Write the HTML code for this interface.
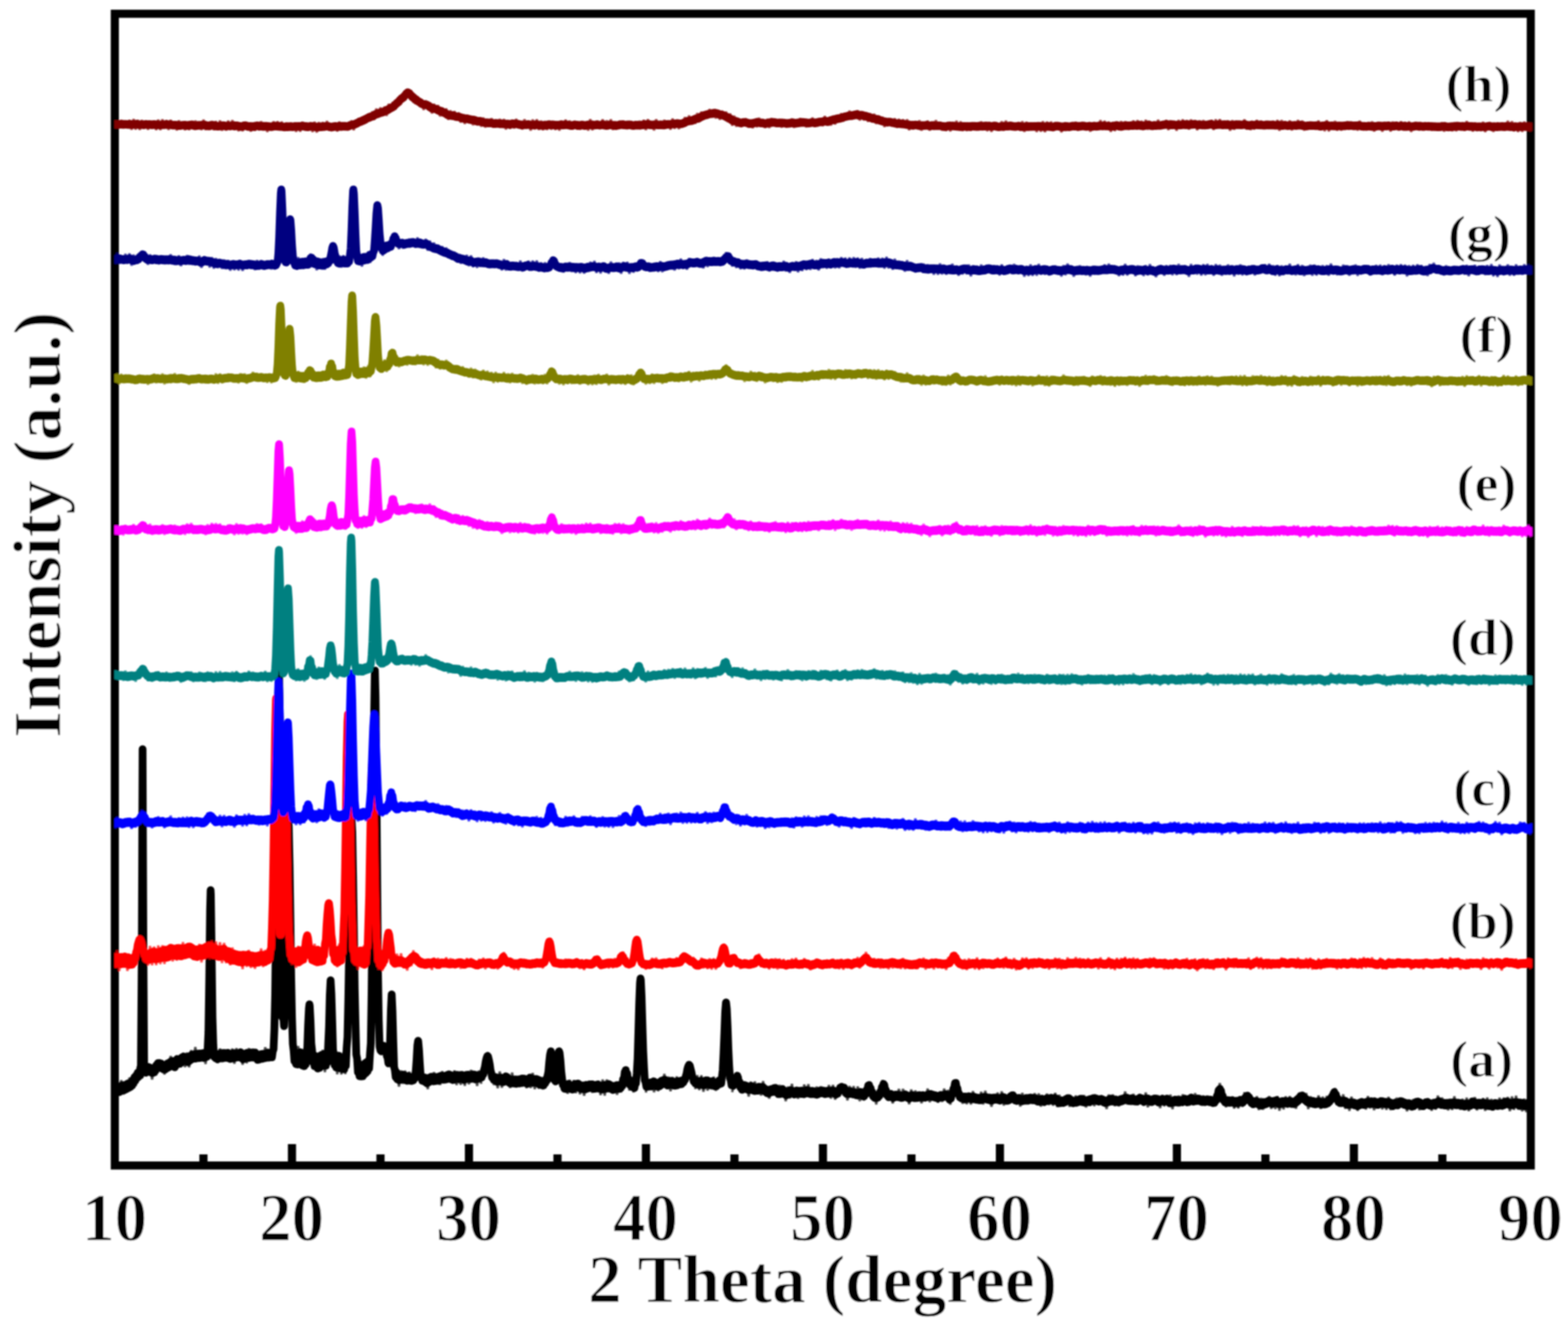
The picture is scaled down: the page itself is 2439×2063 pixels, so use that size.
<!DOCTYPE html>
<html lang="en"><head><meta charset="utf-8"><title>XRD patterns</title>
<style>html,body{margin:0;padding:0;background:#fff}svg{display:block}.fz{stroke-width:3.8;stroke-opacity:.7;stroke-linejoin:bevel}text{font-family:"Liberation Serif",serif;font-weight:bold;fill:#000;stroke:#fff;stroke-width:1.3px;paint-order:fill stroke}</style></head><body>
<svg width="2439" height="2063" viewBox="0 0 2439 2063">
<rect x="0" y="0" width="2439" height="2063" fill="#fff"/>
<filter id="soft" x="0" y="0" width="2439" height="2063" filterUnits="userSpaceOnUse"><feGaussianBlur stdDeviation="0.85"/></filter>
<g filter="url(#soft)">
<rect x="178.6" y="21.4" width="2202.5" height="1791.9" fill="none" stroke="#000" stroke-width="12.6"/>
<g fill="#000"><rect x="310.1" y="1796" width="12.7" height="14"/><rect x="447.8" y="1780" width="12.7" height="30"/><rect x="585.5" y="1796" width="12.7" height="14"/><rect x="723.1" y="1780" width="12.7" height="30"/><rect x="860.8" y="1796" width="12.7" height="14"/><rect x="998.4" y="1780" width="12.7" height="30"/><rect x="1136.1" y="1796" width="12.7" height="14"/><rect x="1273.7" y="1780" width="12.7" height="30"/><rect x="1411.4" y="1796" width="12.7" height="14"/><rect x="1549.0" y="1780" width="12.7" height="30"/><rect x="1686.7" y="1796" width="12.7" height="14"/><rect x="1824.3" y="1780" width="12.7" height="30"/><rect x="1962.0" y="1796" width="12.7" height="14"/><rect x="2099.6" y="1780" width="12.7" height="30"/><rect x="2237.2" y="1796" width="12.7" height="14"/></g>
<clipPath id="plot"><rect x="178.0" y="0" width="2205.5" height="2063"/></clipPath>
<g clip-path="url(#plot)" fill="none" stroke-width="12.0" stroke-linejoin="round" stroke-linecap="butt">
<path d="M179.0,1701.2 182.2,1686.9 185.4,1702.6 188.6,1680.5 191.8,1703.0 195.0,1684.0 198.2,1699.3 201.4,1676.6 204.6,1692.9 207.8,1671.8 211.0,1689.8 214.2,1659.3 217.4,1680.5M227.0,1659.5 230.2,1672.4 233.4,1658.0 236.6,1679.5 239.8,1659.0 243.0,1673.1 246.2,1648.4 249.4,1667.2 252.6,1652.2 255.8,1671.6 259.0,1652.1 262.2,1666.1 265.4,1642.9 268.6,1660.9 271.8,1647.1 275.0,1657.9 278.2,1643.3 281.4,1660.5 284.6,1641.2 287.8,1660.3 291.0,1637.6 294.2,1660.4 297.4,1633.8 300.6,1652.0 303.8,1629.0 307.0,1650.5 310.2,1635.5 313.4,1650.1 316.6,1633.7 319.8,1655.4 323.0,1622.2M332.6,1646.4 335.8,1632.5 339.0,1654.1 342.2,1631.3 345.4,1652.8 348.6,1634.0 351.8,1651.2 355.0,1634.2 358.2,1652.7 361.4,1631.4 364.6,1655.0 367.8,1630.8 371.0,1649.6 374.2,1634.5 377.4,1656.6 380.6,1633.6 383.8,1654.2 387.0,1630.7 390.2,1649.5 393.4,1631.3 396.6,1647.7 399.8,1638.1 403.0,1651.6 406.2,1634.4 409.4,1650.6 412.6,1629.3 415.8,1648.6 419.0,1634.7 422.2,1648.8 425.4,1620.2M457.4,1634.7 460.6,1659.1 463.8,1627.4 467.0,1661.6 470.2,1635.3 473.4,1661.0M489.4,1638.4 492.6,1664.0 495.8,1638.0 499.0,1666.0 502.2,1633.3 505.4,1668.2 508.6,1632.2M521.4,1637.2 524.6,1671.2 527.8,1637.7 531.0,1671.5 534.2,1637.0 537.4,1671.2M556.6,1675.6 559.8,1649.7 563.0,1679.9 566.2,1651.0 569.4,1672.7 572.6,1643.3 575.8,1654.3M614.2,1682.3 617.4,1663.9 620.6,1690.5 623.8,1665.4 627.0,1686.3 630.2,1665.7 633.4,1686.1 636.6,1667.2 639.8,1686.9 643.0,1665.4M655.8,1665.8 659.0,1686.7 662.2,1675.6 665.4,1694.5 668.6,1674.0 671.8,1686.3 675.0,1668.0 678.2,1684.8 681.4,1672.7 684.6,1687.9 687.8,1666.5 691.0,1682.8 694.2,1670.5 697.4,1682.3 700.6,1669.8 703.8,1685.4 707.0,1665.4 710.2,1688.1 713.4,1667.7 716.6,1687.6 719.8,1670.1 723.0,1689.1 726.2,1669.9 729.4,1686.9 732.6,1664.5 735.8,1681.7 739.0,1668.8 742.2,1689.5 745.4,1665.4 748.6,1686.2M767.8,1688.4 771.0,1670.8 774.2,1693.0 777.4,1667.0 780.6,1692.3 783.8,1673.3 787.0,1688.2 790.2,1670.4 793.4,1692.8 796.6,1668.7 799.8,1691.0 803.0,1675.2 806.2,1690.3 809.4,1677.2 812.6,1690.7 815.8,1675.9 819.0,1692.9 822.2,1674.0 825.4,1692.8 828.6,1669.3 831.8,1694.4 835.0,1676.4 838.2,1693.9 841.4,1675.2 844.6,1695.0 847.8,1671.7M876.6,1699.4 879.8,1681.6 883.0,1701.6 886.2,1680.0 889.4,1698.2 892.6,1680.3 895.8,1700.6 899.0,1682.5 902.2,1702.4 905.4,1684.3 908.6,1704.7 911.8,1684.9 915.0,1695.8 918.2,1682.8 921.4,1700.1 924.6,1684.9 927.8,1698.1 931.0,1681.3 934.2,1703.8 937.4,1679.6 940.6,1704.6 943.8,1679.6 947.0,1699.2 950.2,1682.9 953.4,1700.8 956.6,1685.9 959.8,1703.2 963.0,1684.0 966.2,1699.6 969.4,1673.5 972.6,1680.4 975.8,1664.8 979.0,1696.6 982.2,1675.3 985.4,1699.6 988.6,1675.1M1004.6,1699.9 1007.8,1679.4 1011.0,1692.8 1014.2,1678.6 1017.4,1699.3 1020.6,1678.5 1023.8,1697.6 1027.0,1679.2 1030.2,1690.7 1033.4,1670.8 1036.6,1690.1 1039.8,1675.1 1043.0,1697.8 1046.2,1675.7 1049.4,1693.2 1052.6,1674.9 1055.8,1689.8 1059.0,1678.7 1062.2,1692.2M1081.4,1694.5 1084.6,1672.7 1087.8,1695.9 1091.0,1672.9 1094.2,1698.5 1097.4,1678.7 1100.6,1696.7 1103.8,1679.9 1107.0,1694.9 1110.2,1675.1 1113.4,1697.1 1116.6,1675.8 1119.8,1689.8M1139.0,1699.2 1142.2,1677.2 1145.4,1683.0 1148.6,1672.9 1151.8,1698.9 1155.0,1685.4 1158.2,1697.8 1161.4,1684.1 1164.6,1706.1 1167.8,1682.8 1171.0,1700.4 1174.2,1682.5 1177.4,1701.9 1180.6,1685.0 1183.8,1704.4 1187.0,1682.1 1190.2,1702.8 1193.4,1692.5 1196.6,1709.2 1199.8,1691.3 1203.0,1704.3 1206.2,1686.9 1209.4,1707.2 1212.6,1687.9 1215.8,1707.3 1219.0,1692.5 1222.2,1713.3 1225.4,1690.5 1228.6,1708.9 1231.8,1686.2 1235.0,1708.3 1238.2,1692.9 1241.4,1709.4 1244.6,1692.8 1247.8,1707.4 1251.0,1687.3 1254.2,1704.2 1257.4,1686.8 1260.6,1706.4 1263.8,1691.6 1267.0,1705.5 1270.2,1690.6 1273.4,1707.8 1276.6,1690.1 1279.8,1706.5 1283.0,1693.7 1286.2,1707.3 1289.4,1688.0 1292.6,1709.1 1295.8,1687.9 1299.0,1710.8 1302.2,1694.9 1305.4,1705.2 1308.6,1688.5 1311.8,1704.3 1315.0,1690.9 1318.2,1712.0 1321.4,1689.5 1324.6,1705.6 1327.8,1689.8 1331.0,1709.7 1334.2,1690.2 1337.4,1713.2 1340.6,1693.5 1343.8,1712.1 1347.0,1690.4 1350.2,1700.3 1353.4,1683.6 1356.6,1711.1 1359.8,1696.0 1363.0,1718.2 1366.2,1695.6 1369.4,1704.9 1372.6,1680.3 1375.8,1698.2 1379.0,1689.8 1382.2,1712.8 1385.4,1696.5 1388.6,1716.7 1391.8,1698.0 1395.0,1710.6 1398.2,1694.2 1401.4,1712.6 1404.6,1694.0 1407.8,1710.0 1411.0,1701.3 1414.2,1717.9 1417.4,1695.0 1420.6,1712.5 1423.8,1696.6 1427.0,1711.3 1430.2,1698.2 1433.4,1716.5 1436.6,1700.1 1439.8,1711.2 1443.0,1693.7 1446.2,1714.8 1449.4,1697.8 1452.6,1710.6 1455.8,1699.6 1459.0,1715.7 1462.2,1699.0 1465.4,1714.3 1468.6,1693.7 1471.8,1711.5 1475.0,1695.7 1478.2,1718.6 1481.4,1692.9 1484.6,1696.1 1487.8,1679.6 1491.0,1711.9 1494.2,1700.9 1497.4,1717.2 1500.6,1700.7 1503.8,1717.9 1507.0,1702.3 1510.2,1718.1 1513.4,1697.6 1516.6,1714.7 1519.8,1704.4 1523.0,1716.9 1526.2,1698.5 1529.4,1718.2 1532.6,1697.1 1535.8,1714.9 1539.0,1702.4 1542.2,1721.8 1545.4,1704.1 1548.6,1716.1 1551.8,1699.8 1555.0,1716.7 1558.2,1697.9 1561.4,1719.9 1564.6,1705.7 1567.8,1716.7 1571.0,1700.5 1574.2,1715.6 1577.4,1701.3 1580.6,1717.8 1583.8,1704.4 1587.0,1721.4 1590.2,1700.4 1593.4,1716.3 1596.6,1702.7 1599.8,1716.0 1603.0,1702.8 1606.2,1717.1 1609.4,1700.8 1612.6,1716.2 1615.8,1701.2 1619.0,1721.5 1622.2,1707.3 1625.4,1716.7 1628.6,1701.5 1631.8,1719.1 1635.0,1702.2 1638.2,1720.2 1641.4,1700.3 1644.6,1722.3 1647.8,1703.3 1651.0,1721.3 1654.2,1706.5 1657.4,1718.2 1660.6,1706.0 1663.8,1721.8 1667.0,1707.1 1670.2,1721.4 1673.4,1704.3 1676.6,1719.4 1679.8,1705.1 1683.0,1720.3 1686.2,1703.8 1689.4,1722.9 1692.6,1705.5 1695.8,1720.7 1699.0,1706.4 1702.2,1720.8 1705.4,1704.3 1708.6,1716.6 1711.8,1704.6 1715.0,1717.7 1718.2,1708.1 1721.4,1725.3 1724.6,1702.9 1727.8,1719.1 1731.0,1702.8 1734.2,1720.9 1737.4,1706.5 1740.6,1721.1 1743.8,1705.2 1747.0,1715.5 1750.2,1698.2 1753.4,1718.3 1756.6,1705.2 1759.8,1719.0 1763.0,1701.9 1766.2,1718.1 1769.4,1704.4 1772.6,1714.9 1775.8,1704.0 1779.0,1720.1 1782.2,1699.7 1785.4,1722.7 1788.6,1705.6 1791.8,1719.2 1795.0,1706.4 1798.2,1715.1 1801.4,1704.0 1804.6,1723.9 1807.8,1703.6 1811.0,1721.2 1814.2,1703.8 1817.4,1718.2 1820.6,1703.1 1823.8,1725.6 1827.0,1705.9 1830.2,1719.3 1833.4,1704.6 1836.6,1719.3 1839.8,1702.6 1843.0,1717.2 1846.2,1706.3 1849.4,1718.2 1852.6,1704.2 1855.8,1719.7 1859.0,1700.8 1862.2,1717.9 1865.4,1706.4 1868.6,1717.4 1871.8,1704.3 1875.0,1718.9 1878.2,1706.5 1881.4,1718.0 1884.6,1707.2 1887.8,1719.6 1891.0,1700.2 1894.2,1707.2 1897.4,1685.0 1900.6,1712.7 1903.8,1705.6 1907.0,1722.6 1910.2,1706.8 1913.4,1720.9 1916.6,1706.3 1919.8,1724.6 1923.0,1708.9 1926.2,1724.3 1929.4,1707.4 1932.6,1722.0 1935.8,1699.3 1939.0,1715.3 1942.2,1703.2 1945.4,1719.3 1948.6,1707.2 1951.8,1720.6 1955.0,1705.6 1958.2,1726.9 1961.4,1708.0 1964.6,1726.4 1967.8,1711.9 1971.0,1722.4 1974.2,1705.4 1977.4,1725.2 1980.6,1709.2 1983.8,1725.4 1987.0,1705.2 1990.2,1727.9 1993.4,1707.6 1996.6,1725.9 1999.8,1705.7 2003.0,1723.2 2006.2,1705.4 2009.4,1721.7 2012.6,1708.4 2015.8,1724.9 2019.0,1705.6 2022.2,1716.2 2025.4,1700.8 2028.6,1716.2 2031.8,1700.6 2035.0,1725.5 2038.2,1705.7 2041.4,1720.4 2044.6,1708.0 2047.8,1720.6 2051.0,1704.3 2054.2,1725.3 2057.4,1706.2 2060.6,1723.1 2063.8,1705.2 2067.0,1718.3 2070.2,1705.4 2073.4,1713.6 2076.6,1692.8 2079.8,1719.4 2083.0,1704.5 2086.2,1720.7 2089.4,1702.7 2092.6,1725.1 2095.8,1709.6 2099.0,1728.1 2102.2,1706.4 2105.4,1721.9 2108.6,1712.3 2111.8,1728.1 2115.0,1710.6 2118.2,1724.4 2121.4,1709.9 2124.6,1726.2 2127.8,1705.3 2131.0,1724.5 2134.2,1708.2 2137.4,1727.1 2140.6,1710.7 2143.8,1722.7 2147.0,1710.3 2150.2,1725.9 2153.4,1710.7 2156.6,1726.7 2159.8,1706.6 2163.0,1727.0 2166.2,1711.8 2169.4,1724.4 2172.6,1707.8 2175.8,1723.0 2179.0,1707.6 2182.2,1722.5 2185.4,1710.5 2188.6,1728.9 2191.8,1710.6 2195.0,1727.4 2198.2,1710.1 2201.4,1722.1 2204.6,1709.2 2207.8,1727.2 2211.0,1711.0 2214.2,1725.0 2217.4,1712.3 2220.6,1724.1 2223.8,1712.9 2227.0,1728.0 2230.2,1709.9 2233.4,1726.3 2236.6,1704.5 2239.8,1721.9 2243.0,1707.6 2246.2,1725.3 2249.4,1713.4 2252.6,1727.3 2255.8,1710.5 2259.0,1726.8 2262.2,1705.7 2265.4,1722.1 2268.6,1712.8 2271.8,1726.6 2275.0,1709.7 2278.2,1727.3 2281.4,1707.8 2284.6,1728.7 2287.8,1708.7 2291.0,1722.8 2294.2,1707.0 2297.4,1727.4 2300.6,1712.1 2303.8,1723.4 2307.0,1708.3 2310.2,1728.1 2313.4,1707.6 2316.6,1725.0 2319.8,1709.9 2323.0,1727.1 2326.2,1711.1 2329.4,1726.0 2332.6,1707.8 2335.8,1726.0 2339.0,1707.8 2342.2,1720.1 2345.4,1706.8 2348.6,1728.8 2351.8,1705.9 2355.0,1726.7 2358.2,1704.8 2361.4,1726.1 2364.6,1709.4 2367.8,1728.9 2371.0,1709.3 2374.2,1730.3 2377.4,1708.2 2380.6,1728.0" stroke="#000000" class="fz"/>
<polyline points="178.0,1695.0 179.2,1691.1 180.5,1698.7 181.8,1691.3 183.0,1698.9 184.2,1692.3 185.5,1699.2 186.8,1691.5 188.0,1697.5 189.2,1688.8 190.5,1695.8 191.8,1688.3 193.0,1696.2 194.2,1689.1 195.5,1695.2 196.8,1686.8 198.0,1693.6 199.2,1685.6 200.5,1692.4 201.8,1685.1 203.0,1691.1 204.2,1684.0 205.5,1688.9 206.8,1679.9 208.0,1684.8 209.2,1675.7 210.5,1681.2 211.8,1672.9 213.0,1677.3 214.2,1668.8 215.5,1675.3 216.8,1666.6 218.0,1673.2 219.2,1656.4 220.5,1492.6 221.8,1166.4 221.8,1165.6 223.0,1459.6 224.2,1656.9 225.5,1662.6 226.8,1669.0 228.0,1661.3 229.2,1667.9 230.5,1660.0 231.8,1667.2 233.0,1660.9 234.2,1668.4 235.5,1662.6 236.8,1669.5 238.0,1662.7 239.2,1668.9 240.5,1661.0 241.8,1666.0 243.0,1657.2 244.2,1662.1 245.5,1654.1 246.8,1660.3 248.0,1653.8 249.2,1661.0 250.5,1654.6 251.8,1662.3 253.0,1656.5 254.2,1663.8 255.5,1657.5 256.8,1664.1 258.0,1656.5 259.2,1662.3 260.5,1654.4 261.8,1661.0 263.0,1653.3 264.2,1659.8 265.5,1651.6 266.8,1658.1 268.0,1650.6 269.2,1658.6 270.5,1652.9 271.8,1660.5 273.0,1652.9 274.2,1657.2 275.5,1647.6 276.8,1654.1 278.0,1647.8 279.2,1655.1 280.5,1648.0 281.8,1653.7 283.0,1645.0 284.2,1651.3 285.5,1643.6 286.8,1650.8 288.0,1644.5 289.2,1651.2 290.5,1645.3 291.8,1652.6 293.0,1644.0 294.2,1650.9 295.5,1643.2 296.8,1649.2 298.0,1641.1 299.2,1647.6 300.5,1640.4 301.8,1646.7 303.0,1640.0 304.2,1647.0 305.5,1639.6 306.8,1646.3 308.0,1639.2 309.2,1646.2 310.5,1639.1 311.8,1645.9 313.0,1639.1 314.2,1645.4 315.5,1638.5 316.8,1646.0 318.0,1638.0 319.2,1645.3 320.5,1638.4 321.8,1644.1 323.0,1631.7 324.2,1606.1 325.5,1520.5 326.8,1415.0 327.6,1384.8 328.0,1391.8 329.2,1480.2 330.5,1582.4 331.8,1626.2 333.0,1644.3 334.2,1639.8 335.5,1646.6 336.8,1639.9 338.0,1647.9 339.2,1640.0 340.5,1647.2 341.8,1639.0 343.0,1645.6 344.2,1638.4 345.5,1645.7 346.8,1638.2 348.0,1646.2 349.2,1638.3 350.5,1645.6 351.8,1639.1 353.0,1645.9 354.2,1637.9 355.5,1645.5 356.8,1640.0 358.0,1647.6 359.2,1640.8 360.5,1646.5 361.8,1638.8 363.0,1646.7 364.2,1638.5 365.5,1645.7 366.8,1638.6 368.0,1645.4 369.2,1638.4 370.5,1645.1 371.8,1638.3 373.0,1644.3 374.2,1637.1 375.5,1646.2 376.8,1639.5 378.0,1648.1 379.2,1640.6 380.5,1647.3 381.8,1639.5 383.0,1646.2 384.2,1638.1 385.5,1646.1 386.8,1638.2 388.0,1645.9 389.2,1637.5 390.5,1645.1 391.8,1638.2 393.0,1645.5 394.2,1638.8 395.5,1644.7 396.8,1637.5 398.0,1645.5 399.2,1640.7 400.5,1649.1 401.8,1643.0 403.0,1648.6 404.2,1640.4 405.5,1647.2 406.8,1639.9 408.0,1647.4 409.2,1639.6 410.5,1646.5 411.8,1639.5 413.0,1646.2 414.2,1638.7 415.5,1645.4 416.8,1637.6 418.0,1645.6 419.2,1638.7 420.5,1645.1 421.8,1638.6 423.0,1645.1 424.2,1636.0 425.5,1632.2 426.8,1601.1 428.0,1548.0 429.2,1446.7 430.5,1312.1 431.8,1166.7 433.0,1066.2 433.8,1046.0 434.2,1052.6 435.5,1132.3 436.8,1270.8 438.0,1411.6 439.2,1522.2 440.5,1578.6 441.8,1596.6 443.0,1565.7 444.2,1505.4 445.5,1416.9 446.8,1332.3 448.0,1280.9 448.5,1276.0 449.2,1287.1 450.5,1348.4 451.8,1436.4 453.0,1523.9 454.2,1582.8 455.5,1624.1 456.8,1634.7 458.0,1651.0 459.2,1642.7 460.5,1655.7 461.8,1639.5 463.0,1656.2 464.2,1638.7 465.5,1655.3 466.8,1637.0 468.0,1655.0 469.2,1639.8 470.5,1657.9 471.8,1640.0 473.0,1658.8 474.2,1640.9 475.5,1655.8 476.8,1636.5 478.0,1630.5 479.2,1596.2 480.5,1569.3 481.3,1562.5 481.8,1564.8 483.0,1588.0 484.2,1623.3 485.5,1634.7 486.8,1652.7 488.0,1641.4 489.2,1658.9 490.5,1644.0 491.8,1659.8 493.0,1643.8 494.2,1662.5 495.5,1644.7 496.8,1661.5 498.0,1642.6 499.2,1658.3 500.5,1641.1 501.8,1658.2 503.0,1640.3 504.2,1658.5 505.5,1641.6 506.8,1658.1 508.0,1642.6 509.2,1652.8 510.5,1626.0 511.8,1597.1 513.0,1548.2 514.2,1525.0 514.3,1525.0 515.5,1546.3 516.8,1589.6 518.0,1633.0 519.2,1640.2 520.5,1657.3 521.8,1643.7 523.0,1661.0 524.2,1642.3 525.5,1661.1 526.8,1642.5 528.0,1662.1 529.2,1644.7 530.5,1660.2 531.8,1645.9 533.0,1663.5 534.2,1648.0 535.5,1663.4 536.8,1647.2 538.0,1658.0 539.2,1630.6 540.5,1613.2 541.8,1554.6 543.0,1484.5 544.2,1392.0 545.5,1315.5 546.8,1277.0 547.0,1276.0 548.0,1294.7 549.2,1362.2 550.5,1449.3 551.8,1538.2 553.0,1592.3 554.2,1640.6 555.5,1647.2 556.8,1668.6 558.0,1656.5 559.2,1674.4 560.5,1656.6 561.8,1674.7 563.0,1656.8 564.2,1674.5 565.5,1656.0 566.8,1671.4 568.0,1653.9 569.2,1669.2 570.5,1652.3 571.8,1666.6 573.0,1650.2 574.2,1662.1 575.5,1639.8 576.8,1623.0 578.0,1546.2 579.2,1435.0 580.5,1271.0 581.8,1121.1 583.0,1044.8 583.2,1043.2 584.2,1084.4 585.5,1219.2 586.8,1378.3 588.0,1515.6 589.2,1587.7 590.5,1628.4 591.8,1634.1 593.0,1635.7 594.2,1630.6 595.5,1628.3 596.8,1627.0 597.0,1627.0 598.0,1628.0 599.2,1631.5 600.5,1635.1 601.8,1643.2 603.0,1646.0 604.2,1654.5 605.5,1643.4 606.8,1620.9 608.0,1572.1 609.2,1547.0 609.3,1547.0 610.5,1573.3 611.8,1621.1 613.0,1659.9 614.2,1664.6 615.5,1676.0 616.8,1668.5 618.0,1679.2 619.2,1672.7 620.5,1680.7 621.8,1674.3 623.0,1680.2 624.2,1672.9 625.5,1679.4 626.8,1672.0 628.0,1679.0 629.2,1672.9 630.5,1680.4 631.8,1674.7 633.0,1681.6 634.2,1674.2 635.5,1681.3 636.8,1675.0 638.0,1681.4 639.2,1676.0 640.5,1681.7 641.8,1675.6 643.0,1680.9 644.2,1675.1 645.5,1677.8 646.8,1665.4 648.0,1649.0 649.2,1626.7 650.3,1619.3 650.5,1619.6 651.8,1633.6 653.0,1654.1 654.2,1671.9 655.5,1673.9 656.8,1681.5 658.0,1676.0 659.2,1682.4 660.5,1676.3 661.8,1683.8 663.0,1678.5 664.2,1685.5 665.5,1678.6 666.8,1684.0 668.0,1676.4 669.2,1681.8 670.5,1675.2 671.8,1681.6 673.0,1675.4 674.2,1682.4 675.5,1675.5 676.8,1682.1 678.0,1675.6 679.2,1681.6 680.5,1675.8 681.8,1681.4 683.0,1674.8 684.2,1680.3 685.5,1673.7 686.8,1679.3 688.0,1673.4 689.2,1679.9 690.5,1673.9 691.8,1679.8 693.0,1674.0 694.2,1679.3 695.5,1672.4 696.8,1678.3 698.0,1671.4 699.2,1678.6 700.5,1672.4 701.8,1679.4 703.0,1673.8 704.2,1680.4 705.5,1674.0 706.8,1679.8 708.0,1672.3 709.2,1678.1 710.5,1672.2 711.8,1678.6 713.0,1673.3 714.2,1679.2 715.5,1672.6 716.8,1678.5 718.0,1672.2 719.2,1678.5 720.5,1673.2 721.8,1680.2 723.0,1673.5 724.2,1679.2 725.5,1672.3 726.8,1678.4 728.0,1671.9 729.2,1678.1 730.5,1672.4 731.8,1678.7 733.0,1672.6 734.2,1678.4 735.5,1671.6 736.8,1677.8 738.0,1671.8 739.2,1679.4 740.5,1672.6 741.8,1678.8 743.0,1672.6 744.2,1678.4 745.5,1672.5 746.8,1677.5 748.0,1672.4 749.2,1676.4 750.5,1670.7 751.8,1671.5 753.0,1664.3 754.2,1660.1 755.5,1651.9 756.8,1646.3 758.0,1643.0 758.4,1642.8 759.2,1643.9 760.5,1649.1 761.8,1655.9 763.0,1665.1 764.2,1669.3 765.5,1676.7 766.8,1675.2 768.0,1680.2 769.2,1675.4 770.5,1681.0 771.8,1676.1 773.0,1683.2 774.2,1677.1 775.5,1682.7 776.8,1676.4 778.0,1681.5 779.2,1676.4 780.5,1683.4 781.8,1677.8 783.0,1683.6 784.2,1676.4 785.5,1681.1 786.8,1674.6 788.0,1681.7 789.2,1676.0 790.5,1683.4 791.8,1678.9 793.0,1685.3 794.2,1679.3 795.5,1685.7 796.8,1679.2 798.0,1685.6 799.2,1679.9 800.5,1685.7 801.8,1679.3 803.0,1686.3 804.2,1679.7 805.5,1685.3 806.8,1679.2 808.0,1685.7 809.2,1679.4 810.5,1684.8 811.8,1677.9 813.0,1683.2 814.2,1678.0 815.5,1684.3 816.8,1678.5 818.0,1685.4 819.2,1680.0 820.5,1686.2 821.8,1678.8 823.0,1682.9 824.2,1676.4 825.5,1682.3 826.8,1677.5 828.0,1684.8 829.2,1678.7 830.5,1684.6 831.8,1678.7 833.0,1684.8 834.2,1678.7 835.5,1684.5 836.8,1679.5 838.0,1687.0 839.2,1681.4 840.5,1687.6 841.8,1682.1 843.0,1688.5 844.2,1682.9 845.5,1688.6 846.8,1681.3 848.0,1685.5 849.2,1678.9 850.5,1681.7 851.8,1673.8 853.0,1667.8 854.2,1653.4 855.5,1641.3 856.8,1635.6 856.8,1635.6 858.0,1640.9 859.2,1654.7 860.5,1667.3 861.8,1679.9 863.0,1680.5 864.2,1682.6 865.5,1672.2 866.8,1661.0 868.0,1645.3 869.2,1636.3 869.7,1635.6 870.5,1638.3 871.8,1650.1 873.0,1666.9 874.2,1677.3 875.5,1688.0 876.8,1687.8 878.0,1693.7 879.2,1689.0 880.5,1694.3 881.8,1688.2 883.0,1693.3 884.2,1686.2 885.5,1692.8 886.8,1688.2 888.0,1694.6 889.2,1689.3 890.5,1695.2 891.8,1688.0 893.0,1692.7 894.2,1686.8 895.5,1692.5 896.8,1686.3 898.0,1691.4 899.2,1685.8 900.5,1692.2 901.8,1687.5 903.0,1694.1 904.2,1688.6 905.5,1694.4 906.8,1688.8 908.0,1694.7 909.2,1688.4 910.5,1694.8 911.8,1687.8 913.0,1693.9 914.2,1687.8 915.5,1693.1 916.8,1687.0 918.0,1692.8 919.2,1687.0 920.5,1692.6 921.8,1687.0 923.0,1693.9 924.2,1688.0 925.5,1693.9 926.8,1688.2 928.0,1693.6 929.2,1687.2 930.5,1693.5 931.8,1688.3 933.0,1694.0 934.2,1688.7 935.5,1695.0 936.8,1688.7 938.0,1694.9 939.2,1688.0 940.5,1694.4 941.8,1687.8 943.0,1693.8 944.2,1687.7 945.5,1692.6 946.8,1686.5 948.0,1692.5 949.2,1687.7 950.5,1694.3 951.8,1689.6 953.0,1695.8 954.2,1689.4 955.5,1695.2 956.8,1689.2 958.0,1694.2 959.2,1688.2 960.5,1694.0 961.8,1688.2 963.0,1694.2 964.2,1687.7 965.5,1692.9 966.8,1686.4 968.0,1689.5 969.2,1678.9 970.5,1679.0 971.8,1667.7 973.0,1670.8 973.3,1664.8 974.2,1672.4 975.5,1669.6 976.8,1680.7 978.0,1678.6 979.2,1687.4 980.5,1683.4 981.8,1689.8 983.0,1684.5 984.2,1691.5 985.5,1687.2 986.8,1692.8 988.0,1686.5 989.2,1685.7 990.5,1669.7 991.8,1646.8 993.0,1605.7 994.2,1562.1 995.5,1529.0 996.3,1522.3 996.8,1524.4 998.0,1550.2 999.2,1592.0 1000.5,1634.8 1001.8,1661.5 1003.0,1681.0 1004.2,1683.5 1005.5,1691.1 1006.8,1686.3 1008.0,1690.8 1009.2,1684.7 1010.5,1690.5 1011.8,1684.1 1013.0,1690.4 1014.2,1683.8 1015.5,1689.0 1016.8,1682.3 1018.0,1688.9 1019.2,1684.2 1020.5,1690.2 1021.8,1684.9 1023.0,1690.3 1024.2,1684.4 1025.5,1690.1 1026.8,1683.0 1028.0,1688.6 1029.2,1681.2 1030.5,1686.5 1031.8,1680.2 1033.0,1685.6 1034.2,1679.8 1035.5,1686.9 1036.8,1682.3 1038.0,1688.9 1039.2,1682.9 1040.5,1688.6 1041.8,1682.1 1043.0,1687.5 1044.2,1681.6 1045.5,1687.8 1046.8,1682.3 1048.0,1689.1 1049.2,1682.9 1050.5,1689.2 1051.8,1683.4 1053.0,1688.7 1054.2,1682.0 1055.5,1687.0 1056.8,1681.9 1058.0,1687.1 1059.2,1681.3 1060.5,1686.4 1061.8,1681.0 1063.0,1684.3 1064.2,1679.0 1065.5,1680.1 1066.8,1674.2 1068.0,1670.3 1069.2,1663.4 1070.5,1658.9 1071.8,1656.6 1071.9,1656.6 1073.0,1657.9 1074.2,1662.7 1075.5,1667.9 1076.8,1674.9 1078.0,1677.2 1079.2,1683.0 1080.5,1680.8 1081.8,1685.9 1083.0,1681.1 1084.2,1687.3 1085.5,1681.9 1086.8,1688.0 1088.0,1682.5 1089.2,1687.7 1090.5,1681.3 1091.8,1687.1 1093.0,1682.1 1094.2,1688.8 1095.5,1683.4 1096.8,1688.0 1098.0,1680.7 1099.2,1685.7 1100.5,1680.7 1101.8,1687.5 1103.0,1682.6 1104.2,1688.4 1105.5,1682.4 1106.8,1687.5 1108.0,1681.9 1109.2,1688.7 1110.5,1683.3 1111.8,1690.1 1113.0,1684.1 1114.2,1690.0 1115.5,1683.4 1116.8,1688.0 1118.0,1681.5 1119.2,1686.8 1120.5,1681.9 1121.8,1685.7 1123.0,1675.6 1124.2,1664.9 1125.5,1637.7 1126.8,1606.1 1128.0,1574.3 1129.2,1559.8 1129.4,1559.6 1130.5,1569.4 1131.8,1597.6 1133.0,1632.7 1134.2,1657.9 1135.5,1677.3 1136.8,1681.2 1138.0,1688.7 1139.2,1684.1 1140.5,1689.4 1141.8,1683.0 1143.0,1686.0 1144.2,1676.9 1145.5,1679.8 1146.8,1673.6 1147.0,1680.1 1148.0,1676.3 1149.2,1685.5 1150.5,1683.4 1151.8,1692.4 1153.0,1689.0 1154.2,1695.6 1155.5,1688.9 1156.8,1694.3 1158.0,1688.1 1159.2,1693.4 1160.5,1689.1 1161.8,1694.9 1163.0,1690.1 1164.2,1696.1 1165.5,1690.8 1166.8,1695.7 1168.0,1689.5 1169.2,1695.8 1170.5,1690.0 1171.8,1696.9 1173.0,1691.9 1174.2,1697.5 1175.5,1692.1 1176.8,1697.1 1178.0,1691.7 1179.0,1697.0 1179.2,1691.1 1180.5,1696.3 1181.8,1691.1 1183.0,1696.3 1184.2,1690.9 1185.5,1696.3 1186.8,1691.0 1188.0,1697.2 1189.2,1693.3 1190.5,1698.9 1191.8,1694.8 1193.0,1700.7 1194.2,1695.8 1195.5,1701.4 1196.8,1695.4 1198.0,1699.7 1199.2,1694.4 1200.5,1699.2 1201.8,1693.8 1203.0,1698.6 1204.2,1692.8 1205.5,1697.4 1206.8,1692.7 1208.0,1699.5 1209.2,1695.6 1210.5,1702.2 1211.8,1697.6 1213.0,1702.3 1214.2,1695.4 1215.5,1700.0 1216.8,1694.2 1218.0,1699.8 1219.2,1696.1 1220.5,1702.4 1221.8,1698.5 1223.0,1704.2 1224.2,1698.7 1225.5,1702.9 1226.8,1697.3 1228.0,1702.3 1229.2,1696.1 1230.5,1701.1 1231.8,1696.5 1233.0,1701.5 1234.2,1697.8 1235.5,1702.7 1236.8,1697.6 1238.0,1702.3 1239.2,1696.6 1240.5,1701.3 1241.8,1697.1 1243.0,1701.7 1244.2,1697.2 1245.5,1701.9 1246.8,1696.8 1248.0,1701.9 1249.2,1697.3 1250.5,1702.4 1251.8,1697.1 1253.0,1701.4 1254.2,1695.9 1255.5,1700.6 1256.8,1696.2 1258.0,1701.4 1259.2,1697.0 1260.5,1702.2 1261.8,1697.3 1263.0,1702.3 1264.2,1697.6 1265.5,1702.1 1266.8,1697.7 1268.0,1702.6 1269.2,1698.5 1270.5,1703.3 1271.8,1698.4 1273.0,1702.2 1274.2,1696.9 1275.5,1700.9 1276.8,1696.7 1278.0,1701.1 1279.2,1696.6 1280.5,1701.1 1281.8,1697.0 1283.0,1702.3 1284.2,1697.8 1285.5,1701.5 1286.8,1696.9 1288.0,1701.0 1289.2,1696.7 1290.5,1701.7 1291.8,1697.1 1293.0,1700.5 1294.2,1696.2 1295.5,1700.6 1296.8,1696.8 1298.0,1701.9 1299.2,1698.7 1300.5,1703.0 1301.8,1698.5 1303.0,1701.7 1304.2,1695.9 1305.5,1698.0 1306.8,1692.1 1308.0,1695.2 1309.2,1690.7 1310.0,1695.8 1310.5,1691.8 1311.8,1696.1 1313.0,1692.1 1314.2,1697.7 1315.5,1696.0 1316.8,1701.9 1318.0,1698.6 1319.2,1702.5 1320.5,1697.8 1321.8,1702.0 1323.0,1697.5 1324.2,1701.8 1325.5,1698.5 1326.8,1702.7 1328.0,1698.7 1329.2,1703.1 1330.5,1699.4 1331.8,1703.5 1333.0,1700.2 1334.2,1704.4 1335.5,1700.0 1336.8,1703.4 1338.0,1698.8 1339.2,1703.4 1340.5,1700.0 1341.8,1705.5 1343.0,1701.8 1344.2,1705.7 1345.5,1700.5 1346.8,1702.4 1348.0,1695.3 1349.2,1696.2 1350.5,1688.7 1351.8,1691.8 1351.8,1687.9 1353.0,1693.3 1354.2,1692.8 1355.5,1700.2 1356.8,1698.8 1358.0,1705.7 1359.2,1702.8 1360.5,1708.2 1361.8,1704.2 1363.0,1708.5 1364.2,1703.8 1365.5,1707.8 1366.8,1702.3 1368.0,1705.0 1369.2,1698.4 1370.5,1699.5 1371.8,1691.1 1373.0,1691.7 1374.2,1686.3 1374.2,1690.1 1375.5,1687.8 1376.8,1695.5 1378.0,1695.9 1379.2,1703.6 1380.5,1701.8 1381.8,1706.8 1383.0,1701.8 1384.2,1705.4 1385.5,1701.7 1386.8,1707.2 1388.0,1704.2 1389.2,1708.5 1390.5,1703.7 1391.8,1707.3 1393.0,1703.1 1394.2,1706.8 1395.5,1703.0 1396.8,1706.9 1398.0,1703.3 1399.2,1707.5 1400.5,1703.8 1401.8,1708.2 1403.0,1704.8 1404.2,1707.9 1405.5,1703.7 1406.8,1706.6 1408.0,1702.5 1409.2,1706.6 1410.5,1703.7 1411.8,1708.2 1413.0,1704.8 1414.2,1709.4 1415.5,1705.1 1416.8,1707.7 1418.0,1703.4 1419.2,1707.3 1420.5,1704.1 1421.8,1708.4 1423.0,1704.5 1424.2,1708.6 1425.5,1704.8 1426.8,1708.3 1428.0,1703.9 1429.2,1707.7 1430.5,1703.9 1431.8,1707.8 1433.0,1704.3 1434.2,1707.8 1435.5,1703.8 1436.8,1707.7 1438.0,1704.4 1439.2,1707.9 1440.5,1704.0 1441.8,1706.9 1443.0,1702.9 1444.2,1706.1 1445.5,1702.0 1446.8,1706.0 1448.0,1702.1 1449.2,1706.7 1450.5,1703.0 1451.8,1707.0 1453.0,1703.6 1454.2,1707.6 1455.5,1704.1 1456.8,1708.4 1458.0,1704.7 1459.2,1708.9 1460.5,1704.7 1461.8,1707.7 1463.0,1703.6 1464.2,1707.4 1465.5,1703.5 1466.8,1707.4 1468.0,1703.4 1469.2,1706.5 1470.5,1702.3 1471.8,1706.2 1473.0,1702.8 1474.2,1707.7 1475.5,1705.6 1476.8,1710.8 1478.0,1706.8 1479.2,1709.1 1480.5,1702.3 1481.8,1702.3 1483.0,1693.8 1484.2,1692.5 1485.5,1685.0 1486.4,1688.1 1486.8,1684.7 1488.0,1691.7 1489.2,1693.0 1490.5,1701.7 1491.8,1701.6 1493.0,1707.3 1494.2,1704.7 1495.5,1709.0 1496.8,1705.9 1498.0,1709.8 1499.2,1706.1 1500.5,1710.5 1501.8,1706.1 1503.0,1709.9 1504.2,1705.9 1505.5,1709.5 1506.8,1705.4 1508.0,1709.3 1509.2,1705.9 1510.5,1710.2 1511.8,1706.6 1513.0,1710.2 1514.2,1705.8 1515.5,1709.7 1516.8,1706.7 1518.0,1710.9 1519.2,1707.6 1520.5,1711.3 1521.8,1707.8 1523.0,1711.7 1524.2,1708.3 1525.5,1711.8 1526.8,1707.1 1528.0,1710.9 1529.2,1706.8 1530.5,1710.2 1531.8,1706.3 1533.0,1710.0 1534.2,1706.8 1535.5,1711.0 1536.8,1707.6 1538.0,1711.5 1539.2,1707.6 1540.5,1712.3 1541.8,1708.3 1543.0,1712.4 1544.2,1707.7 1545.5,1711.2 1546.8,1707.5 1548.0,1710.9 1549.2,1707.5 1550.5,1711.0 1551.8,1707.9 1553.0,1711.6 1554.2,1708.4 1555.5,1712.4 1556.8,1707.9 1558.0,1710.7 1559.2,1706.4 1560.5,1710.1 1561.8,1707.1 1563.0,1711.7 1564.2,1708.6 1565.5,1712.8 1566.8,1708.8 1568.0,1712.5 1569.2,1708.4 1570.5,1711.2 1571.8,1705.6 1573.0,1708.4 1574.2,1704.1 1574.7,1708.0 1575.5,1704.0 1576.8,1708.9 1578.0,1706.6 1579.2,1712.1 1580.5,1708.8 1581.8,1712.9 1583.0,1708.5 1584.2,1711.9 1585.5,1708.1 1586.8,1712.7 1588.0,1709.0 1589.2,1713.6 1590.5,1709.8 1591.8,1712.9 1593.0,1709.2 1594.2,1712.5 1595.5,1708.6 1596.8,1712.4 1598.0,1708.7 1599.2,1712.6 1600.5,1708.1 1601.8,1711.3 1603.0,1707.5 1604.2,1711.4 1605.5,1707.9 1606.8,1711.8 1608.0,1708.1 1609.2,1712.0 1610.5,1708.4 1611.8,1712.7 1613.0,1709.6 1614.2,1713.9 1615.5,1710.3 1616.8,1714.2 1618.0,1709.7 1619.2,1712.9 1620.5,1709.2 1621.8,1713.4 1623.0,1710.6 1624.2,1714.8 1625.5,1710.5 1626.8,1713.0 1628.0,1708.7 1629.2,1712.9 1630.5,1708.8 1631.8,1712.4 1633.0,1708.4 1634.2,1712.0 1635.5,1708.2 1636.8,1712.8 1638.0,1709.4 1639.2,1712.8 1640.5,1708.1 1641.8,1711.8 1643.0,1708.9 1644.2,1713.8 1645.5,1711.5 1646.8,1716.5 1648.0,1712.5 1649.2,1716.2 1650.5,1711.7 1651.8,1715.4 1653.0,1712.2 1654.2,1716.1 1655.5,1711.6 1656.8,1714.9 1658.0,1709.9 1659.2,1712.6 1660.5,1708.6 1661.8,1711.9 1663.0,1708.6 1664.2,1712.8 1665.5,1710.7 1666.8,1715.6 1668.0,1712.3 1669.2,1716.4 1670.5,1712.4 1671.8,1715.5 1673.0,1712.1 1674.2,1715.8 1675.5,1711.9 1676.8,1715.0 1678.0,1710.7 1679.2,1714.1 1680.5,1709.4 1681.8,1712.9 1683.0,1709.5 1684.2,1714.3 1685.5,1711.1 1686.8,1715.6 1688.0,1711.6 1689.2,1715.1 1690.5,1711.6 1691.8,1714.7 1693.0,1711.1 1694.2,1714.7 1695.5,1710.1 1696.8,1713.9 1698.0,1709.6 1699.2,1713.1 1700.5,1708.5 1701.8,1712.4 1703.0,1708.3 1704.2,1712.3 1705.5,1709.1 1706.8,1713.3 1708.0,1709.9 1709.2,1714.1 1710.5,1710.2 1711.8,1713.2 1713.0,1709.5 1714.2,1713.6 1715.5,1710.5 1716.8,1715.2 1718.0,1711.9 1719.2,1716.2 1720.5,1712.3 1721.8,1715.7 1723.0,1711.4 1724.2,1714.8 1725.5,1709.9 1726.8,1713.3 1728.0,1709.3 1729.2,1713.7 1730.5,1709.8 1731.8,1713.7 1733.0,1710.5 1734.2,1714.4 1735.5,1710.4 1736.8,1714.4 1738.0,1711.2 1739.2,1715.0 1740.5,1711.3 1741.8,1714.3 1743.0,1710.0 1744.2,1713.8 1745.5,1709.3 1746.8,1712.9 1748.0,1708.9 1749.2,1711.6 1750.5,1707.4 1751.8,1711.6 1753.0,1707.7 1754.2,1712.2 1755.5,1709.3 1756.8,1713.0 1758.0,1709.0 1759.2,1712.5 1760.5,1708.6 1761.8,1713.0 1763.0,1709.3 1764.2,1713.6 1765.5,1710.2 1766.8,1713.8 1768.0,1710.5 1769.2,1713.9 1770.5,1709.3 1771.8,1712.1 1773.0,1707.6 1774.2,1711.4 1775.5,1708.5 1776.8,1712.9 1778.0,1710.1 1779.2,1714.4 1780.5,1709.8 1781.8,1712.8 1783.0,1708.7 1784.2,1712.4 1785.5,1708.9 1786.8,1713.6 1788.0,1710.5 1789.2,1714.4 1790.5,1711.0 1791.8,1714.7 1793.0,1709.9 1794.2,1713.0 1795.5,1709.1 1796.8,1712.3 1798.0,1709.1 1799.2,1713.2 1800.5,1710.0 1801.8,1715.2 1803.0,1711.7 1804.2,1714.9 1805.5,1710.4 1806.8,1713.8 1808.0,1709.4 1809.2,1713.9 1810.5,1710.0 1811.8,1714.1 1813.0,1710.1 1814.2,1713.3 1815.5,1709.3 1816.8,1713.9 1818.0,1711.0 1819.2,1716.4 1820.5,1713.1 1821.8,1716.4 1823.0,1712.7 1824.2,1715.5 1825.5,1711.7 1826.8,1715.3 1828.0,1710.8 1829.2,1714.2 1830.5,1711.0 1831.8,1715.6 1833.0,1712.0 1834.2,1715.6 1835.5,1711.2 1836.8,1714.6 1838.0,1711.2 1839.2,1715.0 1840.5,1711.2 1841.8,1713.7 1843.0,1709.3 1844.2,1712.6 1845.5,1710.0 1846.8,1715.0 1848.0,1711.0 1849.2,1714.5 1850.5,1709.0 1851.8,1711.8 1853.0,1707.6 1854.2,1712.0 1855.5,1709.1 1856.8,1713.7 1858.0,1709.9 1859.2,1713.3 1860.5,1709.6 1861.8,1713.0 1863.0,1708.9 1864.2,1712.8 1865.5,1709.3 1866.8,1713.3 1868.0,1710.4 1869.2,1714.5 1870.5,1711.0 1871.8,1714.5 1873.0,1710.9 1874.2,1714.7 1875.5,1710.7 1876.8,1714.1 1878.0,1710.3 1879.2,1713.9 1880.5,1710.8 1881.8,1714.8 1883.0,1710.7 1884.2,1715.2 1885.5,1711.6 1886.8,1716.3 1888.0,1712.7 1889.2,1715.8 1890.5,1711.0 1891.8,1712.1 1893.0,1704.6 1894.2,1703.9 1895.5,1696.2 1896.8,1698.1 1897.4,1694.0 1898.0,1698.2 1899.2,1696.8 1900.5,1704.5 1901.8,1704.8 1903.0,1711.9 1904.2,1710.1 1905.5,1715.1 1906.8,1712.0 1908.0,1715.5 1909.2,1711.6 1910.5,1715.7 1911.8,1711.8 1913.0,1715.8 1914.2,1711.9 1915.5,1715.5 1916.8,1711.5 1918.0,1715.5 1919.2,1712.6 1920.5,1716.7 1921.8,1712.8 1923.0,1716.4 1924.2,1712.6 1925.5,1716.8 1926.8,1712.7 1928.0,1715.6 1929.2,1711.0 1930.5,1715.2 1931.8,1711.7 1933.0,1715.7 1934.2,1710.9 1935.5,1713.2 1936.8,1707.5 1938.0,1710.0 1939.2,1705.2 1939.7,1708.1 1940.5,1704.5 1941.8,1709.0 1943.0,1706.9 1944.2,1712.9 1945.5,1711.1 1946.8,1716.5 1948.0,1713.5 1949.2,1718.1 1950.5,1714.1 1951.8,1716.7 1953.0,1712.9 1954.2,1716.3 1955.5,1713.2 1956.8,1718.2 1958.0,1714.9 1959.2,1719.5 1960.5,1716.3 1961.8,1720.2 1963.0,1715.7 1964.2,1718.7 1965.5,1714.4 1966.8,1718.8 1968.0,1714.9 1969.2,1717.9 1970.5,1713.8 1971.8,1716.5 1973.0,1712.5 1974.2,1716.1 1975.5,1712.4 1976.8,1716.6 1978.0,1712.9 1979.2,1717.6 1980.5,1713.3 1981.8,1716.7 1983.0,1712.2 1984.2,1715.7 1985.5,1711.5 1986.8,1716.3 1988.0,1713.5 1989.2,1718.0 1990.5,1714.5 1991.8,1717.9 1993.0,1713.9 1994.2,1717.5 1995.5,1713.0 1996.8,1716.8 1998.0,1713.1 1999.2,1716.6 2000.5,1713.1 2001.8,1717.2 2003.0,1713.2 2004.2,1716.9 2005.5,1712.8 2006.8,1716.7 2008.0,1712.9 2009.2,1717.5 2010.5,1713.9 2011.8,1717.7 2013.0,1714.0 2014.2,1717.1 2015.5,1712.3 2016.8,1715.3 2018.0,1710.2 2019.2,1713.3 2020.5,1707.9 2021.8,1709.9 2023.0,1705.0 2024.2,1708.1 2025.5,1704.2 2026.0,1708.7 2026.8,1705.6 2028.0,1710.6 2029.2,1707.6 2030.5,1712.5 2031.8,1709.7 2033.0,1714.7 2034.2,1711.7 2035.5,1716.1 2036.8,1713.0 2038.0,1716.8 2039.2,1712.6 2040.5,1716.4 2041.8,1712.7 2043.0,1717.6 2044.2,1714.1 2045.5,1718.3 2046.8,1714.1 2048.0,1717.7 2049.2,1713.6 2050.5,1716.9 2051.8,1713.0 2053.0,1717.7 2054.2,1714.8 2055.5,1718.7 2056.8,1714.7 2058.0,1718.1 2059.2,1714.3 2060.5,1718.4 2061.8,1714.2 2063.0,1717.9 2064.2,1713.2 2065.5,1716.7 2066.8,1711.9 2068.0,1714.5 2069.2,1709.2 2070.5,1711.4 2071.8,1705.8 2073.0,1706.8 2074.2,1701.3 2074.9,1703.6 2075.5,1699.0 2076.8,1703.9 2078.0,1702.6 2079.2,1709.3 2080.5,1708.3 2081.8,1714.6 2083.0,1712.1 2084.2,1716.3 2085.5,1712.3 2086.8,1716.3 2088.0,1712.2 2089.2,1715.8 2090.5,1712.0 2091.8,1716.3 2093.0,1712.8 2094.2,1718.2 2095.5,1715.2 2096.8,1719.1 2098.0,1715.3 2099.2,1719.0 2100.5,1715.0 2101.8,1718.6 2103.0,1715.1 2104.2,1718.7 2105.5,1715.2 2106.8,1719.7 2108.0,1716.1 2109.2,1720.3 2110.5,1716.7 2111.8,1721.3 2113.0,1716.8 2114.2,1720.2 2115.5,1715.3 2116.8,1718.2 2118.0,1714.3 2119.2,1718.2 2120.5,1715.1 2121.8,1719.1 2123.0,1715.1 2124.2,1718.5 2125.5,1714.2 2126.8,1717.7 2128.0,1713.6 2129.2,1717.6 2130.5,1713.7 2131.8,1717.3 2133.0,1713.3 2134.2,1717.7 2135.5,1714.0 2136.8,1717.7 2138.0,1713.3 2139.2,1717.4 2140.5,1714.3 2141.8,1718.9 2143.0,1715.5 2144.2,1718.9 2145.5,1714.3 2146.8,1717.1 2148.0,1712.9 2149.2,1717.2 2150.5,1713.2 2151.8,1717.4 2153.0,1714.0 2154.2,1718.1 2155.5,1714.3 2156.8,1718.1 2158.0,1714.5 2159.2,1718.1 2160.5,1714.2 2161.8,1718.3 2163.0,1715.4 2164.2,1720.1 2165.5,1717.1 2166.8,1721.1 2168.0,1716.3 2169.2,1719.6 2170.5,1715.3 2171.8,1719.4 2173.0,1716.1 2174.2,1719.8 2175.5,1715.3 2176.8,1717.9 2178.0,1713.2 2179.2,1716.7 2180.5,1713.4 2181.8,1717.4 2183.0,1714.6 2184.2,1719.1 2185.5,1715.4 2186.8,1719.8 2188.0,1716.3 2189.2,1720.5 2190.5,1716.4 2191.8,1720.6 2193.0,1716.7 2194.2,1720.6 2195.5,1717.4 2196.8,1721.7 2198.0,1717.8 2199.2,1721.1 2200.5,1716.4 2201.8,1718.9 2203.0,1714.3 2204.2,1717.2 2205.5,1713.7 2206.8,1717.9 2208.0,1714.7 2209.2,1719.3 2210.5,1716.2 2211.8,1721.0 2213.0,1717.5 2214.2,1721.1 2215.5,1716.4 2216.8,1719.3 2218.0,1714.7 2219.2,1718.2 2220.5,1714.2 2221.8,1718.6 2223.0,1715.9 2224.2,1720.3 2225.5,1717.0 2226.8,1720.4 2228.0,1716.3 2229.2,1719.4 2230.5,1715.7 2231.8,1720.0 2233.0,1715.6 2234.2,1718.8 2235.5,1714.2 2236.8,1717.1 2238.0,1713.1 2239.2,1718.1 2240.5,1715.0 2241.8,1719.2 2243.0,1715.5 2244.2,1719.0 2245.5,1715.5 2246.8,1719.6 2248.0,1716.1 2249.2,1720.1 2250.5,1715.8 2251.8,1719.4 2253.0,1715.8 2254.2,1719.4 2255.5,1715.3 2256.8,1719.5 2258.0,1715.2 2259.2,1718.2 2260.5,1715.0 2261.8,1718.7 2263.0,1715.1 2264.2,1719.5 2265.5,1715.5 2266.8,1719.6 2268.0,1715.6 2269.2,1719.4 2270.5,1715.9 2271.8,1719.8 2273.0,1716.4 2274.2,1720.3 2275.5,1717.0 2276.8,1721.3 2278.0,1717.2 2279.2,1721.2 2280.5,1716.7 2281.8,1720.0 2283.0,1716.4 2284.2,1720.8 2285.5,1717.2 2286.8,1720.6 2288.0,1715.8 2289.2,1718.0 2290.5,1713.5 2291.8,1717.2 2293.0,1714.2 2294.2,1719.1 2295.5,1715.6 2296.8,1719.9 2298.0,1715.7 2299.2,1719.6 2300.5,1715.4 2301.8,1719.7 2303.0,1715.8 2304.2,1719.8 2305.5,1715.4 2306.8,1719.3 2308.0,1715.4 2309.2,1719.6 2310.5,1716.1 2311.8,1720.4 2313.0,1716.6 2314.2,1720.7 2315.5,1716.5 2316.8,1721.0 2318.0,1717.1 2319.2,1721.3 2320.5,1718.0 2321.8,1722.1 2323.0,1717.6 2324.2,1720.5 2325.5,1715.9 2326.8,1719.6 2328.0,1716.3 2329.2,1720.8 2330.5,1717.1 2331.8,1720.5 2333.0,1716.2 2334.2,1719.9 2335.5,1716.0 2336.8,1720.5 2338.0,1716.5 2339.2,1719.6 2340.5,1714.5 2341.8,1717.8 2343.0,1713.8 2344.2,1717.5 2345.5,1714.2 2346.8,1718.9 2348.0,1715.4 2349.2,1719.7 2350.5,1716.3 2351.8,1719.7 2353.0,1715.2 2354.2,1719.0 2355.5,1714.8 2356.8,1718.1 2358.0,1714.6 2359.2,1718.1 2360.5,1714.8 2361.8,1719.5 2363.0,1716.7 2364.2,1720.8 2365.5,1716.1 2366.8,1719.9 2368.0,1715.8 2369.2,1720.4 2370.5,1717.2 2371.8,1721.4 2373.0,1717.4 2374.2,1720.8 2375.5,1716.2 2376.8,1719.3 2378.0,1714.6 2379.2,1718.2 2380.5,1714.5 2381.8,1718.3 2383.0,1714.5 2383.5,1717.6" stroke="#000000"/><path d="M440.8,1300V1581" stroke="#000000" stroke-width="17" stroke-linecap="round"/><path d="M863.3,1643V1669" stroke="#000000" stroke-width="11" stroke-linecap="round"/>
<path d="M179.0,1505.0 182.2,1478.5 185.4,1510.9 188.6,1483.4 191.8,1503.8 195.0,1483.0 198.2,1510.6 201.4,1486.0 204.6,1506.3M230.2,1502.2 233.4,1471.6 236.6,1501.7 239.8,1472.6 243.0,1501.5 246.2,1471.0 249.4,1500.1 252.6,1470.6 255.8,1499.7 259.0,1473.1 262.2,1492.9 265.4,1472.5 268.6,1495.8 271.8,1471.2 275.0,1494.4 278.2,1468.9 281.4,1491.1 284.6,1465.7 287.8,1490.0 291.0,1470.5 294.2,1490.5 297.4,1468.3 300.6,1489.8 303.8,1475.1 307.0,1492.6 310.2,1468.6 313.4,1497.2 316.6,1471.3 319.8,1492.1 323.0,1465.4 326.2,1492.6 329.4,1462.9 332.6,1488.8 335.8,1464.8 339.0,1490.9 342.2,1466.0 345.4,1498.2 348.6,1466.9 351.8,1498.5 355.0,1474.4 358.2,1501.7 361.4,1474.1 364.6,1497.3 367.8,1480.3 371.0,1501.5 374.2,1482.9 377.4,1507.8 380.6,1480.4 383.8,1504.2 387.0,1478.0 390.2,1505.9 393.4,1483.7 396.6,1507.2 399.8,1483.0 403.0,1503.2 406.2,1475.8 409.4,1504.6 412.6,1478.0 415.8,1499.9 419.0,1478.1M451.0,1464.1 454.2,1501.3 457.4,1475.6 460.6,1505.5 463.8,1471.6 467.0,1501.5 470.2,1471.5M486.2,1499.8 489.4,1468.3 492.6,1503.1 495.8,1475.3 499.0,1500.1 502.2,1468.4M521.4,1475.4 524.6,1504.9 527.8,1468.0 531.0,1499.9M550.2,1498.0 553.4,1472.8 556.6,1508.7 559.8,1476.7 563.0,1505.4 566.2,1470.7 569.4,1501.7M588.6,1508.9 591.8,1480.4 595.0,1510.7M614.2,1504.1 617.4,1483.9 620.6,1504.3 623.8,1483.3 627.0,1503.5 630.2,1491.9 633.4,1510.0 636.6,1489.6 639.8,1503.1 643.0,1478.5 646.2,1500.0 649.4,1488.2 652.6,1502.0 655.8,1490.9 659.0,1504.9 662.2,1493.7 665.4,1504.4 668.6,1493.7 671.8,1508.9 675.0,1490.0 678.2,1505.3 681.4,1490.5 684.6,1504.2 687.8,1493.0 691.0,1503.0 694.2,1489.5 697.4,1505.6 700.6,1490.8 703.8,1505.8 707.0,1493.5 710.2,1504.4 713.4,1493.6 716.6,1507.0 719.8,1492.9 723.0,1505.5 726.2,1490.7 729.4,1502.8 732.6,1490.7 735.8,1503.3 739.0,1495.9 742.2,1506.9 745.4,1492.0 748.6,1506.2 751.8,1490.1 755.0,1508.0 758.2,1491.4 761.4,1504.9 764.6,1492.2 767.8,1504.9 771.0,1494.2 774.2,1508.2 777.4,1492.1 780.6,1499.4 783.8,1481.4 787.0,1500.4 790.2,1491.6 793.4,1502.8 796.6,1491.3 799.8,1508.5 803.0,1494.5 806.2,1509.1 809.4,1491.4 812.6,1503.1 815.8,1492.6 819.0,1504.7 822.2,1493.2 825.4,1505.0 828.6,1493.1 831.8,1505.4 835.0,1493.1 838.2,1503.9 841.4,1491.5 844.6,1506.8M863.8,1503.6 867.0,1491.7 870.2,1505.1 873.4,1495.2 876.6,1504.7 879.8,1491.8 883.0,1504.7 886.2,1492.7 889.4,1503.8 892.6,1493.4 895.8,1501.9 899.0,1492.8 902.2,1507.3 905.4,1492.4 908.6,1509.1 911.8,1492.7 915.0,1505.8 918.2,1493.2 921.4,1504.1 924.6,1492.3 927.8,1499.3 931.0,1489.9 934.2,1507.7 937.4,1495.2 940.6,1506.1 943.8,1493.1 947.0,1506.6 950.2,1492.3 953.4,1506.2 956.6,1490.6 959.8,1503.9 963.0,1490.9 966.2,1493.6 969.4,1480.5 972.6,1500.6 975.8,1490.1 979.0,1506.2 982.2,1490.5M998.2,1505.9 1001.4,1494.7 1004.6,1508.3 1007.8,1495.6 1011.0,1505.1 1014.2,1490.3 1017.4,1502.3 1020.6,1489.9 1023.8,1505.1 1027.0,1494.3 1030.2,1507.5 1033.4,1493.0 1036.6,1505.0 1039.8,1491.2 1043.0,1502.9 1046.2,1491.8 1049.4,1503.7 1052.6,1489.4 1055.8,1503.0 1059.0,1487.4 1062.2,1497.6 1065.4,1484.2 1068.6,1495.7 1071.8,1487.5 1075.0,1500.9 1078.2,1488.9 1081.4,1507.2 1084.6,1495.1 1087.8,1507.7 1091.0,1490.0 1094.2,1506.6 1097.4,1492.9 1100.6,1507.7 1103.8,1491.2 1107.0,1508.3 1110.2,1491.2 1113.4,1508.5 1116.6,1489.5M1135.8,1489.0 1139.0,1497.0 1142.2,1488.2 1145.4,1501.1 1148.6,1493.8 1151.8,1507.2 1155.0,1494.4 1158.2,1505.8 1161.4,1493.9 1164.6,1504.9 1167.8,1492.7 1171.0,1504.1 1174.2,1494.2 1177.4,1500.1 1180.6,1483.8 1183.8,1504.6 1187.0,1493.3 1190.2,1506.0 1193.4,1494.2 1196.6,1508.2 1199.8,1491.6 1203.0,1506.6 1206.2,1490.9 1209.4,1508.2 1212.6,1491.4 1215.8,1505.3 1219.0,1492.2 1222.2,1507.9 1225.4,1493.4 1228.6,1506.0 1231.8,1491.3 1235.0,1504.0 1238.2,1490.3 1241.4,1505.2 1244.6,1496.1 1247.8,1506.8 1251.0,1490.9 1254.2,1505.7 1257.4,1494.7 1260.6,1509.4 1263.8,1494.2 1267.0,1506.9 1270.2,1491.4 1273.4,1504.2 1276.6,1495.6 1279.8,1507.8 1283.0,1493.4 1286.2,1506.5 1289.4,1493.6 1292.6,1504.9 1295.8,1491.7 1299.0,1506.8 1302.2,1492.7 1305.4,1507.8 1308.6,1491.8 1311.8,1508.5 1315.0,1492.7 1318.2,1506.5 1321.4,1492.9 1324.6,1507.9 1327.8,1492.2 1331.0,1502.0 1334.2,1489.0 1337.4,1506.7 1340.6,1491.7 1343.8,1497.5 1347.0,1481.0 1350.2,1500.3 1353.4,1489.6 1356.6,1503.5 1359.8,1490.8 1363.0,1504.1 1366.2,1491.5 1369.4,1506.9 1372.6,1495.0 1375.8,1504.5 1379.0,1492.8 1382.2,1507.9 1385.4,1493.5 1388.6,1506.6 1391.8,1493.1 1395.0,1504.6 1398.2,1495.3 1401.4,1507.4 1404.6,1490.7 1407.8,1507.7 1411.0,1494.8 1414.2,1507.2 1417.4,1496.7 1420.6,1505.2 1423.8,1493.8 1427.0,1507.7 1430.2,1492.3 1433.4,1502.9 1436.6,1490.2 1439.8,1508.4 1443.0,1495.6 1446.2,1505.6 1449.4,1491.7 1452.6,1508.2 1455.8,1491.5 1459.0,1506.3 1462.2,1494.4 1465.4,1506.8 1468.6,1495.1 1471.8,1509.0 1475.0,1489.3 1478.2,1501.6 1481.4,1485.8 1484.6,1497.2 1487.8,1487.6 1491.0,1502.8 1494.2,1492.3 1497.4,1508.2 1500.6,1492.2 1503.8,1509.1 1507.0,1491.1 1510.2,1505.0 1513.4,1492.4 1516.6,1508.1 1519.8,1489.7 1523.0,1508.9 1526.2,1494.2 1529.4,1507.4 1532.6,1494.9 1535.8,1503.6 1539.0,1494.9 1542.2,1505.9 1545.4,1496.0 1548.6,1503.9 1551.8,1490.1 1555.0,1505.5 1558.2,1493.5 1561.4,1506.8 1564.6,1488.7 1567.8,1503.9 1571.0,1492.2 1574.2,1507.5 1577.4,1490.6 1580.6,1509.5 1583.8,1495.6 1587.0,1507.7 1590.2,1490.0 1593.4,1504.1 1596.6,1489.7 1599.8,1508.2 1603.0,1492.1 1606.2,1507.1 1609.4,1491.1 1612.6,1505.1 1615.8,1490.3 1619.0,1502.7 1622.2,1492.3 1625.4,1504.8 1628.6,1493.5 1631.8,1508.3 1635.0,1493.9 1638.2,1504.9 1641.4,1490.1 1644.6,1507.6 1647.8,1490.7 1651.0,1508.4 1654.2,1494.9 1657.4,1506.8 1660.6,1489.7 1663.8,1505.9 1667.0,1492.2 1670.2,1505.4 1673.4,1489.2 1676.6,1505.3 1679.8,1490.4 1683.0,1504.1 1686.2,1492.1 1689.4,1503.8 1692.6,1490.6 1695.8,1505.7 1699.0,1493.0 1702.2,1503.8 1705.4,1493.4 1708.6,1507.8 1711.8,1489.7 1715.0,1504.2 1718.2,1495.9 1721.4,1506.1 1724.6,1489.3 1727.8,1507.6 1731.0,1492.2 1734.2,1509.1 1737.4,1490.3 1740.6,1506.9 1743.8,1490.7 1747.0,1503.3 1750.2,1488.9 1753.4,1505.9 1756.6,1490.8 1759.8,1507.7 1763.0,1489.9 1766.2,1507.6 1769.4,1490.8 1772.6,1505.1 1775.8,1493.2 1779.0,1504.8 1782.2,1492.0 1785.4,1504.1 1788.6,1490.3 1791.8,1502.1 1795.0,1489.8 1798.2,1506.1 1801.4,1494.0 1804.6,1503.0 1807.8,1494.2 1811.0,1508.1 1814.2,1493.4 1817.4,1507.9 1820.6,1493.0 1823.8,1507.8 1827.0,1492.7 1830.2,1502.9 1833.4,1494.4 1836.6,1504.8 1839.8,1493.4 1843.0,1506.8 1846.2,1490.7 1849.4,1506.7 1852.6,1493.5 1855.8,1505.2 1859.0,1491.4 1862.2,1510.8 1865.4,1492.8 1868.6,1506.7 1871.8,1491.1 1875.0,1507.7 1878.2,1491.5 1881.4,1506.2 1884.6,1493.4 1887.8,1508.9 1891.0,1491.7 1894.2,1506.1 1897.4,1494.0 1900.6,1502.9 1903.8,1491.2 1907.0,1509.4 1910.2,1490.0 1913.4,1504.3 1916.6,1492.1 1919.8,1506.1 1923.0,1490.6 1926.2,1504.5 1929.4,1493.9 1932.6,1503.5 1935.8,1494.2 1939.0,1506.4 1942.2,1489.9 1945.4,1508.7 1948.6,1494.2 1951.8,1501.8 1955.0,1488.9 1958.2,1507.1 1961.4,1489.7 1964.6,1508.1 1967.8,1493.8 1971.0,1507.5 1974.2,1492.0 1977.4,1507.3 1980.6,1493.0 1983.8,1506.1 1987.0,1493.0 1990.2,1506.6 1993.4,1489.9 1996.6,1504.5 1999.8,1492.1 2003.0,1505.2 2006.2,1493.5 2009.4,1503.0 2012.6,1491.7 2015.8,1506.7 2019.0,1489.8 2022.2,1507.2 2025.4,1493.1 2028.6,1506.0 2031.8,1490.7 2035.0,1507.1 2038.2,1490.0 2041.4,1508.4 2044.6,1494.7 2047.8,1507.2 2051.0,1491.1 2054.2,1508.2 2057.4,1493.1 2060.6,1506.2 2063.8,1490.9 2067.0,1504.5 2070.2,1494.2 2073.4,1505.2 2076.6,1492.6 2079.8,1508.0 2083.0,1494.6 2086.2,1506.7 2089.4,1492.9 2092.6,1504.6 2095.8,1494.2 2099.0,1503.9 2102.2,1490.2 2105.4,1506.0 2108.6,1494.2 2111.8,1506.1 2115.0,1491.0 2118.2,1507.4 2121.4,1489.2 2124.6,1506.0 2127.8,1490.7 2131.0,1503.2 2134.2,1489.5 2137.4,1505.7 2140.6,1493.9 2143.8,1506.7 2147.0,1490.1 2150.2,1507.6 2153.4,1496.8 2156.6,1508.0 2159.8,1491.0 2163.0,1505.1 2166.2,1492.2 2169.4,1505.1 2172.6,1492.7 2175.8,1502.5 2179.0,1494.4 2182.2,1504.2 2185.4,1492.3 2188.6,1504.3 2191.8,1492.7 2195.0,1508.5 2198.2,1495.7 2201.4,1503.5 2204.6,1493.9 2207.8,1506.4 2211.0,1493.8 2214.2,1507.7 2217.4,1494.1 2220.6,1504.5 2223.8,1493.8 2227.0,1506.2 2230.2,1493.4 2233.4,1505.5 2236.6,1493.0 2239.8,1504.1 2243.0,1490.4 2246.2,1504.6 2249.4,1492.9 2252.6,1507.2 2255.8,1489.4 2259.0,1507.2 2262.2,1491.9 2265.4,1504.5 2268.6,1490.4 2271.8,1508.7 2275.0,1493.8 2278.2,1505.5 2281.4,1491.9 2284.6,1507.4 2287.8,1493.2 2291.0,1505.4 2294.2,1492.6 2297.4,1505.4 2300.6,1493.8 2303.8,1508.8 2307.0,1489.7 2310.2,1503.8 2313.4,1494.1 2316.6,1508.1 2319.8,1491.2 2323.0,1505.9 2326.2,1492.8 2329.4,1506.2 2332.6,1493.8 2335.8,1509.8 2339.0,1493.8 2342.2,1503.9 2345.4,1492.0 2348.6,1502.7 2351.8,1493.0 2355.0,1504.4 2358.2,1491.5 2361.4,1507.1 2364.6,1493.2 2367.8,1504.0 2371.0,1492.6 2374.2,1503.1 2377.4,1490.6 2380.6,1507.6" stroke="#ff0000" class="fz"/>
<polyline points="178.0,1495.0 179.2,1488.5 180.5,1500.0 181.8,1489.7 183.0,1499.8 184.2,1488.8 185.5,1499.8 186.8,1489.4 188.0,1500.4 189.2,1488.8 190.5,1499.8 191.8,1489.3 193.0,1499.8 194.2,1488.1 195.5,1499.8 196.8,1489.2 198.0,1500.1 199.2,1489.2 200.5,1501.5 201.8,1490.4 203.0,1500.6 204.2,1491.4 205.5,1500.9 206.8,1491.7 208.0,1498.1 209.2,1487.9 210.5,1490.6 211.8,1481.2 213.0,1478.3 214.2,1470.2 215.5,1465.5 216.8,1461.7 217.5,1461.0 218.0,1461.1 219.2,1463.7 220.5,1467.6 221.8,1475.2 223.0,1477.6 224.2,1485.5 225.5,1483.4 226.8,1492.1 228.0,1484.1 229.2,1493.5 230.5,1484.2 231.8,1493.5 233.0,1482.6 234.2,1492.6 235.5,1481.7 236.8,1492.3 238.0,1480.4 239.2,1491.5 240.5,1480.7 241.8,1492.7 243.0,1481.2 244.2,1492.2 245.5,1481.8 246.8,1491.4 248.0,1481.0 249.2,1490.9 250.5,1479.4 251.8,1490.7 253.0,1478.9 254.2,1489.8 255.5,1477.4 256.8,1490.1 258.0,1477.8 259.2,1490.2 260.5,1478.5 261.8,1489.5 263.0,1476.2 264.2,1486.2 265.5,1474.4 266.8,1486.7 268.0,1475.4 269.2,1487.1 270.5,1475.8 271.8,1487.2 273.0,1476.1 274.2,1487.5 275.5,1474.9 276.8,1487.3 278.0,1476.0 279.2,1487.7 280.5,1475.3 281.8,1487.9 283.0,1474.9 284.2,1486.7 285.5,1475.4 286.8,1486.6 288.0,1476.3 289.2,1485.8 290.5,1473.9 291.8,1484.8 293.0,1472.8 294.2,1483.9 295.5,1472.6 296.8,1484.4 298.0,1474.1 299.2,1486.1 300.5,1476.0 301.8,1488.1 303.0,1477.7 304.2,1488.5 305.5,1477.0 306.8,1489.0 308.0,1476.8 309.2,1486.4 310.5,1476.0 311.8,1486.6 313.0,1475.2 314.2,1487.6 315.5,1476.7 316.8,1486.8 318.0,1474.3 319.2,1484.9 320.5,1472.8 321.8,1484.8 323.0,1473.0 324.2,1482.7 325.5,1471.1 326.8,1482.8 328.0,1471.1 329.2,1484.4 330.5,1472.6 331.8,1486.2 333.0,1474.0 334.2,1486.0 335.5,1475.6 336.8,1486.5 338.0,1477.0 339.2,1488.7 340.5,1477.6 341.8,1488.9 343.0,1476.9 344.2,1488.1 345.5,1477.6 346.8,1487.8 348.0,1475.8 349.2,1488.0 350.5,1478.8 351.8,1490.1 353.0,1479.1 354.2,1491.8 355.5,1479.8 356.8,1492.4 358.0,1481.7 359.2,1494.6 360.5,1482.6 361.8,1494.8 363.0,1483.1 364.2,1494.8 365.5,1484.5 366.8,1495.3 368.0,1484.6 369.2,1496.3 370.5,1485.7 371.8,1497.1 373.0,1485.4 374.2,1496.9 375.5,1486.0 376.8,1498.0 378.0,1485.3 379.2,1496.7 380.5,1485.4 381.8,1496.1 383.0,1485.8 384.2,1496.8 385.5,1485.1 386.8,1496.4 388.0,1485.8 389.2,1497.8 390.5,1486.6 391.8,1497.4 393.0,1486.6 394.2,1498.7 395.5,1487.4 396.8,1498.4 398.0,1487.3 399.2,1498.1 400.5,1487.1 401.8,1497.5 403.0,1486.2 404.2,1496.4 405.5,1485.4 406.8,1496.5 408.0,1485.5 409.2,1496.8 410.5,1485.4 411.8,1497.0 413.0,1485.9 414.2,1495.4 415.5,1484.5 416.8,1494.5 418.0,1482.3 419.2,1491.7 420.5,1478.0 421.8,1475.6 423.0,1443.2 424.2,1400.9 425.5,1320.0 426.8,1226.2 428.0,1136.2 429.2,1088.6 429.6,1086.0 430.5,1102.6 431.8,1171.2 433.0,1268.0 434.2,1351.2 435.5,1412.1 436.8,1422.5 438.0,1406.8 439.2,1349.5 440.5,1281.5 441.8,1217.0 443.0,1186.6 443.2,1186.0 444.2,1203.0 445.5,1258.3 446.8,1333.3 448.0,1395.8 449.2,1446.8 450.5,1465.5 451.8,1485.7 453.0,1480.0 454.2,1492.6 455.5,1482.0 456.8,1494.3 458.0,1479.9 459.2,1494.6 460.5,1479.7 461.8,1497.0 463.0,1479.5 464.2,1497.5 465.5,1478.3 466.8,1495.8 468.0,1479.3 469.2,1494.1 470.5,1479.8 471.8,1493.0 473.0,1477.3 474.2,1479.3 475.5,1464.9 476.8,1458.1 477.8,1455.0 478.0,1455.1 479.2,1459.6 480.5,1471.0 481.8,1475.1 483.0,1488.0 484.2,1479.3 485.5,1494.0 486.8,1477.1 488.0,1494.9 489.2,1478.4 490.5,1496.3 491.8,1478.5 493.0,1495.8 494.2,1477.4 495.0,1497.0 495.5,1479.5 496.8,1494.9 498.0,1480.1 499.2,1496.2 500.5,1479.4 501.8,1495.3 503.0,1478.1 504.2,1486.8 505.5,1468.5 506.8,1462.2 508.0,1439.2 509.2,1422.6 510.5,1408.1 511.4,1405.0 511.8,1405.5 513.0,1415.2 514.2,1431.0 515.5,1454.1 516.8,1463.5 518.0,1484.5 519.2,1478.5 520.5,1494.4 521.8,1480.5 523.0,1497.2 524.2,1478.9 525.5,1497.6 526.8,1477.3 528.0,1495.9 529.2,1479.4 530.5,1494.7 531.8,1474.0 533.0,1481.7 534.2,1449.1 535.5,1419.3 536.8,1347.8 538.0,1268.4 539.2,1180.3 540.5,1122.7 541.3,1111.0 541.8,1114.8 543.0,1160.2 544.2,1243.1 545.5,1326.2 546.8,1403.4 548.0,1440.3 549.2,1478.5 550.5,1475.4 551.8,1494.2 553.0,1479.9 554.2,1496.9 555.5,1480.3 556.8,1497.9 558.0,1482.1 559.2,1498.3 560.5,1478.7 561.8,1496.5 563.0,1478.7 564.2,1499.8 565.5,1480.5 566.8,1501.0 568.0,1483.8 569.2,1497.7 570.5,1475.5 571.8,1473.6 573.0,1434.2 574.2,1393.2 575.5,1321.6 576.8,1253.7 578.0,1200.3 579.0,1186.0 579.2,1186.9 580.5,1218.4 581.8,1279.5 583.0,1354.6 584.2,1409.2 585.5,1459.6 586.8,1471.0 588.0,1494.1 589.2,1484.8 590.5,1500.7 591.8,1485.8 593.0,1503.0 594.2,1484.5 595.5,1499.4 596.8,1485.0 598.0,1494.8 599.2,1481.1 600.5,1479.0 601.8,1464.1 603.0,1455.6 604.2,1451.0 604.3,1451.0 605.5,1454.7 606.8,1465.8 608.0,1474.9 609.2,1487.9 610.5,1487.7 611.8,1497.0 613.0,1491.4 614.2,1499.5 615.5,1493.0 616.8,1498.9 618.0,1493.0 619.2,1497.5 620.5,1493.4 621.8,1498.3 623.0,1493.4 624.2,1498.0 625.5,1494.4 626.8,1499.2 628.0,1495.6 629.2,1500.8 630.5,1497.3 631.8,1501.1 633.0,1496.0 634.2,1499.6 635.5,1494.0 636.8,1497.5 638.0,1491.9 639.2,1494.8 640.5,1489.0 641.8,1492.3 643.0,1487.0 644.2,1490.8 644.6,1487.1 645.5,1491.3 646.8,1488.6 648.0,1493.6 649.2,1491.9 650.5,1496.9 651.8,1494.3 653.0,1499.2 654.2,1496.0 655.5,1500.2 656.8,1496.8 658.0,1500.5 659.2,1497.4 660.5,1501.2 661.8,1498.2 663.0,1501.2 664.2,1497.3 665.5,1500.5 666.8,1497.0 668.0,1500.3 669.2,1497.8 670.5,1500.2 671.8,1497.0 673.0,1499.5 674.2,1496.2 675.5,1499.3 676.8,1496.9 678.0,1500.1 679.2,1498.4 680.5,1501.5 681.8,1499.0 683.0,1501.4 684.2,1497.9 685.5,1499.6 686.8,1497.3 688.0,1499.5 689.2,1497.4 690.5,1499.6 691.8,1497.4 693.0,1499.6 694.2,1497.3 695.5,1499.9 696.8,1498.1 698.0,1500.4 699.2,1498.8 700.5,1500.6 701.8,1498.2 703.0,1499.7 704.2,1497.6 705.5,1499.7 706.8,1498.4 708.0,1500.7 709.2,1498.8 710.5,1499.9 711.8,1497.5 713.0,1499.1 714.2,1497.1 715.5,1498.8 716.8,1497.0 718.0,1499.4 719.2,1498.0 720.5,1500.9 721.8,1499.2 723.0,1501.0 724.2,1498.4 725.5,1499.8 726.8,1497.6 728.0,1499.2 729.2,1497.7 730.5,1499.3 731.8,1497.3 733.0,1499.2 734.2,1497.5 735.5,1499.9 736.8,1498.8 738.0,1501.0 739.2,1499.7 740.5,1502.0 741.8,1500.4 743.0,1502.2 744.2,1499.9 745.5,1501.1 746.8,1498.5 748.0,1499.9 749.2,1497.8 750.5,1499.7 751.8,1497.8 753.0,1499.7 754.2,1497.7 755.5,1499.6 756.8,1497.9 758.0,1499.8 759.2,1497.9 760.5,1499.4 761.8,1497.1 763.0,1499.3 764.2,1498.5 765.5,1501.3 766.8,1500.0 768.0,1501.6 769.2,1498.8 770.5,1499.9 771.8,1498.1 773.0,1500.2 774.2,1498.7 775.5,1500.7 776.8,1498.2 778.0,1498.5 779.2,1494.5 780.5,1493.6 781.8,1489.3 782.5,1490.3 783.0,1488.0 784.2,1491.5 785.5,1492.0 786.8,1496.2 788.0,1495.9 789.2,1498.1 790.5,1496.0 791.8,1497.3 793.0,1495.6 794.2,1498.5 795.5,1497.8 796.8,1500.5 798.0,1499.1 799.2,1500.6 800.5,1498.4 801.8,1500.3 803.0,1498.6 804.2,1501.0 805.5,1499.1 806.8,1500.3 808.0,1497.7 809.2,1499.0 810.5,1497.0 811.8,1499.0 813.0,1497.6 814.2,1499.6 815.5,1497.4 816.8,1499.8 818.0,1498.1 819.2,1500.5 820.5,1498.8 821.8,1500.6 823.0,1498.9 824.2,1500.9 825.5,1499.1 826.8,1500.8 828.0,1498.5 829.2,1500.1 830.5,1498.3 831.8,1500.0 833.0,1497.6 834.2,1499.4 835.5,1497.1 836.8,1499.3 838.0,1497.6 839.2,1499.6 840.5,1497.9 841.8,1499.6 843.0,1497.7 844.2,1499.3 845.5,1497.0 846.8,1497.7 848.0,1494.6 849.2,1491.9 850.5,1484.6 851.8,1476.6 853.0,1468.7 854.2,1464.8 854.5,1464.7 855.5,1466.6 856.8,1473.0 858.0,1481.8 859.2,1488.6 860.5,1494.4 861.8,1496.1 863.0,1498.6 864.2,1497.3 865.5,1499.0 866.8,1497.5 868.0,1499.4 869.2,1497.9 870.5,1500.0 871.8,1498.1 873.0,1500.2 874.2,1498.4 875.5,1500.1 876.8,1498.4 878.0,1500.2 879.2,1498.5 880.5,1500.2 881.8,1498.0 883.0,1499.8 884.2,1497.6 885.5,1499.4 886.8,1497.8 888.0,1499.9 889.2,1498.3 890.5,1500.6 891.8,1498.6 893.0,1500.3 894.2,1497.7 895.5,1498.6 896.8,1496.6 898.0,1499.0 899.2,1497.8 900.5,1500.4 901.8,1498.6 903.0,1500.3 904.2,1498.7 905.5,1500.9 906.8,1499.5 908.0,1501.6 909.2,1499.2 910.5,1500.7 911.8,1498.2 913.0,1500.0 914.2,1498.4 915.5,1500.6 916.8,1499.1 918.0,1501.1 919.2,1499.4 920.5,1500.9 921.8,1498.3 923.0,1499.4 924.2,1496.1 925.5,1496.4 926.8,1492.7 928.0,1493.8 928.7,1492.3 929.2,1495.2 930.5,1494.8 931.8,1498.5 933.0,1498.3 934.2,1501.2 935.5,1499.7 936.8,1501.6 938.0,1499.1 939.2,1500.7 940.5,1498.7 941.8,1500.3 943.0,1497.8 944.2,1499.2 945.5,1497.3 946.8,1499.3 948.0,1497.3 949.2,1499.2 950.5,1497.2 951.8,1499.3 953.0,1497.5 954.2,1499.6 955.5,1497.9 956.8,1499.6 958.0,1497.5 959.2,1499.4 960.5,1497.1 961.8,1498.3 963.0,1494.8 964.2,1494.0 965.5,1488.9 966.8,1488.6 967.5,1486.5 968.0,1488.8 969.2,1488.4 970.5,1492.8 971.8,1493.4 973.0,1497.3 974.2,1496.8 975.5,1499.8 976.8,1498.7 978.0,1500.7 979.2,1498.7 980.5,1500.1 981.8,1498.1 983.0,1498.9 984.2,1495.4 985.5,1491.2 986.8,1482.4 988.0,1473.1 989.2,1464.9 990.5,1461.8 991.8,1464.9 993.0,1473.0 994.2,1482.0 995.5,1490.3 996.8,1494.5 998.0,1498.2 999.2,1497.9 1000.5,1500.3 1001.8,1499.0 1003.0,1501.1 1004.2,1499.6 1005.5,1501.7 1006.8,1499.8 1008.0,1501.5 1009.2,1499.8 1010.5,1501.8 1011.8,1499.6 1013.0,1500.9 1014.2,1497.9 1015.5,1499.4 1016.8,1497.2 1018.0,1499.3 1019.2,1497.7 1020.5,1500.0 1021.8,1498.3 1023.0,1500.5 1024.2,1498.8 1025.5,1500.7 1026.8,1498.8 1028.0,1500.5 1029.2,1498.1 1030.5,1499.6 1031.8,1497.5 1033.0,1499.3 1034.2,1497.5 1035.5,1499.7 1036.8,1497.8 1038.0,1499.3 1039.2,1497.0 1040.5,1498.2 1041.8,1496.3 1043.0,1498.4 1044.2,1496.9 1045.5,1499.0 1046.8,1497.2 1048.0,1499.0 1049.2,1497.0 1050.5,1498.8 1051.8,1496.7 1053.0,1498.3 1054.2,1496.2 1055.5,1498.1 1056.8,1496.1 1058.0,1497.5 1059.2,1494.4 1060.5,1494.4 1061.8,1489.9 1063.0,1489.9 1064.2,1487.4 1065.5,1489.6 1065.9,1488.5 1066.8,1490.9 1068.0,1489.6 1069.2,1492.3 1070.5,1491.2 1071.8,1494.4 1073.0,1493.7 1074.2,1496.4 1075.5,1495.2 1076.8,1497.1 1078.0,1495.5 1079.2,1498.4 1080.5,1498.0 1081.8,1501.3 1083.0,1500.6 1084.2,1502.6 1085.5,1500.7 1086.8,1502.6 1088.0,1500.3 1089.2,1501.3 1090.5,1498.6 1091.8,1499.5 1093.0,1497.1 1094.2,1499.0 1095.5,1497.6 1096.8,1499.8 1098.0,1498.3 1099.2,1500.3 1100.5,1498.6 1101.8,1500.4 1103.0,1498.5 1104.2,1500.5 1105.5,1498.5 1106.8,1500.3 1108.0,1498.1 1109.2,1499.7 1110.5,1498.0 1111.8,1500.0 1113.0,1498.3 1114.2,1500.3 1115.5,1498.4 1116.8,1499.3 1118.0,1496.7 1119.2,1496.1 1120.5,1492.3 1121.8,1488.3 1123.0,1482.1 1124.2,1476.8 1125.5,1474.1 1125.7,1474.0 1126.8,1475.5 1128.0,1480.6 1129.2,1486.7 1130.5,1492.9 1131.8,1495.9 1133.0,1499.1 1134.2,1498.5 1135.5,1499.3 1136.8,1495.6 1138.0,1494.7 1139.2,1490.5 1140.5,1491.4 1141.5,1490.1 1141.8,1493.0 1143.0,1492.6 1144.2,1496.2 1145.5,1495.6 1146.8,1498.6 1148.0,1496.8 1149.2,1499.0 1150.5,1497.6 1151.8,1500.2 1153.0,1499.0 1154.2,1501.1 1155.5,1499.1 1156.8,1500.6 1158.0,1498.1 1159.2,1499.9 1160.5,1498.4 1161.8,1500.8 1163.0,1499.2 1164.2,1501.3 1165.5,1499.4 1166.8,1501.3 1168.0,1499.2 1169.2,1500.6 1170.5,1498.3 1171.8,1500.0 1173.0,1498.1 1174.2,1499.3 1175.5,1495.8 1176.8,1495.4 1178.0,1491.1 1179.0,1492.2 1179.2,1490.7 1180.5,1494.0 1181.8,1493.9 1183.0,1497.1 1184.2,1496.2 1185.5,1498.8 1186.8,1497.8 1188.0,1500.0 1189.2,1498.0 1190.5,1499.3 1191.8,1497.5 1193.0,1499.6 1194.2,1498.3 1195.5,1500.7 1196.8,1498.9 1198.0,1500.2 1199.2,1497.7 1200.5,1499.3 1201.8,1497.4 1203.0,1500.1 1204.2,1498.6 1205.5,1500.6 1206.8,1498.5 1208.0,1500.0 1209.2,1497.8 1210.5,1499.9 1211.8,1498.4 1213.0,1500.9 1214.2,1499.2 1215.5,1500.9 1216.8,1499.1 1218.0,1500.9 1219.2,1499.4 1220.5,1501.6 1221.8,1500.4 1223.0,1502.4 1224.2,1500.2 1225.5,1501.7 1226.8,1499.3 1228.0,1500.9 1229.2,1499.2 1230.5,1501.2 1231.8,1499.2 1233.0,1501.1 1234.2,1498.7 1235.5,1500.0 1236.8,1498.0 1238.0,1500.2 1239.2,1498.8 1240.5,1501.1 1241.8,1499.5 1243.0,1501.4 1244.2,1499.4 1245.5,1500.9 1246.8,1498.9 1248.0,1500.7 1249.2,1498.4 1250.5,1499.8 1251.8,1497.9 1253.0,1499.9 1254.2,1498.4 1255.5,1500.6 1256.8,1498.9 1258.0,1501.3 1259.2,1500.2 1260.5,1502.5 1261.8,1500.6 1263.0,1502.4 1264.2,1500.0 1265.5,1501.6 1266.8,1499.3 1268.0,1500.8 1269.2,1498.1 1270.5,1499.5 1271.8,1497.5 1273.0,1499.5 1274.2,1498.2 1275.5,1501.1 1276.8,1499.7 1278.0,1501.8 1279.2,1499.6 1280.5,1501.0 1281.8,1499.1 1283.0,1501.0 1284.2,1499.0 1285.5,1500.7 1286.8,1498.4 1288.0,1500.6 1289.2,1499.0 1290.5,1500.8 1291.8,1498.8 1293.0,1500.0 1294.2,1497.7 1295.5,1499.6 1296.8,1498.3 1298.0,1500.9 1299.2,1499.2 1300.5,1501.3 1301.8,1499.3 1303.0,1500.9 1304.2,1498.7 1305.5,1500.4 1306.8,1498.3 1308.0,1500.1 1309.2,1498.3 1310.5,1500.6 1311.8,1499.0 1313.0,1500.7 1314.2,1498.8 1315.5,1500.3 1316.8,1498.0 1318.0,1499.5 1319.2,1497.4 1320.5,1500.0 1321.8,1498.6 1323.0,1501.2 1324.2,1499.1 1325.5,1501.1 1326.8,1498.7 1328.0,1500.0 1329.2,1497.3 1330.5,1498.8 1331.8,1497.0 1333.0,1498.9 1334.2,1497.3 1335.5,1499.5 1336.8,1497.8 1338.0,1499.1 1339.2,1496.6 1340.5,1497.0 1341.8,1493.9 1343.0,1494.5 1344.2,1491.4 1345.5,1492.4 1346.0,1489.7 1346.8,1491.0 1348.0,1489.8 1349.2,1493.5 1350.5,1493.6 1351.8,1497.2 1353.0,1496.3 1354.2,1498.5 1355.5,1496.6 1356.8,1498.4 1358.0,1497.1 1359.2,1499.8 1360.5,1498.2 1361.8,1500.1 1363.0,1497.8 1364.2,1499.6 1365.5,1497.7 1366.8,1499.6 1368.0,1497.5 1369.2,1499.3 1370.5,1497.3 1371.8,1499.8 1373.0,1498.5 1374.2,1500.7 1375.5,1498.5 1376.8,1500.3 1378.0,1498.5 1379.2,1500.4 1380.5,1498.5 1381.8,1500.1 1383.0,1497.9 1384.2,1499.5 1385.5,1497.0 1386.8,1498.4 1388.0,1496.4 1389.2,1498.6 1390.5,1497.1 1391.8,1499.4 1393.0,1498.0 1394.2,1500.3 1395.5,1498.6 1396.8,1500.7 1398.0,1498.5 1399.2,1500.3 1400.5,1498.1 1401.8,1499.5 1403.0,1497.3 1404.2,1499.6 1405.5,1497.8 1406.8,1499.9 1408.0,1498.2 1409.2,1500.4 1410.5,1498.7 1411.8,1501.0 1413.0,1499.2 1414.2,1501.3 1415.5,1499.6 1416.8,1501.9 1418.0,1500.4 1419.2,1502.0 1420.5,1499.6 1421.8,1501.2 1423.0,1499.5 1424.2,1501.9 1425.5,1499.8 1426.8,1500.9 1428.0,1498.1 1429.2,1499.3 1430.5,1497.1 1431.8,1499.1 1433.0,1497.4 1434.2,1499.6 1435.5,1497.8 1436.8,1499.8 1438.0,1497.9 1439.2,1499.8 1440.5,1498.1 1441.8,1500.5 1443.0,1498.8 1444.2,1500.8 1445.5,1498.8 1446.8,1500.4 1448.0,1498.3 1449.2,1500.1 1450.5,1498.0 1451.8,1499.9 1453.0,1497.6 1454.2,1499.3 1455.5,1497.4 1456.8,1499.5 1458.0,1497.8 1459.2,1500.0 1460.5,1498.1 1461.8,1500.2 1463.0,1498.3 1464.2,1500.5 1465.5,1498.8 1466.8,1500.7 1468.0,1498.8 1469.2,1500.8 1470.5,1498.8 1471.8,1500.6 1473.0,1498.2 1474.2,1499.6 1475.5,1497.5 1476.8,1499.0 1478.0,1496.3 1479.2,1496.0 1480.5,1491.6 1481.8,1490.6 1483.0,1486.9 1484.0,1488.4 1484.2,1486.6 1485.5,1489.7 1486.8,1489.8 1488.0,1494.2 1489.2,1494.4 1490.5,1498.1 1491.8,1497.5 1493.0,1500.3 1494.2,1499.0 1495.5,1501.1 1496.8,1499.0 1498.0,1500.9 1499.2,1499.4 1500.5,1501.9 1501.8,1500.4 1503.0,1502.1 1504.2,1499.6 1505.5,1501.5 1506.8,1499.4 1508.0,1501.0 1509.2,1498.8 1510.5,1500.5 1511.8,1498.3 1513.0,1500.1 1514.2,1498.3 1515.5,1500.3 1516.8,1498.2 1518.0,1499.8 1519.2,1497.8 1520.5,1500.0 1521.8,1498.8 1523.0,1501.2 1524.2,1499.3 1525.5,1500.9 1526.8,1498.5 1528.0,1499.5 1529.2,1497.4 1530.5,1499.3 1531.8,1497.7 1533.0,1500.1 1534.2,1498.6 1535.5,1500.4 1536.8,1498.3 1538.0,1500.0 1539.2,1498.2 1540.5,1500.3 1541.8,1498.8 1543.0,1501.2 1544.2,1499.5 1545.5,1501.4 1546.8,1499.2 1548.0,1500.4 1549.2,1497.7 1550.5,1499.2 1551.8,1497.5 1553.0,1499.9 1554.2,1498.0 1555.5,1500.2 1556.8,1498.3 1558.0,1499.7 1559.2,1497.7 1560.5,1499.2 1561.8,1496.5 1563.0,1498.1 1564.2,1496.2 1565.5,1498.8 1566.8,1497.9 1568.0,1500.6 1569.2,1498.7 1570.5,1500.7 1571.8,1498.7 1573.0,1500.7 1574.2,1498.8 1575.5,1500.4 1576.8,1498.4 1578.0,1500.2 1579.2,1498.8 1580.5,1501.1 1581.8,1499.5 1583.0,1501.8 1584.2,1500.7 1585.5,1503.0 1586.8,1501.0 1588.0,1502.0 1589.2,1499.1 1590.5,1500.2 1591.8,1497.7 1593.0,1499.4 1594.2,1497.4 1595.5,1499.1 1596.8,1497.5 1598.0,1500.0 1599.2,1498.7 1600.5,1500.9 1601.8,1498.8 1603.0,1499.8 1604.2,1497.4 1605.5,1498.9 1606.8,1497.3 1608.0,1499.5 1609.2,1497.5 1610.5,1499.6 1611.8,1497.6 1613.0,1499.7 1614.2,1497.5 1615.5,1499.3 1616.8,1497.3 1618.0,1499.0 1619.2,1497.0 1620.5,1499.5 1621.8,1498.2 1623.0,1500.7 1624.2,1499.1 1625.5,1501.0 1626.8,1498.5 1628.0,1499.7 1629.2,1497.4 1630.5,1499.6 1631.8,1498.3 1633.0,1500.4 1634.2,1498.4 1635.5,1500.3 1636.8,1498.3 1638.0,1500.2 1639.2,1498.2 1640.5,1500.0 1641.8,1497.4 1643.0,1499.0 1644.2,1497.3 1645.5,1499.6 1646.8,1498.5 1648.0,1500.7 1649.2,1499.2 1650.5,1500.5 1651.8,1498.3 1653.0,1500.1 1654.2,1498.8 1655.5,1501.2 1656.8,1499.5 1658.0,1501.1 1659.2,1498.9 1660.5,1500.0 1661.8,1497.7 1663.0,1499.4 1664.2,1497.5 1665.5,1499.6 1666.8,1497.9 1668.0,1499.9 1669.2,1497.6 1670.5,1499.4 1671.8,1497.5 1673.0,1499.5 1674.2,1497.5 1675.5,1499.3 1676.8,1497.4 1678.0,1499.9 1679.2,1498.7 1680.5,1500.7 1681.8,1498.7 1683.0,1499.9 1684.2,1497.3 1685.5,1499.5 1686.8,1498.2 1688.0,1500.7 1689.2,1498.6 1690.5,1500.1 1691.8,1497.9 1693.0,1499.5 1694.2,1498.1 1695.5,1500.4 1696.8,1498.8 1698.0,1500.9 1699.2,1498.9 1700.5,1500.4 1701.8,1497.7 1703.0,1499.1 1704.2,1497.1 1705.5,1499.2 1706.8,1497.5 1708.0,1499.5 1709.2,1497.5 1710.5,1499.6 1711.8,1497.9 1713.0,1500.1 1714.2,1498.5 1715.5,1500.7 1716.8,1499.0 1718.0,1501.1 1719.2,1499.5 1720.5,1500.9 1721.8,1498.5 1723.0,1499.8 1724.2,1497.0 1725.5,1498.7 1726.8,1496.9 1728.0,1499.6 1729.2,1498.4 1730.5,1501.0 1731.8,1499.5 1733.0,1501.2 1734.2,1498.9 1735.5,1500.3 1736.8,1498.1 1738.0,1499.9 1739.2,1498.4 1740.5,1500.9 1741.8,1499.4 1743.0,1501.3 1744.2,1499.2 1745.5,1500.0 1746.8,1497.2 1748.0,1498.3 1749.2,1496.3 1750.5,1499.0 1751.8,1498.2 1753.0,1500.4 1754.2,1498.4 1755.5,1500.0 1756.8,1497.6 1758.0,1499.2 1759.2,1497.3 1760.5,1499.7 1761.8,1498.0 1763.0,1500.3 1764.2,1498.6 1765.5,1500.1 1766.8,1497.8 1768.0,1499.8 1769.2,1498.1 1770.5,1500.2 1771.8,1498.7 1773.0,1500.7 1774.2,1498.9 1775.5,1500.8 1776.8,1498.5 1778.0,1500.2 1779.2,1497.8 1780.5,1499.4 1781.8,1497.1 1783.0,1499.1 1784.2,1497.3 1785.5,1499.7 1786.8,1498.7 1788.0,1500.7 1789.2,1498.2 1790.5,1499.4 1791.8,1496.8 1793.0,1498.5 1794.2,1496.8 1795.5,1498.7 1796.8,1497.2 1798.0,1499.8 1799.2,1498.5 1800.5,1500.4 1801.8,1498.3 1803.0,1499.9 1804.2,1497.7 1805.5,1499.5 1806.8,1498.1 1808.0,1500.3 1809.2,1498.1 1810.5,1499.7 1811.8,1497.6 1813.0,1499.8 1814.2,1498.6 1815.5,1501.5 1816.8,1500.0 1818.0,1501.5 1819.2,1499.2 1820.5,1500.8 1821.8,1498.7 1823.0,1500.8 1824.2,1499.2 1825.5,1500.9 1826.8,1498.3 1828.0,1499.4 1829.2,1497.0 1830.5,1499.2 1831.8,1498.4 1833.0,1501.1 1834.2,1499.9 1835.5,1501.6 1836.8,1499.2 1838.0,1500.6 1839.2,1498.2 1840.5,1499.9 1841.8,1497.8 1843.0,1499.9 1844.2,1498.1 1845.5,1500.2 1846.8,1498.7 1848.0,1501.3 1849.2,1500.3 1850.5,1502.3 1851.8,1500.1 1853.0,1500.9 1854.2,1498.2 1855.5,1500.0 1856.8,1498.3 1858.0,1500.8 1859.2,1499.7 1860.5,1502.5 1861.8,1501.0 1863.0,1502.6 1864.2,1500.1 1865.5,1500.7 1866.8,1497.9 1868.0,1499.5 1869.2,1497.6 1870.5,1499.7 1871.8,1498.2 1873.0,1500.1 1874.2,1498.3 1875.5,1500.1 1876.8,1498.5 1878.0,1500.7 1879.2,1499.1 1880.5,1501.4 1881.8,1499.6 1883.0,1501.7 1884.2,1499.6 1885.5,1501.5 1886.8,1499.2 1888.0,1501.1 1889.2,1498.8 1890.5,1500.3 1891.8,1497.9 1893.0,1499.1 1894.2,1496.9 1895.5,1499.2 1896.8,1497.9 1898.0,1500.1 1899.2,1497.7 1900.5,1499.4 1901.8,1497.0 1903.0,1499.3 1904.2,1498.1 1905.5,1500.5 1906.8,1499.1 1908.0,1501.0 1909.2,1498.5 1910.5,1499.7 1911.8,1497.1 1913.0,1499.1 1914.2,1497.3 1915.5,1499.5 1916.8,1497.8 1918.0,1499.2 1919.2,1496.5 1920.5,1498.2 1921.8,1496.7 1923.0,1499.1 1924.2,1498.0 1925.5,1500.3 1926.8,1498.3 1928.0,1500.1 1929.2,1498.0 1930.5,1499.9 1931.8,1498.0 1933.0,1500.2 1934.2,1498.3 1935.5,1500.0 1936.8,1497.9 1938.0,1499.8 1939.2,1497.8 1940.5,1500.1 1941.8,1498.2 1943.0,1500.5 1944.2,1499.3 1945.5,1501.7 1946.8,1499.7 1948.0,1501.1 1949.2,1498.2 1950.5,1499.0 1951.8,1496.7 1953.0,1498.5 1954.2,1496.4 1955.5,1498.5 1956.8,1496.8 1958.0,1498.8 1959.2,1496.9 1960.5,1499.1 1961.8,1497.3 1963.0,1499.8 1964.2,1498.1 1965.5,1500.3 1966.8,1498.4 1968.0,1500.1 1969.2,1497.6 1970.5,1499.4 1971.8,1497.7 1973.0,1500.0 1974.2,1498.6 1975.5,1500.9 1976.8,1498.9 1978.0,1500.6 1979.2,1498.3 1980.5,1500.5 1981.8,1498.4 1983.0,1500.3 1984.2,1498.4 1985.5,1500.3 1986.8,1498.4 1988.0,1500.5 1989.2,1498.2 1990.5,1499.8 1991.8,1497.8 1993.0,1499.2 1994.2,1496.8 1995.5,1498.4 1996.8,1496.4 1998.0,1498.7 1999.2,1497.6 2000.5,1499.9 2001.8,1498.2 2003.0,1500.1 2004.2,1498.3 2005.5,1499.9 2006.8,1497.1 2008.0,1498.7 2009.2,1496.7 2010.5,1498.9 2011.8,1497.3 2013.0,1499.5 2014.2,1497.6 2015.5,1499.6 2016.8,1498.1 2018.0,1500.2 2019.2,1498.3 2020.5,1499.7 2021.8,1497.9 2023.0,1500.0 2024.2,1498.4 2025.5,1500.7 2026.8,1498.6 2028.0,1500.6 2029.2,1498.6 2030.5,1500.3 2031.8,1498.5 2033.0,1500.3 2034.2,1498.2 2035.5,1500.0 2036.8,1497.6 2038.0,1499.6 2039.2,1497.7 2040.5,1499.7 2041.8,1498.2 2043.0,1500.6 2044.2,1499.5 2045.5,1502.2 2046.8,1500.5 2048.0,1502.3 2049.2,1499.6 2050.5,1500.5 2051.8,1498.5 2053.0,1500.6 2054.2,1499.0 2055.5,1501.3 2056.8,1499.1 2058.0,1500.5 2059.2,1498.0 2060.5,1499.7 2061.8,1497.5 2063.0,1499.7 2064.2,1497.8 2065.5,1499.8 2066.8,1497.9 2068.0,1499.6 2069.2,1497.7 2070.5,1499.6 2071.8,1497.7 2073.0,1499.7 2074.2,1497.8 2075.5,1499.9 2076.8,1498.3 2078.0,1500.4 2079.2,1498.4 2080.5,1500.1 2081.8,1498.1 2083.0,1500.1 2084.2,1498.5 2085.5,1500.7 2086.8,1498.8 2088.0,1500.1 2089.2,1497.5 2090.5,1499.0 2091.8,1497.4 2093.0,1500.3 2094.2,1499.1 2095.5,1501.1 2096.8,1499.0 2098.0,1500.4 2099.2,1498.0 2100.5,1499.8 2101.8,1497.8 2103.0,1499.4 2104.2,1497.3 2105.5,1498.9 2106.8,1496.8 2108.0,1499.2 2109.2,1498.2 2110.5,1500.5 2111.8,1498.9 2113.0,1500.8 2114.2,1498.5 2115.5,1500.1 2116.8,1497.7 2118.0,1499.3 2119.2,1497.1 2120.5,1498.9 2121.8,1497.0 2123.0,1498.9 2124.2,1497.0 2125.5,1498.7 2126.8,1496.5 2128.0,1498.5 2129.2,1496.9 2130.5,1499.5 2131.8,1497.8 2133.0,1499.5 2134.2,1497.8 2135.5,1499.9 2136.8,1498.3 2138.0,1500.7 2139.2,1499.1 2140.5,1501.5 2141.8,1499.9 2143.0,1501.6 2144.2,1499.2 2145.5,1500.3 2146.8,1497.7 2148.0,1499.2 2149.2,1497.6 2150.5,1500.4 2151.8,1499.3 2153.0,1501.8 2154.2,1500.1 2155.5,1502.0 2156.8,1499.6 2158.0,1500.6 2159.2,1498.0 2160.5,1499.2 2161.8,1497.6 2163.0,1500.1 2164.2,1498.5 2165.5,1500.6 2166.8,1498.3 2168.0,1500.4 2169.2,1498.6 2170.5,1500.2 2171.8,1498.1 2173.0,1499.4 2174.2,1496.8 2175.5,1498.6 2176.8,1497.1 2178.0,1499.5 2179.2,1497.7 2180.5,1499.8 2181.8,1497.8 2183.0,1500.0 2184.2,1498.0 2185.5,1499.9 2186.8,1497.7 2188.0,1499.3 2189.2,1497.3 2190.5,1499.1 2191.8,1497.5 2193.0,1500.0 2194.2,1498.3 2195.5,1500.6 2196.8,1499.1 2198.0,1501.1 2199.2,1498.8 2200.5,1500.2 2201.8,1498.1 2203.0,1499.8 2204.2,1498.2 2205.5,1500.4 2206.8,1498.6 2208.0,1500.5 2209.2,1498.2 2210.5,1499.8 2211.8,1498.1 2213.0,1500.4 2214.2,1498.5 2215.5,1500.0 2216.8,1497.5 2218.0,1499.0 2219.2,1497.2 2220.5,1499.3 2221.8,1497.9 2223.0,1500.0 2224.2,1498.3 2225.5,1500.5 2226.8,1498.7 2228.0,1501.0 2229.2,1498.8 2230.5,1500.4 2231.8,1497.9 2233.0,1499.6 2234.2,1497.9 2235.5,1499.9 2236.8,1498.2 2238.0,1500.1 2239.2,1497.6 2240.5,1498.8 2241.8,1496.8 2243.0,1498.9 2244.2,1497.4 2245.5,1500.0 2246.8,1498.5 2248.0,1500.1 2249.2,1497.8 2250.5,1500.2 2251.8,1498.7 2253.0,1501.2 2254.2,1499.1 2255.5,1500.1 2256.8,1497.0 2258.0,1498.4 2259.2,1496.9 2260.5,1499.1 2261.8,1497.6 2263.0,1499.0 2264.2,1496.5 2265.5,1498.1 2266.8,1496.3 2268.0,1498.6 2269.2,1497.2 2270.5,1500.0 2271.8,1498.2 2273.0,1500.1 2274.2,1498.2 2275.5,1500.0 2276.8,1498.9 2278.0,1501.4 2279.2,1500.3 2280.5,1502.1 2281.8,1499.7 2283.0,1501.2 2284.2,1498.6 2285.5,1499.8 2286.8,1497.5 2288.0,1499.3 2289.2,1497.7 2290.5,1499.9 2291.8,1497.9 2293.0,1499.8 2294.2,1497.9 2295.5,1499.6 2296.8,1497.6 2298.0,1499.5 2299.2,1497.8 2300.5,1500.0 2301.8,1498.4 2303.0,1500.5 2304.2,1498.8 2305.5,1500.2 2306.8,1498.2 2308.0,1499.6 2309.2,1497.4 2310.5,1499.0 2311.8,1497.2 2313.0,1499.4 2314.2,1497.9 2315.5,1500.3 2316.8,1498.0 2318.0,1499.3 2319.2,1497.4 2320.5,1499.4 2321.8,1498.1 2323.0,1500.2 2324.2,1497.9 2325.5,1499.1 2326.8,1497.1 2328.0,1498.6 2329.2,1496.4 2330.5,1498.5 2331.8,1496.9 2333.0,1499.9 2334.2,1499.1 2335.5,1501.6 2336.8,1499.4 2338.0,1500.6 2339.2,1497.7 2340.5,1498.6 2341.8,1496.1 2343.0,1497.7 2344.2,1495.9 2345.5,1498.4 2346.8,1496.8 2348.0,1498.9 2349.2,1496.8 2350.5,1498.7 2351.8,1497.0 2353.0,1499.2 2354.2,1497.4 2355.5,1499.9 2356.8,1498.0 2358.0,1500.4 2359.2,1498.8 2360.5,1501.1 2361.8,1498.8 2363.0,1500.7 2364.2,1498.6 2365.5,1500.3 2366.8,1498.2 2368.0,1500.0 2369.2,1498.0 2370.5,1500.0 2371.8,1498.3 2373.0,1500.0 2374.2,1497.6 2375.5,1499.1 2376.8,1497.1 2378.0,1499.3 2379.2,1497.0 2380.5,1499.2 2381.8,1497.6 2383.0,1499.8 2383.5,1499.0" stroke="#ff0000"/><path d="M436.4,1200V1453" stroke="#ff0000" stroke-width="15" stroke-linecap="round"/>
<path d="M179.0,1288.8 182.2,1271.0 185.4,1285.0 188.6,1274.9 191.8,1287.1 195.0,1273.3 198.2,1286.0 201.4,1273.2 204.6,1289.7 207.8,1275.0 211.0,1287.3 214.2,1270.4 217.4,1282.7 220.6,1260.0 223.8,1275.4 227.0,1266.6 230.2,1286.5 233.4,1274.5 236.6,1288.6 239.8,1272.7 243.0,1285.7 246.2,1270.1 249.4,1284.1 252.6,1272.2 255.8,1288.4 259.0,1274.2 262.2,1285.6 265.4,1269.0 268.6,1284.5 271.8,1273.3 275.0,1286.5 278.2,1272.0 281.4,1286.1 284.6,1270.9 287.8,1286.3 291.0,1270.5 294.2,1287.9 297.4,1270.9 300.6,1288.1 303.8,1272.6 307.0,1284.9 310.2,1272.6 313.4,1286.9 316.6,1273.3 319.8,1284.9 323.0,1264.2 326.2,1275.3 329.4,1264.9 332.6,1280.0 335.8,1270.8 339.0,1282.4 342.2,1267.9 345.4,1287.0 348.6,1268.1 351.8,1284.9 355.0,1270.9 358.2,1284.4 361.4,1273.2 364.6,1287.4 367.8,1267.3 371.0,1281.8 374.2,1270.5 377.4,1285.8 380.6,1266.6 383.8,1285.3 387.0,1265.6 390.2,1281.2 393.4,1267.9 396.6,1281.5 399.8,1271.7 403.0,1284.0 406.2,1269.1 409.4,1282.1 412.6,1269.2 415.8,1285.3 419.0,1270.1 422.2,1281.7 425.4,1264.5M454.2,1271.6 457.4,1267.9 460.6,1283.7 463.8,1265.3 467.0,1283.5 470.2,1262.5 473.4,1280.6 476.6,1252.9 479.8,1264.2 483.0,1257.4 486.2,1278.3 489.4,1262.2 492.6,1280.5 495.8,1257.9 499.0,1276.0 502.2,1261.7 505.4,1276.5M521.4,1263.0 524.6,1276.6 527.8,1262.5 531.0,1276.6 534.2,1259.0 537.4,1278.2M553.4,1253.2 556.6,1278.1 559.8,1260.1 563.0,1275.3 566.2,1258.1 569.4,1277.5 572.6,1253.2M591.8,1250.2 595.0,1270.2 598.2,1251.5 601.4,1267.3 604.6,1240.3 607.8,1247.5 611.0,1234.7 614.2,1262.5 617.4,1249.5 620.6,1261.9 623.8,1247.5 627.0,1261.9 630.2,1247.8 633.4,1261.9 636.6,1248.0 639.8,1261.6 643.0,1251.1 646.2,1263.0 649.4,1247.1 652.6,1259.0 655.8,1248.2 659.0,1260.0 662.2,1245.1 665.4,1261.9 668.6,1251.8 671.8,1262.1 675.0,1251.9 678.2,1262.4 681.4,1250.0 684.6,1266.6 687.8,1254.4 691.0,1266.0 694.2,1253.0 697.4,1267.3 700.6,1256.2 703.8,1271.4 707.0,1258.4 710.2,1272.2 713.4,1257.9 716.6,1271.7 719.8,1259.9 723.0,1274.7 726.2,1259.7 729.4,1277.8 732.6,1259.3 735.8,1275.0 739.0,1261.3 742.2,1278.9 745.4,1263.2 748.6,1277.8 751.8,1263.7 755.0,1278.4 758.2,1264.9 761.4,1277.9 764.6,1262.6 767.8,1280.9 771.0,1267.5 774.2,1279.7 777.4,1263.8 780.6,1277.5 783.8,1269.1 787.0,1282.6 790.2,1265.3 793.4,1281.5 796.6,1270.6 799.8,1284.9 803.0,1271.3 806.2,1285.1 809.4,1272.0 812.6,1287.0 815.8,1271.7 819.0,1283.2 822.2,1273.4 825.4,1285.7 828.6,1272.4 831.8,1283.1 835.0,1269.8 838.2,1284.5 841.4,1271.5 844.6,1285.4 847.8,1273.7 851.0,1282.8 854.2,1255.7 857.4,1262.3 860.6,1261.6 863.8,1284.9 867.0,1271.0 870.2,1286.6 873.4,1274.2 876.6,1286.2 879.8,1269.6 883.0,1285.8 886.2,1270.6 889.4,1282.6 892.6,1269.0 895.8,1284.7 899.0,1273.3 902.2,1285.1 905.4,1269.8 908.6,1282.4 911.8,1271.3 915.0,1284.6 918.2,1269.0 921.4,1282.8 924.6,1273.0 927.8,1287.6 931.0,1273.9 934.2,1286.1 937.4,1270.1 940.6,1287.1 943.8,1272.5 947.0,1287.3 950.2,1271.6 953.4,1287.9 956.6,1273.9 959.8,1285.5 963.0,1268.4 966.2,1282.9 969.4,1265.2 972.6,1279.9 975.8,1265.6 979.0,1283.6 982.2,1271.5 985.4,1281.9 988.6,1260.2 991.8,1268.9 995.0,1261.2 998.2,1281.4 1001.4,1269.6 1004.6,1286.1 1007.8,1271.6 1011.0,1284.4 1014.2,1270.7 1017.4,1283.9 1020.6,1269.5 1023.8,1281.7 1027.0,1264.9 1030.2,1281.4 1033.4,1266.1 1036.6,1281.6 1039.8,1264.6 1043.0,1283.5 1046.2,1267.1 1049.4,1278.7 1052.6,1264.7 1055.8,1277.2 1059.0,1263.0 1062.2,1281.3 1065.4,1265.8 1068.6,1281.2 1071.8,1264.3 1075.0,1280.8 1078.2,1265.8 1081.4,1280.6 1084.6,1263.5 1087.8,1279.3 1091.0,1266.3 1094.2,1278.6 1097.4,1262.3 1100.6,1281.6 1103.8,1264.2 1107.0,1280.4 1110.2,1263.1 1113.4,1276.7 1116.6,1263.8 1119.8,1277.6 1123.0,1259.9 1126.2,1267.0 1129.4,1253.3 1132.6,1273.8 1135.8,1263.9 1139.0,1277.3 1142.2,1267.9 1145.4,1283.3 1148.6,1267.1 1151.8,1285.6 1155.0,1269.0 1158.2,1283.9 1161.4,1266.6 1164.6,1283.6 1167.8,1273.4 1171.0,1285.4 1174.2,1271.5 1177.4,1287.0 1180.6,1271.9 1183.8,1286.3 1187.0,1272.2 1190.2,1289.6 1193.4,1272.4 1196.6,1288.0 1199.8,1272.3 1203.0,1285.4 1206.2,1274.6 1209.4,1286.1 1212.6,1274.0 1215.8,1284.5 1219.0,1273.6 1222.2,1283.9 1225.4,1272.8 1228.6,1287.5 1231.8,1272.0 1235.0,1288.7 1238.2,1270.5 1241.4,1285.2 1244.6,1273.7 1247.8,1287.2 1251.0,1269.1 1254.2,1282.7 1257.4,1268.9 1260.6,1284.1 1263.8,1271.9 1267.0,1284.0 1270.2,1270.0 1273.4,1283.1 1276.6,1268.8 1279.8,1283.9 1283.0,1270.3 1286.2,1284.6 1289.4,1270.8 1292.6,1278.8 1295.8,1268.9 1299.0,1284.3 1302.2,1271.9 1305.4,1287.2 1308.6,1272.0 1311.8,1285.2 1315.0,1271.1 1318.2,1285.1 1321.4,1272.5 1324.6,1289.3 1327.8,1271.5 1331.0,1284.3 1334.2,1275.6 1337.4,1288.4 1340.6,1274.4 1343.8,1286.0 1347.0,1272.7 1350.2,1283.5 1353.4,1274.0 1356.6,1286.8 1359.8,1271.3 1363.0,1286.3 1366.2,1274.6 1369.4,1285.3 1372.6,1275.2 1375.8,1287.7 1379.0,1273.2 1382.2,1289.1 1385.4,1276.1 1388.6,1288.4 1391.8,1274.9 1395.0,1290.3 1398.2,1276.1 1401.4,1286.8 1404.6,1273.0 1407.8,1292.4 1411.0,1277.0 1414.2,1291.6 1417.4,1276.3 1420.6,1292.2 1423.8,1273.3 1427.0,1288.2 1430.2,1278.2 1433.4,1290.4 1436.6,1278.9 1439.8,1291.9 1443.0,1280.8 1446.2,1291.7 1449.4,1279.5 1452.6,1289.2 1455.8,1275.7 1459.0,1290.7 1462.2,1279.3 1465.4,1291.8 1468.6,1280.4 1471.8,1290.8 1475.0,1278.6 1478.2,1292.1 1481.4,1272.5 1484.6,1286.9 1487.8,1277.1 1491.0,1291.4 1494.2,1276.9 1497.4,1294.5 1500.6,1276.7 1503.8,1293.1 1507.0,1281.3 1510.2,1292.3 1513.4,1276.4 1516.6,1290.0 1519.8,1280.1 1523.0,1294.5 1526.2,1281.2 1529.4,1296.2 1532.6,1279.9 1535.8,1295.6 1539.0,1278.9 1542.2,1294.3 1545.4,1279.7 1548.6,1294.8 1551.8,1281.5 1555.0,1296.2 1558.2,1280.8 1561.4,1296.6 1564.6,1279.5 1567.8,1291.0 1571.0,1277.3 1574.2,1294.7 1577.4,1278.6 1580.6,1296.2 1583.8,1280.1 1587.0,1293.4 1590.2,1281.4 1593.4,1293.0 1596.6,1280.8 1599.8,1295.1 1603.0,1277.6 1606.2,1294.5 1609.4,1278.6 1612.6,1294.6 1615.8,1280.3 1619.0,1292.6 1622.2,1282.0 1625.4,1293.0 1628.6,1280.4 1631.8,1295.7 1635.0,1280.3 1638.2,1290.5 1641.4,1280.1 1644.6,1294.9 1647.8,1278.5 1651.0,1296.3 1654.2,1281.2 1657.4,1297.1 1660.6,1278.2 1663.8,1295.7 1667.0,1281.2 1670.2,1294.0 1673.4,1281.3 1676.6,1294.4 1679.8,1278.8 1683.0,1295.7 1686.2,1282.1 1689.4,1296.2 1692.6,1278.6 1695.8,1292.7 1699.0,1277.4 1702.2,1292.9 1705.4,1279.3 1708.6,1295.7 1711.8,1278.5 1715.0,1294.5 1718.2,1278.0 1721.4,1293.1 1724.6,1280.0 1727.8,1291.9 1731.0,1281.3 1734.2,1294.2 1737.4,1278.7 1740.6,1296.5 1743.8,1280.7 1747.0,1292.2 1750.2,1278.9 1753.4,1294.0 1756.6,1280.1 1759.8,1293.6 1763.0,1278.9 1766.2,1296.3 1769.4,1282.4 1772.6,1294.8 1775.8,1279.4 1779.0,1297.7 1782.2,1281.7 1785.4,1298.0 1788.6,1284.1 1791.8,1298.0 1795.0,1281.4 1798.2,1292.6 1801.4,1278.3 1804.6,1293.9 1807.8,1282.7 1811.0,1296.6 1814.2,1283.1 1817.4,1293.2 1820.6,1279.1 1823.8,1294.7 1827.0,1278.5 1830.2,1296.6 1833.4,1279.2 1836.6,1296.9 1839.8,1283.3 1843.0,1293.9 1846.2,1279.8 1849.4,1296.6 1852.6,1284.4 1855.8,1298.8 1859.0,1279.9 1862.2,1295.4 1865.4,1279.2 1868.6,1295.4 1871.8,1280.5 1875.0,1295.0 1878.2,1279.7 1881.4,1294.9 1884.6,1282.6 1887.8,1295.6 1891.0,1279.8 1894.2,1296.4 1897.4,1282.5 1900.6,1298.9 1903.8,1282.9 1907.0,1295.4 1910.2,1279.9 1913.4,1296.8 1916.6,1278.9 1919.8,1292.5 1923.0,1281.9 1926.2,1297.4 1929.4,1281.2 1932.6,1293.5 1935.8,1281.1 1939.0,1292.7 1942.2,1279.0 1945.4,1293.4 1948.6,1280.4 1951.8,1292.9 1955.0,1282.7 1958.2,1295.9 1961.4,1283.7 1964.6,1294.3 1967.8,1278.5 1971.0,1293.8 1974.2,1279.4 1977.4,1292.8 1980.6,1279.0 1983.8,1296.9 1987.0,1282.3 1990.2,1292.3 1993.4,1279.7 1996.6,1293.7 1999.8,1278.2 2003.0,1295.1 2006.2,1281.2 2009.4,1297.1 2012.6,1280.8 2015.8,1294.8 2019.0,1278.7 2022.2,1296.8 2025.4,1284.6 2028.6,1296.2 2031.8,1281.2 2035.0,1294.8 2038.2,1281.6 2041.4,1294.4 2044.6,1278.9 2047.8,1292.0 2051.0,1279.6 2054.2,1296.8 2057.4,1280.6 2060.6,1295.5 2063.8,1279.5 2067.0,1296.8 2070.2,1283.5 2073.4,1291.8 2076.6,1280.2 2079.8,1292.9 2083.0,1279.8 2086.2,1295.0 2089.4,1280.4 2092.6,1295.1 2095.8,1279.9 2099.0,1293.7 2102.2,1280.9 2105.4,1294.4 2108.6,1281.2 2111.8,1296.4 2115.0,1279.8 2118.2,1294.7 2121.4,1279.8 2124.6,1294.1 2127.8,1281.9 2131.0,1292.8 2134.2,1279.8 2137.4,1295.0 2140.6,1280.6 2143.8,1296.2 2147.0,1278.1 2150.2,1296.2 2153.4,1280.3 2156.6,1293.9 2159.8,1279.6 2163.0,1296.3 2166.2,1279.7 2169.4,1296.2 2172.6,1277.8 2175.8,1292.6 2179.0,1278.0 2182.2,1296.9 2185.4,1283.0 2188.6,1292.9 2191.8,1282.1 2195.0,1292.5 2198.2,1283.6 2201.4,1297.4 2204.6,1283.7 2207.8,1297.4 2211.0,1282.3 2214.2,1295.5 2217.4,1279.0 2220.6,1293.7 2223.8,1279.8 2227.0,1295.4 2230.2,1278.8 2233.4,1294.5 2236.6,1282.4 2239.8,1294.1 2243.0,1276.8 2246.2,1291.8 2249.4,1279.0 2252.6,1296.6 2255.8,1280.3 2259.0,1295.1 2262.2,1283.4 2265.4,1293.9 2268.6,1279.0 2271.8,1297.3 2275.0,1281.4 2278.2,1297.5 2281.4,1278.9 2284.6,1297.0 2287.8,1283.0 2291.0,1292.5 2294.2,1280.8 2297.4,1292.7 2300.6,1277.6 2303.8,1293.5 2307.0,1278.5 2310.2,1295.6 2313.4,1282.4 2316.6,1298.7 2319.8,1282.6 2323.0,1295.7 2326.2,1277.7 2329.4,1295.2 2332.6,1278.7 2335.8,1299.2 2339.0,1282.3 2342.2,1293.3 2345.4,1282.6 2348.6,1297.7 2351.8,1282.9 2355.0,1296.7 2358.2,1285.2 2361.4,1294.9 2364.6,1278.3 2367.8,1292.4 2371.0,1279.1 2374.2,1294.7 2377.4,1285.3 2380.6,1298.6" stroke="#0000ff" class="fz"/>
<polyline points="178.0,1280.0 179.2,1279.5 180.5,1281.2 181.8,1278.4 183.0,1280.6 184.2,1278.5 185.5,1281.4 186.8,1278.9 188.0,1281.6 189.2,1279.6 190.5,1282.7 191.8,1280.0 193.0,1282.1 194.2,1279.0 195.5,1280.8 196.8,1278.4 198.0,1280.4 199.2,1278.1 200.5,1280.3 201.8,1278.1 203.0,1280.9 204.2,1279.2 205.5,1282.0 206.8,1279.6 208.0,1281.5 209.2,1278.5 210.5,1280.7 211.8,1277.7 213.0,1279.9 214.2,1276.8 215.5,1278.1 216.8,1274.0 218.0,1274.8 219.2,1270.3 220.5,1270.9 221.8,1267.6 222.0,1269.9 223.0,1268.0 224.2,1272.0 225.5,1272.1 226.8,1276.9 228.0,1276.4 229.2,1279.7 230.5,1277.9 231.8,1280.4 233.0,1278.4 234.2,1280.9 235.5,1278.5 236.8,1281.1 238.0,1278.9 239.2,1281.0 240.5,1278.3 241.8,1280.0 243.0,1277.0 244.2,1279.3 245.5,1277.1 246.8,1280.1 248.0,1277.9 249.2,1280.1 250.5,1277.3 251.8,1279.5 253.0,1277.1 254.2,1280.2 255.5,1278.2 256.8,1281.0 258.0,1278.6 259.2,1280.8 260.5,1277.9 261.8,1279.9 263.0,1277.3 264.2,1279.6 265.5,1277.7 266.8,1280.1 268.0,1278.2 269.2,1280.7 270.5,1278.4 271.8,1280.8 273.0,1278.5 274.2,1281.0 275.5,1278.9 276.8,1281.2 278.0,1278.3 279.2,1280.3 280.5,1278.2 281.8,1280.8 283.0,1278.6 284.2,1280.9 285.5,1278.3 286.8,1280.7 288.0,1278.2 289.2,1281.0 290.5,1278.7 291.8,1280.8 293.0,1278.2 294.2,1280.2 295.5,1277.3 296.8,1279.3 298.0,1276.9 299.2,1279.9 300.5,1278.1 301.8,1280.3 303.0,1277.6 304.2,1279.6 305.5,1277.1 306.8,1279.9 308.0,1277.6 309.2,1280.3 310.5,1277.7 311.8,1280.2 313.0,1278.3 314.2,1280.9 315.5,1278.5 316.8,1280.9 318.0,1277.7 319.2,1279.2 320.5,1275.9 321.8,1276.4 323.0,1272.5 324.2,1273.0 325.5,1269.4 326.8,1271.1 327.0,1268.7 328.0,1271.5 329.2,1269.8 330.5,1273.7 331.8,1272.7 333.0,1277.0 334.2,1276.2 335.5,1279.4 336.8,1277.1 338.0,1278.9 339.2,1276.2 340.5,1278.2 341.8,1276.0 343.0,1278.7 344.2,1276.2 345.5,1278.4 346.8,1276.1 348.0,1278.7 349.2,1276.3 350.5,1278.9 351.8,1276.5 353.0,1278.6 354.2,1275.7 355.5,1277.3 356.8,1275.1 358.0,1277.7 359.2,1275.6 360.5,1278.6 361.8,1276.5 363.0,1279.3 364.2,1276.9 365.5,1279.1 366.8,1276.0 368.0,1277.6 369.2,1274.7 370.5,1277.2 371.8,1275.0 373.0,1277.4 374.2,1275.0 375.5,1277.3 376.8,1275.0 378.0,1277.2 379.2,1274.9 380.5,1277.1 381.8,1274.6 383.0,1277.4 384.2,1274.8 385.5,1276.7 386.8,1273.9 388.0,1275.9 389.2,1273.7 390.5,1276.5 391.8,1274.2 393.0,1276.2 394.2,1273.9 395.5,1276.4 396.8,1274.7 398.0,1277.2 399.2,1275.0 400.5,1277.3 401.8,1274.7 403.0,1276.9 404.2,1274.9 405.5,1277.4 406.8,1275.6 408.0,1277.9 409.2,1275.2 410.5,1277.6 411.8,1274.8 413.0,1276.9 414.2,1274.6 415.5,1276.7 416.8,1274.1 418.0,1276.3 419.2,1273.8 420.5,1276.0 421.8,1273.5 423.0,1275.2 424.2,1272.4 425.5,1272.6 426.8,1264.5 428.0,1249.6 429.2,1213.4 430.5,1159.3 431.8,1098.9 433.0,1062.5 433.4,1060.0 434.2,1071.1 435.5,1119.2 436.8,1180.6 438.0,1228.0 439.2,1256.5 440.5,1264.3 441.8,1262.0 443.0,1243.4 444.2,1211.7 445.5,1168.7 446.8,1133.5 447.7,1123.8 448.0,1124.8 449.2,1148.0 450.5,1189.6 451.8,1228.2 453.0,1255.1 454.2,1266.4 455.5,1273.3 456.8,1271.8 458.0,1275.3 459.2,1270.7 460.5,1275.2 461.8,1269.3 463.0,1275.0 464.2,1269.3 465.5,1275.4 466.8,1269.6 468.0,1275.5 469.2,1269.8 470.5,1275.0 471.8,1268.3 473.0,1272.7 474.2,1264.6 475.5,1266.4 476.8,1256.1 478.0,1257.9 479.0,1251.3 479.2,1258.1 480.5,1254.3 481.8,1264.7 483.0,1262.8 484.2,1271.1 485.5,1267.5 486.8,1273.7 488.0,1267.1 489.2,1272.9 490.5,1266.4 491.8,1272.5 493.0,1266.6 494.2,1272.8 495.5,1266.4 496.8,1271.8 498.0,1264.9 499.2,1270.9 500.5,1265.4 501.8,1271.3 503.0,1266.6 504.2,1272.6 505.5,1267.6 506.8,1270.7 508.0,1263.4 509.2,1259.7 510.5,1245.9 511.8,1232.7 513.0,1221.9 513.7,1220.2 514.2,1221.3 515.5,1231.1 516.8,1244.4 518.0,1258.8 519.2,1263.8 520.5,1271.1 521.8,1267.5 523.0,1272.0 524.2,1266.5 525.5,1272.7 526.8,1267.6 528.0,1272.9 529.2,1267.6 530.5,1272.6 531.8,1266.7 533.0,1271.8 534.2,1266.2 535.5,1272.1 536.8,1267.0 538.0,1271.1 539.2,1262.3 540.5,1253.9 541.8,1220.8 543.0,1171.4 544.2,1106.8 545.5,1058.1 546.3,1047.7 546.8,1050.9 548.0,1089.8 549.2,1152.9 550.5,1207.5 551.8,1245.9 553.0,1258.3 554.2,1268.7 555.5,1265.0 556.8,1270.1 558.0,1264.7 559.2,1270.9 560.5,1265.2 561.8,1270.4 563.0,1263.6 564.2,1268.6 565.5,1262.8 566.8,1269.2 568.0,1264.1 569.2,1269.6 570.5,1264.2 571.8,1267.9 573.0,1260.7 574.2,1259.9 575.5,1245.8 576.8,1229.8 578.0,1198.7 579.2,1164.4 580.5,1131.1 581.8,1112.6 582.2,1111.0 583.0,1115.5 584.2,1138.5 585.5,1173.3 586.8,1205.4 588.0,1233.2 589.2,1245.5 590.5,1257.9 591.8,1257.2 593.0,1263.0 594.2,1258.0 595.5,1262.9 596.8,1256.4 598.0,1261.2 599.2,1255.4 600.5,1260.5 601.8,1254.2 603.0,1258.3 604.2,1249.8 605.5,1249.5 606.8,1237.8 608.0,1238.4 608.6,1232.6 609.2,1237.7 610.5,1238.1 611.8,1247.9 613.0,1249.6 614.2,1257.2 615.5,1255.2 616.8,1259.6 618.0,1256.8 619.2,1259.3 620.5,1255.3 621.8,1257.0 623.0,1253.6 624.2,1255.6 625.5,1253.4 626.8,1256.0 628.0,1254.2 629.2,1257.0 630.5,1255.3 631.8,1257.6 633.0,1254.7 634.2,1256.6 635.5,1253.8 636.8,1255.7 638.0,1253.4 639.2,1255.9 640.5,1254.0 641.8,1256.8 643.0,1254.5 644.2,1256.6 645.5,1253.6 646.8,1255.2 648.0,1252.6 649.2,1254.8 650.5,1253.0 651.8,1255.3 653.0,1252.8 654.2,1255.1 655.5,1253.0 656.8,1255.3 658.0,1252.8 659.2,1255.4 660.5,1252.5 661.8,1255.2 663.0,1253.3 664.2,1256.5 665.5,1254.9 666.8,1258.4 668.0,1256.2 669.2,1258.1 670.5,1255.1 671.8,1256.9 673.0,1254.6 674.2,1257.3 675.5,1255.6 676.8,1258.4 678.0,1256.5 679.2,1259.6 680.5,1257.3 681.8,1259.9 683.0,1257.8 684.2,1260.4 685.5,1258.5 686.8,1260.8 688.0,1258.5 689.2,1261.0 690.5,1259.3 691.8,1262.4 693.0,1260.3 694.2,1262.6 695.5,1259.3 696.8,1261.3 698.0,1259.0 699.2,1261.9 700.5,1260.4 701.8,1264.0 703.0,1262.4 704.2,1265.4 705.5,1263.1 706.8,1265.7 708.0,1263.2 709.2,1265.4 710.5,1263.5 711.8,1266.1 713.0,1263.9 714.2,1266.8 715.5,1265.0 716.8,1268.2 718.0,1266.7 719.2,1269.9 720.5,1267.7 721.8,1269.5 723.0,1266.7 724.2,1268.3 725.5,1265.5 726.8,1268.1 728.0,1266.6 729.2,1269.5 730.5,1267.1 731.8,1269.2 733.0,1266.4 734.2,1268.7 735.5,1267.0 736.8,1269.6 738.0,1267.9 739.2,1270.7 740.5,1268.6 741.8,1270.5 743.0,1267.8 744.2,1269.6 745.5,1266.9 746.8,1269.5 748.0,1267.3 749.2,1270.4 750.5,1268.7 751.8,1271.1 753.0,1268.7 754.2,1270.7 755.5,1268.3 756.8,1270.6 758.0,1268.7 759.2,1271.5 760.5,1269.5 761.8,1271.8 763.0,1269.6 764.2,1271.9 765.5,1270.1 766.8,1272.9 768.0,1270.6 769.2,1273.2 770.5,1270.9 771.8,1273.5 773.0,1271.5 774.2,1273.8 775.5,1271.1 776.8,1273.6 778.0,1271.2 779.2,1273.6 780.5,1271.7 781.8,1274.8 783.0,1272.9 784.2,1275.5 785.5,1272.4 786.8,1274.6 788.0,1272.1 789.2,1274.3 790.5,1271.9 791.8,1274.8 793.0,1273.0 794.2,1276.1 795.5,1274.5 796.8,1277.5 798.0,1275.3 799.2,1278.1 800.5,1275.7 801.8,1277.6 803.0,1275.0 804.2,1276.8 805.5,1274.7 806.8,1277.5 808.0,1275.9 809.2,1279.0 810.5,1276.9 811.8,1279.3 813.0,1276.4 814.2,1278.5 815.5,1276.2 816.8,1278.4 818.0,1276.2 819.2,1278.8 820.5,1276.6 821.8,1279.4 823.0,1277.2 824.2,1279.6 825.5,1277.3 826.8,1279.2 828.0,1276.6 829.2,1278.8 830.5,1276.5 831.8,1279.4 833.0,1277.7 834.2,1280.2 835.5,1278.1 836.8,1280.5 838.0,1277.9 839.2,1280.5 840.5,1278.5 841.8,1281.7 843.0,1279.7 844.2,1281.8 845.5,1279.0 846.8,1280.6 848.0,1277.8 849.2,1279.3 850.5,1275.7 851.8,1275.8 853.0,1269.0 854.2,1265.8 855.5,1258.0 856.8,1257.6 857.0,1254.8 858.0,1259.0 859.2,1260.8 860.5,1268.1 861.8,1270.2 863.0,1276.0 864.2,1275.5 865.5,1278.7 866.8,1276.7 868.0,1279.5 869.2,1277.4 870.5,1280.1 871.8,1278.2 873.0,1281.1 874.2,1279.0 875.5,1281.3 876.8,1279.0 878.0,1280.8 879.2,1278.1 880.5,1279.8 881.8,1277.0 883.0,1279.1 884.2,1276.6 885.5,1279.2 886.8,1277.0 888.0,1279.1 889.2,1276.4 890.5,1278.6 891.8,1276.3 893.0,1279.0 894.2,1277.1 895.5,1280.3 896.8,1278.2 898.0,1280.7 899.2,1278.1 900.5,1280.6 901.8,1278.5 903.0,1280.8 904.2,1278.1 905.5,1279.6 906.8,1276.4 908.0,1278.3 909.2,1275.5 910.5,1277.8 911.8,1275.4 913.0,1278.5 914.2,1276.2 915.5,1278.7 916.8,1276.1 918.0,1279.0 919.2,1276.7 920.5,1278.9 921.8,1276.5 923.0,1278.6 924.2,1276.4 925.5,1279.5 926.8,1277.8 928.0,1280.6 929.2,1278.1 930.5,1280.0 931.8,1277.3 933.0,1279.5 934.2,1277.4 935.5,1279.9 936.8,1277.5 938.0,1279.8 939.2,1277.3 940.5,1279.4 941.8,1277.3 943.0,1280.0 944.2,1278.0 945.5,1280.2 946.8,1277.2 948.0,1279.6 949.2,1277.1 950.5,1279.2 951.8,1276.9 953.0,1279.2 954.2,1277.3 955.5,1279.8 956.8,1277.5 958.0,1279.6 959.2,1277.0 960.5,1279.2 961.8,1276.8 963.0,1279.2 964.2,1277.1 965.5,1279.6 966.8,1276.7 968.0,1278.0 969.2,1273.5 970.5,1273.6 971.8,1269.7 972.0,1271.4 973.0,1269.0 974.2,1272.7 975.5,1272.3 976.8,1276.5 978.0,1275.8 979.2,1278.7 980.5,1276.7 981.8,1279.6 983.0,1277.5 984.2,1279.1 985.5,1274.8 986.8,1274.4 988.0,1268.5 989.2,1266.4 990.5,1260.3 991.8,1260.7 992.0,1258.5 993.0,1262.2 994.2,1263.6 995.5,1270.3 996.8,1271.9 998.0,1276.6 999.2,1276.1 1000.5,1279.1 1001.8,1277.3 1003.0,1279.5 1004.2,1276.7 1005.5,1278.6 1006.8,1276.3 1008.0,1278.5 1009.2,1275.6 1010.5,1277.9 1011.8,1275.3 1013.0,1278.0 1014.2,1275.5 1015.5,1278.2 1016.8,1275.7 1018.0,1277.2 1019.2,1274.4 1020.5,1275.9 1021.8,1273.3 1023.0,1275.9 1024.2,1273.5 1025.5,1275.6 1026.8,1272.6 1028.0,1274.7 1029.2,1272.8 1030.5,1275.5 1031.8,1273.7 1033.0,1275.9 1034.2,1272.8 1035.5,1274.4 1036.8,1271.5 1038.0,1274.0 1039.2,1272.0 1040.5,1275.0 1041.8,1272.7 1043.0,1275.0 1044.2,1272.0 1045.5,1273.8 1046.8,1271.2 1048.0,1273.3 1049.2,1270.7 1050.5,1273.7 1051.8,1271.6 1053.0,1273.9 1054.2,1271.7 1055.5,1274.0 1056.8,1271.7 1058.0,1273.7 1059.2,1271.3 1060.5,1273.5 1061.8,1270.8 1063.0,1272.8 1064.2,1270.9 1065.5,1273.6 1066.8,1271.5 1068.0,1273.5 1069.2,1270.9 1070.5,1272.8 1071.8,1270.5 1073.0,1273.0 1074.2,1271.1 1075.5,1273.5 1076.8,1271.3 1078.0,1273.8 1079.2,1271.5 1080.5,1273.9 1081.8,1271.6 1083.0,1273.5 1084.2,1271.2 1085.5,1273.5 1086.8,1271.9 1088.0,1274.9 1089.2,1272.8 1090.5,1275.0 1091.8,1271.8 1093.0,1273.6 1094.2,1270.7 1095.5,1272.9 1096.8,1270.1 1098.0,1272.6 1099.2,1270.1 1100.5,1272.8 1101.8,1271.0 1103.0,1273.5 1104.2,1270.5 1105.5,1272.9 1106.8,1270.5 1108.0,1272.9 1109.2,1270.9 1110.5,1273.3 1111.8,1270.5 1113.0,1272.7 1114.2,1269.6 1115.5,1271.6 1116.8,1269.1 1118.0,1272.0 1119.2,1270.3 1120.5,1273.0 1121.8,1269.3 1123.0,1268.4 1124.2,1262.1 1125.5,1260.5 1126.8,1255.7 1127.5,1258.1 1128.0,1255.9 1129.2,1260.6 1130.5,1261.8 1131.8,1267.6 1133.0,1267.5 1134.2,1270.7 1135.5,1268.6 1136.8,1271.7 1138.0,1269.9 1139.2,1273.6 1140.5,1272.4 1141.8,1275.7 1143.0,1273.3 1144.2,1275.1 1145.5,1272.3 1146.8,1274.8 1148.0,1273.0 1149.2,1276.2 1150.5,1274.7 1151.8,1277.5 1153.0,1274.8 1154.2,1277.3 1155.5,1274.4 1156.8,1276.9 1158.0,1274.8 1159.2,1277.3 1160.5,1275.1 1161.8,1277.2 1163.0,1275.0 1164.2,1277.9 1165.5,1275.8 1166.8,1278.9 1168.0,1277.4 1169.2,1280.3 1170.5,1278.3 1171.8,1280.6 1173.0,1277.4 1174.2,1278.8 1175.5,1275.8 1176.8,1278.8 1178.0,1277.3 1179.2,1280.5 1180.5,1278.6 1181.8,1280.4 1183.0,1277.3 1184.2,1279.2 1185.5,1276.9 1186.8,1279.7 1188.0,1277.8 1189.2,1281.1 1190.5,1279.1 1191.8,1281.8 1193.0,1279.2 1194.2,1281.0 1195.5,1278.2 1196.8,1279.7 1198.0,1277.2 1199.2,1279.8 1200.5,1278.0 1201.8,1281.1 1203.0,1279.2 1204.2,1281.9 1205.5,1279.2 1206.8,1281.1 1208.0,1278.7 1209.2,1280.8 1210.5,1278.4 1211.8,1280.6 1213.0,1278.5 1214.2,1280.5 1215.5,1278.1 1216.8,1280.3 1218.0,1277.9 1219.2,1280.3 1220.5,1277.8 1221.8,1280.2 1223.0,1277.8 1224.2,1280.3 1225.5,1277.9 1226.8,1280.8 1228.0,1278.7 1229.2,1281.3 1230.5,1279.5 1231.8,1281.9 1233.0,1278.8 1234.2,1280.8 1235.5,1277.9 1236.8,1280.0 1238.0,1277.3 1239.2,1279.9 1240.5,1277.4 1241.8,1279.8 1243.0,1277.0 1244.2,1279.6 1245.5,1277.3 1246.8,1279.5 1248.0,1277.5 1249.2,1279.7 1250.5,1277.6 1251.8,1279.7 1253.0,1277.2 1254.2,1279.4 1255.5,1277.0 1256.8,1279.8 1258.0,1277.4 1259.2,1279.6 1260.5,1277.1 1261.8,1279.7 1263.0,1277.4 1264.2,1280.0 1265.5,1277.7 1266.8,1280.4 1268.0,1278.2 1269.2,1280.8 1270.5,1278.0 1271.8,1279.5 1273.0,1276.9 1274.2,1279.5 1275.5,1277.0 1276.8,1279.0 1278.0,1275.9 1279.2,1277.7 1280.5,1274.6 1281.8,1277.0 1283.0,1274.4 1284.2,1276.9 1285.5,1274.9 1286.8,1277.5 1288.0,1275.4 1289.2,1277.8 1290.5,1274.9 1291.8,1276.3 1293.0,1272.7 1293.5,1274.1 1294.2,1271.5 1295.5,1274.5 1296.8,1273.0 1298.0,1276.8 1299.2,1275.3 1300.5,1278.4 1301.8,1276.8 1303.0,1279.6 1304.2,1277.1 1305.5,1279.2 1306.8,1276.1 1308.0,1278.5 1309.2,1276.0 1310.5,1278.8 1311.8,1276.9 1313.0,1279.4 1314.2,1277.3 1315.5,1279.7 1316.8,1277.5 1318.0,1280.2 1319.2,1278.2 1320.5,1280.5 1321.8,1278.4 1323.0,1281.2 1324.2,1278.9 1325.5,1281.0 1326.8,1278.6 1328.0,1280.4 1329.2,1277.8 1330.5,1280.7 1331.8,1278.9 1333.0,1281.8 1334.2,1279.6 1335.5,1282.1 1336.8,1280.0 1338.0,1282.2 1339.2,1279.6 1340.5,1281.2 1341.8,1278.5 1343.0,1280.3 1344.2,1278.2 1345.5,1281.2 1346.8,1279.0 1348.0,1281.2 1349.2,1278.2 1350.5,1280.2 1351.8,1277.9 1353.0,1281.0 1354.2,1279.4 1355.5,1281.9 1356.8,1279.4 1358.0,1281.2 1359.2,1278.5 1360.5,1280.6 1361.8,1278.4 1363.0,1281.1 1364.2,1278.8 1365.5,1281.1 1366.8,1278.3 1368.0,1280.8 1369.2,1278.8 1370.5,1281.5 1371.8,1279.2 1373.0,1281.5 1374.2,1279.1 1375.5,1281.7 1376.8,1279.8 1378.0,1282.0 1379.2,1279.3 1380.5,1281.3 1381.8,1278.9 1383.0,1281.4 1384.2,1279.9 1385.5,1283.3 1386.8,1281.6 1388.0,1284.0 1389.2,1281.3 1390.5,1283.2 1391.8,1279.9 1393.0,1282.0 1394.2,1280.0 1395.5,1282.3 1396.8,1280.3 1398.0,1283.1 1399.2,1281.0 1400.5,1283.1 1401.8,1280.1 1403.0,1282.2 1404.2,1279.9 1405.5,1282.8 1406.8,1281.5 1408.0,1284.8 1409.2,1282.5 1410.5,1284.8 1411.8,1281.8 1413.0,1283.7 1414.2,1281.2 1415.5,1284.1 1416.8,1282.1 1418.0,1285.0 1419.2,1283.0 1420.5,1285.3 1421.8,1282.4 1423.0,1284.5 1424.2,1281.6 1425.5,1284.0 1426.8,1281.9 1428.0,1284.3 1429.2,1281.9 1430.5,1284.1 1431.8,1281.4 1433.0,1283.9 1434.2,1281.8 1435.5,1284.7 1436.8,1282.8 1438.0,1285.3 1439.2,1282.7 1440.5,1285.1 1441.8,1283.3 1443.0,1286.2 1444.2,1284.2 1445.5,1286.7 1446.8,1283.8 1448.0,1285.8 1449.2,1282.7 1450.5,1285.1 1451.8,1282.5 1453.0,1284.6 1454.2,1282.7 1455.5,1285.2 1456.8,1283.5 1458.0,1286.1 1459.2,1283.7 1460.5,1286.1 1461.8,1284.1 1463.0,1286.4 1464.2,1283.6 1465.5,1286.0 1466.8,1283.7 1468.0,1286.0 1469.2,1284.0 1470.5,1286.5 1471.8,1284.0 1473.0,1286.4 1474.2,1284.1 1475.5,1286.3 1476.8,1284.0 1478.0,1285.3 1479.2,1281.8 1480.5,1282.3 1481.8,1278.6 1483.0,1280.2 1484.0,1277.7 1484.2,1280.3 1485.5,1278.6 1486.8,1282.9 1488.0,1282.0 1489.2,1285.7 1490.5,1284.1 1491.8,1287.0 1493.0,1285.1 1494.2,1287.2 1495.5,1285.0 1496.8,1287.1 1498.0,1284.9 1499.2,1287.3 1500.5,1285.2 1501.8,1287.5 1503.0,1285.2 1504.2,1287.4 1505.5,1285.1 1506.8,1287.1 1508.0,1284.6 1509.2,1286.9 1510.5,1284.6 1511.8,1287.2 1513.0,1284.4 1514.2,1286.9 1515.5,1284.1 1516.8,1286.5 1518.0,1284.3 1519.2,1286.6 1520.5,1284.4 1521.8,1287.0 1523.0,1284.8 1524.2,1287.1 1525.5,1285.1 1526.8,1287.8 1528.0,1285.9 1529.2,1287.9 1530.5,1285.1 1531.8,1287.0 1533.0,1284.3 1534.2,1286.9 1535.5,1285.1 1536.8,1287.5 1538.0,1284.9 1539.2,1287.5 1540.5,1285.1 1541.8,1287.6 1543.0,1285.1 1544.2,1287.4 1545.5,1284.9 1546.8,1287.7 1548.0,1285.7 1549.2,1288.8 1550.5,1287.1 1551.8,1290.0 1553.0,1287.2 1554.2,1289.3 1555.5,1286.1 1556.8,1287.4 1558.0,1284.7 1559.2,1287.3 1560.5,1285.3 1561.8,1288.0 1563.0,1285.6 1564.2,1287.4 1565.5,1284.1 1566.8,1286.0 1568.0,1283.7 1569.2,1286.3 1570.5,1283.8 1571.8,1286.4 1573.0,1284.5 1574.2,1287.6 1575.5,1285.3 1576.8,1288.2 1578.0,1286.0 1579.2,1288.4 1580.5,1285.6 1581.8,1287.8 1583.0,1285.1 1584.2,1287.2 1585.5,1285.0 1586.8,1287.8 1588.0,1285.5 1589.2,1287.8 1590.5,1285.0 1591.8,1287.5 1593.0,1285.7 1594.2,1288.6 1595.5,1286.1 1596.8,1288.3 1598.0,1285.6 1599.2,1287.9 1600.5,1285.1 1601.8,1287.3 1603.0,1284.9 1604.2,1287.5 1605.5,1285.1 1606.8,1287.7 1608.0,1285.1 1609.2,1287.3 1610.5,1285.2 1611.8,1288.0 1613.0,1286.1 1614.2,1289.1 1615.5,1286.9 1616.8,1289.3 1618.0,1286.5 1619.2,1288.9 1620.5,1286.4 1621.8,1288.8 1623.0,1286.3 1624.2,1288.4 1625.5,1286.2 1626.8,1288.4 1628.0,1285.8 1629.2,1288.5 1630.5,1286.3 1631.8,1288.4 1633.0,1286.0 1634.2,1288.2 1635.5,1285.5 1636.8,1287.3 1638.0,1284.9 1639.2,1287.0 1640.5,1284.1 1641.8,1286.9 1643.0,1285.2 1644.2,1288.4 1645.5,1286.2 1646.8,1288.6 1648.0,1286.2 1649.2,1288.9 1650.5,1287.1 1651.8,1290.0 1653.0,1287.3 1654.2,1289.6 1655.5,1286.8 1656.8,1288.8 1658.0,1286.4 1659.2,1288.6 1660.5,1285.8 1661.8,1288.1 1663.0,1285.4 1664.2,1287.8 1665.5,1285.6 1666.8,1288.3 1668.0,1285.9 1669.2,1288.8 1670.5,1286.4 1671.8,1289.1 1673.0,1286.8 1674.2,1289.4 1675.5,1286.6 1676.8,1289.2 1678.0,1286.3 1679.2,1288.2 1680.5,1285.6 1681.8,1287.7 1683.0,1285.6 1684.2,1288.9 1685.5,1287.5 1686.8,1290.5 1688.0,1288.3 1689.2,1289.9 1690.5,1286.6 1691.8,1288.6 1693.0,1286.0 1694.2,1288.3 1695.5,1286.2 1696.8,1288.8 1698.0,1286.3 1699.2,1288.3 1700.5,1285.6 1701.8,1288.1 1703.0,1286.8 1704.2,1289.6 1705.5,1287.4 1706.8,1289.0 1708.0,1286.5 1709.2,1288.6 1710.5,1286.4 1711.8,1288.9 1713.0,1286.7 1714.2,1288.8 1715.5,1286.4 1716.8,1288.5 1718.0,1286.2 1719.2,1288.3 1720.5,1286.2 1721.8,1288.9 1723.0,1286.7 1724.2,1288.3 1725.5,1285.5 1726.8,1288.2 1728.0,1286.2 1729.2,1289.0 1730.5,1286.6 1731.8,1288.8 1733.0,1286.0 1734.2,1288.0 1735.5,1285.0 1736.8,1287.0 1738.0,1284.7 1739.2,1287.8 1740.5,1285.9 1741.8,1288.8 1743.0,1286.0 1744.2,1288.0 1745.5,1285.1 1746.8,1287.4 1748.0,1284.8 1749.2,1287.6 1750.5,1285.8 1751.8,1288.3 1753.0,1286.4 1754.2,1289.2 1755.5,1287.2 1756.8,1289.6 1758.0,1287.2 1759.2,1289.6 1760.5,1286.9 1761.8,1289.1 1763.0,1286.3 1764.2,1288.7 1765.5,1286.8 1766.8,1289.3 1768.0,1286.4 1769.2,1288.2 1770.5,1285.0 1771.8,1287.0 1773.0,1284.8 1774.2,1287.5 1775.5,1285.9 1776.8,1289.1 1778.0,1287.7 1779.2,1290.5 1780.5,1288.5 1781.8,1290.6 1783.0,1287.5 1784.2,1289.8 1785.5,1287.3 1786.8,1289.5 1788.0,1287.4 1789.2,1290.1 1790.5,1287.8 1791.8,1289.5 1793.0,1286.0 1794.2,1287.1 1795.5,1284.5 1796.8,1287.3 1798.0,1285.7 1799.2,1288.6 1800.5,1286.4 1801.8,1288.8 1803.0,1286.7 1804.2,1289.5 1805.5,1287.5 1806.8,1290.2 1808.0,1288.1 1809.2,1289.8 1810.5,1287.2 1811.8,1289.4 1813.0,1287.0 1814.2,1289.7 1815.5,1286.9 1816.8,1289.1 1818.0,1286.5 1819.2,1288.7 1820.5,1286.4 1821.8,1289.1 1823.0,1286.4 1824.2,1288.1 1825.5,1285.4 1826.8,1288.0 1828.0,1285.5 1829.2,1288.4 1830.5,1286.2 1831.8,1289.1 1833.0,1286.9 1834.2,1290.1 1835.5,1288.1 1836.8,1290.5 1838.0,1287.4 1839.2,1289.5 1840.5,1286.8 1841.8,1289.0 1843.0,1286.5 1844.2,1289.1 1845.5,1286.6 1846.8,1289.2 1848.0,1286.7 1849.2,1289.1 1850.5,1286.8 1851.8,1289.7 1853.0,1287.9 1854.2,1290.7 1855.5,1288.4 1856.8,1290.8 1858.0,1288.4 1859.2,1290.6 1860.5,1287.7 1861.8,1289.6 1863.0,1286.5 1864.2,1289.0 1865.5,1286.5 1866.8,1289.4 1868.0,1287.0 1869.2,1289.4 1870.5,1287.3 1871.8,1290.2 1873.0,1287.6 1874.2,1290.3 1875.5,1287.6 1876.8,1289.9 1878.0,1287.1 1879.2,1288.9 1880.5,1286.5 1881.8,1288.9 1883.0,1286.6 1884.2,1289.7 1885.5,1287.3 1886.8,1289.6 1888.0,1287.1 1889.2,1289.4 1890.5,1286.9 1891.8,1289.3 1893.0,1286.4 1894.2,1288.4 1895.5,1285.9 1896.8,1288.6 1898.0,1286.8 1899.2,1290.0 1900.5,1288.2 1901.8,1290.6 1903.0,1288.3 1904.2,1290.3 1905.5,1287.6 1906.8,1289.5 1908.0,1286.7 1909.2,1288.6 1910.5,1286.1 1911.8,1288.4 1913.0,1285.8 1914.2,1288.6 1915.5,1286.4 1916.8,1288.9 1918.0,1286.1 1919.2,1288.0 1920.5,1285.3 1921.8,1288.1 1923.0,1285.8 1924.2,1288.9 1925.5,1287.1 1926.8,1290.4 1928.0,1288.3 1929.2,1290.5 1930.5,1287.9 1931.8,1290.2 1933.0,1287.7 1934.2,1289.8 1935.5,1287.1 1936.8,1289.4 1938.0,1286.9 1939.2,1289.4 1940.5,1287.4 1941.8,1289.7 1943.0,1287.6 1944.2,1289.7 1945.5,1287.5 1946.8,1290.0 1948.0,1287.4 1949.2,1289.7 1950.5,1287.3 1951.8,1289.6 1953.0,1286.9 1954.2,1289.1 1955.5,1287.0 1956.8,1289.6 1958.0,1287.6 1959.2,1290.2 1960.5,1287.4 1961.8,1289.5 1963.0,1286.8 1964.2,1289.0 1965.5,1286.4 1966.8,1288.8 1968.0,1286.8 1969.2,1289.7 1970.5,1287.9 1971.8,1289.9 1973.0,1286.8 1974.2,1288.9 1975.5,1286.3 1976.8,1288.7 1978.0,1286.4 1979.2,1289.0 1980.5,1286.7 1981.8,1289.6 1983.0,1287.4 1984.2,1290.3 1985.5,1287.7 1986.8,1289.9 1988.0,1287.4 1989.2,1289.1 1990.5,1286.4 1991.8,1288.5 1993.0,1286.1 1994.2,1288.7 1995.5,1286.9 1996.8,1289.6 1998.0,1286.9 1999.2,1288.6 2000.5,1286.2 2001.8,1288.8 2003.0,1286.9 2004.2,1289.5 2005.5,1287.5 2006.8,1290.1 2008.0,1287.8 2009.2,1290.0 2010.5,1287.3 2011.8,1289.7 2013.0,1287.3 2014.2,1289.7 2015.5,1287.2 2016.8,1289.2 2018.0,1286.9 2019.2,1289.7 2020.5,1287.8 2021.8,1291.3 2023.0,1289.1 2024.2,1291.1 2025.5,1287.7 2026.8,1289.5 2028.0,1287.2 2029.2,1289.5 2030.5,1287.6 2031.8,1290.2 2033.0,1287.6 2034.2,1289.4 2035.5,1286.8 2036.8,1289.7 2038.0,1287.7 2039.2,1290.4 2040.5,1287.9 2041.8,1289.9 2043.0,1287.2 2044.2,1289.4 2045.5,1286.6 2046.8,1288.8 2048.0,1285.7 2049.2,1288.1 2050.5,1286.0 2051.8,1288.9 2053.0,1286.9 2054.2,1289.7 2055.5,1287.4 2056.8,1289.6 2058.0,1287.4 2059.2,1289.2 2060.5,1286.1 2061.8,1288.1 2063.0,1285.3 2064.2,1287.4 2065.5,1285.5 2066.8,1288.7 2068.0,1286.7 2069.2,1289.8 2070.5,1286.9 2071.8,1288.6 2073.0,1285.9 2074.2,1288.2 2075.5,1286.1 2076.8,1289.1 2078.0,1287.0 2079.2,1289.7 2080.5,1286.9 2081.8,1289.4 2083.0,1286.8 2084.2,1289.2 2085.5,1286.5 2086.8,1288.5 2088.0,1286.4 2089.2,1289.8 2090.5,1288.5 2091.8,1290.9 2093.0,1288.2 2094.2,1289.7 2095.5,1287.3 2096.8,1289.4 2098.0,1286.8 2099.2,1289.0 2100.5,1286.5 2101.8,1289.4 2103.0,1286.9 2104.2,1289.1 2105.5,1286.4 2106.8,1288.8 2108.0,1286.9 2109.2,1289.8 2110.5,1287.3 2111.8,1289.8 2113.0,1287.2 2114.2,1289.4 2115.5,1286.9 2116.8,1289.4 2118.0,1287.1 2119.2,1289.4 2120.5,1287.3 2121.8,1290.3 2123.0,1287.8 2124.2,1290.0 2125.5,1287.1 2126.8,1288.7 2128.0,1286.2 2129.2,1288.6 2130.5,1286.6 2131.8,1289.1 2133.0,1286.8 2134.2,1289.2 2135.5,1286.6 2136.8,1288.8 2138.0,1286.3 2139.2,1288.2 2140.5,1285.9 2141.8,1288.5 2143.0,1286.4 2144.2,1288.5 2145.5,1286.3 2146.8,1288.4 2148.0,1286.5 2149.2,1289.4 2150.5,1287.7 2151.8,1290.7 2153.0,1288.1 2154.2,1290.4 2155.5,1287.9 2156.8,1289.5 2158.0,1286.5 2159.2,1288.2 2160.5,1285.2 2161.8,1287.7 2163.0,1285.5 2164.2,1288.9 2165.5,1287.1 2166.8,1290.2 2168.0,1287.9 2169.2,1289.4 2170.5,1286.3 2171.8,1288.3 2173.0,1285.6 2174.2,1287.8 2175.5,1285.2 2176.8,1287.6 2178.0,1285.2 2179.2,1287.5 2180.5,1285.5 2181.8,1288.3 2183.0,1286.5 2184.2,1289.0 2185.5,1287.0 2186.8,1289.6 2188.0,1286.9 2189.2,1288.7 2190.5,1286.0 2191.8,1288.5 2193.0,1286.4 2194.2,1289.1 2195.5,1286.6 2196.8,1289.0 2198.0,1287.0 2199.2,1289.8 2200.5,1287.5 2201.8,1290.2 2203.0,1288.1 2204.2,1290.3 2205.5,1287.6 2206.8,1289.6 2208.0,1286.8 2209.2,1288.9 2210.5,1286.7 2211.8,1288.7 2213.0,1286.4 2214.2,1289.1 2215.5,1287.0 2216.8,1289.6 2218.0,1287.5 2219.2,1289.6 2220.5,1287.0 2221.8,1289.2 2223.0,1286.8 2224.2,1289.1 2225.5,1286.8 2226.8,1288.8 2228.0,1286.5 2229.2,1288.9 2230.5,1286.6 2231.8,1288.7 2233.0,1286.0 2234.2,1288.0 2235.5,1285.5 2236.8,1288.4 2238.0,1286.1 2239.2,1288.8 2240.5,1285.9 2241.8,1287.9 2243.0,1285.1 2244.2,1287.5 2245.5,1285.8 2246.8,1288.9 2248.0,1287.0 2249.2,1289.8 2250.5,1287.3 2251.8,1289.7 2253.0,1287.1 2254.2,1289.1 2255.5,1286.4 2256.8,1288.3 2258.0,1285.9 2259.2,1288.5 2260.5,1286.4 2261.8,1289.0 2263.0,1286.9 2264.2,1289.5 2265.5,1287.3 2266.8,1289.8 2268.0,1287.5 2269.2,1289.8 2270.5,1287.4 2271.8,1289.6 2273.0,1287.5 2274.2,1290.1 2275.5,1287.8 2276.8,1290.0 2278.0,1287.5 2279.2,1289.6 2280.5,1287.2 2281.8,1289.4 2283.0,1286.6 2284.2,1288.9 2285.5,1286.4 2286.8,1288.7 2288.0,1286.2 2289.2,1288.4 2290.5,1286.4 2291.8,1289.1 2293.0,1287.4 2294.2,1289.9 2295.5,1287.3 2296.8,1288.5 2298.0,1285.0 2299.2,1287.2 2300.5,1285.1 2301.8,1288.2 2303.0,1286.3 2304.2,1288.6 2305.5,1286.2 2306.8,1288.6 2308.0,1286.3 2309.2,1288.6 2310.5,1286.3 2311.8,1289.0 2313.0,1287.4 2314.2,1290.6 2315.5,1288.8 2316.8,1290.8 2318.0,1288.3 2319.2,1290.5 2320.5,1287.9 2321.8,1290.4 2323.0,1287.1 2324.2,1288.7 2325.5,1285.6 2326.8,1288.0 2328.0,1286.2 2329.2,1289.0 2330.5,1286.8 2331.8,1289.3 2333.0,1287.4 2334.2,1290.2 2335.5,1288.3 2336.8,1291.4 2338.0,1288.7 2339.2,1290.5 2340.5,1287.4 2341.8,1289.5 2343.0,1287.2 2344.2,1290.3 2345.5,1288.1 2346.8,1291.1 2348.0,1288.9 2349.2,1291.2 2350.5,1288.3 2351.8,1290.3 2353.0,1287.6 2354.2,1290.1 2355.5,1288.3 2356.8,1291.0 2358.0,1289.2 2359.2,1291.5 2360.5,1289.0 2361.8,1290.5 2363.0,1287.5 2364.2,1289.0 2365.5,1286.2 2366.8,1288.3 2368.0,1285.6 2369.2,1288.2 2370.5,1285.9 2371.8,1288.9 2373.0,1287.3 2374.2,1290.5 2375.5,1288.3 2376.8,1290.9 2378.0,1288.5 2379.2,1290.7 2380.5,1287.8 2381.8,1289.8 2383.0,1286.7 2383.5,1288.0" stroke="#0000ff"/>
<path d="M179.0,1056.8 182.2,1045.3 185.4,1057.2 188.6,1045.3 191.8,1059.0 195.0,1043.4 198.2,1059.4 201.4,1045.7 204.6,1056.3 207.8,1047.6 211.0,1060.6 214.2,1041.7 217.4,1054.4 220.6,1036.8 223.8,1051.6 227.0,1042.0 230.2,1059.6 233.4,1048.8 236.6,1060.4 239.8,1047.5 243.0,1056.6 246.2,1044.5 249.4,1059.7 252.6,1047.6 255.8,1059.5 259.0,1045.2 262.2,1059.7 265.4,1048.3 268.6,1059.0 271.8,1048.4 275.0,1058.2 278.2,1047.0 281.4,1061.9 284.6,1046.7 287.8,1057.7 291.0,1045.9 294.2,1056.8 297.4,1044.9 300.6,1061.0 303.8,1048.4 307.0,1058.4 310.2,1045.1 313.4,1059.5 316.6,1047.2 319.8,1060.9 323.0,1044.8 326.2,1059.4 329.4,1046.9 332.6,1061.1 335.8,1044.6 339.0,1059.1 342.2,1044.3 345.4,1057.9 348.6,1047.8 351.8,1059.0 355.0,1046.5 358.2,1059.4 361.4,1044.8 364.6,1060.9 367.8,1044.1 371.0,1058.5 374.2,1048.3 377.4,1060.3 380.6,1046.2 383.8,1058.6 387.0,1043.6 390.2,1058.7 393.4,1045.2 396.6,1059.2 399.8,1048.9 403.0,1059.8 406.2,1045.5 409.4,1059.4 412.6,1043.9 415.8,1061.0 419.0,1047.2 422.2,1060.3 425.4,1046.3M454.2,1052.3 457.4,1045.6 460.6,1059.7 463.8,1040.0 467.0,1059.3 470.2,1042.5 473.4,1060.5 476.6,1038.1 479.8,1046.7 483.0,1019.8 486.2,1054.2 489.4,1042.2 492.6,1057.5 495.8,1037.3 499.0,1054.5 502.2,1040.0 505.4,1057.7M521.4,1037.8 524.6,1056.3 527.8,1033.4 531.0,1051.3 534.2,1039.1 537.4,1050.8M553.4,1030.5 556.6,1050.7 559.8,1033.1 563.0,1050.5 566.2,1035.2 569.4,1046.5 572.6,1028.9 575.8,1046.0M591.8,1020.0 595.0,1037.6 598.2,1021.1 601.4,1034.2M617.4,1023.2 620.6,1032.0 623.8,1020.2 627.0,1033.2 630.2,1022.8 633.4,1031.8 636.6,1020.6 639.8,1035.3 643.0,1019.3 646.2,1035.2 649.4,1022.3 652.6,1036.9 655.8,1020.9 659.0,1033.6 662.2,1018.2 665.4,1032.5 668.6,1024.5 671.8,1036.4 675.0,1026.1 678.2,1038.4 681.4,1028.6 684.6,1040.9 687.8,1030.0 691.0,1044.6 694.2,1032.8 697.4,1047.4 700.6,1033.6 703.8,1045.8 707.0,1034.9 710.2,1045.5 713.4,1036.6 716.6,1052.6 719.8,1036.1 723.0,1051.3 726.2,1039.8 729.4,1052.1 732.6,1037.1 735.8,1051.2 739.0,1039.2 742.2,1051.3 745.4,1041.7 748.6,1055.6 751.8,1043.0 755.0,1054.1 758.2,1042.5 761.4,1055.0 764.6,1044.7 767.8,1054.9 771.0,1043.8 774.2,1058.5 777.4,1045.2 780.6,1057.6 783.8,1046.3 787.0,1059.9 790.2,1043.6 793.4,1058.2 796.6,1043.5 799.8,1060.5 803.0,1047.9 806.2,1057.9 809.4,1045.7 812.6,1059.5 815.8,1043.0 819.0,1059.3 822.2,1045.3 825.4,1059.3 828.6,1048.3 831.8,1061.5 835.0,1045.7 838.2,1059.2 841.4,1047.1 844.6,1060.9 847.8,1047.4 851.0,1055.7 854.2,1034.6 857.4,1039.5 860.6,1032.7 863.8,1058.4 867.0,1048.1 870.2,1059.1 873.4,1049.6 876.6,1059.9 879.8,1049.3 883.0,1057.0 886.2,1043.9 889.4,1057.9 892.6,1046.5 895.8,1060.5 899.0,1046.5 902.2,1058.1 905.4,1044.8 908.6,1059.3 911.8,1045.5 915.0,1061.4 918.2,1048.0 921.4,1061.9 924.6,1047.3 927.8,1061.5 931.0,1048.6 934.2,1059.5 937.4,1048.6 940.6,1059.1 943.8,1046.5 947.0,1059.0 950.2,1047.9 953.4,1059.1 956.6,1046.2 959.8,1058.7 963.0,1043.7 966.2,1058.5 969.4,1041.1 972.6,1053.8 975.8,1042.2 979.0,1061.1 982.2,1048.4 985.4,1059.6 988.6,1039.8 991.8,1045.6 995.0,1033.7 998.2,1055.5 1001.4,1045.7 1004.6,1061.5 1007.8,1043.5 1011.0,1057.1 1014.2,1046.9 1017.4,1057.5 1020.6,1045.4 1023.8,1056.1 1027.0,1045.1 1030.2,1055.2 1033.4,1041.5 1036.6,1054.3 1039.8,1040.9 1043.0,1053.8 1046.2,1039.6 1049.4,1055.9 1052.6,1041.0 1055.8,1054.3 1059.0,1039.4 1062.2,1055.5 1065.4,1038.8 1068.6,1054.4 1071.8,1041.9 1075.0,1055.4 1078.2,1038.5 1081.4,1056.4 1084.6,1039.8 1087.8,1052.7 1091.0,1042.7 1094.2,1052.2 1097.4,1038.1 1100.6,1055.7 1103.8,1041.8 1107.0,1052.4 1110.2,1038.8 1113.4,1053.5 1116.6,1036.8 1119.8,1051.2 1123.0,1034.4 1126.2,1040.8 1129.4,1023.9 1132.6,1046.7 1135.8,1035.9 1139.0,1054.7 1142.2,1038.7 1145.4,1052.6 1148.6,1038.8 1151.8,1051.9 1155.0,1038.6 1158.2,1052.4 1161.4,1044.6 1164.6,1057.4 1167.8,1044.7 1171.0,1054.5 1174.2,1040.4 1177.4,1055.9 1180.6,1046.0 1183.8,1059.4 1187.0,1042.8 1190.2,1057.3 1193.4,1042.5 1196.6,1055.1 1199.8,1045.9 1203.0,1058.4 1206.2,1044.9 1209.4,1056.2 1212.6,1046.3 1215.8,1059.5 1219.0,1044.3 1222.2,1055.5 1225.4,1041.4 1228.6,1056.5 1231.8,1046.4 1235.0,1057.2 1238.2,1043.2 1241.4,1056.4 1244.6,1043.4 1247.8,1059.5 1251.0,1045.1 1254.2,1058.7 1257.4,1043.1 1260.6,1055.2 1263.8,1042.6 1267.0,1057.6 1270.2,1045.2 1273.4,1058.7 1276.6,1042.5 1279.8,1056.2 1283.0,1044.2 1286.2,1057.9 1289.4,1044.2 1292.6,1059.9 1295.8,1044.0 1299.0,1056.7 1302.2,1042.2 1305.4,1056.8 1308.6,1045.3 1311.8,1054.4 1315.0,1041.5 1318.2,1059.4 1321.4,1044.2 1324.6,1058.3 1327.8,1043.0 1331.0,1056.3 1334.2,1042.0 1337.4,1054.2 1340.6,1041.1 1343.8,1056.0 1347.0,1044.1 1350.2,1056.4 1353.4,1042.5 1356.6,1055.2 1359.8,1040.1 1363.0,1057.0 1366.2,1044.7 1369.4,1057.0 1372.6,1042.6 1375.8,1057.3 1379.0,1043.4 1382.2,1054.6 1385.4,1043.3 1388.6,1057.7 1391.8,1043.3 1395.0,1056.3 1398.2,1046.6 1401.4,1058.6 1404.6,1045.2 1407.8,1062.5 1411.0,1049.7 1414.2,1062.5 1417.4,1046.0 1420.6,1063.4 1423.8,1048.8 1427.0,1065.7 1430.2,1047.2 1433.4,1064.8 1436.6,1050.1 1439.8,1061.2 1443.0,1050.8 1446.2,1062.7 1449.4,1050.4 1452.6,1059.4 1455.8,1047.1 1459.0,1061.5 1462.2,1051.6 1465.4,1060.7 1468.6,1048.7 1471.8,1061.7 1475.0,1049.3 1478.2,1066.2 1481.4,1045.2 1484.6,1057.3 1487.8,1043.4 1491.0,1061.9 1494.2,1047.8 1497.4,1064.6 1500.6,1049.8 1503.8,1063.8 1507.0,1048.6 1510.2,1059.3 1513.4,1048.1 1516.6,1060.9 1519.8,1047.1 1523.0,1065.7 1526.2,1050.3 1529.4,1064.5 1532.6,1048.9 1535.8,1062.0 1539.0,1049.8 1542.2,1065.0 1545.4,1049.4 1548.6,1064.5 1551.8,1052.0 1555.0,1062.3 1558.2,1048.6 1561.4,1061.4 1564.6,1051.3 1567.8,1061.1 1571.0,1051.4 1574.2,1063.5 1577.4,1049.8 1580.6,1061.0 1583.8,1047.0 1587.0,1061.8 1590.2,1049.0 1593.4,1063.8 1596.6,1050.7 1599.8,1064.0 1603.0,1049.5 1606.2,1063.2 1609.4,1048.6 1612.6,1061.2 1615.8,1049.5 1619.0,1063.3 1622.2,1050.3 1625.4,1064.3 1628.6,1048.6 1631.8,1064.3 1635.0,1050.3 1638.2,1061.7 1641.4,1050.0 1644.6,1064.0 1647.8,1048.7 1651.0,1065.5 1654.2,1048.8 1657.4,1065.4 1660.6,1048.7 1663.8,1064.4 1667.0,1047.8 1670.2,1062.5 1673.4,1051.8 1676.6,1063.0 1679.8,1052.0 1683.0,1066.0 1686.2,1051.3 1689.4,1062.9 1692.6,1049.3 1695.8,1064.1 1699.0,1052.2 1702.2,1063.2 1705.4,1050.1 1708.6,1063.2 1711.8,1052.0 1715.0,1062.8 1718.2,1050.0 1721.4,1064.9 1724.6,1049.5 1727.8,1060.9 1731.0,1050.1 1734.2,1065.8 1737.4,1051.5 1740.6,1066.0 1743.8,1050.7 1747.0,1065.9 1750.2,1049.8 1753.4,1063.9 1756.6,1049.6 1759.8,1063.8 1763.0,1047.6 1766.2,1063.3 1769.4,1051.3 1772.6,1065.6 1775.8,1051.2 1779.0,1062.3 1782.2,1049.6 1785.4,1063.0 1788.6,1048.8 1791.8,1065.3 1795.0,1049.2 1798.2,1063.8 1801.4,1051.6 1804.6,1066.5 1807.8,1051.3 1811.0,1061.1 1814.2,1052.6 1817.4,1065.5 1820.6,1050.2 1823.8,1063.0 1827.0,1052.5 1830.2,1063.6 1833.4,1050.4 1836.6,1065.2 1839.8,1050.0 1843.0,1064.3 1846.2,1048.8 1849.4,1063.5 1852.6,1047.6 1855.8,1064.3 1859.0,1049.3 1862.2,1061.7 1865.4,1051.4 1868.6,1065.9 1871.8,1051.9 1875.0,1062.2 1878.2,1046.9 1881.4,1061.1 1884.6,1049.3 1887.8,1066.3 1891.0,1051.6 1894.2,1066.0 1897.4,1051.7 1900.6,1062.9 1903.8,1049.3 1907.0,1061.8 1910.2,1048.7 1913.4,1063.5 1916.6,1051.4 1919.8,1065.2 1923.0,1049.5 1926.2,1064.5 1929.4,1048.0 1932.6,1063.0 1935.8,1048.9 1939.0,1064.9 1942.2,1048.7 1945.4,1062.2 1948.6,1048.1 1951.8,1066.0 1955.0,1053.0 1958.2,1064.1 1961.4,1048.4 1964.6,1062.9 1967.8,1052.3 1971.0,1066.3 1974.2,1048.8 1977.4,1064.0 1980.6,1051.3 1983.8,1065.4 1987.0,1051.2 1990.2,1064.1 1993.4,1047.8 1996.6,1063.7 1999.8,1050.6 2003.0,1062.7 2006.2,1052.9 2009.4,1065.3 2012.6,1048.9 2015.8,1066.0 2019.0,1050.9 2022.2,1062.6 2025.4,1050.9 2028.6,1065.8 2031.8,1052.4 2035.0,1062.9 2038.2,1052.6 2041.4,1065.9 2044.6,1050.1 2047.8,1063.8 2051.0,1050.8 2054.2,1063.8 2057.4,1051.3 2060.6,1066.9 2063.8,1053.3 2067.0,1065.7 2070.2,1046.8 2073.4,1062.7 2076.6,1051.0 2079.8,1065.0 2083.0,1047.8 2086.2,1061.1 2089.4,1049.6 2092.6,1062.1 2095.8,1051.5 2099.0,1061.8 2102.2,1051.4 2105.4,1062.8 2108.6,1051.2 2111.8,1062.4 2115.0,1053.1 2118.2,1066.3 2121.4,1050.5 2124.6,1065.4 2127.8,1052.0 2131.0,1062.4 2134.2,1052.9 2137.4,1062.1 2140.6,1051.5 2143.8,1063.0 2147.0,1051.0 2150.2,1063.0 2153.4,1049.3 2156.6,1067.3 2159.8,1052.1 2163.0,1066.3 2166.2,1052.0 2169.4,1065.4 2172.6,1051.4 2175.8,1064.3 2179.0,1049.8 2182.2,1065.2 2185.4,1048.1 2188.6,1065.7 2191.8,1051.2 2195.0,1062.4 2198.2,1050.4 2201.4,1064.9 2204.6,1049.2 2207.8,1065.8 2211.0,1049.3 2214.2,1063.1 2217.4,1050.2 2220.6,1068.0 2223.8,1054.0 2227.0,1063.8 2230.2,1051.2 2233.4,1065.9 2236.6,1049.2 2239.8,1064.3 2243.0,1051.0 2246.2,1063.5 2249.4,1049.2 2252.6,1063.1 2255.8,1053.4 2259.0,1066.2 2262.2,1050.0 2265.4,1062.4 2268.6,1053.1 2271.8,1064.0 2275.0,1050.8 2278.2,1062.3 2281.4,1051.4 2284.6,1066.6 2287.8,1053.4 2291.0,1062.6 2294.2,1051.8 2297.4,1065.5 2300.6,1050.3 2303.8,1063.1 2307.0,1050.5 2310.2,1064.6 2313.4,1050.8 2316.6,1066.5 2319.8,1051.3 2323.0,1064.0 2326.2,1049.6 2329.4,1065.4 2332.6,1050.1 2335.8,1063.9 2339.0,1052.4 2342.2,1064.3 2345.4,1051.9 2348.6,1063.6 2351.8,1049.7 2355.0,1065.5 2358.2,1049.9 2361.4,1064.0 2364.6,1051.0 2367.8,1066.6 2371.0,1052.6 2374.2,1066.1 2377.4,1052.4 2380.6,1065.2" stroke="#008080" class="fz"/>
<polyline points="178.0,1051.0 179.2,1048.4 180.5,1050.7 181.8,1049.5 183.0,1051.9 184.2,1049.9 185.5,1052.1 186.8,1050.2 188.0,1052.2 189.2,1050.3 190.5,1052.0 191.8,1050.4 193.0,1052.7 194.2,1051.2 195.5,1053.1 196.8,1051.4 198.0,1053.1 199.2,1051.2 200.5,1053.3 201.8,1050.9 203.0,1052.6 204.2,1050.4 205.5,1052.5 206.8,1050.8 208.0,1053.0 209.2,1050.9 210.5,1052.5 211.8,1050.3 213.0,1051.8 214.2,1049.6 215.5,1051.0 216.8,1047.9 218.0,1047.9 219.2,1043.6 220.5,1043.3 221.8,1040.3 222.0,1042.2 223.0,1040.8 224.2,1044.9 225.5,1045.4 226.8,1049.2 228.0,1049.0 229.2,1052.1 230.5,1051.3 231.8,1054.0 233.0,1052.4 234.2,1054.2 235.5,1052.2 236.8,1054.3 238.0,1052.0 239.2,1053.8 240.5,1051.4 241.8,1052.7 243.0,1050.6 244.2,1052.7 245.5,1050.8 246.8,1053.4 248.0,1051.8 249.2,1054.2 250.5,1052.4 251.8,1054.1 253.0,1051.9 254.2,1054.0 255.5,1052.2 256.8,1054.3 258.0,1052.2 259.2,1054.3 260.5,1052.4 261.8,1054.1 263.0,1052.5 264.2,1054.7 265.5,1052.8 266.8,1054.4 268.0,1052.7 269.2,1054.3 270.5,1052.0 271.8,1053.9 273.0,1051.7 274.2,1053.3 275.5,1050.9 276.8,1052.7 278.0,1051.2 279.2,1053.7 280.5,1052.5 281.8,1054.9 283.0,1053.5 284.2,1055.0 285.5,1052.7 286.8,1054.0 288.0,1051.6 289.2,1052.6 290.5,1050.4 291.8,1052.3 293.0,1050.5 294.2,1052.5 295.5,1051.1 296.8,1053.5 298.0,1051.9 299.2,1054.1 300.5,1052.5 301.8,1054.4 303.0,1052.5 304.2,1054.4 305.5,1052.5 306.8,1054.6 308.0,1052.7 309.2,1054.6 310.5,1052.2 311.8,1053.5 313.0,1051.8 314.2,1054.3 315.5,1052.9 316.8,1055.0 318.0,1052.5 319.2,1053.9 320.5,1051.9 321.8,1053.7 323.0,1051.8 324.2,1054.0 325.5,1051.7 326.8,1053.4 328.0,1051.4 329.2,1054.2 330.5,1053.2 331.8,1055.4 333.0,1053.5 334.2,1054.8 335.5,1052.4 336.8,1054.0 338.0,1052.4 339.2,1054.4 340.5,1052.6 341.8,1054.3 343.0,1052.3 344.2,1054.3 345.5,1052.2 346.8,1054.2 348.0,1051.9 349.2,1053.4 350.5,1051.3 351.8,1053.2 353.0,1051.6 354.2,1053.8 355.5,1052.0 356.8,1054.1 358.0,1052.2 359.2,1054.2 360.5,1052.8 361.8,1054.6 363.0,1052.8 364.2,1054.4 365.5,1051.8 366.8,1053.2 368.0,1051.0 369.2,1053.3 370.5,1052.2 371.8,1055.0 373.0,1053.7 374.2,1055.6 375.5,1053.5 376.8,1054.9 378.0,1052.4 379.2,1054.1 380.5,1051.9 381.8,1053.9 383.0,1052.1 384.2,1054.1 385.5,1051.6 386.8,1053.0 388.0,1051.1 389.2,1053.1 390.5,1051.6 391.8,1053.7 393.0,1051.9 394.2,1053.6 395.5,1051.8 396.8,1053.8 398.0,1052.1 399.2,1054.3 400.5,1052.6 401.8,1054.2 403.0,1052.1 404.2,1053.5 405.5,1051.7 406.8,1053.4 408.0,1051.7 409.2,1053.6 410.5,1051.6 411.8,1053.1 413.0,1051.2 414.2,1053.4 415.5,1051.9 416.8,1053.6 418.0,1051.7 419.2,1053.7 420.5,1051.8 421.8,1053.5 423.0,1051.4 424.2,1052.8 425.5,1050.1 426.8,1049.7 428.0,1040.4 429.2,1019.9 430.5,975.5 431.8,915.8 433.0,866.1 433.8,855.5 434.2,858.9 435.5,899.1 436.8,959.4 438.0,1009.8 439.2,1036.3 440.5,1047.9 441.8,1046.1 443.0,1037.0 444.2,1011.4 445.5,972.7 446.8,932.6 448.0,915.3 449.2,932.4 450.5,972.4 451.8,1010.8 453.0,1036.3 454.2,1045.8 455.5,1050.5 456.8,1049.4 458.0,1052.1 459.2,1048.5 460.5,1052.5 461.8,1047.2 463.0,1052.9 464.2,1047.7 465.5,1053.5 466.8,1048.2 468.0,1053.0 469.2,1048.0 470.5,1052.7 471.8,1047.7 473.0,1052.4 474.2,1047.5 475.5,1052.4 476.8,1045.5 478.0,1047.2 479.2,1036.9 480.5,1035.4 481.8,1026.9 482.0,1031.7 483.0,1027.8 484.2,1037.8 485.5,1038.3 486.8,1048.0 488.0,1045.1 489.2,1050.8 490.5,1045.9 491.8,1050.1 493.0,1045.4 494.2,1050.6 495.5,1045.3 496.8,1050.1 498.0,1044.4 499.2,1049.9 500.5,1044.0 501.8,1049.4 503.0,1044.6 504.2,1050.2 505.5,1044.8 506.8,1048.9 508.0,1042.8 509.2,1042.1 510.5,1031.8 511.8,1021.6 513.0,1009.2 514.2,1004.0 514.3,1004.0 515.5,1008.6 516.8,1019.2 518.0,1032.1 519.2,1037.9 520.5,1045.3 521.8,1042.7 523.0,1048.2 524.2,1042.8 525.5,1047.3 526.8,1041.6 528.0,1046.2 529.2,1041.4 530.5,1046.1 531.8,1041.9 533.0,1047.5 534.2,1042.6 535.5,1048.0 536.8,1042.0 538.0,1046.0 539.2,1038.8 540.5,1032.7 541.8,1005.0 543.0,959.1 544.2,894.3 545.5,844.9 546.2,836.2 546.8,841.6 548.0,886.6 549.2,951.5 550.5,1000.1 551.8,1030.4 553.0,1037.1 554.2,1044.5 555.5,1039.9 556.8,1044.7 558.0,1039.5 559.2,1044.8 560.5,1039.0 561.8,1045.0 563.0,1039.3 564.2,1045.1 565.5,1039.1 566.8,1043.8 568.0,1038.1 569.2,1042.9 570.5,1037.6 571.8,1042.1 573.0,1036.3 574.2,1041.1 575.5,1034.4 576.8,1033.7 578.0,1019.2 579.2,998.8 580.5,962.9 581.8,927.2 583.0,906.2 583.3,905.2 584.2,913.0 585.5,943.4 586.8,978.4 588.0,1007.9 589.2,1020.1 590.5,1029.9 591.8,1027.7 593.0,1032.5 594.2,1027.5 595.5,1032.5 596.8,1026.2 598.0,1030.8 599.2,1025.2 600.5,1030.0 601.8,1025.6 603.0,1027.7 604.2,1021.4 605.5,1016.6 606.8,1007.5 608.0,1001.9 608.6,1001.0 609.2,1001.8 610.5,1007.4 611.8,1016.1 613.0,1021.3 614.2,1026.9 615.5,1026.4 616.8,1029.2 618.0,1026.8 619.2,1029.1 620.5,1026.1 621.8,1027.8 623.0,1025.1 624.2,1026.7 625.5,1024.6 626.8,1026.9 628.0,1025.7 629.2,1028.4 630.5,1026.7 631.8,1028.3 633.0,1026.1 634.2,1028.1 635.5,1026.0 636.8,1028.0 638.0,1026.4 639.2,1028.1 640.5,1026.1 641.8,1027.5 643.0,1025.2 644.2,1026.8 645.5,1025.3 646.8,1027.8 648.0,1026.4 649.2,1028.7 650.5,1027.2 651.8,1028.9 653.0,1027.0 654.2,1029.0 655.5,1027.0 656.8,1028.9 658.0,1026.9 659.2,1028.5 660.5,1026.2 661.8,1027.9 663.0,1025.7 664.2,1027.7 665.5,1026.4 666.8,1029.0 668.0,1028.0 669.2,1030.6 670.5,1029.3 671.8,1031.7 673.0,1030.4 674.2,1032.7 675.5,1031.1 676.8,1033.3 678.0,1031.6 679.2,1034.0 680.5,1032.5 681.8,1035.3 683.0,1034.2 684.2,1036.5 685.5,1034.8 686.8,1037.2 688.0,1035.8 689.2,1038.2 690.5,1036.8 691.8,1038.9 693.0,1037.2 694.2,1039.1 695.5,1037.0 696.8,1039.1 698.0,1037.5 699.2,1039.7 700.5,1038.5 701.8,1041.2 703.0,1039.8 704.2,1041.7 705.5,1040.0 706.8,1041.9 708.0,1040.3 709.2,1042.0 710.5,1040.2 711.8,1042.0 713.0,1040.4 714.2,1042.8 715.5,1042.0 716.8,1044.6 718.0,1043.2 719.2,1045.2 720.5,1043.7 721.8,1045.7 723.0,1044.2 724.2,1046.1 725.5,1044.2 726.8,1046.1 728.0,1044.5 729.2,1046.7 730.5,1045.0 731.8,1047.2 733.0,1045.2 734.2,1047.2 735.5,1045.7 736.8,1047.7 738.0,1045.3 739.2,1047.0 740.5,1045.3 741.8,1047.6 743.0,1046.4 744.2,1049.0 745.5,1047.4 746.8,1049.6 748.0,1048.3 749.2,1050.3 750.5,1048.1 751.8,1049.6 753.0,1046.9 754.2,1048.5 755.5,1046.3 756.8,1048.4 758.0,1047.0 759.2,1049.7 760.5,1048.5 761.8,1050.6 763.0,1049.0 764.2,1050.8 765.5,1048.9 766.8,1050.8 768.0,1049.1 769.2,1050.7 770.5,1048.6 771.8,1050.1 773.0,1048.1 774.2,1050.2 775.5,1048.8 776.8,1051.1 778.0,1049.8 779.2,1052.0 780.5,1050.8 781.8,1052.7 783.0,1050.4 784.2,1051.9 785.5,1049.9 786.8,1051.8 788.0,1050.4 789.2,1052.9 790.5,1050.7 791.8,1052.1 793.0,1050.0 794.2,1052.1 795.5,1050.7 796.8,1053.6 798.0,1052.4 799.2,1054.8 800.5,1052.7 801.8,1054.3 803.0,1051.9 804.2,1053.4 805.5,1051.5 806.8,1053.7 808.0,1051.8 809.2,1053.9 810.5,1052.2 811.8,1053.6 813.0,1051.2 814.2,1052.8 815.5,1051.1 816.8,1053.4 818.0,1052.2 819.2,1054.7 820.5,1053.1 821.8,1054.7 823.0,1052.4 824.2,1053.8 825.5,1051.9 826.8,1054.1 828.0,1052.2 829.2,1053.9 830.5,1051.6 831.8,1053.6 833.0,1052.0 834.2,1054.0 835.5,1052.0 836.8,1054.0 838.0,1052.2 839.2,1054.5 840.5,1052.7 841.8,1054.8 843.0,1052.7 844.2,1054.4 845.5,1052.3 846.8,1053.7 848.0,1051.2 849.2,1052.5 850.5,1049.9 851.8,1050.5 853.0,1046.0 854.2,1043.3 855.5,1035.6 856.8,1032.3 857.7,1029.0 858.0,1030.9 859.2,1032.9 860.5,1041.8 861.8,1046.2 863.0,1052.7 864.2,1052.9 865.5,1055.5 866.8,1053.6 868.0,1055.5 869.2,1053.2 870.5,1055.1 871.8,1052.9 873.0,1054.9 874.2,1053.1 875.5,1055.1 876.8,1053.5 878.0,1055.1 879.2,1052.8 880.5,1054.1 881.8,1051.8 883.0,1053.3 884.2,1051.4 885.5,1053.4 886.8,1051.7 888.0,1053.6 889.2,1051.7 890.5,1053.6 891.8,1051.5 893.0,1053.3 894.2,1051.1 895.5,1052.7 896.8,1050.7 898.0,1052.4 899.2,1050.7 900.5,1052.7 901.8,1051.4 903.0,1053.7 904.2,1052.3 905.5,1054.8 906.8,1052.8 908.0,1054.6 909.2,1052.2 910.5,1053.7 911.8,1051.8 913.0,1053.7 914.2,1051.6 915.5,1053.4 916.8,1051.6 918.0,1053.6 919.2,1052.0 920.5,1054.2 921.8,1052.7 923.0,1054.9 924.2,1052.9 925.5,1054.9 926.8,1053.0 928.0,1054.9 929.2,1052.9 930.5,1054.9 931.8,1052.6 933.0,1054.3 934.2,1052.1 935.5,1054.0 936.8,1052.2 938.0,1054.3 939.2,1052.4 940.5,1053.8 941.8,1051.5 943.0,1052.7 944.2,1050.5 945.5,1052.8 946.8,1051.5 948.0,1053.8 949.2,1052.0 950.5,1054.1 951.8,1052.4 953.0,1054.3 954.2,1052.4 955.5,1054.0 956.8,1052.1 958.0,1053.9 959.2,1052.0 960.5,1053.8 961.8,1051.7 963.0,1053.5 964.2,1051.0 965.5,1052.2 966.8,1049.0 968.0,1049.5 969.2,1046.5 970.5,1047.8 971.0,1045.5 971.8,1047.2 973.0,1046.2 974.2,1049.6 975.5,1049.6 976.8,1052.7 978.0,1051.8 979.2,1054.3 980.5,1052.3 981.8,1054.4 983.0,1052.2 984.2,1053.4 985.5,1050.7 986.8,1051.4 988.0,1047.9 989.2,1047.2 990.5,1041.8 991.8,1040.3 993.0,1036.2 993.5,1037.6 994.2,1036.0 995.5,1040.4 996.8,1042.6 998.0,1048.7 999.2,1049.7 1000.5,1053.1 1001.8,1052.1 1003.0,1053.9 1004.2,1051.9 1005.5,1053.5 1006.8,1051.6 1008.0,1053.4 1009.2,1051.5 1010.5,1053.5 1011.8,1051.5 1013.0,1053.0 1014.2,1050.3 1015.5,1051.7 1016.8,1049.3 1018.0,1051.6 1019.2,1049.8 1020.5,1052.2 1021.8,1050.2 1023.0,1051.5 1024.2,1049.1 1025.5,1051.0 1026.8,1049.1 1028.0,1051.2 1029.2,1049.4 1030.5,1051.1 1031.8,1048.6 1033.0,1050.2 1034.2,1048.5 1035.5,1050.3 1036.8,1048.5 1038.0,1050.4 1039.2,1048.3 1040.5,1049.8 1041.8,1047.8 1043.0,1049.4 1044.2,1047.3 1045.5,1048.9 1046.8,1046.8 1048.0,1048.3 1049.2,1046.5 1050.5,1048.7 1051.8,1046.7 1053.0,1048.3 1054.2,1045.9 1055.5,1047.5 1056.8,1045.6 1058.0,1048.2 1059.2,1046.8 1060.5,1049.2 1061.8,1047.3 1063.0,1048.9 1064.2,1046.9 1065.5,1048.6 1066.8,1047.0 1068.0,1049.4 1069.2,1047.7 1070.5,1049.3 1071.8,1047.3 1073.0,1049.2 1074.2,1047.3 1075.5,1048.9 1076.8,1046.8 1078.0,1048.6 1079.2,1046.5 1080.5,1048.7 1081.8,1047.1 1083.0,1049.4 1084.2,1047.1 1085.5,1048.6 1086.8,1046.0 1088.0,1047.7 1089.2,1046.0 1090.5,1048.4 1091.8,1046.3 1093.0,1047.9 1094.2,1045.6 1095.5,1047.3 1096.8,1045.5 1098.0,1047.5 1099.2,1046.2 1100.5,1048.1 1101.8,1046.1 1103.0,1048.1 1104.2,1046.2 1105.5,1048.1 1106.8,1046.0 1108.0,1048.1 1109.2,1046.0 1110.5,1047.3 1111.8,1044.4 1113.0,1045.8 1114.2,1043.2 1115.5,1044.9 1116.8,1043.1 1118.0,1045.2 1119.2,1043.4 1120.5,1044.9 1121.8,1042.0 1123.0,1042.6 1124.2,1038.0 1125.5,1036.2 1126.8,1030.9 1128.0,1030.8 1129.2,1029.9 1130.5,1035.0 1131.8,1037.4 1133.0,1042.5 1134.2,1042.8 1135.5,1045.7 1136.8,1044.5 1138.0,1046.8 1139.2,1044.4 1140.5,1046.0 1141.8,1043.7 1143.0,1045.9 1144.2,1044.1 1145.5,1045.9 1146.8,1044.0 1148.0,1046.1 1149.2,1044.9 1150.5,1047.6 1151.8,1046.2 1153.0,1048.4 1154.2,1046.4 1155.5,1048.5 1156.8,1046.7 1158.0,1048.9 1159.2,1047.0 1160.5,1049.4 1161.8,1048.7 1163.0,1051.4 1164.2,1050.0 1165.5,1051.7 1166.8,1049.4 1168.0,1051.0 1169.2,1048.9 1170.5,1050.9 1171.8,1048.8 1173.0,1050.4 1174.2,1048.4 1175.5,1050.5 1176.8,1048.9 1178.0,1051.3 1179.2,1049.4 1180.5,1051.1 1181.8,1049.3 1183.0,1051.6 1184.2,1049.7 1185.5,1051.2 1186.8,1049.3 1188.0,1050.9 1189.2,1048.7 1190.5,1050.5 1191.8,1048.4 1193.0,1050.6 1194.2,1048.9 1195.5,1051.4 1196.8,1049.9 1198.0,1051.6 1199.2,1049.8 1200.5,1051.5 1201.8,1049.7 1203.0,1051.6 1204.2,1049.8 1205.5,1051.6 1206.8,1049.5 1208.0,1051.4 1209.2,1049.9 1210.5,1052.3 1211.8,1050.9 1213.0,1053.1 1214.2,1050.8 1215.5,1051.6 1216.8,1049.3 1218.0,1050.8 1219.2,1049.1 1220.5,1051.0 1221.8,1049.2 1223.0,1051.3 1224.2,1049.2 1225.5,1051.3 1226.8,1049.3 1228.0,1051.3 1229.2,1049.8 1230.5,1052.4 1231.8,1050.7 1233.0,1052.2 1234.2,1050.0 1235.5,1051.6 1236.8,1049.5 1238.0,1051.2 1239.2,1049.1 1240.5,1051.0 1241.8,1049.1 1243.0,1051.4 1244.2,1049.6 1245.5,1051.9 1246.8,1049.8 1248.0,1051.4 1249.2,1049.2 1250.5,1050.9 1251.8,1049.4 1253.0,1052.1 1254.2,1050.6 1255.5,1052.3 1256.8,1050.0 1258.0,1051.4 1259.2,1049.3 1260.5,1051.3 1261.8,1049.9 1263.0,1051.7 1264.2,1049.5 1265.5,1050.8 1266.8,1048.5 1268.0,1050.9 1269.2,1049.8 1270.5,1052.4 1271.8,1050.7 1273.0,1052.9 1274.2,1050.8 1275.5,1052.8 1276.8,1050.7 1278.0,1051.6 1279.2,1048.9 1280.5,1050.3 1281.8,1048.5 1283.0,1050.4 1284.2,1048.3 1285.5,1050.4 1286.8,1048.8 1288.0,1051.6 1289.2,1050.6 1290.5,1053.0 1291.8,1050.9 1293.0,1052.3 1294.2,1049.7 1295.5,1051.2 1296.8,1049.2 1298.0,1051.1 1299.2,1049.0 1300.5,1050.9 1301.8,1049.3 1303.0,1051.9 1304.2,1050.7 1305.5,1053.1 1306.8,1051.3 1308.0,1052.7 1309.2,1050.0 1310.5,1051.0 1311.8,1048.4 1313.0,1050.2 1314.2,1048.3 1315.5,1050.3 1316.8,1048.9 1318.0,1051.4 1319.2,1050.0 1320.5,1052.1 1321.8,1050.2 1323.0,1052.0 1324.2,1049.7 1325.5,1051.5 1326.8,1049.0 1328.0,1050.5 1329.2,1048.5 1330.5,1050.1 1331.8,1048.6 1333.0,1050.5 1334.2,1048.3 1335.5,1050.2 1336.8,1048.7 1338.0,1050.8 1339.2,1048.8 1340.5,1050.4 1341.8,1048.3 1343.0,1050.1 1344.2,1048.3 1345.5,1050.6 1346.8,1048.9 1348.0,1050.9 1349.2,1048.9 1350.5,1050.9 1351.8,1049.0 1353.0,1050.6 1354.2,1048.2 1355.5,1049.8 1356.8,1047.5 1358.0,1048.9 1359.2,1047.1 1360.5,1049.2 1361.8,1047.4 1363.0,1049.5 1364.2,1047.9 1365.5,1050.0 1366.8,1048.7 1368.0,1051.1 1369.2,1049.3 1370.5,1051.2 1371.8,1049.5 1373.0,1051.7 1374.2,1050.2 1375.5,1051.9 1376.8,1049.9 1378.0,1051.2 1379.2,1049.2 1380.5,1051.2 1381.8,1049.0 1383.0,1050.6 1384.2,1048.6 1385.5,1050.4 1386.8,1048.8 1388.0,1051.4 1389.2,1050.3 1390.5,1052.7 1391.8,1050.8 1393.0,1052.7 1394.2,1050.7 1395.5,1052.6 1396.8,1051.0 1398.0,1053.3 1399.2,1051.5 1400.5,1053.4 1401.8,1051.4 1403.0,1053.9 1404.2,1052.8 1405.5,1055.2 1406.8,1053.8 1408.0,1055.6 1409.2,1053.3 1410.5,1055.1 1411.8,1053.4 1413.0,1055.1 1414.2,1053.4 1415.5,1055.4 1416.8,1054.0 1418.0,1056.2 1419.2,1054.6 1420.5,1056.4 1421.8,1054.2 1423.0,1056.2 1424.2,1055.0 1425.5,1057.7 1426.8,1056.2 1428.0,1057.9 1429.2,1055.7 1430.5,1057.3 1431.8,1055.2 1433.0,1057.2 1434.2,1055.4 1435.5,1057.4 1436.8,1055.5 1438.0,1057.0 1439.2,1055.0 1440.5,1056.5 1441.8,1054.5 1443.0,1056.3 1444.2,1054.4 1445.5,1056.7 1446.8,1054.9 1448.0,1056.9 1449.2,1054.5 1450.5,1055.8 1451.8,1053.5 1453.0,1055.5 1454.2,1054.0 1455.5,1056.4 1456.8,1054.5 1458.0,1056.3 1459.2,1054.5 1460.5,1056.8 1461.8,1055.0 1463.0,1057.1 1464.2,1055.3 1465.5,1056.8 1466.8,1054.7 1468.0,1056.6 1469.2,1054.8 1470.5,1056.9 1471.8,1055.5 1473.0,1057.6 1474.2,1056.0 1475.5,1058.2 1476.8,1056.4 1478.0,1058.4 1479.2,1055.7 1480.5,1056.1 1481.8,1051.9 1483.0,1051.7 1484.2,1048.2 1485.0,1050.1 1485.5,1048.4 1486.8,1051.3 1488.0,1050.8 1489.2,1054.3 1490.5,1053.3 1491.8,1055.4 1493.0,1053.8 1494.2,1055.7 1495.5,1054.6 1496.8,1056.9 1498.0,1055.4 1499.2,1057.4 1500.5,1055.4 1501.8,1057.3 1503.0,1055.4 1504.2,1057.7 1505.5,1055.2 1506.8,1056.7 1508.0,1053.9 1509.2,1055.1 1510.5,1053.2 1511.8,1055.9 1513.0,1054.8 1514.2,1057.3 1515.5,1055.4 1516.8,1057.1 1518.0,1054.9 1519.2,1057.0 1520.5,1055.5 1521.8,1058.0 1523.0,1056.2 1524.2,1058.1 1525.5,1055.7 1526.8,1057.4 1528.0,1055.0 1529.2,1056.7 1530.5,1054.6 1531.8,1056.6 1533.0,1054.8 1534.2,1056.8 1535.5,1054.9 1536.8,1057.3 1538.0,1055.8 1539.2,1058.2 1540.5,1056.0 1541.8,1057.4 1543.0,1054.8 1544.2,1056.7 1545.5,1055.2 1546.8,1057.5 1548.0,1056.1 1549.2,1058.0 1550.5,1056.0 1551.8,1057.2 1553.0,1054.8 1554.2,1056.6 1555.5,1055.1 1556.8,1057.6 1558.0,1055.8 1559.2,1057.5 1560.5,1055.5 1561.8,1057.9 1563.0,1056.6 1564.2,1058.6 1565.5,1056.2 1566.8,1057.8 1568.0,1055.8 1569.2,1057.9 1570.5,1056.0 1571.8,1057.8 1573.0,1055.4 1574.2,1056.4 1575.5,1054.0 1576.8,1055.8 1578.0,1053.9 1579.2,1056.5 1580.5,1055.1 1581.8,1057.1 1583.0,1055.0 1584.2,1056.8 1585.5,1054.9 1586.8,1056.7 1588.0,1054.9 1589.2,1057.2 1590.5,1055.3 1591.8,1057.8 1593.0,1056.2 1594.2,1058.1 1595.5,1055.7 1596.8,1057.1 1598.0,1055.1 1599.2,1057.3 1600.5,1055.4 1601.8,1057.0 1603.0,1055.0 1604.2,1056.9 1605.5,1055.2 1606.8,1057.7 1608.0,1056.1 1609.2,1058.0 1610.5,1056.0 1611.8,1057.4 1613.0,1055.3 1614.2,1057.1 1615.5,1055.0 1616.8,1056.8 1618.0,1055.3 1619.2,1057.3 1620.5,1055.8 1621.8,1058.0 1623.0,1056.7 1624.2,1058.6 1625.5,1056.7 1626.8,1058.0 1628.0,1055.6 1629.2,1057.1 1630.5,1055.4 1631.8,1057.4 1633.0,1055.7 1634.2,1058.1 1635.5,1055.9 1636.8,1057.6 1638.0,1055.4 1639.2,1056.9 1640.5,1055.2 1641.8,1057.8 1643.0,1056.4 1644.2,1058.8 1645.5,1056.9 1646.8,1058.7 1648.0,1056.0 1649.2,1057.2 1650.5,1055.2 1651.8,1057.5 1653.0,1056.2 1654.2,1058.7 1655.5,1056.7 1656.8,1058.4 1658.0,1056.2 1659.2,1058.3 1660.5,1056.6 1661.8,1058.6 1663.0,1056.9 1664.2,1058.2 1665.5,1055.8 1666.8,1057.5 1668.0,1055.5 1669.2,1057.3 1670.5,1055.2 1671.8,1057.0 1673.0,1055.0 1674.2,1057.5 1675.5,1055.9 1676.8,1058.5 1678.0,1056.7 1679.2,1058.7 1680.5,1056.6 1681.8,1058.7 1683.0,1056.7 1684.2,1058.4 1685.5,1056.6 1686.8,1058.3 1688.0,1056.3 1689.2,1058.3 1690.5,1055.9 1691.8,1057.4 1693.0,1055.3 1694.2,1057.4 1695.5,1055.8 1696.8,1058.0 1698.0,1056.1 1699.2,1058.2 1700.5,1056.3 1701.8,1058.3 1703.0,1056.3 1704.2,1058.3 1705.5,1056.3 1706.8,1058.0 1708.0,1056.1 1709.2,1057.9 1710.5,1055.9 1711.8,1057.6 1713.0,1055.5 1714.2,1057.7 1715.5,1056.4 1716.8,1058.5 1718.0,1056.8 1719.2,1058.9 1720.5,1056.9 1721.8,1058.5 1723.0,1056.7 1724.2,1058.7 1725.5,1056.5 1726.8,1058.0 1728.0,1055.5 1729.2,1056.8 1730.5,1055.2 1731.8,1058.1 1733.0,1057.0 1734.2,1059.2 1735.5,1057.2 1736.8,1058.8 1738.0,1056.7 1739.2,1058.2 1740.5,1056.1 1741.8,1058.0 1743.0,1056.2 1744.2,1058.0 1745.5,1056.0 1746.8,1057.7 1748.0,1055.6 1749.2,1057.6 1750.5,1056.0 1751.8,1058.0 1753.0,1056.1 1754.2,1057.9 1755.5,1055.9 1756.8,1057.5 1758.0,1055.5 1759.2,1057.8 1760.5,1056.2 1761.8,1058.0 1763.0,1055.9 1764.2,1057.3 1765.5,1055.5 1766.8,1057.5 1768.0,1056.2 1769.2,1058.5 1770.5,1056.5 1771.8,1058.8 1773.0,1057.3 1774.2,1059.4 1775.5,1057.4 1776.8,1058.8 1778.0,1056.2 1779.2,1057.6 1780.5,1055.8 1781.8,1058.2 1783.0,1056.3 1784.2,1057.8 1785.5,1055.3 1786.8,1057.1 1788.0,1055.3 1789.2,1058.1 1790.5,1056.7 1791.8,1058.8 1793.0,1056.5 1794.2,1058.1 1795.5,1056.0 1796.8,1057.6 1798.0,1055.8 1799.2,1058.0 1800.5,1056.4 1801.8,1058.7 1803.0,1056.9 1804.2,1059.0 1805.5,1057.0 1806.8,1059.0 1808.0,1056.5 1809.2,1058.0 1810.5,1055.6 1811.8,1057.4 1813.0,1055.7 1814.2,1057.9 1815.5,1056.4 1816.8,1058.7 1818.0,1056.8 1819.2,1058.2 1820.5,1055.9 1821.8,1057.6 1823.0,1055.2 1824.2,1057.5 1825.5,1055.8 1826.8,1058.1 1828.0,1057.0 1829.2,1059.3 1830.5,1057.6 1831.8,1059.0 1833.0,1056.5 1834.2,1058.1 1835.5,1055.9 1836.8,1057.9 1838.0,1055.8 1839.2,1057.6 1840.5,1055.9 1841.8,1058.1 1843.0,1056.5 1844.2,1058.3 1845.5,1056.1 1846.8,1057.7 1848.0,1055.4 1849.2,1056.9 1850.5,1055.2 1851.8,1057.4 1853.0,1055.6 1854.2,1058.0 1855.5,1056.0 1856.8,1058.0 1858.0,1055.8 1859.2,1057.9 1860.5,1056.0 1861.8,1057.9 1863.0,1055.8 1864.2,1057.3 1865.5,1055.5 1866.8,1057.7 1868.0,1056.3 1869.2,1058.6 1870.5,1057.1 1871.8,1058.7 1873.0,1056.2 1874.2,1057.6 1875.5,1054.9 1876.8,1056.4 1878.0,1054.1 1879.2,1056.2 1880.5,1054.5 1881.8,1057.1 1883.0,1055.3 1884.2,1057.7 1885.5,1056.2 1886.8,1058.0 1888.0,1056.2 1889.2,1057.8 1890.5,1055.8 1891.8,1058.0 1893.0,1056.2 1894.2,1058.2 1895.5,1056.0 1896.8,1057.6 1898.0,1055.6 1899.2,1057.4 1900.5,1055.6 1901.8,1057.8 1903.0,1055.9 1904.2,1058.1 1905.5,1056.2 1906.8,1058.4 1908.0,1056.2 1909.2,1058.1 1910.5,1056.3 1911.8,1058.2 1913.0,1056.0 1914.2,1057.3 1915.5,1055.1 1916.8,1057.1 1918.0,1055.4 1919.2,1058.2 1920.5,1056.7 1921.8,1058.8 1923.0,1056.8 1924.2,1058.6 1925.5,1056.5 1926.8,1058.3 1928.0,1056.3 1929.2,1057.8 1930.5,1055.7 1931.8,1058.0 1933.0,1056.0 1934.2,1058.4 1935.5,1056.6 1936.8,1058.8 1938.0,1056.7 1939.2,1058.6 1940.5,1056.5 1941.8,1058.2 1943.0,1056.3 1944.2,1057.9 1945.5,1055.7 1946.8,1057.6 1948.0,1056.0 1949.2,1058.3 1950.5,1056.8 1951.8,1058.8 1953.0,1057.1 1954.2,1058.8 1955.5,1057.1 1956.8,1058.6 1958.0,1056.1 1959.2,1058.0 1960.5,1056.4 1961.8,1058.3 1963.0,1056.4 1964.2,1058.6 1965.5,1056.6 1966.8,1058.9 1968.0,1057.1 1969.2,1058.9 1970.5,1056.8 1971.8,1058.2 1973.0,1055.8 1974.2,1057.5 1975.5,1055.4 1976.8,1057.4 1978.0,1055.7 1979.2,1057.3 1980.5,1055.3 1981.8,1057.3 1983.0,1055.2 1984.2,1057.4 1985.5,1055.8 1986.8,1058.0 1988.0,1056.5 1989.2,1058.8 1990.5,1056.7 1991.8,1058.2 1993.0,1055.5 1994.2,1057.0 1995.5,1054.9 1996.8,1057.5 1998.0,1056.1 1999.2,1058.4 2000.5,1056.5 2001.8,1058.7 2003.0,1057.1 2004.2,1059.4 2005.5,1057.7 2006.8,1059.2 2008.0,1056.6 2009.2,1057.9 2010.5,1056.2 2011.8,1058.4 2013.0,1057.1 2014.2,1059.1 2015.5,1056.9 2016.8,1058.3 2018.0,1056.4 2019.2,1058.0 2020.5,1056.1 2021.8,1058.0 2023.0,1056.3 2024.2,1058.1 2025.5,1056.4 2026.8,1058.4 2028.0,1056.6 2029.2,1058.8 2030.5,1057.1 2031.8,1058.9 2033.0,1057.1 2034.2,1058.7 2035.5,1056.6 2036.8,1058.1 2038.0,1056.1 2039.2,1057.6 2040.5,1055.7 2041.8,1057.9 2043.0,1056.3 2044.2,1058.7 2045.5,1057.2 2046.8,1058.9 2048.0,1056.7 2049.2,1057.9 2050.5,1055.6 2051.8,1057.4 2053.0,1055.6 2054.2,1057.7 2055.5,1056.5 2056.8,1059.2 2058.0,1057.8 2059.2,1060.0 2060.5,1058.1 2061.8,1059.8 2063.0,1057.5 2064.2,1059.3 2065.5,1057.1 2066.8,1058.7 2068.0,1056.1 2069.2,1057.4 2070.5,1054.8 2071.8,1056.9 2073.0,1055.1 2074.2,1057.3 2075.5,1055.9 2076.8,1058.0 2078.0,1056.3 2079.2,1057.6 2080.5,1055.2 2081.8,1056.8 2083.0,1055.2 2084.2,1057.4 2085.5,1055.4 2086.8,1057.6 2088.0,1055.8 2089.2,1058.5 2090.5,1057.0 2091.8,1059.0 2093.0,1056.5 2094.2,1057.5 2095.5,1055.3 2096.8,1057.3 2098.0,1055.6 2099.2,1057.7 2100.5,1055.7 2101.8,1057.7 2103.0,1055.8 2104.2,1057.8 2105.5,1055.8 2106.8,1057.4 2108.0,1055.5 2109.2,1057.5 2110.5,1055.9 2111.8,1058.0 2113.0,1056.8 2114.2,1059.4 2115.5,1058.7 2116.8,1060.8 2118.0,1058.5 2119.2,1059.5 2120.5,1056.6 2121.8,1058.1 2123.0,1055.9 2124.2,1058.2 2125.5,1056.7 2126.8,1058.9 2128.0,1057.4 2129.2,1059.2 2130.5,1057.3 2131.8,1058.8 2133.0,1057.0 2134.2,1058.7 2135.5,1056.3 2136.8,1057.8 2138.0,1055.6 2139.2,1057.3 2140.5,1055.3 2141.8,1057.0 2143.0,1054.8 2144.2,1056.9 2145.5,1055.2 2146.8,1057.6 2148.0,1056.2 2149.2,1058.5 2150.5,1057.2 2151.8,1059.5 2153.0,1057.3 2154.2,1059.5 2155.5,1057.5 2156.8,1059.8 2158.0,1057.9 2159.2,1059.9 2160.5,1057.8 2161.8,1059.2 2163.0,1057.2 2164.2,1058.9 2165.5,1057.0 2166.8,1058.6 2168.0,1056.6 2169.2,1058.7 2170.5,1056.7 2171.8,1058.1 2173.0,1055.8 2174.2,1057.6 2175.5,1055.6 2176.8,1058.0 2178.0,1056.5 2179.2,1058.6 2180.5,1056.9 2181.8,1058.7 2183.0,1056.5 2184.2,1058.4 2185.5,1056.3 2186.8,1058.0 2188.0,1056.1 2189.2,1057.8 2190.5,1055.6 2191.8,1057.7 2193.0,1055.9 2194.2,1057.8 2195.5,1055.9 2196.8,1057.6 2198.0,1055.9 2199.2,1057.9 2200.5,1055.8 2201.8,1057.9 2203.0,1056.4 2204.2,1058.6 2205.5,1057.0 2206.8,1058.5 2208.0,1056.5 2209.2,1058.0 2210.5,1055.6 2211.8,1057.4 2213.0,1055.5 2214.2,1057.7 2215.5,1056.1 2216.8,1058.8 2218.0,1057.5 2219.2,1059.9 2220.5,1058.3 2221.8,1059.8 2223.0,1057.6 2224.2,1059.0 2225.5,1056.8 2226.8,1058.5 2228.0,1056.6 2229.2,1059.0 2230.5,1057.4 2231.8,1059.7 2233.0,1057.6 2234.2,1059.0 2235.5,1056.6 2236.8,1058.3 2238.0,1056.5 2239.2,1058.2 2240.5,1055.7 2241.8,1057.2 2243.0,1055.0 2244.2,1057.0 2245.5,1055.5 2246.8,1058.2 2248.0,1056.7 2249.2,1058.8 2250.5,1056.7 2251.8,1058.4 2253.0,1056.6 2254.2,1059.0 2255.5,1057.6 2256.8,1059.4 2258.0,1057.2 2259.2,1058.6 2260.5,1056.2 2261.8,1057.3 2263.0,1055.3 2264.2,1057.2 2265.5,1055.8 2266.8,1058.3 2268.0,1056.8 2269.2,1058.8 2270.5,1057.0 2271.8,1058.4 2273.0,1056.3 2274.2,1058.2 2275.5,1055.8 2276.8,1057.8 2278.0,1056.0 2279.2,1058.3 2280.5,1056.8 2281.8,1059.3 2283.0,1057.6 2284.2,1059.3 2285.5,1057.3 2286.8,1059.1 2288.0,1056.8 2289.2,1058.5 2290.5,1056.8 2291.8,1059.3 2293.0,1057.6 2294.2,1059.5 2295.5,1057.4 2296.8,1058.6 2298.0,1056.2 2299.2,1057.7 2300.5,1056.1 2301.8,1058.4 2303.0,1056.9 2304.2,1059.2 2305.5,1056.7 2306.8,1058.0 2308.0,1055.4 2309.2,1057.2 2310.5,1056.0 2311.8,1058.3 2313.0,1056.9 2314.2,1058.6 2315.5,1056.6 2316.8,1058.5 2318.0,1056.7 2319.2,1059.0 2320.5,1057.3 2321.8,1059.3 2323.0,1057.2 2324.2,1059.2 2325.5,1057.4 2326.8,1059.3 2328.0,1057.4 2329.2,1058.8 2330.5,1056.4 2331.8,1058.1 2333.0,1056.2 2334.2,1058.0 2335.5,1056.2 2336.8,1058.0 2338.0,1056.3 2339.2,1058.3 2340.5,1056.3 2341.8,1058.2 2343.0,1056.2 2344.2,1057.9 2345.5,1056.3 2346.8,1058.2 2348.0,1056.7 2349.2,1058.6 2350.5,1057.1 2351.8,1058.8 2353.0,1056.7 2354.2,1058.4 2355.5,1055.9 2356.8,1057.9 2358.0,1056.1 2359.2,1058.5 2360.5,1056.8 2361.8,1058.9 2363.0,1056.9 2364.2,1058.9 2365.5,1057.0 2366.8,1059.0 2368.0,1056.9 2369.2,1058.3 2370.5,1056.3 2371.8,1058.1 2373.0,1056.4 2374.2,1058.7 2375.5,1057.1 2376.8,1058.9 2378.0,1057.0 2379.2,1058.8 2380.5,1057.2 2381.8,1059.2 2383.0,1057.5 2383.5,1057.4" stroke="#008080"/>
<path d="M179.0,832.0 182.2,817.1 185.4,829.9 188.6,818.0 191.8,833.0 195.0,816.6 198.2,830.7 201.4,819.5 204.6,829.9 207.8,815.3 211.0,831.3 214.2,819.1 217.4,828.9 220.6,811.9 223.8,824.4 227.0,817.2 230.2,830.9 233.4,814.8 236.6,831.9 239.8,819.9 243.0,830.7 246.2,818.7 249.4,830.0 252.6,815.8 255.8,832.1 259.0,818.6 262.2,829.6 265.4,817.3 268.6,828.5 271.8,816.5 275.0,829.6 278.2,820.8 281.4,831.8 284.6,817.0 287.8,832.2 291.0,814.5 294.2,830.2 297.4,813.7 300.6,830.6 303.8,819.5 307.0,829.7 310.2,818.5 313.4,827.7 316.6,818.5 319.8,832.3 323.0,815.6 326.2,829.6 329.4,813.6 332.6,827.2 335.8,813.9 339.0,827.4 342.2,814.8 345.4,828.7 348.6,818.1 351.8,829.4 355.0,816.2 358.2,827.5 361.4,818.9 364.6,832.6 367.8,814.2 371.0,831.7 374.2,815.3 377.4,831.3 380.6,818.1 383.8,832.2 387.0,818.8 390.2,828.8 393.4,816.5 396.6,827.0 399.8,814.3 403.0,828.5 406.2,814.7 409.4,830.0 412.6,817.6 415.8,828.0 419.0,817.2 422.2,828.9 425.4,815.8M457.4,813.3 460.6,830.2 463.8,813.2 467.0,827.3 470.2,809.9 473.4,826.8 476.6,811.0 479.8,822.9 483.0,803.7 486.2,821.9 489.4,807.6 492.6,825.8 495.8,809.9 499.0,826.4 502.2,810.2 505.4,823.0 508.6,808.9M524.6,824.5 527.8,808.5 531.0,821.3 534.2,806.8 537.4,823.9 540.6,798.3M553.4,800.7 556.6,822.5 559.8,806.8 563.0,822.4 566.2,801.9 569.4,821.1 572.6,803.7 575.8,817.8M591.8,798.8 595.0,811.2 598.2,794.3 601.4,807.1 604.6,792.4 607.8,798.0 611.0,771.8 614.2,792.2 617.4,786.0 620.6,798.8 623.8,787.3 627.0,798.6 630.2,787.7 633.4,797.5 636.6,785.5 639.8,796.3 643.0,785.8 646.2,799.3 649.4,787.8 652.6,798.5 655.8,783.8 659.0,796.8 662.2,785.3 665.4,796.8 668.6,783.4 671.8,800.8 675.0,786.5 678.2,805.5 681.4,793.5 684.6,807.6 687.8,793.6 691.0,807.1 694.2,797.1 697.4,811.3 700.6,799.8 703.8,814.3 707.0,799.8 710.2,815.0 713.4,800.6 716.6,815.3 719.8,801.6 723.0,815.1 726.2,802.9 729.4,819.3 732.6,806.8 735.8,822.4 739.0,808.1 742.2,823.8 745.4,807.9 748.6,821.8 751.8,812.3 755.0,823.2 758.2,811.2 761.4,825.0 764.6,812.8 767.8,824.7 771.0,812.1 774.2,824.4 777.4,815.2 780.6,830.5 783.8,817.1 787.0,826.1 790.2,814.3 793.4,829.3 796.6,815.3 799.8,828.6 803.0,816.2 806.2,829.6 809.4,812.6 812.6,828.1 815.8,813.8 819.0,826.3 822.2,816.4 825.4,828.9 828.6,818.9 831.8,831.4 835.0,816.1 838.2,830.0 841.4,815.5 844.6,830.2 847.8,816.3 851.0,831.3 854.2,813.3 857.4,814.0 860.6,804.0 863.8,828.7 867.0,818.9 870.2,829.1 873.4,814.4 876.6,829.6 879.8,818.6 883.0,827.9 886.2,817.9 889.4,830.2 892.6,817.2 895.8,831.8 899.0,815.4 902.2,828.7 905.4,815.0 908.6,828.6 911.8,813.5 915.0,826.4 918.2,813.5 921.4,828.7 924.6,818.2 927.8,828.5 931.0,816.6 934.2,830.6 937.4,816.2 940.6,829.1 943.8,815.6 947.0,828.5 950.2,818.3 953.4,831.5 956.6,813.9 959.8,827.9 963.0,813.8 966.2,831.0 969.4,814.3 972.6,827.7 975.8,818.7 979.0,830.9 982.2,818.9 985.4,827.0 988.6,812.8 991.8,824.2 995.0,806.1 998.2,820.8 1001.4,814.5 1004.6,827.1 1007.8,814.1 1011.0,828.2 1014.2,813.2 1017.4,829.7 1020.6,812.7 1023.8,830.1 1027.0,816.1 1030.2,828.3 1033.4,812.3 1036.6,824.8 1039.8,812.3 1043.0,828.4 1046.2,813.1 1049.4,825.7 1052.6,812.2 1055.8,823.7 1059.0,809.6 1062.2,824.8 1065.4,812.7 1068.6,823.4 1071.8,811.5 1075.0,822.3 1078.2,809.7 1081.4,824.9 1084.6,807.3 1087.8,821.2 1091.0,812.1 1094.2,820.2 1097.4,809.1 1100.6,820.9 1103.8,805.6 1107.0,822.2 1110.2,809.4 1113.4,821.4 1116.6,810.1 1119.8,821.6 1123.0,807.4 1126.2,821.8 1129.4,803.0 1132.6,811.9 1135.8,801.9 1139.0,821.6 1142.2,806.6 1145.4,824.6 1148.6,810.0 1151.8,821.3 1155.0,810.7 1158.2,823.7 1161.4,811.9 1164.6,826.2 1167.8,810.2 1171.0,825.6 1174.2,814.9 1177.4,825.9 1180.6,811.3 1183.8,823.9 1187.0,813.9 1190.2,826.8 1193.4,814.5 1196.6,828.3 1199.8,814.5 1203.0,826.0 1206.2,811.2 1209.4,826.2 1212.6,814.1 1215.8,827.2 1219.0,814.6 1222.2,829.1 1225.4,811.8 1228.6,827.7 1231.8,812.6 1235.0,824.3 1238.2,812.8 1241.4,825.0 1244.6,812.1 1247.8,827.6 1251.0,812.0 1254.2,827.0 1257.4,810.7 1260.6,826.0 1263.8,813.2 1267.0,824.2 1270.2,811.5 1273.4,826.1 1276.6,811.3 1279.8,822.5 1283.0,811.3 1286.2,822.2 1289.4,809.6 1292.6,823.8 1295.8,808.2 1299.0,825.8 1302.2,811.8 1305.4,821.2 1308.6,807.5 1311.8,821.0 1315.0,809.4 1318.2,822.4 1321.4,810.4 1324.6,825.7 1327.8,810.6 1331.0,822.1 1334.2,808.0 1337.4,822.7 1340.6,811.5 1343.8,822.2 1347.0,809.9 1350.2,821.6 1353.4,812.4 1356.6,822.2 1359.8,810.8 1363.0,824.3 1366.2,808.6 1369.4,826.1 1372.6,811.8 1375.8,826.8 1379.0,811.2 1382.2,826.0 1385.4,810.1 1388.6,824.7 1391.8,813.7 1395.0,826.0 1398.2,813.8 1401.4,829.7 1404.6,812.6 1407.8,829.2 1411.0,812.9 1414.2,829.9 1417.4,813.6 1420.6,828.1 1423.8,819.1 1427.0,828.5 1430.2,818.1 1433.4,833.5 1436.6,814.8 1439.8,829.4 1443.0,820.3 1446.2,835.4 1449.4,820.9 1452.6,831.4 1455.8,820.4 1459.0,830.0 1462.2,817.1 1465.4,834.2 1468.6,818.0 1471.8,829.0 1475.0,816.6 1478.2,832.3 1481.4,815.1 1484.6,828.5 1487.8,811.6 1491.0,830.6 1494.2,817.6 1497.4,831.7 1500.6,821.0 1503.8,832.6 1507.0,819.6 1510.2,831.8 1513.4,817.8 1516.6,833.4 1519.8,817.1 1523.0,831.4 1526.2,818.6 1529.4,833.5 1532.6,817.7 1535.8,831.4 1539.0,821.8 1542.2,834.7 1545.4,819.8 1548.6,830.7 1551.8,819.8 1555.0,834.2 1558.2,817.1 1561.4,832.0 1564.6,820.3 1567.8,829.5 1571.0,819.5 1574.2,832.6 1577.4,818.3 1580.6,831.5 1583.8,820.3 1587.0,833.5 1590.2,821.5 1593.4,830.4 1596.6,817.7 1599.8,833.2 1603.0,815.9 1606.2,831.2 1609.4,818.3 1612.6,834.7 1615.8,818.6 1619.0,832.2 1622.2,817.9 1625.4,833.4 1628.6,816.4 1631.8,830.9 1635.0,819.9 1638.2,834.5 1641.4,818.4 1644.6,834.5 1647.8,818.6 1651.0,833.4 1654.2,817.1 1657.4,831.4 1660.6,820.0 1663.8,830.4 1667.0,820.0 1670.2,833.8 1673.4,820.9 1676.6,834.6 1679.8,818.7 1683.0,833.5 1686.2,820.8 1689.4,835.1 1692.6,816.8 1695.8,833.7 1699.0,818.3 1702.2,833.4 1705.4,821.2 1708.6,831.4 1711.8,817.9 1715.0,831.6 1718.2,817.5 1721.4,834.5 1724.6,819.3 1727.8,831.2 1731.0,822.0 1734.2,830.4 1737.4,820.0 1740.6,833.1 1743.8,820.0 1747.0,833.0 1750.2,819.3 1753.4,834.4 1756.6,820.8 1759.8,833.3 1763.0,817.5 1766.2,831.0 1769.4,821.3 1772.6,834.3 1775.8,816.8 1779.0,831.7 1782.2,817.3 1785.4,831.4 1788.6,818.8 1791.8,831.6 1795.0,817.9 1798.2,834.5 1801.4,818.2 1804.6,830.8 1807.8,818.8 1811.0,832.3 1814.2,822.0 1817.4,831.3 1820.6,819.4 1823.8,833.0 1827.0,821.3 1830.2,831.2 1833.4,816.2 1836.6,834.0 1839.8,822.0 1843.0,833.6 1846.2,821.3 1849.4,831.0 1852.6,818.6 1855.8,835.1 1859.0,819.1 1862.2,833.9 1865.4,817.1 1868.6,830.9 1871.8,818.9 1875.0,836.1 1878.2,821.5 1881.4,831.1 1884.6,821.2 1887.8,834.4 1891.0,818.4 1894.2,833.6 1897.4,820.7 1900.6,834.5 1903.8,822.3 1907.0,835.7 1910.2,822.7 1913.4,833.1 1916.6,818.3 1919.8,834.6 1923.0,821.4 1926.2,832.7 1929.4,821.6 1932.6,835.1 1935.8,819.2 1939.0,831.4 1942.2,821.4 1945.4,832.1 1948.6,818.7 1951.8,833.6 1955.0,819.6 1958.2,831.5 1961.4,818.1 1964.6,831.7 1967.8,819.5 1971.0,833.8 1974.2,821.1 1977.4,833.5 1980.6,820.7 1983.8,834.1 1987.0,820.4 1990.2,833.5 1993.4,817.9 1996.6,833.2 1999.8,821.0 2003.0,833.1 2006.2,819.4 2009.4,832.4 2012.6,817.5 2015.8,832.9 2019.0,817.7 2022.2,835.5 2025.4,821.4 2028.6,831.5 2031.8,819.1 2035.0,836.3 2038.2,820.0 2041.4,829.5 2044.6,819.8 2047.8,835.3 2051.0,818.5 2054.2,831.7 2057.4,818.8 2060.6,832.5 2063.8,819.9 2067.0,833.6 2070.2,820.0 2073.4,832.2 2076.6,820.1 2079.8,834.2 2083.0,820.5 2086.2,831.8 2089.4,820.0 2092.6,830.8 2095.8,819.7 2099.0,834.6 2102.2,817.9 2105.4,831.5 2108.6,822.2 2111.8,834.1 2115.0,821.0 2118.2,833.0 2121.4,822.5 2124.6,834.3 2127.8,820.4 2131.0,832.8 2134.2,818.7 2137.4,831.8 2140.6,820.9 2143.8,832.7 2147.0,821.0 2150.2,830.9 2153.4,819.2 2156.6,832.2 2159.8,816.6 2163.0,829.2 2166.2,817.2 2169.4,834.3 2172.6,817.6 2175.8,832.3 2179.0,819.4 2182.2,832.1 2185.4,821.0 2188.6,831.6 2191.8,820.4 2195.0,833.5 2198.2,821.2 2201.4,832.1 2204.6,821.2 2207.8,834.5 2211.0,821.7 2214.2,834.4 2217.4,819.4 2220.6,836.4 2223.8,818.5 2227.0,833.5 2230.2,819.9 2233.4,833.8 2236.6,817.9 2239.8,833.6 2243.0,819.3 2246.2,831.3 2249.4,819.0 2252.6,831.6 2255.8,819.7 2259.0,832.5 2262.2,819.8 2265.4,834.0 2268.6,820.0 2271.8,834.0 2275.0,819.2 2278.2,834.8 2281.4,818.9 2284.6,831.2 2287.8,819.9 2291.0,833.5 2294.2,818.1 2297.4,833.2 2300.6,819.6 2303.8,831.9 2307.0,816.5 2310.2,831.5 2313.4,819.0 2316.6,834.6 2319.8,818.9 2323.0,833.0 2326.2,821.8 2329.4,831.6 2332.6,819.3 2335.8,833.3 2339.0,816.6 2342.2,830.2 2345.4,821.2 2348.6,834.4 2351.8,821.2 2355.0,831.4 2358.2,821.1 2361.4,833.3 2364.6,819.2 2367.8,835.7 2371.0,821.1 2374.2,834.8 2377.4,816.5 2380.6,835.5" stroke="#ff00ff" class="fz"/>
<polyline points="178.0,824.0 179.2,823.2 180.5,825.4 181.8,823.9 183.0,826.1 184.2,824.8 185.5,826.5 186.8,824.3 188.0,826.0 189.2,823.6 190.5,825.2 191.8,823.1 193.0,824.7 194.2,822.8 195.5,824.8 196.8,823.2 198.0,825.2 199.2,823.7 200.5,825.4 201.8,823.4 203.0,825.2 204.2,823.0 205.5,824.8 206.8,822.6 208.0,824.4 209.2,823.1 210.5,825.2 211.8,823.6 213.0,825.5 214.2,823.3 215.5,824.8 216.8,822.0 218.0,822.7 219.2,819.2 220.5,819.5 221.8,816.8 222.0,818.6 223.0,817.2 224.2,820.9 225.5,820.8 226.8,824.0 228.0,822.5 229.2,824.4 230.5,822.1 231.8,824.3 233.0,823.0 234.2,825.3 235.5,823.5 236.8,825.7 238.0,823.5 239.2,825.5 240.5,823.2 241.8,824.9 243.0,822.9 244.2,825.0 245.5,823.3 246.8,825.8 248.0,823.9 249.2,825.4 250.5,823.1 251.8,824.6 253.0,822.6 254.2,824.4 255.5,822.7 256.8,824.8 258.0,823.2 259.2,825.1 260.5,823.0 261.8,824.5 263.0,822.5 264.2,824.0 265.5,822.1 266.8,824.2 268.0,822.7 269.2,825.0 270.5,823.6 271.8,825.6 273.0,823.4 274.2,825.2 275.5,823.6 276.8,825.8 278.0,824.3 279.2,826.2 280.5,824.2 281.8,825.4 283.0,823.2 284.2,824.5 285.5,822.5 286.8,824.5 288.0,822.5 289.2,824.2 290.5,822.1 291.8,823.9 293.0,821.8 294.2,823.6 295.5,821.6 296.8,823.3 298.0,821.8 299.2,824.0 300.5,822.7 301.8,824.8 303.0,823.1 304.2,825.0 305.5,823.0 306.8,825.1 308.0,822.9 309.2,824.8 310.5,822.7 311.8,824.3 313.0,822.4 314.2,824.3 315.5,822.9 316.8,825.1 318.0,823.4 319.2,825.3 320.5,823.3 321.8,825.4 323.0,823.2 324.2,825.3 325.5,823.1 326.8,824.8 328.0,822.4 329.2,823.5 330.5,821.1 331.8,822.9 333.0,821.5 334.2,823.9 335.5,822.1 336.8,823.8 338.0,821.5 339.2,823.3 340.5,821.8 341.8,824.0 343.0,822.7 344.2,824.9 345.5,823.2 346.8,825.3 348.0,823.4 349.2,825.7 350.5,824.1 351.8,825.9 353.0,823.9 354.2,825.2 355.5,822.4 356.8,823.7 358.0,821.5 359.2,823.8 360.5,822.2 361.8,824.4 363.0,822.7 364.2,824.6 365.5,822.6 366.8,824.5 368.0,822.1 369.2,823.8 370.5,821.7 371.8,823.8 373.0,822.4 374.2,824.4 375.5,822.2 376.8,823.7 378.0,821.7 379.2,823.7 380.5,822.4 381.8,824.8 383.0,823.2 384.2,825.0 385.5,823.2 386.8,825.0 388.0,822.7 389.2,824.2 390.5,822.0 391.8,823.6 393.0,821.4 394.2,823.3 395.5,821.8 396.8,823.7 398.0,821.6 399.2,823.3 400.5,821.4 401.8,823.1 403.0,820.9 404.2,822.9 405.5,821.1 406.8,823.4 408.0,822.1 409.2,824.6 410.5,823.0 411.8,825.1 413.0,823.2 414.2,824.8 415.5,822.0 416.8,823.3 418.0,820.9 419.2,822.6 420.5,820.9 421.8,823.1 423.0,821.6 424.2,823.7 425.5,822.0 426.8,822.7 428.0,816.9 429.2,805.2 430.5,777.1 431.8,738.0 433.0,701.9 434.0,691.0 434.2,691.7 435.5,714.2 436.8,753.6 438.0,789.4 439.2,808.9 440.5,818.7 441.8,819.2 443.0,820.1 444.2,813.6 445.5,801.1 446.8,776.8 448.0,749.5 449.2,732.4 449.6,731.4 450.5,737.4 451.8,761.1 453.0,787.8 454.2,807.6 455.5,815.3 456.8,820.2 458.0,818.2 459.2,822.0 460.5,818.4 461.8,822.9 463.0,817.8 464.2,823.0 465.5,817.9 466.8,823.0 468.0,817.9 469.2,823.1 470.5,817.3 471.8,822.0 473.0,817.1 474.2,821.7 475.5,816.5 476.8,821.7 478.0,815.4 479.2,818.4 480.5,810.9 481.8,813.6 482.0,807.8 483.0,813.1 484.2,809.6 485.5,817.5 486.8,813.8 488.0,820.1 489.2,814.7 490.5,820.7 491.8,815.9 493.0,821.2 494.2,815.5 495.5,820.5 496.8,814.5 498.0,819.4 499.2,814.6 500.5,819.9 501.8,814.7 503.0,819.6 504.2,814.3 505.5,819.3 506.8,814.3 508.0,819.2 509.2,814.3 510.5,815.9 511.8,808.8 513.0,802.8 514.2,792.6 515.5,786.7 516.0,786.0 516.8,787.4 518.0,794.1 519.2,804.2 520.5,809.2 521.8,816.1 523.0,813.7 524.2,818.0 525.5,813.4 526.8,818.1 528.0,813.0 529.2,818.2 530.5,811.9 531.8,817.2 533.0,812.4 534.2,817.5 535.5,812.4 536.8,817.8 538.0,812.1 539.2,816.2 540.5,808.4 541.8,800.3 543.0,772.7 544.2,733.7 545.5,690.8 546.8,671.3 546.8,671.3 548.0,688.2 549.2,728.8 550.5,771.4 551.8,795.1 553.0,810.0 554.2,809.9 555.5,815.5 556.8,810.4 558.0,815.7 559.2,810.0 560.5,815.2 561.8,809.9 563.0,815.1 564.2,809.5 565.5,814.1 566.8,808.9 568.0,814.0 569.2,809.4 570.5,813.9 571.8,808.7 573.0,813.3 574.2,808.1 575.5,813.1 576.8,807.5 578.0,807.1 579.2,793.2 580.5,776.9 581.8,750.2 583.0,727.4 584.2,717.9 584.2,717.9 585.5,728.0 586.8,752.0 588.0,775.4 589.2,795.0 590.5,801.1 591.8,807.9 593.0,802.6 594.2,806.7 595.5,800.1 596.8,805.4 598.0,799.7 599.2,804.6 600.5,799.5 601.8,803.7 603.0,797.4 604.2,801.9 605.5,795.8 606.8,797.2 608.0,787.5 609.2,785.1 610.5,776.4 611.0,779.4 611.8,776.6 613.0,783.9 614.2,785.2 615.5,792.3 616.8,791.5 618.0,795.1 619.2,792.7 620.5,795.5 621.8,792.8 623.0,794.4 624.2,792.2 625.5,794.0 626.8,792.1 628.0,794.4 629.2,792.3 630.5,794.4 631.8,791.8 633.0,793.1 634.2,790.3 635.5,791.4 636.8,789.0 638.0,790.9 639.2,789.1 640.5,791.6 641.8,790.0 643.0,792.0 644.2,790.2 645.5,792.3 646.8,790.6 648.0,793.1 649.2,791.3 650.5,792.9 651.8,790.5 653.0,792.1 654.2,790.2 655.5,792.1 656.8,790.5 658.0,793.0 659.2,791.6 660.5,793.8 661.8,792.0 663.0,793.4 664.2,791.3 665.5,792.8 666.8,791.2 668.0,793.4 669.2,791.8 670.5,793.9 671.8,792.0 673.0,793.9 674.2,792.5 675.5,795.2 676.8,794.5 678.0,797.6 679.2,796.2 680.5,798.7 681.8,796.8 683.0,799.2 684.2,798.2 685.5,801.0 686.8,800.0 688.0,802.6 689.2,800.7 690.5,802.8 691.8,800.8 693.0,803.1 694.2,801.8 695.5,804.4 696.8,803.0 698.0,805.4 699.2,804.0 700.5,806.8 701.8,805.9 703.0,808.1 704.2,806.4 705.5,808.0 706.8,805.9 708.0,807.5 709.2,805.5 710.5,808.0 711.8,806.8 713.0,809.6 714.2,808.3 715.5,810.9 716.8,808.8 718.0,810.3 719.2,808.6 720.5,810.6 721.8,808.9 723.0,811.0 724.2,808.9 725.5,811.0 726.8,809.2 728.0,811.6 729.2,809.8 730.5,812.1 731.8,810.7 733.0,813.1 734.2,811.7 735.5,814.1 736.8,812.6 738.0,814.8 739.2,813.7 740.5,816.2 741.8,815.0 743.0,817.1 744.2,815.0 745.5,816.7 746.8,814.9 748.0,817.1 749.2,815.6 750.5,818.2 751.8,817.0 753.0,819.4 754.2,817.6 755.5,819.6 756.8,817.8 758.0,820.1 759.2,818.5 760.5,820.4 761.8,818.0 763.0,819.7 764.2,817.8 765.5,820.0 766.8,818.5 768.0,820.4 769.2,818.5 770.5,820.2 771.8,818.3 773.0,819.9 774.2,818.1 775.5,820.2 776.8,818.5 778.0,821.3 779.2,819.9 780.5,822.6 781.8,821.0 783.0,822.9 784.2,820.7 785.5,822.3 786.8,820.0 788.0,821.5 789.2,819.7 790.5,821.5 791.8,819.3 793.0,821.0 794.2,819.3 795.5,821.8 796.8,820.2 798.0,822.1 799.2,819.7 800.5,821.3 801.8,819.5 803.0,821.8 804.2,820.5 805.5,822.3 806.8,820.0 808.0,821.8 809.2,819.9 810.5,822.4 811.8,820.6 813.0,822.6 814.2,820.6 815.5,822.1 816.8,820.3 818.0,822.2 819.2,820.3 820.5,822.4 821.8,820.6 823.0,823.3 824.2,821.9 825.5,824.2 826.8,822.6 828.0,824.7 829.2,822.6 830.5,824.3 831.8,822.1 833.0,823.8 834.2,821.5 835.5,823.3 836.8,821.5 838.0,823.8 839.2,822.0 840.5,823.7 841.8,821.2 843.0,822.2 844.2,820.4 845.5,822.2 846.8,820.7 848.0,822.7 849.2,821.3 850.5,823.7 851.8,821.4 853.0,821.9 854.2,816.9 855.5,814.4 856.8,807.7 858.0,807.1 858.3,804.6 859.2,807.5 860.5,809.6 861.8,816.5 863.0,818.4 864.2,822.4 865.5,822.1 866.8,824.6 868.0,823.1 869.2,824.9 870.5,822.5 871.8,824.0 873.0,821.7 874.2,823.5 875.5,821.6 876.8,823.6 878.0,821.7 879.2,823.8 880.5,822.1 881.8,823.8 883.0,821.8 884.2,823.6 885.5,821.6 886.8,823.4 888.0,821.9 889.2,823.6 890.5,821.6 891.8,823.2 893.0,821.6 894.2,823.7 895.5,822.2 896.8,824.3 898.0,822.3 899.2,824.1 900.5,822.3 901.8,823.8 903.0,821.7 904.2,823.6 905.5,821.8 906.8,823.8 908.0,821.8 909.2,823.7 910.5,821.6 911.8,823.1 913.0,821.1 914.2,823.0 915.5,820.9 916.8,822.9 918.0,821.1 919.2,823.2 920.5,821.5 921.8,823.9 923.0,821.8 924.2,823.7 925.5,821.2 926.8,822.8 928.0,820.7 929.2,822.4 930.5,820.2 931.8,822.0 933.0,820.6 934.2,823.2 935.5,821.8 936.8,824.1 938.0,822.0 939.2,823.8 940.5,822.0 941.8,824.3 943.0,822.6 944.2,824.4 945.5,822.1 946.8,824.1 948.0,822.4 949.2,824.7 950.5,822.6 951.8,824.4 953.0,821.9 954.2,823.4 955.5,821.5 956.8,823.3 958.0,821.3 959.2,823.0 960.5,820.9 961.8,823.1 963.0,821.3 964.2,823.2 965.5,821.4 966.8,823.4 968.0,821.9 969.2,824.0 970.5,821.9 971.8,824.0 973.0,821.9 974.2,823.9 975.5,822.4 976.8,824.6 978.0,822.7 979.2,824.7 980.5,822.5 981.8,824.2 983.0,822.0 984.2,823.5 985.5,821.2 986.8,822.8 988.0,820.6 989.2,822.4 990.5,820.0 991.8,820.2 993.0,815.3 994.2,813.4 995.5,809.1 995.8,810.3 996.8,809.1 998.0,814.0 999.2,815.9 1000.5,820.8 1001.8,820.3 1003.0,822.9 1004.2,820.9 1005.5,823.1 1006.8,821.0 1008.0,822.7 1009.2,820.3 1010.5,822.0 1011.8,819.6 1013.0,821.8 1014.2,820.0 1015.5,822.1 1016.8,820.2 1018.0,822.3 1019.2,820.5 1020.5,822.5 1021.8,820.8 1023.0,822.5 1024.2,820.8 1025.5,822.8 1026.8,820.9 1028.0,822.1 1029.2,819.3 1030.5,820.8 1031.8,818.8 1033.0,820.5 1034.2,818.6 1035.5,820.1 1036.8,818.2 1038.0,820.1 1039.2,818.6 1040.5,820.8 1041.8,819.0 1043.0,820.5 1044.2,818.3 1045.5,819.8 1046.8,817.7 1048.0,819.4 1049.2,817.3 1050.5,818.8 1051.8,816.7 1053.0,818.8 1054.2,817.5 1055.5,819.6 1056.8,817.8 1058.0,819.1 1059.2,816.8 1060.5,818.6 1061.8,817.0 1063.0,819.2 1064.2,817.9 1065.5,819.9 1066.8,818.0 1068.0,819.6 1069.2,817.2 1070.5,818.4 1071.8,816.1 1073.0,818.2 1074.2,816.6 1075.5,818.6 1076.8,816.2 1078.0,817.5 1079.2,815.6 1080.5,817.8 1081.8,816.1 1083.0,817.8 1084.2,815.3 1085.5,816.7 1086.8,814.8 1088.0,817.7 1089.2,816.4 1090.5,818.7 1091.8,816.3 1093.0,817.2 1094.2,814.9 1095.5,817.0 1096.8,815.8 1098.0,818.1 1099.2,815.8 1100.5,817.0 1101.8,814.3 1103.0,815.5 1104.2,813.3 1105.5,815.2 1106.8,813.7 1108.0,815.9 1109.2,814.2 1110.5,816.1 1111.8,814.3 1113.0,816.5 1114.2,815.0 1115.5,817.0 1116.8,814.9 1118.0,816.8 1119.2,814.6 1120.5,816.4 1121.8,814.1 1123.0,815.7 1124.2,813.7 1125.5,814.8 1126.8,811.9 1128.0,812.2 1129.2,807.9 1130.5,807.5 1131.8,804.3 1132.4,806.5 1133.0,805.6 1134.2,809.2 1135.5,809.8 1136.8,813.6 1138.0,813.0 1139.2,815.6 1140.5,814.0 1141.8,816.5 1143.0,814.9 1144.2,817.2 1145.5,815.6 1146.8,817.4 1148.0,815.1 1149.2,816.7 1150.5,814.7 1151.8,816.9 1153.0,815.0 1154.2,816.8 1155.5,815.0 1156.8,817.0 1158.0,815.6 1159.2,818.2 1160.5,816.5 1161.8,818.8 1163.0,817.2 1164.2,819.2 1165.5,817.2 1166.8,819.1 1168.0,817.2 1169.2,819.2 1170.5,817.9 1171.8,820.2 1173.0,818.3 1174.2,820.0 1175.5,818.3 1176.8,819.9 1178.0,818.1 1179.2,820.3 1180.5,818.4 1181.8,820.2 1183.0,818.1 1184.2,819.9 1185.5,818.2 1186.8,820.1 1188.0,818.6 1189.2,820.8 1190.5,818.5 1191.8,820.5 1193.0,818.8 1194.2,820.9 1195.5,819.2 1196.8,821.4 1198.0,819.2 1199.2,820.7 1200.5,818.7 1201.8,820.2 1203.0,818.1 1204.2,820.2 1205.5,818.3 1206.8,820.4 1208.0,818.8 1209.2,820.8 1210.5,819.2 1211.8,821.2 1213.0,818.9 1214.2,820.5 1215.5,818.6 1216.8,820.4 1218.0,818.8 1219.2,820.9 1220.5,819.6 1221.8,821.7 1223.0,819.7 1224.2,821.3 1225.5,819.2 1226.8,821.6 1228.0,820.5 1229.2,822.6 1230.5,820.6 1231.8,822.2 1233.0,819.7 1234.2,820.8 1235.5,818.4 1236.8,820.0 1238.0,818.2 1239.2,820.6 1240.5,819.3 1241.8,821.4 1243.0,819.3 1244.2,820.7 1245.5,818.7 1246.8,820.6 1248.0,818.4 1249.2,820.1 1250.5,817.9 1251.8,819.8 1253.0,818.2 1254.2,820.4 1255.5,818.6 1256.8,820.5 1258.0,818.3 1259.2,820.1 1260.5,817.9 1261.8,819.6 1263.0,817.3 1264.2,819.1 1265.5,817.1 1266.8,818.9 1268.0,816.9 1269.2,818.8 1270.5,816.9 1271.8,818.9 1273.0,817.0 1274.2,818.8 1275.5,816.4 1276.8,818.0 1278.0,815.9 1279.2,817.7 1280.5,816.0 1281.8,818.1 1283.0,816.4 1284.2,818.4 1285.5,816.8 1286.8,818.6 1288.0,816.8 1289.2,818.7 1290.5,817.0 1291.8,818.5 1293.0,815.9 1294.2,817.1 1295.5,814.8 1296.8,816.9 1298.0,815.7 1299.2,817.7 1300.5,815.8 1301.8,817.5 1303.0,815.5 1304.2,817.4 1305.5,815.4 1306.8,816.9 1308.0,814.6 1309.2,816.5 1310.5,814.5 1311.8,816.6 1313.0,814.7 1314.2,817.0 1315.5,815.3 1316.8,817.7 1318.0,816.0 1319.2,817.7 1320.5,815.6 1321.8,817.5 1323.0,815.4 1324.2,817.3 1325.5,815.7 1326.8,817.8 1328.0,816.0 1329.2,817.7 1330.5,815.1 1331.8,816.9 1333.0,814.7 1334.2,816.9 1335.5,814.9 1336.8,817.0 1338.0,815.2 1339.2,817.0 1340.5,814.9 1341.8,816.8 1343.0,814.8 1344.2,816.5 1345.5,814.7 1346.8,816.4 1348.0,814.7 1349.2,817.3 1350.5,816.1 1351.8,818.5 1353.0,817.0 1354.2,818.7 1355.5,816.2 1356.8,818.0 1358.0,816.2 1359.2,818.6 1360.5,817.1 1361.8,818.8 1363.0,816.7 1364.2,818.1 1365.5,815.9 1366.8,818.2 1368.0,816.5 1369.2,818.4 1370.5,816.6 1371.8,818.4 1373.0,816.4 1374.2,818.3 1375.5,816.8 1376.8,818.7 1378.0,816.8 1379.2,818.8 1380.5,816.9 1381.8,819.1 1383.0,817.6 1384.2,819.7 1385.5,818.1 1386.8,820.0 1388.0,818.0 1389.2,820.2 1390.5,818.3 1391.8,820.3 1393.0,818.1 1394.2,819.6 1395.5,818.0 1396.8,820.5 1398.0,819.8 1399.2,822.8 1400.5,821.4 1401.8,822.9 1403.0,820.4 1404.2,821.9 1405.5,819.8 1406.8,822.0 1408.0,820.7 1409.2,823.0 1410.5,821.4 1411.8,822.9 1413.0,821.0 1414.2,822.9 1415.5,821.2 1416.8,823.4 1418.0,821.7 1419.2,823.6 1420.5,822.1 1421.8,824.1 1423.0,822.3 1424.2,824.2 1425.5,822.3 1426.8,825.0 1428.0,823.5 1429.2,825.8 1430.5,824.1 1431.8,825.8 1433.0,823.6 1434.2,825.2 1435.5,822.9 1436.8,824.8 1438.0,822.8 1439.2,824.9 1440.5,823.6 1441.8,826.3 1443.0,824.8 1444.2,827.0 1445.5,825.3 1446.8,827.2 1448.0,825.2 1449.2,826.8 1450.5,824.7 1451.8,826.2 1453.0,824.4 1454.2,826.3 1455.5,824.3 1456.8,826.3 1458.0,824.1 1459.2,825.6 1460.5,823.4 1461.8,825.5 1463.0,824.0 1464.2,826.4 1465.5,824.8 1466.8,826.6 1468.0,824.0 1469.2,825.5 1470.5,823.1 1471.8,825.0 1473.0,823.6 1474.2,825.8 1475.5,824.0 1476.8,825.9 1478.0,823.7 1479.2,825.3 1480.5,823.2 1481.8,824.6 1483.0,821.7 1484.2,822.3 1485.5,819.0 1486.5,820.7 1486.8,818.8 1488.0,821.6 1489.2,821.0 1490.5,823.9 1491.8,822.5 1493.0,824.4 1494.2,822.9 1495.5,825.6 1496.8,824.5 1498.0,827.1 1499.2,825.4 1500.5,826.9 1501.8,824.3 1503.0,825.5 1504.2,823.0 1505.5,824.9 1506.8,823.4 1508.0,825.7 1509.2,823.9 1510.5,826.0 1511.8,823.9 1513.0,825.6 1514.2,823.8 1515.5,825.9 1516.8,824.1 1518.0,826.5 1519.2,824.9 1520.5,827.4 1521.8,825.8 1523.0,828.1 1524.2,826.2 1525.5,828.1 1526.8,825.8 1528.0,827.4 1529.2,824.6 1530.5,826.1 1531.8,824.4 1533.0,826.4 1534.2,824.9 1535.5,827.3 1536.8,825.3 1538.0,827.3 1539.2,825.5 1540.5,827.3 1541.8,825.2 1543.0,826.5 1544.2,824.2 1545.5,825.8 1546.8,823.6 1548.0,825.7 1549.2,823.8 1550.5,826.0 1551.8,824.1 1553.0,826.0 1554.2,824.5 1555.5,826.8 1556.8,825.2 1558.0,827.1 1559.2,824.7 1560.5,826.3 1561.8,823.9 1563.0,825.4 1564.2,823.7 1565.5,825.6 1566.8,823.9 1568.0,826.0 1569.2,824.2 1570.5,825.9 1571.8,823.9 1573.0,825.6 1574.2,824.0 1575.5,826.2 1576.8,824.7 1578.0,826.7 1579.2,824.8 1580.5,826.4 1581.8,824.0 1583.0,826.0 1584.2,824.4 1585.5,826.6 1586.8,824.8 1588.0,826.8 1589.2,825.1 1590.5,826.9 1591.8,824.8 1593.0,826.4 1594.2,824.3 1595.5,825.8 1596.8,824.0 1598.0,826.1 1599.2,824.1 1600.5,825.9 1601.8,823.8 1603.0,825.8 1604.2,824.3 1605.5,826.7 1606.8,824.7 1608.0,826.5 1609.2,824.4 1610.5,826.4 1611.8,824.9 1613.0,827.2 1614.2,825.2 1615.5,827.0 1616.8,824.8 1618.0,827.0 1619.2,824.9 1620.5,826.6 1621.8,824.2 1623.0,825.8 1624.2,823.8 1625.5,825.4 1626.8,823.0 1628.0,824.8 1629.2,822.9 1630.5,825.0 1631.8,823.4 1633.0,825.4 1634.2,823.9 1635.5,826.1 1636.8,824.1 1638.0,826.3 1639.2,825.0 1640.5,827.0 1641.8,825.2 1643.0,827.0 1644.2,825.5 1645.5,827.4 1646.8,825.9 1648.0,827.5 1649.2,825.1 1650.5,826.5 1651.8,824.5 1653.0,826.7 1654.2,824.9 1655.5,826.6 1656.8,824.2 1658.0,825.9 1659.2,823.9 1660.5,825.7 1661.8,824.2 1663.0,826.2 1664.2,824.4 1665.5,826.1 1666.8,824.1 1668.0,825.7 1669.2,823.7 1670.5,826.0 1671.8,824.3 1673.0,826.2 1674.2,824.3 1675.5,826.3 1676.8,824.8 1678.0,827.2 1679.2,825.4 1680.5,827.1 1681.8,824.9 1683.0,826.6 1684.2,824.7 1685.5,827.2 1686.8,825.3 1688.0,827.5 1689.2,825.2 1690.5,826.6 1691.8,824.2 1693.0,826.0 1694.2,824.0 1695.5,826.2 1696.8,824.0 1698.0,826.0 1699.2,823.9 1700.5,826.1 1701.8,824.6 1703.0,827.1 1704.2,825.2 1705.5,826.6 1706.8,824.1 1708.0,825.7 1709.2,823.3 1710.5,824.9 1711.8,822.7 1713.0,824.7 1714.2,823.1 1715.5,825.4 1716.8,823.8 1718.0,825.7 1719.2,824.1 1720.5,826.5 1721.8,824.8 1723.0,826.9 1724.2,825.3 1725.5,827.4 1726.8,825.6 1728.0,827.7 1729.2,825.6 1730.5,827.4 1731.8,825.4 1733.0,827.2 1734.2,825.1 1735.5,827.1 1736.8,825.3 1738.0,827.2 1739.2,825.0 1740.5,826.6 1741.8,824.7 1743.0,826.5 1744.2,824.4 1745.5,826.4 1746.8,824.4 1748.0,826.4 1749.2,824.9 1750.5,827.0 1751.8,824.8 1753.0,826.5 1754.2,824.4 1755.5,826.4 1756.8,824.9 1758.0,826.4 1759.2,824.0 1760.5,825.6 1761.8,823.7 1763.0,826.5 1764.2,825.2 1765.5,827.3 1766.8,825.2 1768.0,827.3 1769.2,825.4 1770.5,827.6 1771.8,825.6 1773.0,827.3 1774.2,824.9 1775.5,826.4 1776.8,824.5 1778.0,826.4 1779.2,824.2 1780.5,826.0 1781.8,824.3 1783.0,826.3 1784.2,824.3 1785.5,826.4 1786.8,824.3 1788.0,825.9 1789.2,824.0 1790.5,825.6 1791.8,824.0 1793.0,826.3 1794.2,824.8 1795.5,826.7 1796.8,824.6 1798.0,826.4 1799.2,824.5 1800.5,827.0 1801.8,825.4 1803.0,827.4 1804.2,825.2 1805.5,826.8 1806.8,824.5 1808.0,826.2 1809.2,824.1 1810.5,826.0 1811.8,824.6 1813.0,826.9 1814.2,825.5 1815.5,827.3 1816.8,825.2 1818.0,827.3 1819.2,825.7 1820.5,828.0 1821.8,826.0 1823.0,828.0 1824.2,825.7 1825.5,827.6 1826.8,825.4 1828.0,827.1 1829.2,825.2 1830.5,826.6 1831.8,824.2 1833.0,825.5 1834.2,824.0 1835.5,826.2 1836.8,825.3 1838.0,827.8 1839.2,826.1 1840.5,828.0 1841.8,825.8 1843.0,827.2 1844.2,825.3 1845.5,827.1 1846.8,825.2 1848.0,827.1 1849.2,825.3 1850.5,827.4 1851.8,826.0 1853.0,828.1 1854.2,826.3 1855.5,828.0 1856.8,825.7 1858.0,827.4 1859.2,825.0 1860.5,826.8 1861.8,825.0 1863.0,827.1 1864.2,825.2 1865.5,826.9 1866.8,824.6 1868.0,826.2 1869.2,824.1 1870.5,825.8 1871.8,824.2 1873.0,826.6 1874.2,825.6 1875.5,828.3 1876.8,826.3 1878.0,828.0 1879.2,825.9 1880.5,827.5 1881.8,825.6 1883.0,827.3 1884.2,825.2 1885.5,826.8 1886.8,824.8 1888.0,826.9 1889.2,824.9 1890.5,827.1 1891.8,824.9 1893.0,826.7 1894.2,824.4 1895.5,826.3 1896.8,824.2 1898.0,826.1 1899.2,824.8 1900.5,827.0 1901.8,825.6 1903.0,827.9 1904.2,826.0 1905.5,827.7 1906.8,826.0 1908.0,828.0 1909.2,826.1 1910.5,828.0 1911.8,826.4 1913.0,828.6 1914.2,826.7 1915.5,828.5 1916.8,826.1 1918.0,827.7 1919.2,826.2 1920.5,828.3 1921.8,826.5 1923.0,827.8 1924.2,825.7 1925.5,827.3 1926.8,825.3 1928.0,827.7 1929.2,826.1 1930.5,828.1 1931.8,825.8 1933.0,827.4 1934.2,825.3 1935.5,827.1 1936.8,825.0 1938.0,827.2 1939.2,825.8 1940.5,828.0 1941.8,826.1 1943.0,828.0 1944.2,826.0 1945.5,828.0 1946.8,826.5 1948.0,827.9 1949.2,825.8 1950.5,827.1 1951.8,825.0 1953.0,826.8 1954.2,824.9 1955.5,827.0 1956.8,825.3 1958.0,827.4 1959.2,825.7 1960.5,827.4 1961.8,825.4 1963.0,827.3 1964.2,825.2 1965.5,827.1 1966.8,825.3 1968.0,827.4 1969.2,825.6 1970.5,827.6 1971.8,825.6 1973.0,827.3 1974.2,825.4 1975.5,827.8 1976.8,825.7 1978.0,827.4 1979.2,825.4 1980.5,826.9 1981.8,824.6 1983.0,826.2 1984.2,824.5 1985.5,826.5 1986.8,824.6 1988.0,826.8 1989.2,824.6 1990.5,826.5 1991.8,824.5 1993.0,826.1 1994.2,824.2 1995.5,825.9 1996.8,823.6 1998.0,825.9 1999.2,824.2 2000.5,826.7 2001.8,825.5 2003.0,827.8 2004.2,825.8 2005.5,827.3 2006.8,824.8 2008.0,826.7 2009.2,824.7 2010.5,826.9 2011.8,824.8 2013.0,826.5 2014.2,824.5 2015.5,826.2 2016.8,824.4 2018.0,826.8 2019.2,825.3 2020.5,827.7 2021.8,826.2 2023.0,828.1 2024.2,826.0 2025.5,827.4 2026.8,825.2 2028.0,827.4 2029.2,825.7 2030.5,827.8 2031.8,825.9 2033.0,827.8 2034.2,826.2 2035.5,828.3 2036.8,826.1 2038.0,827.7 2039.2,825.3 2040.5,826.5 2041.8,823.8 2043.0,825.7 2044.2,823.9 2045.5,826.3 2046.8,824.9 2048.0,827.2 2049.2,825.2 2050.5,826.8 2051.8,824.6 2053.0,826.9 2054.2,825.4 2055.5,827.9 2056.8,826.2 2058.0,828.2 2059.2,825.9 2060.5,827.9 2061.8,825.8 2063.0,827.6 2064.2,825.4 2065.5,826.9 2066.8,824.2 2068.0,825.6 2069.2,823.6 2070.5,825.9 2071.8,824.5 2073.0,827.0 2074.2,825.5 2075.5,827.6 2076.8,825.5 2078.0,827.2 2079.2,825.2 2080.5,827.2 2081.8,825.7 2083.0,827.7 2084.2,826.1 2085.5,828.3 2086.8,826.2 2088.0,828.0 2089.2,825.8 2090.5,827.4 2091.8,825.1 2093.0,827.0 2094.2,825.2 2095.5,827.4 2096.8,825.4 2098.0,827.3 2099.2,825.4 2100.5,827.2 2101.8,825.2 2103.0,826.9 2104.2,825.1 2105.5,827.3 2106.8,825.5 2108.0,827.6 2109.2,826.2 2110.5,828.0 2111.8,826.0 2113.0,827.3 2114.2,824.8 2115.5,826.5 2116.8,824.9 2118.0,827.5 2119.2,826.0 2120.5,828.5 2121.8,826.6 2123.0,828.6 2124.2,826.4 2125.5,828.2 2126.8,825.7 2128.0,827.3 2129.2,825.3 2130.5,827.0 2131.8,824.8 2133.0,826.7 2134.2,824.7 2135.5,826.7 2136.8,825.1 2138.0,827.4 2139.2,825.7 2140.5,827.6 2141.8,825.7 2143.0,827.4 2144.2,825.3 2145.5,827.3 2146.8,825.0 2148.0,827.0 2149.2,825.1 2150.5,827.0 2151.8,825.1 2153.0,827.0 2154.2,824.8 2155.5,826.8 2156.8,824.8 2158.0,826.5 2159.2,824.6 2160.5,826.2 2161.8,824.2 2163.0,825.9 2164.2,824.1 2165.5,826.8 2166.8,825.6 2168.0,827.8 2169.2,825.8 2170.5,826.9 2171.8,824.4 2173.0,826.4 2174.2,824.6 2175.5,827.0 2176.8,825.2 2178.0,827.2 2179.2,825.4 2180.5,827.3 2181.8,825.7 2183.0,827.4 2184.2,825.2 2185.5,826.7 2186.8,824.8 2188.0,827.2 2189.2,825.9 2190.5,827.9 2191.8,825.6 2193.0,827.6 2194.2,825.9 2195.5,828.2 2196.8,826.1 2198.0,827.6 2199.2,824.7 2200.5,826.3 2201.8,824.3 2203.0,826.5 2204.2,825.0 2205.5,827.4 2206.8,825.6 2208.0,827.7 2209.2,825.9 2210.5,827.9 2211.8,825.9 2213.0,827.9 2214.2,825.7 2215.5,827.3 2216.8,825.2 2218.0,827.5 2219.2,826.1 2220.5,828.5 2221.8,827.1 2223.0,828.4 2224.2,826.1 2225.5,827.3 2226.8,825.5 2228.0,827.3 2229.2,825.6 2230.5,827.6 2231.8,825.5 2233.0,827.0 2234.2,825.1 2235.5,827.0 2236.8,825.8 2238.0,828.0 2239.2,826.3 2240.5,828.3 2241.8,826.5 2243.0,828.5 2244.2,826.6 2245.5,828.3 2246.8,826.0 2248.0,827.5 2249.2,825.2 2250.5,827.0 2251.8,825.0 2253.0,827.0 2254.2,825.6 2255.5,827.7 2256.8,826.1 2258.0,827.9 2259.2,826.4 2260.5,828.5 2261.8,826.5 2263.0,828.0 2264.2,825.8 2265.5,827.5 2266.8,825.0 2268.0,826.4 2269.2,824.2 2270.5,826.0 2271.8,824.7 2273.0,827.3 2274.2,826.1 2275.5,828.7 2276.8,827.1 2278.0,828.7 2279.2,826.5 2280.5,827.8 2281.8,825.4 2283.0,827.3 2284.2,825.4 2285.5,827.8 2286.8,826.2 2288.0,828.2 2289.2,825.7 2290.5,826.3 2291.8,823.6 2293.0,825.4 2294.2,823.9 2295.5,826.5 2296.8,824.9 2298.0,826.8 2299.2,825.1 2300.5,827.4 2301.8,825.7 2303.0,827.4 2304.2,825.0 2305.5,826.6 2306.8,824.6 2308.0,826.6 2309.2,825.3 2310.5,827.6 2311.8,826.0 2313.0,827.6 2314.2,825.3 2315.5,827.1 2316.8,825.3 2318.0,826.9 2319.2,825.1 2320.5,827.3 2321.8,825.3 2323.0,827.2 2324.2,825.5 2325.5,827.6 2326.8,825.6 2328.0,827.8 2329.2,825.6 2330.5,827.6 2331.8,825.7 2333.0,828.1 2334.2,826.5 2335.5,828.2 2336.8,826.0 2338.0,827.0 2339.2,824.4 2340.5,826.3 2341.8,824.2 2343.0,826.3 2344.2,824.5 2345.5,827.0 2346.8,825.5 2348.0,828.0 2349.2,825.9 2350.5,827.5 2351.8,825.4 2353.0,826.9 2354.2,824.8 2355.5,826.8 2356.8,825.0 2358.0,827.3 2359.2,825.6 2360.5,827.5 2361.8,825.5 2363.0,827.3 2364.2,825.3 2365.5,827.3 2366.8,825.7 2368.0,827.6 2369.2,825.8 2370.5,827.7 2371.8,825.7 2373.0,827.1 2374.2,824.8 2375.5,826.3 2376.8,824.3 2378.0,826.5 2379.2,825.2 2380.5,827.5 2381.8,826.2 2383.0,828.3 2383.5,826.4" stroke="#ff00ff"/>
<path d="M179.0,594.2 182.2,580.8 185.4,598.0 188.6,581.7 191.8,594.3 195.0,582.9 198.2,593.5 201.4,583.1 204.6,594.8 207.8,585.8 211.0,595.4 214.2,583.8 217.4,594.9 220.6,583.4 223.8,595.3 227.0,585.8 230.2,598.5 233.4,585.1 236.6,595.8 239.8,581.5 243.0,596.1 246.2,583.3 249.4,594.6 252.6,581.1 255.8,597.8 259.0,585.3 262.2,595.6 265.4,582.1 268.6,593.4 271.8,580.6 275.0,595.6 278.2,582.5 281.4,593.4 284.6,583.2 287.8,594.9 291.0,584.7 294.2,598.4 297.4,583.9 300.6,596.6 303.8,583.8 307.0,593.4 310.2,582.5 313.4,596.1 316.6,584.9 319.8,596.6 323.0,585.2 326.2,594.7 329.4,583.7 332.6,594.7 335.8,581.0 339.0,597.0 342.2,581.2 345.4,596.2 348.6,584.2 351.8,593.1 355.0,581.3 358.2,593.5 361.4,581.9 364.6,594.1 367.8,584.2 371.0,596.3 374.2,581.0 377.4,594.3 380.6,581.2 383.8,596.8 387.0,582.6 390.2,592.2 393.4,578.6 396.6,591.5 399.8,580.3 403.0,591.7 406.2,582.0 409.4,593.7 412.6,582.0 415.8,595.5 419.0,581.2 422.2,596.2 425.4,581.0 428.6,593.5M457.4,579.9 460.6,595.2 463.8,577.1 467.0,593.3 470.2,579.2 473.4,595.3 476.6,577.3 479.8,589.8 483.0,572.6 486.2,593.0 489.4,580.1 492.6,593.1 495.8,580.2 499.0,592.6 502.2,577.8 505.4,590.5 508.6,576.4 511.8,585.5 515.0,562.1 518.2,584.1 521.4,574.7 524.6,591.1 527.8,576.1 531.0,589.7 534.2,574.5 537.4,589.8 540.6,573.1M556.6,587.9 559.8,572.3 563.0,587.4 566.2,570.4 569.4,589.0 572.6,568.5 575.8,587.3M591.8,564.2 595.0,579.7 598.2,559.4 601.4,578.6 604.6,557.7 607.8,562.3 611.0,543.6 614.2,567.0 617.4,553.6 620.6,571.2 623.8,557.3 627.0,567.7 630.2,556.9 633.4,568.5 636.6,555.7 639.8,566.3 643.0,555.3 646.2,567.9 649.4,551.6 652.6,566.6 655.8,553.2 659.0,568.1 662.2,555.1 665.4,568.7 668.6,555.8 671.8,566.6 675.0,555.8 678.2,572.9 681.4,558.4 684.6,574.7 687.8,562.1 691.0,574.7 694.2,560.0 697.4,575.2 700.6,565.8 703.8,579.7 707.0,570.0 710.2,581.5 713.4,569.1 716.6,581.6 719.8,570.1 723.0,585.3 726.2,573.8 729.4,587.1 732.6,572.1 735.8,588.3 739.0,573.9 742.2,586.7 745.4,578.1 748.6,591.6 751.8,575.3 755.0,591.2 758.2,576.9 761.4,590.9 764.6,578.8 767.8,595.8 771.0,578.5 774.2,595.0 777.4,583.2 780.6,593.8 783.8,578.8 787.0,593.8 790.2,581.0 793.4,596.1 796.6,580.3 799.8,593.2 803.0,582.9 806.2,594.2 809.4,581.6 812.6,597.0 815.8,585.6 819.0,598.2 822.2,585.6 825.4,594.2 828.6,582.1 831.8,597.8 835.0,584.2 838.2,595.7 841.4,584.3 844.6,597.6 847.8,581.9 851.0,597.6 854.2,581.1 857.4,584.0 860.6,574.5 863.8,595.4 867.0,584.5 870.2,598.0 873.4,585.6 876.6,599.2 879.8,585.2 883.0,597.5 886.2,584.4 889.4,597.2 892.6,586.2 895.8,595.6 899.0,582.7 902.2,598.2 905.4,584.2 908.6,596.4 911.8,585.6 915.0,599.0 918.2,585.5 921.4,599.1 924.6,583.0 927.8,598.6 931.0,581.8 934.2,596.9 937.4,585.9 940.6,594.8 943.8,581.6 947.0,599.3 950.2,583.9 953.4,596.6 956.6,586.3 959.8,595.5 963.0,584.5 966.2,597.8 969.4,584.0 972.6,598.6 975.8,582.6 979.0,594.5 982.2,582.8 985.4,599.2 988.6,583.7 991.8,594.3 995.0,575.9 998.2,587.1 1001.4,582.9 1004.6,598.0 1007.8,584.3 1011.0,597.2 1014.2,581.3 1017.4,597.1 1020.6,582.4 1023.8,592.9 1027.0,584.2 1030.2,597.1 1033.4,584.6 1036.6,595.5 1039.8,582.7 1043.0,593.5 1046.2,582.2 1049.4,593.8 1052.6,581.7 1055.8,594.4 1059.0,580.0 1062.2,592.9 1065.4,579.3 1068.6,592.6 1071.8,577.4 1075.0,594.8 1078.2,578.7 1081.4,590.9 1084.6,578.7 1087.8,593.4 1091.0,578.2 1094.2,589.4 1097.4,577.3 1100.6,589.3 1103.8,576.6 1107.0,590.5 1110.2,576.1 1113.4,590.4 1116.6,577.1 1119.8,588.0 1123.0,577.0 1126.2,583.2 1129.4,567.0 1132.6,585.2 1135.8,575.6 1139.0,587.0 1142.2,577.7 1145.4,590.4 1148.6,577.9 1151.8,589.3 1155.0,578.6 1158.2,594.0 1161.4,580.9 1164.6,592.4 1167.8,577.2 1171.0,591.6 1174.2,579.0 1177.4,593.8 1180.6,578.3 1183.8,592.8 1187.0,581.9 1190.2,596.1 1193.4,581.8 1196.6,591.7 1199.8,582.2 1203.0,594.1 1206.2,582.7 1209.4,595.6 1212.6,582.4 1215.8,595.1 1219.0,581.1 1222.2,592.7 1225.4,581.7 1228.6,592.3 1231.8,581.5 1235.0,592.6 1238.2,582.1 1241.4,591.9 1244.6,580.8 1247.8,594.2 1251.0,578.9 1254.2,592.9 1257.4,581.3 1260.6,590.5 1263.8,576.0 1267.0,591.1 1270.2,577.6 1273.4,591.5 1276.6,578.0 1279.8,589.1 1283.0,578.0 1286.2,587.9 1289.4,574.3 1292.6,590.5 1295.8,577.1 1299.0,590.9 1302.2,575.9 1305.4,586.1 1308.6,576.0 1311.8,588.4 1315.0,574.7 1318.2,588.7 1321.4,575.4 1324.6,589.8 1327.8,576.7 1331.0,589.3 1334.2,574.8 1337.4,587.4 1340.6,576.8 1343.8,587.4 1347.0,575.2 1350.2,589.3 1353.4,574.8 1356.6,587.9 1359.8,574.8 1363.0,590.5 1366.2,574.7 1369.4,588.7 1372.6,576.6 1375.8,591.4 1379.0,575.3 1382.2,590.6 1385.4,576.5 1388.6,588.3 1391.8,577.7 1395.0,590.3 1398.2,582.5 1401.4,594.9 1404.6,583.0 1407.8,592.9 1411.0,579.6 1414.2,592.8 1417.4,583.4 1420.6,597.6 1423.8,584.9 1427.0,597.0 1430.2,583.8 1433.4,599.8 1436.6,583.1 1439.8,599.5 1443.0,587.8 1446.2,598.6 1449.4,584.6 1452.6,597.8 1455.8,585.5 1459.0,596.7 1462.2,587.2 1465.4,599.5 1468.6,585.5 1471.8,599.8 1475.0,583.0 1478.2,599.5 1481.4,583.2 1484.6,592.5 1487.8,580.1 1491.0,596.5 1494.2,586.0 1497.4,596.8 1500.6,588.6 1503.8,597.6 1507.0,586.0 1510.2,596.4 1513.4,587.0 1516.6,597.2 1519.8,587.1 1523.0,596.4 1526.2,587.1 1529.4,598.8 1532.6,584.2 1535.8,599.7 1539.0,588.1 1542.2,599.0 1545.4,588.2 1548.6,596.9 1551.8,586.3 1555.0,599.5 1558.2,584.6 1561.4,597.8 1564.6,586.4 1567.8,598.1 1571.0,588.0 1574.2,599.5 1577.4,586.9 1580.6,600.8 1583.8,584.1 1587.0,599.9 1590.2,585.3 1593.4,598.4 1596.6,585.9 1599.8,597.1 1603.0,586.2 1606.2,600.8 1609.4,587.6 1612.6,598.0 1615.8,583.2 1619.0,597.8 1622.2,587.3 1625.4,600.4 1628.6,584.4 1631.8,601.1 1635.0,584.9 1638.2,597.8 1641.4,587.1 1644.6,597.0 1647.8,588.3 1651.0,598.7 1654.2,582.9 1657.4,596.3 1660.6,585.6 1663.8,596.9 1667.0,586.9 1670.2,600.1 1673.4,585.6 1676.6,599.9 1679.8,587.7 1683.0,597.7 1686.2,585.2 1689.4,596.9 1692.6,588.6 1695.8,601.6 1699.0,584.6 1702.2,598.0 1705.4,586.5 1708.6,595.6 1711.8,583.9 1715.0,599.5 1718.2,585.2 1721.4,597.8 1724.6,588.0 1727.8,599.9 1731.0,587.5 1734.2,601.5 1737.4,587.1 1740.6,600.0 1743.8,586.3 1747.0,598.1 1750.2,587.4 1753.4,600.0 1756.6,586.0 1759.8,597.6 1763.0,586.4 1766.2,599.5 1769.4,585.7 1772.6,601.6 1775.8,586.0 1779.0,595.9 1782.2,583.5 1785.4,598.7 1788.6,586.3 1791.8,595.8 1795.0,584.2 1798.2,598.9 1801.4,587.6 1804.6,597.8 1807.8,585.6 1811.0,598.0 1814.2,584.1 1817.4,596.4 1820.6,588.0 1823.8,599.9 1827.0,587.8 1830.2,598.3 1833.4,586.4 1836.6,598.9 1839.8,586.5 1843.0,600.7 1846.2,586.5 1849.4,599.7 1852.6,585.6 1855.8,599.8 1859.0,587.0 1862.2,599.9 1865.4,584.7 1868.6,597.9 1871.8,587.3 1875.0,599.9 1878.2,584.4 1881.4,597.2 1884.6,584.9 1887.8,597.4 1891.0,587.9 1894.2,601.0 1897.4,587.3 1900.6,597.0 1903.8,587.8 1907.0,596.6 1910.2,585.4 1913.4,599.0 1916.6,586.8 1919.8,597.5 1923.0,584.5 1926.2,597.3 1929.4,584.0 1932.6,600.6 1935.8,583.6 1939.0,600.5 1942.2,587.1 1945.4,597.5 1948.6,584.2 1951.8,597.9 1955.0,586.4 1958.2,598.1 1961.4,583.4 1964.6,597.5 1967.8,585.3 1971.0,600.4 1974.2,584.9 1977.4,599.2 1980.6,586.1 1983.8,597.9 1987.0,587.8 1990.2,598.5 1993.4,584.0 1996.6,597.4 1999.8,584.5 2003.0,600.9 2006.2,587.0 2009.4,601.3 2012.6,584.0 2015.8,597.1 2019.0,586.7 2022.2,600.7 2025.4,585.5 2028.6,598.3 2031.8,587.1 2035.0,600.0 2038.2,584.8 2041.4,600.2 2044.6,587.7 2047.8,599.2 2051.0,584.1 2054.2,601.5 2057.4,585.0 2060.6,597.9 2063.8,585.9 2067.0,597.9 2070.2,587.5 2073.4,600.9 2076.6,586.0 2079.8,598.8 2083.0,587.0 2086.2,599.9 2089.4,585.3 2092.6,597.3 2095.8,588.1 2099.0,600.5 2102.2,588.0 2105.4,598.6 2108.6,586.1 2111.8,601.1 2115.0,587.3 2118.2,600.0 2121.4,588.5 2124.6,597.1 2127.8,588.0 2131.0,599.3 2134.2,586.2 2137.4,597.5 2140.6,585.3 2143.8,597.2 2147.0,585.3 2150.2,597.9 2153.4,584.6 2156.6,600.5 2159.8,583.8 2163.0,598.8 2166.2,587.7 2169.4,600.3 2172.6,588.2 2175.8,598.6 2179.0,587.7 2182.2,596.4 2185.4,587.3 2188.6,600.1 2191.8,586.8 2195.0,601.1 2198.2,589.1 2201.4,598.1 2204.6,586.5 2207.8,596.4 2211.0,586.3 2214.2,597.2 2217.4,586.9 2220.6,599.2 2223.8,586.7 2227.0,602.1 2230.2,585.0 2233.4,596.9 2236.6,585.0 2239.8,600.7 2243.0,586.1 2246.2,597.6 2249.4,587.4 2252.6,599.0 2255.8,586.4 2259.0,597.6 2262.2,586.5 2265.4,598.1 2268.6,586.6 2271.8,597.6 2275.0,585.1 2278.2,601.6 2281.4,584.1 2284.6,597.3 2287.8,585.7 2291.0,596.4 2294.2,586.5 2297.4,599.6 2300.6,583.9 2303.8,601.0 2307.0,585.3 2310.2,596.8 2313.4,585.8 2316.6,600.4 2319.8,585.3 2323.0,600.5 2326.2,587.8 2329.4,601.0 2332.6,587.5 2335.8,600.3 2339.0,583.7 2342.2,596.9 2345.4,584.4 2348.6,598.0 2351.8,586.7 2355.0,596.9 2358.2,584.5 2361.4,600.6 2364.6,586.1 2367.8,599.2 2371.0,587.0 2374.2,596.5 2377.4,584.4 2380.6,597.3" stroke="#808000" class="fz"/>
<polyline points="178.0,589.0 179.2,588.0 180.5,589.2 181.8,587.9 183.0,589.9 184.2,588.7 185.5,590.2 186.8,588.7 188.0,590.1 189.2,588.7 190.5,590.3 191.8,589.1 193.0,590.4 194.2,588.8 195.5,590.3 196.8,588.6 198.0,589.9 199.2,588.6 200.5,590.1 201.8,588.8 203.0,590.4 204.2,589.1 205.5,590.8 206.8,589.4 208.0,591.0 209.2,589.9 210.5,591.8 211.8,590.4 213.0,591.5 214.2,589.5 215.5,590.4 216.8,588.6 218.0,590.3 219.2,589.0 220.5,590.8 221.8,589.3 223.0,590.9 224.2,589.6 225.5,591.0 226.8,589.6 228.0,590.8 229.2,589.3 230.5,590.8 231.8,589.6 233.0,591.1 234.2,589.3 235.5,590.4 236.8,588.4 238.0,589.7 239.2,587.9 240.5,589.4 241.8,588.2 243.0,589.7 244.2,588.1 245.5,589.7 246.8,588.5 248.0,590.0 249.2,588.7 250.5,590.2 251.8,588.7 253.0,589.9 254.2,588.4 255.5,589.8 256.8,588.6 258.0,590.4 259.2,589.1 260.5,590.4 261.8,588.6 263.0,590.0 264.2,588.6 265.5,590.4 266.8,588.7 268.0,589.7 269.2,587.9 270.5,589.2 271.8,588.2 273.0,590.0 274.2,588.6 275.5,590.2 276.8,588.7 278.0,589.9 279.2,588.1 280.5,589.4 281.8,587.8 283.0,589.3 284.2,588.2 285.5,590.0 286.8,588.8 288.0,590.3 289.2,589.2 290.5,590.7 291.8,589.7 293.0,591.6 294.2,590.3 295.5,591.6 296.8,589.7 298.0,590.7 299.2,589.2 300.5,590.5 301.8,589.1 303.0,590.6 304.2,589.1 305.5,590.4 306.8,588.5 308.0,589.5 309.2,588.1 310.5,589.9 311.8,588.7 313.0,590.4 314.2,589.1 315.5,590.5 316.8,588.9 318.0,590.2 319.2,588.7 320.5,590.2 321.8,589.0 323.0,591.0 324.2,589.6 325.5,590.8 326.8,588.8 328.0,589.9 329.2,588.8 330.5,590.6 331.8,589.5 333.0,591.2 334.2,589.4 335.5,590.4 336.8,588.7 338.0,590.0 339.2,588.3 340.5,589.6 341.8,587.9 343.0,589.3 344.2,588.2 345.5,589.9 346.8,588.4 348.0,589.8 349.2,587.8 350.5,588.9 351.8,587.5 353.0,589.0 354.2,587.5 355.5,588.7 356.8,586.9 358.0,588.3 359.2,586.9 360.5,588.6 361.8,587.5 363.0,589.4 364.2,588.1 365.5,589.6 366.8,588.1 368.0,589.6 369.2,587.9 370.5,589.3 371.8,587.7 373.0,589.0 374.2,587.4 375.5,588.7 376.8,587.2 378.0,588.8 379.2,587.8 380.5,589.5 381.8,588.5 383.0,590.0 384.2,588.5 385.5,589.7 386.8,588.0 388.0,589.2 389.2,587.6 390.5,588.6 391.8,586.7 393.0,587.5 394.2,585.7 395.5,587.0 396.8,585.8 398.0,587.8 399.2,586.6 400.5,588.3 401.8,587.0 403.0,588.3 404.2,586.6 405.5,587.7 406.8,586.3 408.0,588.2 409.2,587.0 410.5,588.7 411.8,587.4 413.0,588.5 414.2,586.9 415.5,588.3 416.8,586.9 418.0,588.1 419.2,586.7 420.5,588.4 421.8,587.1 423.0,589.0 424.2,587.8 425.5,589.1 426.8,587.6 428.0,588.4 429.2,585.7 430.5,581.5 431.8,566.6 433.0,539.7 434.2,503.4 435.5,478.0 436.0,475.4 436.8,481.2 438.0,510.5 439.2,546.1 440.5,569.9 441.8,581.9 443.0,584.2 444.2,584.9 445.5,578.9 446.8,566.0 448.0,543.1 449.2,520.3 450.4,511.4 450.5,511.5 451.8,523.3 453.0,547.3 454.2,568.4 455.5,581.6 456.8,585.1 458.0,588.3 459.2,585.4 460.5,588.2 461.8,584.0 463.0,588.6 464.2,584.1 465.5,588.3 466.8,584.4 468.0,589.0 469.2,585.1 470.5,589.4 471.8,584.8 473.0,589.5 474.2,584.4 475.5,588.5 476.8,583.3 478.0,586.0 479.2,579.5 480.5,581.3 481.8,575.8 482.0,580.4 483.0,576.5 484.2,582.6 485.5,580.7 486.8,586.8 488.0,583.4 489.2,587.9 490.5,583.9 491.8,588.5 493.0,584.0 494.2,588.2 495.5,583.7 496.8,587.9 498.0,584.0 499.2,588.1 500.5,583.4 501.8,587.4 503.0,582.5 504.2,586.7 505.5,582.4 506.8,586.9 508.0,582.4 509.2,586.2 510.5,579.4 511.8,580.2 513.0,570.4 514.2,570.8 515.0,565.4 515.5,570.5 516.8,569.8 518.0,579.1 519.2,579.0 520.5,585.1 521.8,581.8 523.0,586.3 524.2,582.1 525.5,586.2 526.8,581.2 528.0,585.9 529.2,581.3 530.5,585.6 531.8,580.9 533.0,584.9 534.2,579.6 535.5,584.3 536.8,579.9 538.0,583.9 539.2,580.4 540.5,583.5 541.8,576.2 543.0,568.1 544.2,541.4 545.5,504.8 546.8,469.6 547.7,459.6 548.0,460.6 549.2,484.5 550.5,522.7 551.8,556.9 553.0,571.9 554.2,581.9 555.5,579.8 556.8,583.5 558.0,578.9 559.2,582.7 560.5,577.9 561.8,581.9 563.0,577.8 564.2,582.0 565.5,578.3 566.8,582.1 568.0,577.6 569.2,581.8 570.5,576.7 571.8,580.9 573.0,576.5 574.2,580.6 575.5,576.2 576.8,578.0 578.0,571.1 579.2,564.0 580.5,544.7 581.8,521.3 583.0,499.6 584.0,493.0 584.2,493.3 585.5,506.2 586.8,528.9 588.0,552.1 589.2,563.6 590.5,572.2 591.8,570.3 593.0,574.3 594.2,569.4 595.5,572.5 596.8,568.0 598.0,571.3 599.2,566.4 600.5,571.0 601.8,566.7 603.0,570.7 604.2,565.6 605.5,566.8 606.8,559.1 608.0,557.3 609.2,549.5 610.0,552.1 610.5,548.6 611.8,554.4 613.0,555.5 614.2,561.5 615.5,560.8 616.8,564.2 618.0,561.7 619.2,563.7 620.5,561.7 621.8,563.8 623.0,562.3 624.2,563.9 625.5,562.1 626.8,563.1 628.0,561.2 629.2,562.3 630.5,560.4 631.8,561.5 633.0,559.7 634.2,560.8 635.5,559.4 636.8,561.1 638.0,560.1 639.2,561.6 640.5,560.4 641.8,562.1 643.0,560.6 644.2,562.1 645.5,560.3 646.8,561.4 648.0,559.7 649.2,561.0 650.5,559.5 651.8,561.0 653.0,559.7 654.2,561.1 655.5,559.7 656.8,560.9 658.0,559.2 659.2,560.5 660.5,559.0 661.8,560.6 663.0,559.5 664.2,561.2 665.5,559.9 666.8,561.1 668.0,559.6 669.2,561.2 670.5,560.0 671.8,561.5 673.0,560.4 674.2,562.4 675.5,561.9 676.8,564.2 678.0,563.9 679.2,566.2 680.5,565.3 681.8,567.3 683.0,566.4 684.2,568.0 685.5,566.6 686.8,568.1 688.0,566.8 689.2,568.5 690.5,567.3 691.8,568.7 693.0,567.3 694.2,568.8 695.5,567.6 696.8,569.7 698.0,569.3 699.2,571.9 700.5,571.5 701.8,573.7 703.0,573.0 704.2,574.8 705.5,573.7 706.8,575.4 708.0,573.8 709.2,575.3 710.5,573.8 711.8,575.6 713.0,574.8 714.2,576.9 715.5,576.1 716.8,577.9 718.0,576.8 719.2,578.6 720.5,577.6 721.8,579.4 723.0,578.2 724.2,579.7 725.5,578.4 726.8,580.2 728.0,579.2 729.2,581.2 730.5,580.1 731.8,581.6 733.0,580.0 734.2,581.3 735.5,580.1 736.8,582.1 738.0,581.0 739.2,582.5 740.5,581.1 741.8,582.9 743.0,582.1 744.2,584.0 745.5,583.1 746.8,584.7 748.0,583.1 749.2,584.2 750.5,582.7 751.8,584.2 753.0,583.3 754.2,585.3 755.5,584.0 756.8,585.7 758.0,584.6 759.2,586.3 760.5,585.3 761.8,586.9 763.0,585.6 764.2,587.2 765.5,586.2 766.8,587.7 768.0,586.5 769.2,587.7 770.5,586.3 771.8,587.7 773.0,586.4 774.2,588.0 775.5,586.6 776.8,588.1 778.0,586.7 779.2,588.3 780.5,586.9 781.8,588.2 783.0,586.6 784.2,588.3 785.5,587.1 786.8,589.1 788.0,587.9 789.2,589.6 790.5,587.9 791.8,589.1 793.0,587.5 794.2,588.9 795.5,587.5 796.8,589.0 798.0,587.8 799.2,589.4 800.5,588.1 801.8,589.4 803.0,588.4 804.2,589.9 805.5,588.6 806.8,589.6 808.0,587.8 809.2,588.9 810.5,587.6 811.8,589.4 813.0,588.3 814.2,590.3 815.5,589.2 816.8,591.2 818.0,590.2 819.2,592.0 820.5,590.6 821.8,591.5 823.0,589.3 824.2,590.3 825.5,589.1 826.8,590.8 828.0,589.7 829.2,591.0 830.5,589.2 831.8,590.2 833.0,588.7 834.2,590.4 835.5,589.5 836.8,591.5 838.0,590.1 839.2,591.3 840.5,589.7 841.8,590.7 843.0,589.1 844.2,590.8 845.5,589.4 846.8,590.7 848.0,589.2 849.2,590.4 850.5,588.6 851.8,589.7 853.0,587.4 854.2,586.8 855.5,582.5 856.8,580.7 858.0,577.6 858.3,579.1 859.2,578.5 860.5,582.4 861.8,584.3 863.0,588.2 864.2,588.2 865.5,590.3 866.8,589.1 868.0,590.5 869.2,588.8 870.5,590.2 871.8,589.1 873.0,591.1 874.2,589.9 875.5,591.4 876.8,589.8 878.0,591.1 879.2,589.4 880.5,590.9 881.8,589.6 883.0,591.1 884.2,589.4 885.5,590.5 886.8,588.7 888.0,590.2 889.2,588.9 890.5,590.8 891.8,589.7 893.0,591.4 894.2,590.1 895.5,591.3 896.8,589.7 898.0,591.0 899.2,589.7 900.5,591.5 901.8,590.1 903.0,591.5 904.2,590.0 905.5,591.2 906.8,589.5 908.0,590.7 909.2,589.2 910.5,590.9 911.8,589.8 913.0,591.8 914.2,590.6 915.5,591.7 916.8,590.2 918.0,591.5 919.2,590.1 920.5,591.2 921.8,589.8 923.0,591.6 924.2,590.3 925.5,591.7 926.8,589.9 928.0,590.8 929.2,589.0 930.5,590.6 931.8,589.5 933.0,591.2 934.2,590.1 935.5,591.5 936.8,589.7 938.0,590.7 939.2,588.9 940.5,590.2 941.8,588.7 943.0,590.3 944.2,589.1 945.5,590.9 946.8,589.7 948.0,591.5 949.2,590.0 950.5,591.2 951.8,589.4 953.0,590.7 954.2,589.5 955.5,591.3 956.8,590.3 958.0,591.7 959.2,590.0 960.5,591.1 961.8,589.5 963.0,591.0 964.2,589.5 965.5,590.9 966.8,589.4 968.0,590.7 969.2,589.6 970.5,591.2 971.8,589.9 973.0,591.4 974.2,589.8 975.5,590.9 976.8,589.0 978.0,590.3 979.2,589.3 980.5,591.3 981.8,590.5 983.0,592.6 984.2,591.2 985.5,592.4 986.8,590.5 988.0,591.4 989.2,589.2 990.5,589.7 991.8,587.1 993.0,586.3 994.2,582.3 995.5,581.7 996.4,579.4 996.8,580.8 998.0,581.1 999.2,585.4 1000.5,586.8 1001.8,589.9 1003.0,589.1 1004.2,590.6 1005.5,589.1 1006.8,590.4 1008.0,589.1 1009.2,590.5 1010.5,589.2 1011.8,590.3 1013.0,588.6 1014.2,589.9 1015.5,588.3 1016.8,589.5 1018.0,587.9 1019.2,589.3 1020.5,587.7 1021.8,588.9 1023.0,587.6 1024.2,589.3 1025.5,588.0 1026.8,589.4 1028.0,588.0 1029.2,589.3 1030.5,588.1 1031.8,590.0 1033.0,588.6 1034.2,589.7 1035.5,587.6 1036.8,588.7 1038.0,587.0 1039.2,588.1 1040.5,586.4 1041.8,587.3 1043.0,585.3 1044.2,586.6 1045.5,585.4 1046.8,587.3 1048.0,586.4 1049.2,588.0 1050.5,586.4 1051.8,588.0 1053.0,586.6 1054.2,588.0 1055.5,586.6 1056.8,587.8 1058.0,585.8 1059.2,587.0 1060.5,585.8 1061.8,587.6 1063.0,586.4 1064.2,587.8 1065.5,585.9 1066.8,586.7 1068.0,584.9 1069.2,585.9 1070.5,584.3 1071.8,586.1 1073.0,584.9 1074.2,586.6 1075.5,585.6 1076.8,587.0 1078.0,585.4 1079.2,586.4 1080.5,584.9 1081.8,586.0 1083.0,584.2 1084.2,585.8 1085.5,584.5 1086.8,585.8 1088.0,584.1 1089.2,585.4 1090.5,583.7 1091.8,585.2 1093.0,584.2 1094.2,585.6 1095.5,583.6 1096.8,584.6 1098.0,583.1 1099.2,584.6 1100.5,583.3 1101.8,584.3 1103.0,582.5 1104.2,583.4 1105.5,581.9 1106.8,583.2 1108.0,581.6 1109.2,582.9 1110.5,581.4 1111.8,583.1 1113.0,581.5 1114.2,583.0 1115.5,581.4 1116.8,582.8 1118.0,581.3 1119.2,582.9 1120.5,581.3 1121.8,582.6 1123.0,580.7 1124.2,581.1 1125.5,578.0 1126.8,577.5 1128.0,574.6 1129.2,575.2 1129.5,573.8 1130.5,575.6 1131.8,575.6 1133.0,578.9 1134.2,579.1 1135.5,581.5 1136.8,580.6 1138.0,582.5 1139.2,581.8 1140.5,583.7 1141.8,582.7 1143.0,584.4 1144.2,583.2 1145.5,584.9 1146.8,583.6 1148.0,585.1 1149.2,583.7 1150.5,585.2 1151.8,584.0 1153.0,585.3 1154.2,584.0 1155.5,585.7 1156.8,584.8 1158.0,586.3 1159.2,585.1 1160.5,586.6 1161.8,585.3 1163.0,587.0 1164.2,585.8 1165.5,587.2 1166.8,585.4 1168.0,586.5 1169.2,584.6 1170.5,585.9 1171.8,584.9 1173.0,586.9 1174.2,585.9 1175.5,587.4 1176.8,585.7 1178.0,586.8 1179.2,585.0 1180.5,586.2 1181.8,584.7 1183.0,586.1 1184.2,585.1 1185.5,587.1 1186.8,586.2 1188.0,587.7 1189.2,586.7 1190.5,588.2 1191.8,587.2 1193.0,588.7 1194.2,587.0 1195.5,588.1 1196.8,586.4 1198.0,587.4 1199.2,585.9 1200.5,587.6 1201.8,586.3 1203.0,587.8 1204.2,586.5 1205.5,587.9 1206.8,586.3 1208.0,588.0 1209.2,586.8 1210.5,588.5 1211.8,587.2 1213.0,588.5 1214.2,586.9 1215.5,588.1 1216.8,586.3 1218.0,587.4 1219.2,586.0 1220.5,587.4 1221.8,585.7 1223.0,587.2 1224.2,585.5 1225.5,586.8 1226.8,585.3 1228.0,586.7 1229.2,585.3 1230.5,586.8 1231.8,585.7 1233.0,587.2 1234.2,585.8 1235.5,587.3 1236.8,585.8 1238.0,587.6 1239.2,586.4 1240.5,587.7 1241.8,586.2 1243.0,587.5 1244.2,585.9 1245.5,587.4 1246.8,586.0 1248.0,587.0 1249.2,585.2 1250.5,586.4 1251.8,584.9 1253.0,586.7 1254.2,585.3 1255.5,586.8 1256.8,585.2 1258.0,586.4 1259.2,584.5 1260.5,585.6 1261.8,583.9 1263.0,585.1 1264.2,584.0 1265.5,585.6 1266.8,584.3 1268.0,585.5 1269.2,583.8 1270.5,584.9 1271.8,583.3 1273.0,584.7 1274.2,583.0 1275.5,584.0 1276.8,582.0 1278.0,583.2 1279.2,581.8 1280.5,583.6 1281.8,582.1 1283.0,583.4 1284.2,581.9 1285.5,583.6 1286.8,582.2 1288.0,583.8 1289.2,582.2 1290.5,583.4 1291.8,581.8 1293.0,582.9 1294.2,581.6 1295.5,582.9 1296.8,581.6 1298.0,583.1 1299.2,581.8 1300.5,583.2 1301.8,581.4 1303.0,582.5 1304.2,580.7 1305.5,582.3 1306.8,581.1 1308.0,582.8 1309.2,581.9 1310.5,583.6 1311.8,582.2 1313.0,583.5 1314.2,581.8 1315.5,583.1 1316.8,581.3 1318.0,582.6 1319.2,580.8 1320.5,582.2 1321.8,580.7 1323.0,582.5 1324.2,581.3 1325.5,583.1 1326.8,581.8 1328.0,583.2 1329.2,581.7 1330.5,582.9 1331.8,581.3 1333.0,582.4 1334.2,580.5 1335.5,581.8 1336.8,580.5 1338.0,582.2 1339.2,581.1 1340.5,582.7 1341.8,581.2 1343.0,582.1 1344.2,579.9 1345.5,581.1 1346.8,579.8 1348.0,581.6 1349.2,580.7 1350.5,582.2 1351.8,580.7 1353.0,582.1 1354.2,581.0 1355.5,583.1 1356.8,582.2 1358.0,583.8 1359.2,582.3 1360.5,583.5 1361.8,581.8 1363.0,583.3 1364.2,581.9 1365.5,583.7 1366.8,582.4 1368.0,583.9 1369.2,582.4 1370.5,583.6 1371.8,582.3 1373.0,584.0 1374.2,583.1 1375.5,584.5 1376.8,582.8 1378.0,583.8 1379.2,581.9 1380.5,583.4 1381.8,582.1 1383.0,583.6 1384.2,582.3 1385.5,583.5 1386.8,582.1 1388.0,583.9 1389.2,583.2 1390.5,585.2 1391.8,584.2 1393.0,586.3 1394.2,585.2 1395.5,587.1 1396.8,586.0 1398.0,587.6 1399.2,586.0 1400.5,587.4 1401.8,586.3 1403.0,588.1 1404.2,587.5 1405.5,589.2 1406.8,587.7 1408.0,589.1 1409.2,587.6 1410.5,589.1 1411.8,587.6 1413.0,589.1 1414.2,587.7 1415.5,589.8 1416.8,589.1 1418.0,591.4 1419.2,590.4 1420.5,592.0 1421.8,590.8 1423.0,592.1 1424.2,590.3 1425.5,591.3 1426.8,589.4 1428.0,591.1 1429.2,590.2 1430.5,592.0 1431.8,590.6 1433.0,592.0 1434.2,590.5 1435.5,592.1 1436.8,590.9 1438.0,592.3 1439.2,590.8 1440.5,592.4 1441.8,591.4 1443.0,592.9 1444.2,591.7 1445.5,593.1 1446.8,591.3 1448.0,592.0 1449.2,590.1 1450.5,590.9 1451.8,589.8 1453.0,591.7 1454.2,590.3 1455.5,591.7 1456.8,590.1 1458.0,591.6 1459.2,590.7 1460.5,592.4 1461.8,591.3 1463.0,592.6 1464.2,591.1 1465.5,592.6 1466.8,591.4 1468.0,593.4 1469.2,592.1 1470.5,593.5 1471.8,591.7 1473.0,592.8 1474.2,591.0 1475.5,592.3 1476.8,590.6 1478.0,592.0 1479.2,590.8 1480.5,591.8 1481.8,589.7 1483.0,590.2 1484.2,587.4 1485.5,587.7 1486.5,585.8 1486.8,587.1 1488.0,586.1 1489.2,588.9 1490.5,589.1 1491.8,591.9 1493.0,591.5 1494.2,593.4 1495.5,591.9 1496.8,593.1 1498.0,591.5 1499.2,593.1 1500.5,592.2 1501.8,594.0 1503.0,592.6 1504.2,593.8 1505.5,591.6 1506.8,592.3 1508.0,590.4 1509.2,591.5 1510.5,590.2 1511.8,591.8 1513.0,590.5 1514.2,592.0 1515.5,590.9 1516.8,592.9 1518.0,592.1 1519.2,593.9 1520.5,592.4 1521.8,593.2 1523.0,591.0 1524.2,591.9 1525.5,590.5 1526.8,592.0 1528.0,591.1 1529.2,593.0 1530.5,592.0 1531.8,593.5 1533.0,592.2 1534.2,593.8 1535.5,592.7 1536.8,594.3 1538.0,592.9 1539.2,594.2 1540.5,592.5 1541.8,593.8 1543.0,592.2 1544.2,593.3 1545.5,591.4 1546.8,592.6 1548.0,590.9 1549.2,592.1 1550.5,590.5 1551.8,592.2 1553.0,590.9 1554.2,592.6 1555.5,591.3 1556.8,592.3 1558.0,590.7 1559.2,592.2 1560.5,591.3 1561.8,593.1 1563.0,591.4 1564.2,592.5 1565.5,590.8 1566.8,592.2 1568.0,591.0 1569.2,592.9 1570.5,591.4 1571.8,592.6 1573.0,590.9 1574.2,592.3 1575.5,590.8 1576.8,592.7 1578.0,591.2 1579.2,592.7 1580.5,591.3 1581.8,592.8 1583.0,591.5 1584.2,593.2 1585.5,591.5 1586.8,592.8 1588.0,590.9 1589.2,592.0 1590.5,590.7 1591.8,592.1 1593.0,590.9 1594.2,592.4 1595.5,591.4 1596.8,593.2 1598.0,592.0 1599.2,593.6 1600.5,591.6 1601.8,592.7 1603.0,591.0 1604.2,592.6 1605.5,591.2 1606.8,593.1 1608.0,591.8 1609.2,593.4 1610.5,591.9 1611.8,593.1 1613.0,591.3 1614.2,592.4 1615.5,590.6 1616.8,592.2 1618.0,591.0 1619.2,592.6 1620.5,591.1 1621.8,592.5 1623.0,590.9 1624.2,592.4 1625.5,591.5 1626.8,593.3 1628.0,592.4 1629.2,594.0 1630.5,592.6 1631.8,593.9 1633.0,592.2 1634.2,593.4 1635.5,591.5 1636.8,592.6 1638.0,590.6 1639.2,592.0 1640.5,590.8 1641.8,592.5 1643.0,591.3 1644.2,592.9 1645.5,591.6 1646.8,593.3 1648.0,592.1 1649.2,593.5 1650.5,591.7 1651.8,592.8 1653.0,590.9 1654.2,592.0 1655.5,590.5 1656.8,592.1 1658.0,590.8 1659.2,592.5 1660.5,591.4 1661.8,592.8 1663.0,591.5 1664.2,592.9 1665.5,591.5 1666.8,593.0 1668.0,591.7 1669.2,593.7 1670.5,592.5 1671.8,594.1 1673.0,592.4 1674.2,593.2 1675.5,591.4 1676.8,592.7 1678.0,591.4 1679.2,593.0 1680.5,591.6 1681.8,592.8 1683.0,591.2 1684.2,592.8 1685.5,591.6 1686.8,593.1 1688.0,591.8 1689.2,593.3 1690.5,592.2 1691.8,593.9 1693.0,592.7 1694.2,594.3 1695.5,592.5 1696.8,593.5 1698.0,591.6 1699.2,592.5 1700.5,591.2 1701.8,592.8 1703.0,591.7 1704.2,593.3 1705.5,591.6 1706.8,592.4 1708.0,590.7 1709.2,592.1 1710.5,591.0 1711.8,592.5 1713.0,591.2 1714.2,592.6 1715.5,591.2 1716.8,592.8 1718.0,591.7 1719.2,593.2 1720.5,592.2 1721.8,593.6 1723.0,592.2 1724.2,593.4 1725.5,591.8 1726.8,592.9 1728.0,591.2 1729.2,592.7 1730.5,591.7 1731.8,593.6 1733.0,592.4 1734.2,593.8 1735.5,592.0 1736.8,593.1 1738.0,591.5 1739.2,593.2 1740.5,591.9 1741.8,593.3 1743.0,591.8 1744.2,593.5 1745.5,592.2 1746.8,593.6 1748.0,592.0 1749.2,593.3 1750.5,591.9 1751.8,593.4 1753.0,592.0 1754.2,593.1 1755.5,591.3 1756.8,592.5 1758.0,590.9 1759.2,592.6 1760.5,591.4 1761.8,592.8 1763.0,591.2 1764.2,592.7 1765.5,591.7 1766.8,593.2 1768.0,591.7 1769.2,593.2 1770.5,591.9 1771.8,593.7 1773.0,592.4 1774.2,593.7 1775.5,591.8 1776.8,592.8 1778.0,591.0 1779.2,592.4 1780.5,591.1 1781.8,592.7 1783.0,591.4 1784.2,592.7 1785.5,591.1 1786.8,592.2 1788.0,590.5 1789.2,591.8 1790.5,590.5 1791.8,591.8 1793.0,590.5 1794.2,591.8 1795.5,590.5 1796.8,592.0 1798.0,590.8 1799.2,592.7 1800.5,591.6 1801.8,593.2 1803.0,591.9 1804.2,593.0 1805.5,591.5 1806.8,592.6 1808.0,591.1 1809.2,592.4 1810.5,590.9 1811.8,592.5 1813.0,591.1 1814.2,592.7 1815.5,591.0 1816.8,592.6 1818.0,591.5 1819.2,593.4 1820.5,592.4 1821.8,593.9 1823.0,592.3 1824.2,593.5 1825.5,591.8 1826.8,593.1 1828.0,591.7 1829.2,593.1 1830.5,591.6 1831.8,593.0 1833.0,591.9 1834.2,593.6 1835.5,592.7 1836.8,594.2 1838.0,592.7 1839.2,594.0 1840.5,592.2 1841.8,593.7 1843.0,592.0 1844.2,593.1 1845.5,591.4 1846.8,593.1 1848.0,591.7 1849.2,593.4 1850.5,591.9 1851.8,593.4 1853.0,591.7 1854.2,593.0 1855.5,591.7 1856.8,593.4 1858.0,592.1 1859.2,593.5 1860.5,591.9 1861.8,593.0 1863.0,591.4 1864.2,593.0 1865.5,591.6 1866.8,593.3 1868.0,591.9 1869.2,593.2 1870.5,591.7 1871.8,593.1 1873.0,591.4 1874.2,592.7 1875.5,591.2 1876.8,592.6 1878.0,591.4 1879.2,593.1 1880.5,591.7 1881.8,593.2 1883.0,591.8 1884.2,593.2 1885.5,591.9 1886.8,593.6 1888.0,592.3 1889.2,593.7 1890.5,592.4 1891.8,593.8 1893.0,592.6 1894.2,594.2 1895.5,592.6 1896.8,594.0 1898.0,592.4 1899.2,593.5 1900.5,591.8 1901.8,592.9 1903.0,591.6 1904.2,592.9 1905.5,591.2 1906.8,592.7 1908.0,591.5 1909.2,593.0 1910.5,591.7 1911.8,593.0 1913.0,591.1 1914.2,592.3 1915.5,590.6 1916.8,592.3 1918.0,591.1 1919.2,592.8 1920.5,591.5 1921.8,593.1 1923.0,591.7 1924.2,593.4 1925.5,591.9 1926.8,593.4 1928.0,592.1 1929.2,593.3 1930.5,591.9 1931.8,593.0 1933.0,591.6 1934.2,593.0 1935.5,591.5 1936.8,593.2 1938.0,591.8 1939.2,593.5 1940.5,592.1 1941.8,593.6 1943.0,592.1 1944.2,593.5 1945.5,592.2 1946.8,593.6 1948.0,591.9 1949.2,593.0 1950.5,591.5 1951.8,592.4 1953.0,590.7 1954.2,592.1 1955.5,590.6 1956.8,592.2 1958.0,591.1 1959.2,592.7 1960.5,591.4 1961.8,592.8 1963.0,591.2 1964.2,592.5 1965.5,591.3 1966.8,593.0 1968.0,591.6 1969.2,593.2 1970.5,591.9 1971.8,593.5 1973.0,592.2 1974.2,593.6 1975.5,592.0 1976.8,593.4 1978.0,592.3 1979.2,594.4 1980.5,593.2 1981.8,594.6 1983.0,593.1 1984.2,594.0 1985.5,592.0 1986.8,593.2 1988.0,591.8 1989.2,593.5 1990.5,592.4 1991.8,593.5 1993.0,591.4 1994.2,592.4 1995.5,591.1 1996.8,592.7 1998.0,591.6 1999.2,593.0 2000.5,591.8 2001.8,593.3 2003.0,592.0 2004.2,593.6 2005.5,592.1 2006.8,593.7 2008.0,592.2 2009.2,593.4 2010.5,591.6 2011.8,592.8 2013.0,590.9 2014.2,592.4 2015.5,591.1 2016.8,593.1 2018.0,592.5 2019.2,594.6 2020.5,593.2 2021.8,594.4 2023.0,592.7 2024.2,593.9 2025.5,592.6 2026.8,594.0 2028.0,592.3 2029.2,593.4 2030.5,592.0 2031.8,593.8 2033.0,592.7 2034.2,594.5 2035.5,592.8 2036.8,593.9 2038.0,592.1 2039.2,593.2 2040.5,591.6 2041.8,592.9 2043.0,591.8 2044.2,593.1 2045.5,591.7 2046.8,593.1 2048.0,591.6 2049.2,592.8 2050.5,591.3 2051.8,592.9 2053.0,591.9 2054.2,593.7 2055.5,592.1 2056.8,593.0 2058.0,591.2 2059.2,592.4 2060.5,591.5 2061.8,593.1 2063.0,591.3 2064.2,592.6 2065.5,590.9 2066.8,592.5 2068.0,591.5 2069.2,593.1 2070.5,591.9 2071.8,593.6 2073.0,592.7 2074.2,594.4 2075.5,593.1 2076.8,594.0 2078.0,591.8 2079.2,592.7 2080.5,590.5 2081.8,591.9 2083.0,590.6 2084.2,592.1 2085.5,591.0 2086.8,592.5 2088.0,591.0 2089.2,592.4 2090.5,591.1 2091.8,592.7 2093.0,591.2 2094.2,592.5 2095.5,591.3 2096.8,593.3 2098.0,592.6 2099.2,594.0 2100.5,592.3 2101.8,593.2 2103.0,591.6 2104.2,593.0 2105.5,591.7 2106.8,593.1 2108.0,591.8 2109.2,593.3 2110.5,591.8 2111.8,593.2 2113.0,591.4 2114.2,592.8 2115.5,591.6 2116.8,593.5 2118.0,592.0 2119.2,593.8 2120.5,592.5 2121.8,593.8 2123.0,591.9 2124.2,593.1 2125.5,591.3 2126.8,592.7 2128.0,591.5 2129.2,593.1 2130.5,591.8 2131.8,593.2 2133.0,591.7 2134.2,592.9 2135.5,591.3 2136.8,592.9 2138.0,591.8 2139.2,593.5 2140.5,592.3 2141.8,593.4 2143.0,591.5 2144.2,592.9 2145.5,591.3 2146.8,592.8 2148.0,591.5 2149.2,593.3 2150.5,592.0 2151.8,593.7 2153.0,592.2 2154.2,593.3 2155.5,591.4 2156.8,592.3 2158.0,590.9 2159.2,592.6 2160.5,591.6 2161.8,593.3 2163.0,592.3 2164.2,594.2 2165.5,593.1 2166.8,594.7 2168.0,593.2 2169.2,594.3 2170.5,592.3 2171.8,593.4 2173.0,591.8 2174.2,593.1 2175.5,591.8 2176.8,593.7 2178.0,592.3 2179.2,593.8 2180.5,592.0 2181.8,593.0 2183.0,591.1 2184.2,592.6 2185.5,591.4 2186.8,593.2 2188.0,592.0 2189.2,593.4 2190.5,592.0 2191.8,593.5 2193.0,592.2 2194.2,593.7 2195.5,592.5 2196.8,593.9 2198.0,592.4 2199.2,593.7 2200.5,592.0 2201.8,592.9 2203.0,591.0 2204.2,592.1 2205.5,590.8 2206.8,592.5 2208.0,591.5 2209.2,593.0 2210.5,591.7 2211.8,593.1 2213.0,591.5 2214.2,593.0 2215.5,591.6 2216.8,592.9 2218.0,591.3 2219.2,592.4 2220.5,591.0 2221.8,592.7 2223.0,591.8 2224.2,593.9 2225.5,593.0 2226.8,594.9 2228.0,593.7 2229.2,594.8 2230.5,592.9 2231.8,593.7 2233.0,591.4 2234.2,592.2 2235.5,590.6 2236.8,591.8 2238.0,590.8 2239.2,592.5 2240.5,591.6 2241.8,593.5 2243.0,592.3 2244.2,593.7 2245.5,592.3 2246.8,593.7 2248.0,592.2 2249.2,593.6 2250.5,592.4 2251.8,593.6 2253.0,592.1 2254.2,593.2 2255.5,591.5 2256.8,592.9 2258.0,591.5 2259.2,593.3 2260.5,591.9 2261.8,593.3 2263.0,592.0 2264.2,593.7 2265.5,592.6 2266.8,594.3 2268.0,592.8 2269.2,594.0 2270.5,592.3 2271.8,593.7 2273.0,592.4 2274.2,593.7 2275.5,592.4 2276.8,593.7 2278.0,592.4 2279.2,593.9 2280.5,592.3 2281.8,593.1 2283.0,591.4 2284.2,592.7 2285.5,591.5 2286.8,593.1 2288.0,591.4 2289.2,592.8 2290.5,591.1 2291.8,593.0 2293.0,592.2 2294.2,594.0 2295.5,592.4 2296.8,593.2 2298.0,591.3 2299.2,592.3 2300.5,591.0 2301.8,592.6 2303.0,591.6 2304.2,593.1 2305.5,591.7 2306.8,593.0 2308.0,591.6 2309.2,593.0 2310.5,591.6 2311.8,593.1 2313.0,592.0 2314.2,593.7 2315.5,592.3 2316.8,593.9 2318.0,592.7 2319.2,594.3 2320.5,592.8 2321.8,593.7 2323.0,591.5 2324.2,592.5 2325.5,591.2 2326.8,593.3 2328.0,592.4 2329.2,594.2 2330.5,592.8 2331.8,594.5 2333.0,593.1 2334.2,594.6 2335.5,592.5 2336.8,593.2 2338.0,591.4 2339.2,592.8 2340.5,591.5 2341.8,593.4 2343.0,592.1 2344.2,593.3 2345.5,591.8 2346.8,593.1 2348.0,591.7 2349.2,593.3 2350.5,592.3 2351.8,593.8 2353.0,592.1 2354.2,593.6 2355.5,592.0 2356.8,593.1 2358.0,591.7 2359.2,593.3 2360.5,591.7 2361.8,593.2 2363.0,592.0 2364.2,593.5 2365.5,591.8 2366.8,592.8 2368.0,590.7 2369.2,592.0 2370.5,590.4 2371.8,592.0 2373.0,591.0 2374.2,592.7 2375.5,591.1 2376.8,592.5 2378.0,591.1 2379.2,592.6 2380.5,591.6 2381.8,593.5 2383.0,592.4 2383.5,592.5" stroke="#808000"/>
<path d="M179.0,410.6 182.2,393.4 185.4,410.6 188.6,399.2 191.8,408.8 195.0,394.8 198.2,410.3 201.4,394.2 204.6,413.3 207.8,396.1 211.0,409.7 214.2,395.3 217.4,408.7 220.6,392.3 223.8,406.1 227.0,395.8 230.2,412.0 233.4,395.8 236.6,410.5 239.8,399.1 243.0,410.6 246.2,397.9 249.4,409.8 252.6,397.9 255.8,410.3 259.0,398.3 262.2,411.1 265.4,395.6 268.6,411.2 271.8,398.1 275.0,411.7 278.2,397.3 281.4,414.0 284.6,399.8 287.8,411.3 291.0,396.9 294.2,411.8 297.4,398.8 300.6,410.2 303.8,399.8 307.0,410.9 310.2,397.7 313.4,416.7 316.6,401.2 319.8,412.1 323.0,401.2 326.2,416.0 329.4,400.2 332.6,417.9 335.8,401.6 339.0,417.1 342.2,403.1 345.4,418.3 348.6,403.9 351.8,418.9 355.0,404.7 358.2,421.0 361.4,405.4 364.6,420.4 367.8,406.2 371.0,420.7 374.2,407.1 377.4,421.3 380.6,406.4 383.8,418.6 387.0,405.2 390.2,418.4 393.4,405.8 396.6,420.1 399.8,404.7 403.0,419.7 406.2,404.6 409.4,419.3 412.6,407.8 415.8,417.8 419.0,405.4 422.2,419.1 425.4,405.8 428.6,419.5M457.4,402.5 460.6,417.3 463.8,400.0 467.0,416.7 470.2,401.7 473.4,415.8 476.6,401.8 479.8,415.8 483.0,394.5 486.2,411.0 489.4,399.5 492.6,420.4 495.8,403.1 499.0,416.7 502.2,401.8 505.4,419.3 508.6,401.4M524.6,415.1 527.8,397.2 531.0,416.3 534.2,397.1 537.4,414.8 540.6,400.4 543.8,411.1M556.6,411.9 559.8,396.6 563.0,414.6 566.2,395.9 569.4,408.2 572.6,391.6 575.8,409.0 579.0,390.3M595.0,398.1 598.2,376.7 601.4,391.4 604.6,376.3 607.8,389.7 611.0,367.1 614.2,374.3 617.4,368.9 620.6,387.6 623.8,373.5 627.0,386.7 630.2,373.7 633.4,384.7 636.6,371.1 639.8,384.6 643.0,373.3 646.2,385.3 649.4,369.4 652.6,385.7 655.8,374.8 659.0,385.1 662.2,371.6 665.4,389.8 668.6,374.4 671.8,390.8 675.0,377.4 678.2,392.2 681.4,381.1 684.6,395.3 687.8,383.1 691.0,396.6 694.2,385.2 697.4,401.3 700.6,390.2 703.8,402.6 707.0,391.9 710.2,406.3 713.4,394.9 716.6,410.2 719.8,398.3 723.0,410.7 726.2,396.5 729.4,414.2 732.6,397.3 735.8,415.7 739.0,403.0 742.2,416.7 745.4,401.1 748.6,412.7 751.8,400.6 755.0,415.3 758.2,405.6 761.4,415.6 764.6,406.0 767.8,414.8 771.0,406.1 774.2,416.2 777.4,406.5 780.6,420.7 783.8,403.2 787.0,420.8 790.2,408.8 793.4,419.8 796.6,409.2 799.8,418.9 803.0,409.8 806.2,419.7 809.4,405.4 812.6,422.3 815.8,408.1 819.0,418.4 822.2,405.7 825.4,419.9 828.6,405.4 831.8,418.3 835.0,405.3 838.2,422.7 841.4,408.2 844.6,421.6 847.8,408.2 851.0,421.7 854.2,406.2 857.4,417.2 860.6,399.5 863.8,415.7 867.0,408.8 870.2,422.3 873.4,409.8 876.6,423.7 879.8,410.1 883.0,422.1 886.2,407.8 889.4,423.1 892.6,411.1 895.8,424.7 899.0,410.1 902.2,425.0 905.4,412.1 908.6,425.5 911.8,410.4 915.0,423.1 918.2,407.3 921.4,420.9 924.6,405.8 927.8,424.7 931.0,409.3 934.2,425.4 937.4,408.7 940.6,423.0 943.8,412.2 947.0,425.9 950.2,407.0 953.4,421.4 956.6,411.2 959.8,422.5 963.0,408.3 966.2,425.9 969.4,407.5 972.6,422.2 975.8,407.4 979.0,426.0 982.2,411.3 985.4,424.1 988.6,409.0 991.8,422.0 995.0,404.5 998.2,418.2 1001.4,407.9 1004.6,419.3 1007.8,410.7 1011.0,422.8 1014.2,411.9 1017.4,421.6 1020.6,410.2 1023.8,423.1 1027.0,406.3 1030.2,423.3 1033.4,410.2 1036.6,420.1 1039.8,409.1 1043.0,416.8 1046.2,408.3 1049.4,420.7 1052.6,405.8 1055.8,418.9 1059.0,402.3 1062.2,418.5 1065.4,405.1 1068.6,419.5 1071.8,401.6 1075.0,413.4 1078.2,405.1 1081.4,413.4 1084.6,401.8 1087.8,415.7 1091.0,404.1 1094.2,417.5 1097.4,400.0 1100.6,415.4 1103.8,401.8 1107.0,413.4 1110.2,400.0 1113.4,412.9 1116.6,400.7 1119.8,412.7 1123.0,400.2 1126.2,412.0 1129.4,392.4 1132.6,405.3 1135.8,399.4 1139.0,414.5 1142.2,400.7 1145.4,416.9 1148.6,402.3 1151.8,418.8 1155.0,406.7 1158.2,418.9 1161.4,403.8 1164.6,417.4 1167.8,407.7 1171.0,417.7 1174.2,405.4 1177.4,416.9 1180.6,409.3 1183.8,421.1 1187.0,407.9 1190.2,419.1 1193.4,406.6 1196.6,422.2 1199.8,408.7 1203.0,420.9 1206.2,409.6 1209.4,422.5 1212.6,408.6 1215.8,421.1 1219.0,405.9 1222.2,422.2 1225.4,410.2 1228.6,424.5 1231.8,408.3 1235.0,419.0 1238.2,406.7 1241.4,423.6 1244.6,407.6 1247.8,421.5 1251.0,407.0 1254.2,420.1 1257.4,405.4 1260.6,419.8 1263.8,403.2 1267.0,416.8 1270.2,404.6 1273.4,420.7 1276.6,402.0 1279.8,417.1 1283.0,406.1 1286.2,417.9 1289.4,402.5 1292.6,416.1 1295.8,403.1 1299.0,417.3 1302.2,401.7 1305.4,417.3 1308.6,400.2 1311.8,414.5 1315.0,400.9 1318.2,414.0 1321.4,400.7 1324.6,415.1 1327.8,400.1 1331.0,416.7 1334.2,400.9 1337.4,418.0 1340.6,401.3 1343.8,417.5 1347.0,403.7 1350.2,415.6 1353.4,401.6 1356.6,413.7 1359.8,402.7 1363.0,415.5 1366.2,401.0 1369.4,416.0 1372.6,401.1 1375.8,417.8 1379.0,399.6 1382.2,417.6 1385.4,403.4 1388.6,419.7 1391.8,402.5 1395.0,418.4 1398.2,408.0 1401.4,417.8 1404.6,408.4 1407.8,422.5 1411.0,404.9 1414.2,420.6 1417.4,408.2 1420.6,420.2 1423.8,412.8 1427.0,422.3 1430.2,410.6 1433.4,421.7 1436.6,410.2 1439.8,423.1 1443.0,411.2 1446.2,424.5 1449.4,413.9 1452.6,427.2 1455.8,414.1 1459.0,427.4 1462.2,409.8 1465.4,426.9 1468.6,412.8 1471.8,427.2 1475.0,415.2 1478.2,426.5 1481.4,410.4 1484.6,425.8 1487.8,414.7 1491.0,428.8 1494.2,415.1 1497.4,426.8 1500.6,414.0 1503.8,426.7 1507.0,411.6 1510.2,430.0 1513.4,412.8 1516.6,426.3 1519.8,413.3 1523.0,427.7 1526.2,411.6 1529.4,425.4 1532.6,415.3 1535.8,423.7 1539.0,413.9 1542.2,425.9 1545.4,412.4 1548.6,425.3 1551.8,413.1 1555.0,428.5 1558.2,411.3 1561.4,425.5 1564.6,415.8 1567.8,425.9 1571.0,413.4 1574.2,426.4 1577.4,410.6 1580.6,424.6 1583.8,413.5 1587.0,423.7 1590.2,413.0 1593.4,430.3 1596.6,413.5 1599.8,429.4 1603.0,411.3 1606.2,429.2 1609.4,415.0 1612.6,428.9 1615.8,410.6 1619.0,427.2 1622.2,414.1 1625.4,427.5 1628.6,414.0 1631.8,428.4 1635.0,416.1 1638.2,424.3 1641.4,413.1 1644.6,426.1 1647.8,415.9 1651.0,430.2 1654.2,412.7 1657.4,428.1 1660.6,410.2 1663.8,424.7 1667.0,413.4 1670.2,430.3 1673.4,415.1 1676.6,427.4 1679.8,412.8 1683.0,427.6 1686.2,416.3 1689.4,428.3 1692.6,415.2 1695.8,430.0 1699.0,414.8 1702.2,427.3 1705.4,415.3 1708.6,425.9 1711.8,414.6 1715.0,424.0 1718.2,411.5 1721.4,425.8 1724.6,410.3 1727.8,423.3 1731.0,414.7 1734.2,425.0 1737.4,414.3 1740.6,429.6 1743.8,413.6 1747.0,428.7 1750.2,410.5 1753.4,428.5 1756.6,415.6 1759.8,425.1 1763.0,413.2 1766.2,429.6 1769.4,413.0 1772.6,425.8 1775.8,415.1 1779.0,429.4 1782.2,412.7 1785.4,428.3 1788.6,411.0 1791.8,426.7 1795.0,416.2 1798.2,431.2 1801.4,416.3 1804.6,426.6 1807.8,413.6 1811.0,428.8 1814.2,412.7 1817.4,426.2 1820.6,412.3 1823.8,428.0 1827.0,415.0 1830.2,427.8 1833.4,410.7 1836.6,425.9 1839.8,414.1 1843.0,425.3 1846.2,414.3 1849.4,430.6 1852.6,410.7 1855.8,426.2 1859.0,412.7 1862.2,427.2 1865.4,413.1 1868.6,428.6 1871.8,411.2 1875.0,428.2 1878.2,410.7 1881.4,425.7 1884.6,412.6 1887.8,428.9 1891.0,411.0 1894.2,426.5 1897.4,411.9 1900.6,428.9 1903.8,416.1 1907.0,427.4 1910.2,411.5 1913.4,427.3 1916.6,412.9 1919.8,429.9 1923.0,413.2 1926.2,427.3 1929.4,411.4 1932.6,428.3 1935.8,413.4 1939.0,428.1 1942.2,413.5 1945.4,424.7 1948.6,414.1 1951.8,428.4 1955.0,414.8 1958.2,425.4 1961.4,414.7 1964.6,424.3 1967.8,411.3 1971.0,424.4 1974.2,410.3 1977.4,425.5 1980.6,412.8 1983.8,428.8 1987.0,412.3 1990.2,429.6 1993.4,413.0 1996.6,427.9 1999.8,414.1 2003.0,426.6 2006.2,410.3 2009.4,426.5 2012.6,415.0 2015.8,428.2 2019.0,411.2 2022.2,426.8 2025.4,412.3 2028.6,429.4 2031.8,416.6 2035.0,425.8 2038.2,411.9 2041.4,428.9 2044.6,411.9 2047.8,428.5 2051.0,414.8 2054.2,424.8 2057.4,412.8 2060.6,425.2 2063.8,412.6 2067.0,428.8 2070.2,410.1 2073.4,426.1 2076.6,413.8 2079.8,428.0 2083.0,416.1 2086.2,427.4 2089.4,412.0 2092.6,426.3 2095.8,413.0 2099.0,428.8 2102.2,413.8 2105.4,426.8 2108.6,411.7 2111.8,429.2 2115.0,414.4 2118.2,425.0 2121.4,413.0 2124.6,425.3 2127.8,414.6 2131.0,428.4 2134.2,413.5 2137.4,426.8 2140.6,412.2 2143.8,425.9 2147.0,411.9 2150.2,428.0 2153.4,412.7 2156.6,425.8 2159.8,411.1 2163.0,425.0 2166.2,414.9 2169.4,428.6 2172.6,411.9 2175.8,424.8 2179.0,411.3 2182.2,424.9 2185.4,411.9 2188.6,429.8 2191.8,412.7 2195.0,425.5 2198.2,412.2 2201.4,425.4 2204.6,411.3 2207.8,424.1 2211.0,412.4 2214.2,426.5 2217.4,414.0 2220.6,429.4 2223.8,410.9 2227.0,424.7 2230.2,409.0 2233.4,423.9 2236.6,412.6 2239.8,423.7 2243.0,416.6 2246.2,428.6 2249.4,413.0 2252.6,425.8 2255.8,416.8 2259.0,427.2 2262.2,414.1 2265.4,425.6 2268.6,414.8 2271.8,426.2 2275.0,414.1 2278.2,427.2 2281.4,412.1 2284.6,429.6 2287.8,413.4 2291.0,424.3 2294.2,412.1 2297.4,425.9 2300.6,413.5 2303.8,426.1 2307.0,413.6 2310.2,427.8 2313.4,412.5 2316.6,427.5 2319.8,410.9 2323.0,429.9 2326.2,415.6 2329.4,430.9 2332.6,411.6 2335.8,425.9 2339.0,413.9 2342.2,425.5 2345.4,411.4 2348.6,428.9 2351.8,415.6 2355.0,428.9 2358.2,411.4 2361.4,425.3 2364.6,413.5 2367.8,427.3 2371.0,411.2 2374.2,425.0 2377.4,410.8 2380.6,427.7" stroke="#000080" class="fz"/>
<polyline points="178.0,404.0 179.2,403.0 180.5,404.6 181.8,401.9 183.0,403.3 184.2,401.4 185.5,403.5 186.8,401.9 188.0,404.3 189.2,402.7 190.5,404.7 191.8,403.0 193.0,405.1 194.2,402.9 195.5,404.6 196.8,402.5 198.0,404.3 199.2,402.3 200.5,403.9 201.8,401.7 203.0,404.0 204.2,402.6 205.5,405.6 206.8,404.2 208.0,406.3 209.2,404.3 210.5,405.6 211.8,403.3 213.0,405.0 214.2,402.3 215.5,403.6 216.8,400.6 218.0,401.1 219.2,397.6 220.5,398.0 221.8,395.5 222.0,397.4 223.0,396.0 224.2,399.2 225.5,399.2 226.8,402.8 228.0,402.1 229.2,404.5 230.5,402.8 231.8,404.5 233.0,402.5 234.2,404.7 235.5,402.9 236.8,405.1 238.0,403.1 239.2,404.6 240.5,402.2 241.8,404.0 243.0,402.5 244.2,405.1 245.5,403.3 246.8,405.5 248.0,403.2 249.2,404.8 250.5,402.8 251.8,405.0 253.0,403.0 254.2,405.2 255.5,403.2 256.8,405.4 258.0,403.2 259.2,405.3 260.5,403.5 261.8,405.1 263.0,403.1 264.2,404.9 265.5,403.3 266.8,405.4 268.0,403.4 269.2,405.6 270.5,404.0 271.8,406.4 273.0,404.7 274.2,406.6 275.5,404.4 276.8,406.0 278.0,404.3 279.2,406.5 280.5,404.7 281.8,406.6 283.0,404.6 284.2,406.0 285.5,404.0 286.8,405.8 288.0,404.1 289.2,406.2 290.5,403.9 291.8,405.4 293.0,403.1 294.2,405.2 295.5,403.6 296.8,406.0 298.0,404.2 299.2,406.5 300.5,404.5 301.8,406.7 303.0,405.0 304.2,407.2 305.5,405.2 306.8,406.9 308.0,405.0 309.2,407.4 310.5,406.2 311.8,408.8 313.0,406.8 314.2,408.4 315.5,405.5 316.8,406.7 318.0,404.3 319.2,406.3 320.5,404.9 321.8,407.2 323.0,405.5 324.2,407.3 325.5,405.8 326.8,407.9 328.0,406.5 329.2,408.8 330.5,407.2 331.8,409.4 333.0,407.9 334.2,410.5 335.5,408.8 336.8,410.9 338.0,408.8 339.2,410.3 340.5,408.6 341.8,410.5 343.0,408.9 344.2,411.1 345.5,409.4 346.8,411.4 348.0,410.1 349.2,412.5 350.5,410.5 351.8,412.3 353.0,410.4 354.2,412.4 355.5,411.0 356.8,413.3 358.0,411.5 359.2,413.1 360.5,411.1 361.8,412.8 363.0,410.6 364.2,412.7 365.5,411.0 366.8,412.9 368.0,411.3 369.2,412.9 370.5,410.7 371.8,412.3 373.0,410.1 374.2,412.3 375.5,411.1 376.8,413.4 378.0,411.7 379.2,413.3 380.5,411.2 381.8,412.8 383.0,411.0 384.2,412.9 385.5,410.6 386.8,412.1 388.0,410.2 389.2,412.3 390.5,410.5 391.8,412.7 393.0,410.9 394.2,412.9 395.5,411.3 396.8,413.6 398.0,411.9 399.2,413.9 400.5,411.6 401.8,413.2 403.0,411.6 404.2,413.1 405.5,411.1 406.8,413.0 408.0,411.1 409.2,413.0 410.5,411.6 411.8,413.9 413.0,411.7 414.2,413.2 415.5,410.8 416.8,412.4 418.0,410.8 419.2,412.7 420.5,411.0 421.8,412.5 423.0,410.0 424.2,412.1 425.5,410.5 426.8,413.3 428.0,411.6 429.2,413.0 430.5,410.3 431.8,407.4 433.0,394.1 434.2,369.1 435.5,331.5 436.8,300.8 437.5,294.7 438.0,297.4 439.2,324.0 440.5,362.0 441.8,390.0 443.0,405.4 444.2,408.1 445.5,408.4 446.8,400.3 448.0,386.3 449.2,363.9 450.5,345.2 451.3,341.0 451.8,342.3 453.0,357.6 454.2,380.5 455.5,397.4 456.8,408.0 458.0,409.3 459.2,413.3 460.5,409.4 461.8,414.0 463.0,408.6 464.2,413.1 465.5,407.9 466.8,412.9 468.0,407.5 469.2,412.7 470.5,407.3 471.8,412.8 473.0,407.0 474.2,412.0 475.5,406.6 476.8,412.0 478.0,407.2 479.2,411.9 480.5,405.9 481.8,409.5 483.0,401.2 484.2,405.5 484.4,400.8 485.5,406.7 486.8,403.2 488.0,410.6 489.2,406.0 490.5,411.3 491.8,406.3 493.0,411.9 494.2,406.8 495.5,412.9 496.8,407.6 498.0,412.9 499.2,408.2 500.5,413.4 501.8,408.2 503.0,413.4 504.2,407.6 505.5,412.2 506.8,406.8 508.0,411.5 509.2,406.1 510.5,410.1 511.8,405.4 513.0,406.4 514.2,399.5 515.5,393.6 516.8,385.6 518.0,382.5 519.2,385.4 520.5,393.0 521.8,398.6 523.0,405.6 524.2,404.2 525.5,409.4 526.8,405.4 528.0,410.3 529.2,405.0 530.5,409.8 531.8,404.2 533.0,409.3 534.2,404.1 535.5,409.9 536.8,404.3 538.0,410.1 539.2,404.8 540.5,409.9 541.8,404.8 543.0,407.4 544.2,398.2 545.5,386.6 546.8,356.7 548.0,321.8 549.2,296.9 549.7,294.7 550.5,301.0 551.8,331.1 553.0,364.4 554.2,390.5 555.5,398.9 556.8,406.3 558.0,402.9 559.2,407.1 560.5,401.9 561.8,406.4 563.0,400.8 564.2,405.8 565.5,399.8 566.8,405.3 568.0,399.6 569.2,404.6 570.5,399.4 571.8,404.4 573.0,398.3 574.2,402.5 575.5,396.1 576.8,401.0 578.0,395.9 579.2,399.2 580.5,392.8 581.8,390.3 583.0,374.0 584.2,355.1 585.5,332.0 586.8,319.5 587.0,319.0 588.0,324.0 589.2,341.7 590.5,363.4 591.8,376.2 593.0,386.4 594.2,385.1 595.5,390.6 596.8,385.1 598.0,388.9 599.2,382.7 600.5,387.2 601.8,381.8 603.0,386.5 604.2,381.4 605.5,384.7 606.8,379.9 608.0,383.9 609.2,377.8 610.5,378.9 611.8,371.1 613.0,371.7 613.8,367.4 614.2,371.0 615.5,370.1 616.8,376.1 618.0,375.3 619.2,379.4 620.5,377.6 621.8,380.1 623.0,377.9 624.2,379.4 625.5,377.4 626.8,379.7 628.0,378.2 629.2,380.8 630.5,378.8 631.8,380.0 633.0,377.7 634.2,379.4 635.5,377.6 636.8,379.6 638.0,377.4 639.2,378.8 640.5,376.6 641.8,378.3 643.0,376.5 644.2,378.9 645.5,377.6 646.8,379.6 648.0,377.5 649.2,379.4 650.5,377.0 651.8,378.9 653.0,377.0 654.2,379.6 655.5,378.1 656.8,380.7 658.0,379.1 659.2,381.0 660.5,378.8 661.8,380.4 663.0,378.5 664.2,381.0 665.5,380.3 666.8,383.3 668.0,382.1 669.2,384.5 670.5,383.3 671.8,385.5 673.0,384.4 674.2,386.8 675.5,385.6 676.8,387.5 678.0,385.7 679.2,388.0 680.5,386.3 681.8,388.9 683.0,387.7 684.2,390.2 685.5,389.0 686.8,391.5 688.0,390.1 689.2,392.5 690.5,390.9 691.8,393.6 693.0,392.0 694.2,394.3 695.5,392.7 696.8,395.3 698.0,394.1 699.2,396.5 700.5,395.3 701.8,397.6 703.0,396.2 704.2,398.8 705.5,397.2 706.8,399.5 708.0,398.2 709.2,400.9 710.5,400.3 711.8,402.9 713.0,401.3 714.2,403.1 715.5,401.2 716.8,403.5 718.0,402.1 719.2,404.3 720.5,402.5 721.8,404.6 723.0,403.2 724.2,405.7 725.5,404.7 726.8,407.0 728.0,405.1 729.2,407.0 730.5,404.9 731.8,407.0 733.0,405.6 734.2,408.2 735.5,406.9 736.8,409.1 738.0,407.5 739.2,409.0 740.5,406.9 741.8,408.4 743.0,406.5 744.2,408.6 745.5,407.2 746.8,409.4 748.0,407.4 749.2,409.4 750.5,407.8 751.8,409.8 753.0,408.0 754.2,409.7 755.5,407.8 756.8,410.1 758.0,408.7 759.2,411.2 760.5,409.5 761.8,411.6 763.0,409.4 764.2,411.2 765.5,409.4 766.8,411.3 768.0,409.5 769.2,411.4 770.5,409.6 771.8,411.2 773.0,409.4 774.2,411.4 775.5,410.2 776.8,412.6 778.0,410.9 779.2,413.0 780.5,411.5 781.8,413.5 783.0,411.7 784.2,413.2 785.5,410.7 786.8,412.4 788.0,410.6 789.2,413.6 790.5,412.4 791.8,415.0 793.0,413.3 794.2,415.2 795.5,413.1 796.8,414.8 798.0,412.9 799.2,414.8 800.5,413.2 801.8,415.1 803.0,413.3 804.2,415.4 805.5,413.9 806.8,415.8 808.0,413.9 809.2,415.6 810.5,413.7 811.8,415.8 813.0,414.2 814.2,416.1 815.5,413.7 816.8,415.0 818.0,412.7 819.2,414.0 820.5,412.1 821.8,414.3 823.0,413.0 824.2,415.6 825.5,413.9 826.8,415.6 828.0,413.2 829.2,414.9 830.5,413.1 831.8,415.0 833.0,413.5 834.2,415.6 835.5,413.8 836.8,416.1 838.0,414.6 839.2,416.6 840.5,414.7 841.8,416.6 843.0,414.9 844.2,417.1 845.5,415.5 846.8,417.7 848.0,415.7 849.2,417.3 850.5,415.3 851.8,417.3 853.0,415.1 854.2,416.4 855.5,413.0 856.8,412.7 858.0,408.2 859.2,407.7 860.5,404.7 860.6,406.7 861.8,405.8 863.0,410.1 864.2,410.9 865.5,414.6 866.8,413.9 868.0,416.1 869.2,414.7 870.5,416.9 871.8,415.3 873.0,417.4 874.2,415.7 875.5,417.8 876.8,415.5 878.0,417.0 879.2,414.6 880.5,416.5 881.8,414.5 883.0,416.5 884.2,414.6 885.5,416.4 886.8,414.7 888.0,416.6 889.2,414.8 890.5,416.8 891.8,415.1 893.0,417.4 894.2,415.5 895.5,417.3 896.8,415.2 898.0,417.1 899.2,415.4 900.5,417.4 901.8,415.4 903.0,417.2 904.2,414.9 905.5,417.2 906.8,415.7 908.0,418.1 909.2,416.3 910.5,418.2 911.8,415.6 913.0,416.8 914.2,414.7 915.5,416.8 916.8,414.9 918.0,416.5 919.2,414.5 920.5,415.9 921.8,413.9 923.0,415.7 924.2,413.8 925.5,416.0 926.8,414.8 928.0,417.0 929.2,414.8 930.5,416.7 931.8,414.6 933.0,417.0 934.2,415.5 935.5,417.0 936.8,414.9 938.0,416.1 939.2,413.9 940.5,416.3 941.8,415.7 943.0,418.5 944.2,416.9 945.5,418.6 946.8,416.0 948.0,417.4 949.2,415.2 950.5,416.9 951.8,415.1 953.0,417.2 954.2,415.4 955.5,417.3 956.8,415.2 958.0,416.7 959.2,414.3 960.5,416.5 961.8,415.2 963.0,417.9 964.2,416.3 965.5,417.9 966.8,415.3 968.0,416.3 969.2,414.2 970.5,415.8 971.8,414.0 973.0,415.9 974.2,414.4 975.5,416.8 976.8,415.4 978.0,417.4 979.2,415.6 980.5,417.3 981.8,415.3 983.0,417.3 984.2,415.2 985.5,416.9 986.8,414.7 988.0,416.2 989.2,414.3 990.5,416.5 991.8,414.9 993.0,415.9 994.2,412.8 995.5,412.7 996.8,409.0 998.0,410.2 999.2,409.2 1000.5,412.9 1001.8,412.7 1003.0,415.4 1004.2,414.1 1005.5,416.0 1006.8,414.2 1008.0,416.0 1009.2,414.2 1010.5,416.7 1011.8,415.3 1013.0,417.1 1014.2,415.2 1015.5,416.8 1016.8,414.8 1018.0,416.5 1019.2,414.4 1020.5,415.9 1021.8,413.9 1023.0,416.1 1024.2,414.3 1025.5,416.0 1026.8,413.7 1028.0,415.4 1029.2,413.4 1030.5,415.4 1031.8,413.9 1033.0,415.9 1034.2,413.9 1035.5,415.3 1036.8,413.2 1038.0,414.5 1039.2,412.3 1040.5,413.9 1041.8,411.8 1043.0,413.6 1044.2,411.5 1045.5,413.6 1046.8,411.4 1048.0,413.1 1049.2,411.1 1050.5,412.9 1051.8,410.5 1053.0,412.0 1054.2,409.9 1055.5,411.8 1056.8,410.1 1058.0,412.2 1059.2,410.2 1060.5,412.1 1061.8,410.4 1063.0,412.3 1064.2,410.6 1065.5,412.3 1066.8,410.3 1068.0,412.2 1069.2,409.8 1070.5,411.1 1071.8,408.5 1073.0,409.6 1074.2,407.4 1075.5,409.5 1076.8,408.0 1078.0,410.1 1079.2,408.3 1080.5,410.0 1081.8,407.7 1083.0,409.4 1084.2,407.3 1085.5,409.6 1086.8,407.9 1088.0,410.4 1089.2,408.7 1090.5,410.7 1091.8,408.6 1093.0,410.1 1094.2,407.3 1095.5,408.8 1096.8,406.1 1098.0,407.4 1099.2,405.5 1100.5,407.5 1101.8,406.0 1103.0,407.8 1104.2,406.0 1105.5,408.1 1106.8,406.0 1108.0,407.9 1109.2,405.7 1110.5,407.7 1111.8,405.7 1113.0,407.8 1114.2,406.1 1115.5,407.8 1116.8,405.8 1118.0,407.8 1119.2,405.9 1120.5,408.2 1121.8,406.0 1123.0,407.6 1124.2,404.9 1125.5,405.9 1126.8,402.8 1128.0,403.2 1129.2,400.0 1130.5,400.5 1131.8,398.3 1131.8,400.0 1133.0,398.6 1134.2,402.3 1135.5,402.4 1136.8,406.2 1138.0,405.2 1139.2,407.4 1140.5,406.1 1141.8,408.4 1143.0,406.9 1144.2,409.0 1145.5,407.5 1146.8,409.6 1148.0,408.1 1149.2,410.6 1150.5,409.2 1151.8,411.5 1153.0,410.0 1154.2,412.3 1155.5,410.6 1156.8,412.4 1158.0,410.3 1159.2,412.0 1160.5,410.0 1161.8,411.8 1163.0,410.3 1164.2,412.6 1165.5,410.8 1166.8,412.8 1168.0,410.9 1169.2,412.9 1170.5,411.3 1171.8,413.3 1173.0,411.0 1174.2,412.5 1175.5,410.7 1176.8,413.1 1178.0,412.1 1179.2,414.7 1180.5,413.4 1181.8,415.1 1183.0,413.4 1184.2,415.4 1185.5,413.3 1186.8,415.4 1188.0,413.1 1189.2,414.9 1190.5,412.7 1191.8,414.7 1193.0,413.0 1194.2,415.5 1195.5,413.8 1196.8,416.0 1198.0,413.8 1199.2,415.5 1200.5,412.9 1201.8,414.4 1203.0,412.7 1204.2,415.1 1205.5,413.5 1206.8,415.9 1208.0,414.3 1209.2,416.2 1210.5,414.1 1211.8,416.1 1213.0,413.7 1214.2,415.9 1215.5,413.9 1216.8,415.9 1218.0,413.8 1219.2,415.4 1220.5,413.2 1221.8,415.1 1223.0,413.5 1224.2,416.1 1225.5,414.9 1226.8,417.0 1228.0,415.0 1229.2,416.2 1230.5,414.0 1231.8,415.3 1233.0,413.5 1234.2,415.5 1235.5,414.1 1236.8,415.8 1238.0,413.7 1239.2,415.2 1240.5,413.2 1241.8,415.2 1243.0,413.5 1244.2,415.1 1245.5,412.7 1246.8,413.9 1248.0,411.6 1249.2,413.1 1250.5,410.9 1251.8,413.1 1253.0,411.3 1254.2,413.3 1255.5,411.3 1256.8,413.3 1258.0,410.8 1259.2,412.2 1260.5,410.2 1261.8,411.9 1263.0,409.9 1264.2,412.1 1265.5,410.8 1266.8,413.1 1268.0,411.5 1269.2,413.1 1270.5,411.3 1271.8,413.1 1273.0,411.1 1274.2,412.6 1275.5,410.0 1276.8,411.3 1278.0,409.0 1279.2,410.5 1280.5,408.7 1281.8,410.8 1283.0,409.2 1284.2,411.0 1285.5,408.9 1286.8,410.4 1288.0,408.6 1289.2,411.1 1290.5,409.6 1291.8,411.8 1293.0,409.6 1294.2,410.9 1295.5,408.1 1296.8,409.5 1298.0,407.4 1299.2,409.7 1300.5,408.2 1301.8,410.4 1303.0,408.3 1304.2,409.9 1305.5,408.0 1306.8,409.6 1308.0,407.5 1309.2,409.3 1310.5,407.6 1311.8,409.4 1313.0,407.7 1314.2,410.1 1315.5,408.7 1316.8,410.9 1318.0,409.0 1319.2,410.6 1320.5,408.4 1321.8,409.8 1323.0,407.9 1324.2,410.1 1325.5,408.5 1326.8,410.5 1328.0,408.5 1329.2,409.8 1330.5,407.5 1331.8,409.4 1333.0,407.6 1334.2,410.0 1335.5,408.4 1336.8,410.6 1338.0,408.8 1339.2,410.9 1340.5,409.4 1341.8,411.7 1343.0,409.9 1344.2,411.7 1345.5,409.4 1346.8,410.9 1348.0,408.5 1349.2,410.5 1350.5,408.5 1351.8,410.4 1353.0,408.6 1354.2,410.4 1355.5,408.1 1356.8,409.8 1358.0,408.0 1359.2,410.1 1360.5,407.7 1361.8,409.4 1363.0,407.7 1364.2,409.9 1365.5,408.1 1366.8,410.4 1368.0,408.6 1369.2,410.1 1370.5,408.3 1371.8,410.3 1373.0,408.4 1374.2,410.2 1375.5,408.1 1376.8,409.8 1378.0,407.8 1379.2,409.8 1380.5,407.7 1381.8,409.6 1383.0,407.9 1384.2,410.1 1385.5,408.7 1386.8,411.6 1388.0,410.5 1389.2,412.5 1390.5,410.6 1391.8,412.7 1393.0,411.1 1394.2,413.0 1395.5,411.2 1396.8,413.1 1398.0,411.3 1399.2,413.6 1400.5,411.7 1401.8,413.7 1403.0,411.9 1404.2,414.2 1405.5,412.7 1406.8,415.2 1408.0,413.1 1409.2,414.9 1410.5,413.4 1411.8,415.6 1413.0,413.7 1414.2,415.5 1415.5,413.3 1416.8,415.1 1418.0,413.9 1419.2,416.3 1420.5,415.0 1421.8,417.3 1423.0,416.0 1424.2,418.2 1425.5,416.2 1426.8,417.7 1428.0,415.8 1429.2,417.6 1430.5,415.6 1431.8,417.3 1433.0,415.3 1434.2,417.6 1435.5,416.3 1436.8,419.0 1438.0,417.2 1439.2,419.3 1440.5,417.2 1441.8,419.4 1443.0,417.9 1444.2,419.8 1445.5,417.6 1446.8,419.3 1448.0,417.3 1449.2,419.1 1450.5,417.3 1451.8,419.4 1453.0,417.3 1454.2,419.3 1455.5,417.4 1456.8,419.2 1458.0,417.4 1459.2,419.5 1460.5,417.8 1461.8,419.7 1463.0,418.1 1464.2,419.8 1465.5,417.7 1466.8,419.3 1468.0,417.5 1469.2,419.9 1470.5,418.2 1471.8,420.7 1473.0,419.1 1474.2,420.5 1475.5,418.3 1476.8,419.9 1478.0,417.8 1479.2,419.9 1480.5,418.5 1481.8,421.0 1483.0,419.5 1484.2,421.0 1485.5,418.9 1486.8,420.6 1488.0,418.7 1489.2,421.1 1490.5,419.5 1491.8,421.6 1493.0,419.4 1494.2,421.1 1495.5,418.5 1496.8,420.0 1498.0,417.7 1499.2,419.4 1500.5,417.4 1501.8,419.3 1503.0,417.6 1504.2,420.2 1505.5,418.8 1506.8,421.0 1508.0,419.5 1509.2,421.4 1510.5,419.6 1511.8,421.1 1513.0,419.3 1514.2,420.9 1515.5,418.8 1516.8,421.0 1518.0,419.3 1519.2,421.5 1520.5,419.7 1521.8,422.0 1523.0,420.1 1524.2,421.9 1525.5,419.8 1526.8,421.6 1528.0,419.6 1529.2,421.3 1530.5,419.1 1531.8,421.0 1533.0,418.7 1534.2,420.0 1535.5,417.6 1536.8,419.2 1538.0,417.2 1539.2,419.6 1540.5,417.8 1541.8,420.3 1543.0,418.8 1544.2,421.1 1545.5,419.5 1546.8,421.1 1548.0,418.5 1549.2,420.3 1550.5,418.7 1551.8,421.0 1553.0,419.2 1554.2,421.3 1555.5,419.5 1556.8,421.1 1558.0,419.1 1559.2,420.9 1560.5,419.5 1561.8,422.0 1563.0,420.0 1564.2,421.7 1565.5,419.4 1566.8,420.8 1568.0,418.2 1569.2,419.7 1570.5,417.6 1571.8,419.1 1573.0,417.7 1574.2,420.2 1575.5,418.7 1576.8,420.8 1578.0,418.5 1579.2,419.8 1580.5,418.0 1581.8,420.4 1583.0,419.0 1584.2,420.9 1585.5,418.5 1586.8,420.3 1588.0,418.2 1589.2,420.5 1590.5,419.1 1591.8,421.6 1593.0,419.9 1594.2,422.1 1595.5,420.3 1596.8,421.8 1598.0,420.0 1599.2,421.7 1600.5,419.7 1601.8,421.8 1603.0,419.8 1604.2,421.5 1605.5,419.7 1606.8,421.4 1608.0,419.4 1609.2,420.9 1610.5,418.6 1611.8,420.5 1613.0,418.5 1614.2,420.4 1615.5,418.7 1616.8,420.8 1618.0,419.3 1619.2,421.3 1620.5,419.3 1621.8,420.9 1623.0,418.6 1624.2,420.4 1625.5,418.6 1626.8,420.7 1628.0,419.1 1629.2,421.3 1630.5,420.1 1631.8,422.3 1633.0,420.5 1634.2,422.3 1635.5,419.5 1636.8,421.0 1638.0,418.8 1639.2,420.7 1640.5,418.9 1641.8,420.9 1643.0,419.4 1644.2,421.5 1645.5,419.8 1646.8,422.0 1648.0,420.1 1649.2,422.0 1650.5,420.1 1651.8,422.0 1653.0,420.1 1654.2,421.6 1655.5,419.5 1656.8,420.8 1658.0,418.4 1659.2,420.3 1660.5,418.3 1661.8,420.4 1663.0,418.2 1664.2,420.2 1665.5,418.6 1666.8,421.2 1668.0,419.5 1669.2,421.8 1670.5,420.2 1671.8,422.3 1673.0,420.1 1674.2,421.8 1675.5,419.6 1676.8,421.3 1678.0,419.4 1679.2,421.6 1680.5,419.9 1681.8,421.6 1683.0,419.8 1684.2,421.4 1685.5,419.7 1686.8,421.8 1688.0,419.9 1689.2,421.5 1690.5,419.5 1691.8,421.7 1693.0,420.1 1694.2,422.2 1695.5,420.3 1696.8,421.9 1698.0,420.0 1699.2,421.5 1700.5,419.2 1701.8,421.0 1703.0,419.2 1704.2,421.4 1705.5,419.6 1706.8,421.7 1708.0,419.8 1709.2,421.7 1710.5,419.7 1711.8,421.3 1713.0,419.3 1714.2,420.6 1715.5,418.7 1716.8,420.4 1718.0,418.5 1719.2,420.5 1720.5,418.4 1721.8,420.6 1723.0,418.6 1724.2,420.3 1725.5,418.3 1726.8,420.0 1728.0,418.1 1729.2,419.9 1730.5,418.2 1731.8,420.1 1733.0,418.3 1734.2,420.6 1735.5,419.0 1736.8,421.3 1738.0,419.9 1739.2,421.8 1740.5,420.2 1741.8,422.1 1743.0,420.1 1744.2,421.8 1745.5,419.5 1746.8,421.0 1748.0,418.8 1749.2,420.6 1750.5,418.6 1751.8,420.7 1753.0,419.1 1754.2,421.1 1755.5,419.2 1756.8,420.7 1758.0,418.6 1759.2,420.3 1760.5,418.3 1761.8,420.4 1763.0,418.7 1764.2,421.1 1765.5,419.5 1766.8,421.9 1768.0,419.9 1769.2,422.0 1770.5,419.8 1771.8,421.4 1773.0,419.3 1774.2,421.2 1775.5,419.8 1776.8,421.8 1778.0,419.5 1779.2,421.1 1780.5,418.9 1781.8,421.1 1783.0,419.8 1784.2,421.8 1785.5,419.9 1786.8,421.4 1788.0,419.5 1789.2,421.6 1790.5,419.4 1791.8,421.4 1793.0,420.0 1794.2,422.6 1795.5,421.1 1796.8,423.4 1798.0,421.2 1799.2,422.6 1800.5,419.9 1801.8,421.2 1803.0,418.8 1804.2,420.2 1805.5,418.1 1806.8,420.4 1808.0,418.8 1809.2,421.3 1810.5,419.4 1811.8,421.4 1813.0,419.3 1814.2,421.1 1815.5,419.3 1816.8,421.3 1818.0,419.4 1819.2,421.0 1820.5,419.1 1821.8,420.7 1823.0,418.4 1824.2,419.9 1825.5,417.8 1826.8,419.9 1828.0,418.3 1829.2,420.6 1830.5,418.8 1831.8,420.9 1833.0,418.9 1834.2,420.7 1835.5,418.9 1836.8,420.8 1838.0,418.6 1839.2,420.4 1840.5,418.7 1841.8,420.6 1843.0,418.3 1844.2,420.3 1845.5,419.2 1846.8,421.9 1848.0,420.4 1849.2,422.3 1850.5,419.8 1851.8,420.9 1853.0,418.9 1854.2,421.0 1855.5,419.1 1856.8,421.0 1858.0,418.7 1859.2,420.1 1860.5,417.5 1861.8,419.4 1863.0,417.6 1864.2,419.7 1865.5,418.1 1866.8,420.3 1868.0,418.7 1869.2,420.7 1870.5,418.7 1871.8,420.4 1873.0,418.2 1874.2,420.1 1875.5,418.3 1876.8,420.5 1878.0,418.7 1879.2,420.9 1880.5,419.3 1881.8,420.9 1883.0,418.7 1884.2,420.7 1885.5,418.9 1886.8,421.2 1888.0,419.7 1889.2,421.5 1890.5,419.2 1891.8,420.6 1893.0,418.6 1894.2,420.4 1895.5,419.0 1896.8,421.5 1898.0,419.9 1899.2,421.7 1900.5,419.4 1901.8,421.1 1903.0,419.3 1904.2,421.4 1905.5,419.3 1906.8,421.1 1908.0,419.1 1909.2,421.3 1910.5,419.7 1911.8,421.6 1913.0,419.1 1914.2,420.8 1915.5,418.7 1916.8,420.8 1918.0,419.3 1919.2,421.4 1920.5,419.4 1921.8,421.2 1923.0,418.8 1924.2,420.6 1925.5,418.6 1926.8,420.5 1928.0,418.8 1929.2,420.9 1930.5,419.1 1931.8,420.8 1933.0,418.6 1934.2,420.8 1935.5,419.0 1936.8,421.3 1938.0,419.7 1939.2,422.0 1940.5,420.1 1941.8,421.7 1943.0,419.6 1944.2,421.3 1945.5,419.2 1946.8,420.6 1948.0,418.2 1949.2,420.2 1950.5,418.3 1951.8,420.8 1953.0,419.2 1954.2,421.3 1955.5,419.2 1956.8,421.1 1958.0,419.2 1959.2,420.6 1960.5,418.5 1961.8,419.7 1963.0,417.1 1964.2,418.8 1965.5,416.9 1966.8,419.6 1968.0,418.2 1969.2,420.7 1970.5,419.1 1971.8,420.7 1973.0,418.3 1974.2,419.9 1975.5,418.1 1976.8,420.1 1978.0,419.1 1979.2,421.9 1980.5,420.3 1981.8,422.1 1983.0,419.8 1984.2,421.1 1985.5,418.8 1986.8,420.8 1988.0,419.3 1989.2,421.4 1990.5,419.7 1991.8,422.1 1993.0,420.1 1994.2,422.2 1995.5,420.3 1996.8,421.6 1998.0,419.5 1999.2,420.8 2000.5,418.7 2001.8,420.8 2003.0,418.8 2004.2,420.7 2005.5,418.8 2006.8,420.9 2008.0,419.5 2009.2,421.9 2010.5,419.9 2011.8,421.5 2013.0,419.2 2014.2,420.8 2015.5,418.8 2016.8,420.4 2018.0,418.5 2019.2,420.8 2020.5,419.5 2021.8,422.0 2023.0,420.5 2024.2,422.2 2025.5,420.0 2026.8,421.6 2028.0,419.4 2029.2,421.5 2030.5,419.9 2031.8,421.8 2033.0,419.7 2034.2,421.5 2035.5,419.3 2036.8,421.3 2038.0,419.6 2039.2,421.2 2040.5,418.9 2041.8,420.4 2043.0,417.9 2044.2,420.1 2045.5,418.6 2046.8,421.2 2048.0,419.1 2049.2,420.6 2050.5,418.7 2051.8,420.6 2053.0,419.3 2054.2,421.6 2055.5,420.0 2056.8,422.1 2058.0,420.0 2059.2,422.0 2060.5,419.9 2061.8,421.6 2063.0,419.6 2064.2,421.7 2065.5,419.6 2066.8,421.1 2068.0,418.8 2069.2,420.3 2070.5,418.6 2071.8,420.9 2073.0,419.4 2074.2,421.4 2075.5,419.3 2076.8,421.0 2078.0,419.0 2079.2,420.7 2080.5,419.2 2081.8,421.7 2083.0,420.1 2084.2,422.4 2085.5,420.8 2086.8,422.4 2088.0,420.2 2089.2,421.8 2090.5,419.4 2091.8,420.6 2093.0,418.6 2094.2,420.8 2095.5,419.2 2096.8,421.4 2098.0,419.4 2099.2,421.3 2100.5,419.6 2101.8,421.4 2103.0,419.1 2104.2,420.6 2105.5,418.4 2106.8,420.3 2108.0,418.9 2109.2,420.8 2110.5,419.2 2111.8,420.8 2113.0,418.9 2114.2,421.1 2115.5,419.5 2116.8,421.4 2118.0,419.5 2119.2,420.8 2120.5,418.6 2121.8,420.2 2123.0,418.1 2124.2,420.1 2125.5,418.0 2126.8,420.0 2128.0,418.3 2129.2,421.1 2130.5,420.1 2131.8,422.6 2133.0,420.3 2134.2,421.6 2135.5,419.1 2136.8,420.6 2138.0,418.9 2139.2,420.9 2140.5,419.3 2141.8,421.3 2143.0,419.4 2144.2,421.0 2145.5,419.2 2146.8,421.3 2148.0,419.7 2149.2,421.7 2150.5,419.9 2151.8,421.5 2153.0,419.0 2154.2,420.9 2155.5,418.9 2156.8,421.0 2158.0,419.3 2159.2,421.4 2160.5,419.5 2161.8,420.9 2163.0,418.4 2164.2,419.7 2165.5,417.9 2166.8,420.2 2168.0,418.8 2169.2,421.2 2170.5,419.0 2171.8,420.8 2173.0,418.6 2174.2,420.5 2175.5,418.8 2176.8,421.0 2178.0,418.9 2179.2,420.6 2180.5,418.4 2181.8,420.6 2183.0,419.0 2184.2,420.8 2185.5,418.8 2186.8,421.0 2188.0,419.3 2189.2,421.6 2190.5,420.1 2191.8,422.1 2193.0,420.0 2194.2,421.9 2195.5,419.8 2196.8,421.7 2198.0,419.4 2199.2,421.2 2200.5,419.5 2201.8,421.5 2203.0,419.6 2204.2,421.2 2205.5,418.8 2206.8,420.2 2208.0,418.5 2209.2,420.8 2210.5,419.2 2211.8,421.9 2213.0,420.1 2214.2,422.5 2215.5,420.6 2216.8,422.5 2218.0,420.3 2219.2,421.5 2220.5,419.3 2221.8,421.2 2223.0,419.2 2224.2,420.7 2225.5,418.0 2226.8,419.1 2228.0,416.7 2229.2,418.7 2230.5,416.9 2231.8,419.0 2233.0,417.7 2234.2,419.9 2235.5,418.3 2236.8,420.3 2238.0,418.0 2239.2,420.2 2240.5,419.1 2241.8,421.6 2243.0,420.3 2244.2,422.0 2245.5,420.0 2246.8,421.8 2248.0,420.0 2249.2,421.9 2250.5,420.0 2251.8,421.7 2253.0,419.8 2254.2,422.3 2255.5,420.6 2256.8,422.4 2258.0,420.1 2259.2,421.5 2260.5,419.5 2261.8,421.3 2263.0,419.4 2264.2,421.2 2265.5,419.6 2266.8,421.6 2268.0,419.7 2269.2,421.7 2270.5,419.8 2271.8,421.3 2273.0,418.9 2274.2,420.3 2275.5,418.3 2276.8,420.4 2278.0,418.7 2279.2,420.9 2280.5,419.1 2281.8,421.4 2283.0,419.7 2284.2,421.4 2285.5,419.1 2286.8,420.8 2288.0,418.9 2289.2,420.4 2290.5,418.7 2291.8,420.8 2293.0,419.2 2294.2,421.7 2295.5,420.2 2296.8,422.3 2298.0,420.5 2299.2,422.1 2300.5,419.5 2301.8,421.0 2303.0,418.9 2304.2,420.4 2305.5,418.7 2306.8,420.8 2308.0,419.1 2309.2,421.1 2310.5,419.6 2311.8,421.7 2313.0,419.8 2314.2,421.9 2315.5,420.2 2316.8,421.7 2318.0,419.4 2319.2,421.2 2320.5,419.5 2321.8,421.7 2323.0,419.8 2324.2,421.9 2325.5,419.9 2326.8,422.1 2328.0,420.6 2329.2,422.6 2330.5,420.9 2331.8,422.1 2333.0,419.8 2334.2,421.4 2335.5,419.6 2336.8,421.8 2338.0,420.3 2339.2,422.5 2340.5,420.4 2341.8,421.8 2343.0,419.5 2344.2,421.1 2345.5,419.4 2346.8,421.5 2348.0,419.6 2349.2,421.3 2350.5,419.2 2351.8,421.3 2353.0,419.6 2354.2,421.9 2355.5,420.1 2356.8,421.8 2358.0,419.7 2359.2,421.4 2360.5,419.4 2361.8,421.6 2363.0,419.7 2364.2,421.3 2365.5,419.5 2366.8,421.3 2368.0,419.3 2369.2,421.3 2370.5,419.2 2371.8,420.8 2373.0,418.8 2374.2,420.9 2375.5,419.1 2376.8,421.1 2378.0,418.9 2379.2,420.7 2380.5,418.9 2381.8,421.1 2383.0,419.4 2383.5,420.5" stroke="#000080"/>
<path d="M179.0,198.1 182.2,188.0 185.4,197.8 188.6,186.9 191.8,199.5 195.0,189.3 198.2,198.7 201.4,186.4 204.6,201.8 207.8,185.1 211.0,201.7 214.2,186.3 217.4,202.1 220.6,186.7 223.8,200.3 227.0,189.0 230.2,201.9 233.4,189.0 236.6,200.4 239.8,187.4 243.0,202.3 246.2,186.2 249.4,202.4 252.6,185.6 255.8,199.2 259.0,186.8 262.2,202.1 265.4,186.5 268.6,199.7 271.8,188.6 275.0,202.8 278.2,187.3 281.4,200.9 284.6,189.8 287.8,202.6 291.0,189.1 294.2,202.4 297.4,189.0 300.6,200.7 303.8,187.6 307.0,199.7 310.2,189.9 313.4,202.3 316.6,186.2 319.8,202.3 323.0,191.6 326.2,202.3 329.4,188.1 332.6,202.6 335.8,188.3 339.0,201.1 342.2,187.5 345.4,203.3 348.6,189.7 351.8,203.1 355.0,187.6 358.2,201.1 361.4,186.8 364.6,202.6 367.8,190.1 371.0,204.1 374.2,191.1 377.4,204.1 380.6,189.9 383.8,200.5 387.0,191.7 390.2,204.7 393.4,190.6 396.6,203.5 399.8,190.9 403.0,202.8 406.2,188.6 409.4,202.9 412.6,190.6 415.8,205.3 419.0,192.5 422.2,202.9 425.4,188.8 428.6,202.2 431.8,188.8 435.0,202.2 438.2,189.1 441.4,202.8 444.6,191.1 447.8,202.3 451.0,191.6 454.2,202.0 457.4,191.6 460.6,205.1 463.8,191.7 467.0,204.9 470.2,189.4 473.4,202.7 476.6,190.5 479.8,201.5 483.0,190.2 486.2,205.4 489.4,189.4 492.6,206.2 495.8,189.9 499.0,202.5 502.2,189.9 505.4,201.3 508.6,188.2 511.8,202.8 515.0,192.6 518.2,201.6 521.4,192.7 524.6,204.6 527.8,189.1 531.0,203.0 534.2,192.3 537.4,201.2 540.6,192.6 543.8,200.1 547.0,187.3 550.2,202.7 553.4,186.4 556.6,195.4 559.8,184.5 563.0,193.6 566.2,180.6 569.4,191.6 572.6,177.3 575.8,188.5 579.0,173.3 582.2,184.5 585.4,169.0 588.6,183.2 591.8,167.1 595.0,180.3 598.2,166.0 601.4,180.3 604.6,161.6 607.8,173.4 611.0,158.6 614.2,169.6 617.4,156.0 620.6,164.1 623.8,149.2 627.0,156.4 630.2,141.9 633.4,150.4 636.6,140.1 639.8,156.4 643.0,145.4 646.2,162.0 649.4,149.7 652.6,164.2 655.8,155.2 659.0,171.2 662.2,156.1 665.4,170.0 668.6,160.1 671.8,176.5 675.0,161.3 678.2,175.3 681.4,163.5 684.6,181.1 687.8,167.5 691.0,180.3 694.2,168.8 697.4,186.3 700.6,171.6 703.8,186.0 707.0,172.9 710.2,186.4 713.4,175.0 716.6,190.7 719.8,178.5 723.0,192.8 726.2,180.2 729.4,191.5 732.6,182.0 735.8,194.7 739.0,183.1 742.2,193.9 745.4,182.5 748.6,197.1 751.8,182.9 755.0,198.4 758.2,185.2 761.4,197.5 764.6,183.9 767.8,198.6 771.0,185.7 774.2,196.8 777.4,184.9 780.6,198.1 783.8,185.2 787.0,201.4 790.2,189.0 793.4,200.6 796.6,186.2 799.8,199.9 803.0,184.8 806.2,199.2 809.4,189.0 812.6,201.5 815.8,185.5 819.0,199.9 822.2,188.5 825.4,203.1 828.6,185.8 831.8,201.4 835.0,185.7 838.2,202.2 841.4,187.7 844.6,202.5 847.8,188.1 851.0,202.2 854.2,187.7 857.4,201.7 860.6,188.1 863.8,202.1 867.0,189.7 870.2,203.1 873.4,187.7 876.6,198.9 879.8,186.2 883.0,199.5 886.2,187.7 889.4,201.5 892.6,189.4 895.8,199.0 899.0,188.5 902.2,201.8 905.4,188.2 908.6,201.2 911.8,189.1 915.0,203.1 918.2,185.4 921.4,202.6 924.6,188.7 927.8,200.4 931.0,190.3 934.2,199.7 937.4,185.7 940.6,200.3 943.8,187.3 947.0,200.6 950.2,185.7 953.4,202.1 956.6,188.6 959.8,199.8 963.0,188.5 966.2,199.2 969.4,187.6 972.6,199.3 975.8,188.0 979.0,199.4 982.2,190.3 985.4,199.6 988.6,188.4 991.8,200.4 995.0,187.9 998.2,200.5 1001.4,186.5 1004.6,202.3 1007.8,185.3 1011.0,200.2 1014.2,188.9 1017.4,202.9 1020.6,185.5 1023.8,199.2 1027.0,188.2 1030.2,200.6 1033.4,186.5 1036.6,198.6 1039.8,188.6 1043.0,201.7 1046.2,184.3 1049.4,200.3 1052.6,186.9 1055.8,200.7 1059.0,188.3 1062.2,197.3 1065.4,182.2 1068.6,194.6 1071.8,179.6 1075.0,192.5 1078.2,180.8 1081.4,192.6 1084.6,175.9 1087.8,189.8 1091.0,173.7 1094.2,184.5 1097.4,173.5 1100.6,182.5 1103.8,169.8 1107.0,181.7 1110.2,171.9 1113.4,184.4 1116.6,171.8 1119.8,186.4 1123.0,172.2 1126.2,186.3 1129.4,173.7 1132.6,190.1 1135.8,176.6 1139.0,195.7 1142.2,180.0 1145.4,197.1 1148.6,184.1 1151.8,196.6 1155.0,184.8 1158.2,194.6 1161.4,185.8 1164.6,198.3 1167.8,187.8 1171.0,199.4 1174.2,186.6 1177.4,197.9 1180.6,183.2 1183.8,196.9 1187.0,186.8 1190.2,199.1 1193.4,185.1 1196.6,199.0 1199.8,183.6 1203.0,196.5 1206.2,186.7 1209.4,197.1 1212.6,186.6 1215.8,198.4 1219.0,186.7 1222.2,196.7 1225.4,186.4 1228.6,196.2 1231.8,184.3 1235.0,198.8 1238.2,186.4 1241.4,197.6 1244.6,183.6 1247.8,196.4 1251.0,186.0 1254.2,198.1 1257.4,186.0 1260.6,196.9 1263.8,182.9 1267.0,197.3 1270.2,185.9 1273.4,194.3 1276.6,184.4 1279.8,196.3 1283.0,180.4 1286.2,194.8 1289.4,183.5 1292.6,195.2 1295.8,180.2 1299.0,193.6 1302.2,180.5 1305.4,190.1 1308.6,176.3 1311.8,188.9 1315.0,176.3 1318.2,186.3 1321.4,172.1 1324.6,185.9 1327.8,173.7 1331.0,184.2 1334.2,171.5 1337.4,187.4 1340.6,175.1 1343.8,187.2 1347.0,175.7 1350.2,189.5 1353.4,176.2 1356.6,190.4 1359.8,177.0 1363.0,193.0 1366.2,180.0 1369.4,192.3 1372.6,181.6 1375.8,197.6 1379.0,184.1 1382.2,194.6 1385.4,184.5 1388.6,195.3 1391.8,184.1 1395.0,197.4 1398.2,184.9 1401.4,197.5 1404.6,185.6 1407.8,198.4 1411.0,185.6 1414.2,202.6 1417.4,189.5 1420.6,201.3 1423.8,190.4 1427.0,199.0 1430.2,187.2 1433.4,203.2 1436.6,190.3 1439.8,200.8 1443.0,187.6 1446.2,203.1 1449.4,189.7 1452.6,202.0 1455.8,186.9 1459.0,200.8 1462.2,190.0 1465.4,203.1 1468.6,191.0 1471.8,203.7 1475.0,191.2 1478.2,204.2 1481.4,191.0 1484.6,200.3 1487.8,187.9 1491.0,201.6 1494.2,188.9 1497.4,203.8 1500.6,190.6 1503.8,203.9 1507.0,191.5 1510.2,203.6 1513.4,191.3 1516.6,201.0 1519.8,192.5 1523.0,202.9 1526.2,188.9 1529.4,201.8 1532.6,189.9 1535.8,204.1 1539.0,189.6 1542.2,205.2 1545.4,190.9 1548.6,200.9 1551.8,191.9 1555.0,202.8 1558.2,188.6 1561.4,203.4 1564.6,187.7 1567.8,202.1 1571.0,189.9 1574.2,200.8 1577.4,191.6 1580.6,201.1 1583.8,192.2 1587.0,203.4 1590.2,188.6 1593.4,205.2 1596.6,189.4 1599.8,203.0 1603.0,190.6 1606.2,202.1 1609.4,190.4 1612.6,205.3 1615.8,191.0 1619.0,204.9 1622.2,188.6 1625.4,205.6 1628.6,189.1 1631.8,203.1 1635.0,189.2 1638.2,202.3 1641.4,190.3 1644.6,200.8 1647.8,190.5 1651.0,205.9 1654.2,192.1 1657.4,203.7 1660.6,190.9 1663.8,201.9 1667.0,191.0 1670.2,201.6 1673.4,189.5 1676.6,203.6 1679.8,190.2 1683.0,200.3 1686.2,191.7 1689.4,200.8 1692.6,191.0 1695.8,204.7 1699.0,191.1 1702.2,201.0 1705.4,190.8 1708.6,200.5 1711.8,187.0 1715.0,200.4 1718.2,187.9 1721.4,201.3 1724.6,189.2 1727.8,205.2 1731.0,189.6 1734.2,203.8 1737.4,190.6 1740.6,202.5 1743.8,188.5 1747.0,200.8 1750.2,188.8 1753.4,200.4 1756.6,190.3 1759.8,201.6 1763.0,187.4 1766.2,200.3 1769.4,186.9 1772.6,201.4 1775.8,187.9 1779.0,200.8 1782.2,186.4 1785.4,201.9 1788.6,188.8 1791.8,200.0 1795.0,189.0 1798.2,201.3 1801.4,186.3 1804.6,199.5 1807.8,189.0 1811.0,199.3 1814.2,186.5 1817.4,202.4 1820.6,187.1 1823.8,200.4 1827.0,190.1 1830.2,203.3 1833.4,186.7 1836.6,199.5 1839.8,185.8 1843.0,199.8 1846.2,186.8 1849.4,201.5 1852.6,185.9 1855.8,199.4 1859.0,187.4 1862.2,202.7 1865.4,187.3 1868.6,199.6 1871.8,187.0 1875.0,199.4 1878.2,188.6 1881.4,199.6 1884.6,186.5 1887.8,202.1 1891.0,185.7 1894.2,198.0 1897.4,185.4 1900.6,198.4 1903.8,187.7 1907.0,200.0 1910.2,187.3 1913.4,203.3 1916.6,187.0 1919.8,201.9 1923.0,187.6 1926.2,198.1 1929.4,188.0 1932.6,198.3 1935.8,185.8 1939.0,201.4 1942.2,189.1 1945.4,202.2 1948.6,188.9 1951.8,199.5 1955.0,186.8 1958.2,200.6 1961.4,187.7 1964.6,199.9 1967.8,190.3 1971.0,200.7 1974.2,189.9 1977.4,200.1 1980.6,188.1 1983.8,200.0 1987.0,186.7 1990.2,203.3 1993.4,186.8 1996.6,200.3 1999.8,189.6 2003.0,201.5 2006.2,187.4 2009.4,202.8 2012.6,189.9 2015.8,201.6 2019.0,186.6 2022.2,200.0 2025.4,187.7 2028.6,203.1 2031.8,190.9 2035.0,200.8 2038.2,189.3 2041.4,201.4 2044.6,189.5 2047.8,199.8 2051.0,187.6 2054.2,202.7 2057.4,189.7 2060.6,204.1 2063.8,187.2 2067.0,204.4 2070.2,191.3 2073.4,201.3 2076.6,188.1 2079.8,203.2 2083.0,190.1 2086.2,203.1 2089.4,191.3 2092.6,201.9 2095.8,189.0 2099.0,201.6 2102.2,189.9 2105.4,200.0 2108.6,190.3 2111.8,203.0 2115.0,187.9 2118.2,201.7 2121.4,192.2 2124.6,201.4 2127.8,190.2 2131.0,202.5 2134.2,189.0 2137.4,204.6 2140.6,192.2 2143.8,201.2 2147.0,190.1 2150.2,204.9 2153.4,190.4 2156.6,200.2 2159.8,189.5 2163.0,204.7 2166.2,189.2 2169.4,200.6 2172.6,189.8 2175.8,203.1 2179.0,188.8 2182.2,200.5 2185.4,189.5 2188.6,201.2 2191.8,189.1 2195.0,205.2 2198.2,191.6 2201.4,202.2 2204.6,192.0 2207.8,202.9 2211.0,192.2 2214.2,202.3 2217.4,191.7 2220.6,202.2 2223.8,192.5 2227.0,203.1 2230.2,191.7 2233.4,201.9 2236.6,192.8 2239.8,203.1 2243.0,190.2 2246.2,204.7 2249.4,191.5 2252.6,202.5 2255.8,191.4 2259.0,204.0 2262.2,190.3 2265.4,204.0 2268.6,191.4 2271.8,202.3 2275.0,190.3 2278.2,203.5 2281.4,188.4 2284.6,200.8 2287.8,190.6 2291.0,204.5 2294.2,190.8 2297.4,203.9 2300.6,192.4 2303.8,203.9 2307.0,189.5 2310.2,205.5 2313.4,191.3 2316.6,200.4 2319.8,192.2 2323.0,205.1 2326.2,191.4 2329.4,203.6 2332.6,191.4 2335.8,201.6 2339.0,191.9 2342.2,202.4 2345.4,188.0 2348.6,203.3 2351.8,188.7 2355.0,204.3 2358.2,193.0 2361.4,205.4 2364.6,190.0 2367.8,205.1 2371.0,189.1 2374.2,202.6 2377.4,190.6 2380.6,205.1" stroke="#800000" class="fz"/>
<polyline points="178.0,193.0 179.2,192.7 180.5,194.2 181.8,192.9 183.0,194.2 184.2,192.9 185.5,194.3 186.8,192.8 188.0,194.1 189.2,192.5 190.5,194.2 191.8,192.7 193.0,194.2 194.2,192.8 195.5,194.1 196.8,192.7 198.0,194.3 199.2,193.1 200.5,194.5 201.8,192.9 203.0,194.3 204.2,193.0 205.5,194.6 206.8,193.0 208.0,194.3 209.2,192.7 210.5,193.8 211.8,192.4 213.0,194.1 214.2,192.9 215.5,194.6 216.8,193.2 218.0,194.6 219.2,193.2 220.5,194.6 221.8,193.3 223.0,194.8 224.2,193.3 225.5,194.6 226.8,192.8 228.0,194.3 229.2,193.0 230.5,194.6 231.8,193.1 233.0,194.5 234.2,193.2 235.5,194.6 236.8,193.2 238.0,194.5 239.2,193.3 240.5,194.7 241.8,193.3 243.0,194.9 244.2,193.3 245.5,194.7 246.8,193.4 248.0,195.1 249.2,193.8 250.5,195.1 251.8,193.3 253.0,194.7 254.2,193.2 255.5,194.7 256.8,193.3 258.0,194.6 259.2,193.0 260.5,194.4 261.8,193.2 263.0,194.5 264.2,193.2 265.5,194.8 266.8,193.6 268.0,195.3 269.2,194.0 270.5,195.5 271.8,193.9 273.0,195.2 274.2,193.9 275.5,195.5 276.8,194.3 278.0,196.1 279.2,194.6 280.5,195.9 281.8,194.4 283.0,195.6 284.2,194.3 285.5,195.6 286.8,194.1 288.0,195.6 289.2,194.3 290.5,195.9 291.8,194.4 293.0,195.9 294.2,194.3 295.5,195.5 296.8,193.7 298.0,194.9 299.2,193.6 300.5,195.5 301.8,194.6 303.0,196.4 304.2,195.1 305.5,196.3 306.8,194.5 308.0,195.8 309.2,194.3 310.5,195.8 311.8,194.3 313.0,195.6 314.2,194.0 315.5,195.3 316.8,193.7 318.0,195.2 319.2,194.1 320.5,195.9 321.8,195.0 323.0,196.6 324.2,195.0 325.5,196.1 326.8,194.5 328.0,195.9 329.2,194.4 330.5,195.6 331.8,194.2 333.0,195.8 334.2,194.7 335.5,196.8 336.8,195.7 338.0,197.1 339.2,195.7 340.5,197.0 341.8,195.4 343.0,196.7 344.2,195.0 345.5,196.3 346.8,194.8 348.0,196.3 349.2,195.0 350.5,196.7 351.8,195.5 353.0,196.7 354.2,195.1 355.5,196.5 356.8,195.2 358.0,196.7 359.2,195.1 360.5,196.3 361.8,194.7 363.0,196.2 364.2,194.7 365.5,196.4 366.8,194.9 368.0,196.4 369.2,195.1 370.5,196.7 371.8,195.7 373.0,197.4 374.2,196.2 375.5,197.6 376.8,196.1 378.0,197.1 379.2,195.0 380.5,196.1 381.8,194.7 383.0,196.3 384.2,195.5 385.5,197.5 386.8,196.2 388.0,197.6 389.2,196.0 390.5,197.7 391.8,196.3 393.0,197.8 394.2,196.3 395.5,197.5 396.8,195.6 398.0,196.6 399.2,195.1 400.5,196.4 401.8,195.2 403.0,196.9 404.2,195.5 405.5,197.1 406.8,195.8 408.0,197.2 409.2,195.8 410.5,197.2 411.8,195.8 413.0,197.3 414.2,195.7 415.5,197.3 416.8,195.9 418.0,197.5 419.2,196.2 420.5,197.7 421.8,196.4 423.0,197.7 424.2,196.0 425.5,197.2 426.8,195.5 428.0,196.8 429.2,195.5 430.5,197.0 431.8,195.6 433.0,197.3 434.2,196.0 435.5,197.5 436.8,196.1 438.0,197.5 439.2,196.4 440.5,198.0 441.8,196.9 443.0,198.3 444.2,196.6 445.5,197.9 446.8,196.3 448.0,198.0 449.2,196.3 450.5,197.7 451.8,196.1 453.0,197.7 454.2,196.4 455.5,197.9 456.8,196.5 458.0,197.6 459.2,196.0 460.5,197.4 461.8,195.9 463.0,197.4 464.2,196.1 465.5,197.5 466.8,196.1 468.0,197.2 469.2,195.6 470.5,196.7 471.8,195.5 473.0,197.0 474.2,196.0 475.5,197.7 476.8,196.5 478.0,198.1 479.2,196.6 480.5,197.7 481.8,196.2 483.0,197.4 484.2,195.9 485.5,197.3 486.8,196.1 488.0,197.7 489.2,196.4 490.5,198.1 491.8,196.8 493.0,198.4 494.2,197.1 495.5,198.4 496.8,197.0 498.0,198.1 499.2,196.5 500.5,197.9 501.8,196.3 503.0,197.8 504.2,196.3 505.5,197.6 506.8,196.0 508.0,197.1 509.2,195.8 510.5,197.3 511.8,196.3 513.0,198.0 514.2,196.9 515.5,198.5 516.8,196.8 518.0,198.1 519.2,196.3 520.5,197.6 521.8,196.1 523.0,197.6 524.2,196.2 525.5,197.7 526.8,196.0 528.0,197.4 529.2,195.8 530.5,197.3 531.8,195.8 533.0,197.2 534.2,195.8 535.5,197.2 536.8,195.7 538.0,197.3 539.2,196.0 540.5,197.6 541.8,195.8 543.0,196.7 544.2,194.6 545.5,195.6 546.8,193.8 548.0,195.0 549.2,193.5 550.5,194.6 551.8,192.7 553.0,193.6 554.2,191.5 555.5,192.4 556.8,190.2 558.0,190.9 559.2,188.8 560.5,190.0 561.8,188.0 563.0,189.0 564.2,186.9 565.5,187.8 566.8,185.7 568.0,186.6 569.2,184.5 570.5,185.1 571.8,183.0 573.0,184.0 574.2,181.9 575.5,182.9 576.8,181.0 578.0,182.0 579.2,180.4 580.5,181.3 581.8,179.0 583.0,179.5 584.2,177.3 585.5,178.0 586.8,176.2 588.0,177.3 589.2,175.5 590.5,176.5 591.8,174.6 593.0,175.7 594.2,174.1 595.5,175.1 596.8,173.1 598.0,173.8 599.2,171.8 600.5,172.8 601.8,170.7 603.0,171.8 604.2,169.6 605.5,170.3 606.8,168.1 608.0,168.7 609.2,166.7 610.5,167.4 611.8,165.3 613.0,165.6 614.2,162.9 615.5,162.9 616.8,160.3 618.0,160.9 619.2,158.5 620.5,158.6 621.8,155.5 623.0,155.5 624.2,153.0 625.5,153.6 626.8,151.2 628.0,151.5 629.2,148.8 630.5,148.6 631.8,145.5 633.0,145.7 634.2,143.4 635.5,145.1 636.8,144.7 638.0,147.4 639.2,147.6 640.5,150.4 641.8,150.0 643.0,152.5 644.2,152.1 645.5,154.9 646.8,154.5 648.0,156.7 649.2,156.2 650.5,158.3 651.8,157.7 653.0,159.8 654.2,159.4 655.5,161.8 656.8,161.0 658.0,162.9 659.2,161.8 660.5,163.5 661.8,162.2 663.0,163.9 664.2,162.8 665.5,164.6 666.8,164.1 668.0,166.4 669.2,166.0 670.5,168.4 671.8,167.6 673.0,169.4 674.2,168.1 675.5,169.8 676.8,168.7 678.0,170.4 679.2,169.6 680.5,171.5 681.8,170.9 683.0,172.9 684.2,171.8 685.5,173.8 686.8,172.6 688.0,174.7 689.2,173.9 690.5,175.9 691.8,175.0 693.0,177.2 694.2,176.5 695.5,178.9 696.8,178.0 698.0,180.0 699.2,178.8 700.5,180.3 701.8,179.1 703.0,180.5 704.2,179.1 705.5,180.7 706.8,179.7 708.0,181.7 709.2,180.8 710.5,182.3 711.8,181.0 713.0,182.4 714.2,181.5 715.5,183.3 716.8,182.3 718.0,184.1 719.2,183.0 720.5,184.7 721.8,183.5 723.0,185.3 724.2,184.0 725.5,185.3 726.8,184.0 728.0,185.8 729.2,184.7 730.5,186.5 731.8,185.5 733.0,187.0 734.2,185.7 735.5,187.2 736.8,186.0 738.0,187.7 739.2,186.8 740.5,188.8 741.8,187.8 743.0,189.5 744.2,188.1 745.5,189.4 746.8,187.9 748.0,189.7 749.2,188.9 750.5,190.7 751.8,189.8 753.0,191.4 754.2,190.2 755.5,191.6 756.8,190.3 758.0,191.9 759.2,190.4 760.5,191.9 761.8,190.4 763.0,192.0 764.2,190.8 765.5,192.3 766.8,191.3 768.0,193.1 769.2,191.7 770.5,193.1 771.8,191.4 773.0,192.8 774.2,191.4 775.5,192.9 776.8,191.9 778.0,193.4 779.2,191.8 780.5,193.3 781.8,191.9 783.0,193.5 784.2,192.2 785.5,193.6 786.8,192.2 788.0,193.7 789.2,192.3 790.5,193.9 791.8,192.6 793.0,194.1 794.2,192.6 795.5,193.8 796.8,192.2 798.0,193.5 799.2,192.1 800.5,193.4 801.8,191.9 803.0,193.4 804.2,192.2 805.5,193.9 806.8,192.7 808.0,194.5 809.2,193.3 810.5,195.0 811.8,193.6 813.0,195.0 814.2,193.4 815.5,194.7 816.8,193.4 818.0,194.7 819.2,193.2 820.5,194.6 821.8,193.1 823.0,194.6 824.2,193.5 825.5,195.2 826.8,193.8 828.0,195.3 829.2,193.6 830.5,195.1 831.8,193.6 833.0,194.9 834.2,193.3 835.5,194.8 836.8,193.5 838.0,195.3 839.2,194.2 840.5,195.7 841.8,194.4 843.0,195.7 844.2,194.3 845.5,195.6 846.8,194.3 848.0,195.8 849.2,194.2 850.5,195.5 851.8,193.6 853.0,194.9 854.2,193.5 855.5,194.9 856.8,193.6 858.0,194.8 859.2,193.5 860.5,195.1 861.8,193.8 863.0,195.4 864.2,193.9 865.5,195.5 866.8,194.1 868.0,195.5 869.2,194.0 870.5,195.2 871.8,193.4 873.0,194.9 874.2,193.6 875.5,195.2 876.8,193.7 878.0,195.0 879.2,193.3 880.5,194.8 881.8,193.7 883.0,195.1 884.2,193.7 885.5,195.5 886.8,194.4 888.0,196.1 889.2,194.7 890.5,195.9 891.8,194.1 893.0,195.1 894.2,193.4 895.5,195.2 896.8,194.0 898.0,196.0 899.2,194.8 900.5,196.1 901.8,194.6 903.0,195.7 904.2,194.0 905.5,195.3 906.8,194.0 908.0,195.7 909.2,194.5 910.5,196.1 911.8,194.4 913.0,195.4 914.2,193.8 915.5,195.0 916.8,193.5 918.0,194.9 919.2,193.5 920.5,195.0 921.8,193.6 923.0,195.3 924.2,193.9 925.5,195.3 926.8,193.6 928.0,194.6 929.2,193.2 930.5,195.1 931.8,194.1 933.0,195.6 934.2,194.1 935.5,195.0 936.8,193.2 938.0,194.7 939.2,193.6 940.5,195.5 941.8,194.6 943.0,196.1 944.2,194.7 945.5,195.7 946.8,193.8 948.0,195.0 949.2,193.4 950.5,195.1 951.8,194.0 953.0,195.5 954.2,194.2 955.5,195.9 956.8,194.7 958.0,196.2 959.2,194.6 960.5,195.8 961.8,194.1 963.0,195.2 964.2,193.2 965.5,194.7 966.8,193.2 968.0,194.7 969.2,193.7 970.5,195.1 971.8,193.8 973.0,195.3 974.2,194.2 975.5,195.4 976.8,193.9 978.0,195.1 979.2,193.4 980.5,195.0 981.8,193.8 983.0,195.8 984.2,194.5 985.5,196.1 986.8,194.6 988.0,195.6 989.2,194.0 990.5,195.5 991.8,193.9 993.0,195.6 994.2,194.3 995.5,195.7 996.8,194.1 998.0,195.3 999.2,193.7 1000.5,195.0 1001.8,193.3 1003.0,194.9 1004.2,193.2 1005.5,194.6 1006.8,192.9 1008.0,194.4 1009.2,193.0 1010.5,194.7 1011.8,193.6 1013.0,195.1 1014.2,193.7 1015.5,195.2 1016.8,193.5 1018.0,194.8 1019.2,193.3 1020.5,194.8 1021.8,193.3 1023.0,195.1 1024.2,193.8 1025.5,195.0 1026.8,193.6 1028.0,194.9 1029.2,193.4 1030.5,195.2 1031.8,193.6 1033.0,195.2 1034.2,193.6 1035.5,194.8 1036.8,193.0 1038.0,194.3 1039.2,192.7 1040.5,194.1 1041.8,192.9 1043.0,194.3 1044.2,192.5 1045.5,193.8 1046.8,192.2 1048.0,193.6 1049.2,191.9 1050.5,193.2 1051.8,191.6 1053.0,193.0 1054.2,191.6 1055.5,193.1 1056.8,192.0 1058.0,193.5 1059.2,191.9 1060.5,193.2 1061.8,191.5 1063.0,192.3 1064.2,190.4 1065.5,191.0 1066.8,189.1 1068.0,190.0 1069.2,188.0 1070.5,189.3 1071.8,187.6 1073.0,188.7 1074.2,187.3 1075.5,188.5 1076.8,186.7 1078.0,187.7 1079.2,185.8 1080.5,186.4 1081.8,184.3 1083.0,185.4 1084.2,183.9 1085.5,185.0 1086.8,183.1 1088.0,183.9 1089.2,181.7 1090.5,182.5 1091.8,180.3 1093.0,181.3 1094.2,179.3 1095.5,180.3 1096.8,178.5 1098.0,179.6 1099.2,177.8 1100.5,178.9 1101.8,177.1 1103.0,178.1 1104.2,176.4 1105.5,177.7 1106.8,176.2 1108.0,177.5 1109.2,175.6 1110.5,176.9 1111.8,175.3 1113.0,176.8 1114.2,175.7 1115.5,177.3 1116.8,176.4 1118.0,178.5 1119.2,177.5 1120.5,179.3 1121.8,178.0 1123.0,179.7 1124.2,178.5 1125.5,180.3 1126.8,179.5 1128.0,181.4 1129.2,180.7 1130.5,182.9 1131.8,182.3 1133.0,184.2 1134.2,183.3 1135.5,185.5 1136.8,184.7 1138.0,187.3 1139.2,186.4 1140.5,188.5 1141.8,187.4 1143.0,189.0 1144.2,188.0 1145.5,189.6 1146.8,188.6 1148.0,190.6 1149.2,189.7 1150.5,191.7 1151.8,190.8 1153.0,192.2 1154.2,190.4 1155.5,191.4 1156.8,189.7 1158.0,191.1 1159.2,189.6 1160.5,191.2 1161.8,190.3 1163.0,192.1 1164.2,191.2 1165.5,193.1 1166.8,191.6 1168.0,193.1 1169.2,191.4 1170.5,192.5 1171.8,191.0 1173.0,192.0 1174.2,190.4 1175.5,191.3 1176.8,189.6 1178.0,191.2 1179.2,190.0 1180.5,191.6 1181.8,190.4 1183.0,192.0 1184.2,190.5 1185.5,192.0 1186.8,190.8 1188.0,192.6 1189.2,191.8 1190.5,193.1 1191.8,191.4 1193.0,192.4 1194.2,190.6 1195.5,191.9 1196.8,190.3 1198.0,191.7 1199.2,190.1 1200.5,191.4 1201.8,189.8 1203.0,191.1 1204.2,189.8 1205.5,191.5 1206.8,190.3 1208.0,192.0 1209.2,190.8 1210.5,192.0 1211.8,190.5 1213.0,191.9 1214.2,190.4 1215.5,191.8 1216.8,190.4 1218.0,192.0 1219.2,190.8 1220.5,192.3 1221.8,191.3 1223.0,192.9 1224.2,191.4 1225.5,192.8 1226.8,191.3 1228.0,192.6 1229.2,190.8 1230.5,192.3 1231.8,190.6 1233.0,192.0 1234.2,190.6 1235.5,192.3 1236.8,191.0 1238.0,192.5 1239.2,190.8 1240.5,191.9 1241.8,190.4 1243.0,191.7 1244.2,190.2 1245.5,191.5 1246.8,189.7 1248.0,191.3 1249.2,189.7 1250.5,191.2 1251.8,189.9 1253.0,191.6 1254.2,190.3 1255.5,192.0 1256.8,190.8 1258.0,192.2 1259.2,190.7 1260.5,191.8 1261.8,190.1 1263.0,191.2 1264.2,189.9 1265.5,191.5 1266.8,190.3 1268.0,192.0 1269.2,190.4 1270.5,191.6 1271.8,189.8 1273.0,190.7 1274.2,189.2 1275.5,190.4 1276.8,188.9 1278.0,190.2 1279.2,188.7 1280.5,189.8 1281.8,188.0 1283.0,189.3 1284.2,187.9 1285.5,189.7 1286.8,188.5 1288.0,189.9 1289.2,188.0 1290.5,188.7 1291.8,186.8 1293.0,187.8 1294.2,186.2 1295.5,187.3 1296.8,185.5 1298.0,186.7 1299.2,185.0 1300.5,186.1 1301.8,184.2 1303.0,185.4 1304.2,183.8 1305.5,185.0 1306.8,183.5 1308.0,184.5 1309.2,182.5 1310.5,183.7 1311.8,181.8 1313.0,182.7 1314.2,180.9 1315.5,182.0 1316.8,180.4 1318.0,181.6 1319.2,179.8 1320.5,181.0 1321.8,179.4 1323.0,180.8 1324.2,179.2 1325.5,180.4 1326.8,178.8 1328.0,179.9 1329.2,178.2 1330.5,179.4 1331.8,177.6 1333.0,179.1 1334.2,178.1 1335.5,180.0 1336.8,178.6 1338.0,179.9 1339.2,178.5 1340.5,179.9 1341.8,178.8 1343.0,180.6 1344.2,179.5 1345.5,181.3 1346.8,180.1 1348.0,181.9 1349.2,180.7 1350.5,182.3 1351.8,181.5 1353.0,183.4 1354.2,182.6 1355.5,184.3 1356.8,183.3 1358.0,185.1 1359.2,183.9 1360.5,185.7 1361.8,184.5 1363.0,186.0 1364.2,184.9 1365.5,186.7 1366.8,185.5 1368.0,187.7 1369.2,186.8 1370.5,188.6 1371.8,187.7 1373.0,189.3 1374.2,188.2 1375.5,189.8 1376.8,188.8 1378.0,190.5 1379.2,189.5 1380.5,190.9 1381.8,189.3 1383.0,190.5 1384.2,189.2 1385.5,190.7 1386.8,189.8 1388.0,191.5 1389.2,190.4 1390.5,191.9 1391.8,190.8 1393.0,192.5 1394.2,191.5 1395.5,193.2 1396.8,191.6 1398.0,193.1 1399.2,191.7 1400.5,193.3 1401.8,192.0 1403.0,193.5 1404.2,192.3 1405.5,193.7 1406.8,192.6 1408.0,194.1 1409.2,192.9 1410.5,194.6 1411.8,193.2 1413.0,194.9 1414.2,193.6 1415.5,195.2 1416.8,193.9 1418.0,195.6 1419.2,194.0 1420.5,195.5 1421.8,193.9 1423.0,195.3 1424.2,193.7 1425.5,195.3 1426.8,194.1 1428.0,195.8 1429.2,194.6 1430.5,196.4 1431.8,194.8 1433.0,196.2 1434.2,194.6 1435.5,196.0 1436.8,194.8 1438.0,196.0 1439.2,194.4 1440.5,195.4 1441.8,194.1 1443.0,195.8 1444.2,194.8 1445.5,196.5 1446.8,195.1 1448.0,196.5 1449.2,194.6 1450.5,196.0 1451.8,194.4 1453.0,196.0 1454.2,194.7 1455.5,196.3 1456.8,195.0 1458.0,196.3 1459.2,194.9 1460.5,196.2 1461.8,194.9 1463.0,196.4 1464.2,195.4 1465.5,197.1 1466.8,195.9 1468.0,197.7 1469.2,196.2 1470.5,197.7 1471.8,196.1 1473.0,197.1 1474.2,195.3 1475.5,196.7 1476.8,195.1 1478.0,196.7 1479.2,195.3 1480.5,196.8 1481.8,195.2 1483.0,196.8 1484.2,195.5 1485.5,197.0 1486.8,195.7 1488.0,197.2 1489.2,196.0 1490.5,197.4 1491.8,196.3 1493.0,197.7 1494.2,196.3 1495.5,197.8 1496.8,196.0 1498.0,197.4 1499.2,195.9 1500.5,197.3 1501.8,195.9 1503.0,197.3 1504.2,195.9 1505.5,197.4 1506.8,196.1 1508.0,197.7 1509.2,196.1 1510.5,197.2 1511.8,195.7 1513.0,197.1 1514.2,195.7 1515.5,197.2 1516.8,195.8 1518.0,197.4 1519.2,196.0 1520.5,197.4 1521.8,195.8 1523.0,196.9 1524.2,195.5 1525.5,197.0 1526.8,195.6 1528.0,197.2 1529.2,195.8 1530.5,197.1 1531.8,195.6 1533.0,197.1 1534.2,195.3 1535.5,196.8 1536.8,195.4 1538.0,196.9 1539.2,195.7 1540.5,197.2 1541.8,195.9 1543.0,197.4 1544.2,195.8 1545.5,196.9 1546.8,195.3 1548.0,196.7 1549.2,195.6 1550.5,197.6 1551.8,196.6 1553.0,198.1 1554.2,196.6 1555.5,197.8 1556.8,196.2 1558.0,197.6 1559.2,196.3 1560.5,197.5 1561.8,195.7 1563.0,196.9 1564.2,195.5 1565.5,196.9 1566.8,195.6 1568.0,197.1 1569.2,195.5 1570.5,196.8 1571.8,195.2 1573.0,196.9 1574.2,195.6 1575.5,197.3 1576.8,195.9 1578.0,197.5 1579.2,196.2 1580.5,197.5 1581.8,196.0 1583.0,197.0 1584.2,195.5 1585.5,197.0 1586.8,196.0 1588.0,197.7 1589.2,196.5 1590.5,197.9 1591.8,196.4 1593.0,197.7 1594.2,196.4 1595.5,197.8 1596.8,196.3 1598.0,197.8 1599.2,196.1 1600.5,197.6 1601.8,196.2 1603.0,197.5 1604.2,195.9 1605.5,197.4 1606.8,196.0 1608.0,197.4 1609.2,195.9 1610.5,197.5 1611.8,196.1 1613.0,197.3 1614.2,195.7 1615.5,197.2 1616.8,195.7 1618.0,197.4 1619.2,196.0 1620.5,197.4 1621.8,196.1 1623.0,197.7 1624.2,196.4 1625.5,197.7 1626.8,196.3 1628.0,197.6 1629.2,196.1 1630.5,197.3 1631.8,195.9 1633.0,197.4 1634.2,196.2 1635.5,198.0 1636.8,196.9 1638.0,198.4 1639.2,196.7 1640.5,197.6 1641.8,195.7 1643.0,196.8 1644.2,195.4 1645.5,196.9 1646.8,195.8 1648.0,197.4 1649.2,196.3 1650.5,197.9 1651.8,196.6 1653.0,198.2 1654.2,196.4 1655.5,197.6 1656.8,195.8 1658.0,197.2 1659.2,195.9 1660.5,197.8 1661.8,196.5 1663.0,198.0 1664.2,196.5 1665.5,197.6 1666.8,195.8 1668.0,197.0 1669.2,195.4 1670.5,196.9 1671.8,195.6 1673.0,197.0 1674.2,195.7 1675.5,197.1 1676.8,195.7 1678.0,197.3 1679.2,196.0 1680.5,197.2 1681.8,195.7 1683.0,196.8 1684.2,195.2 1685.5,196.8 1686.8,195.6 1688.0,197.2 1689.2,195.9 1690.5,197.4 1691.8,195.9 1693.0,197.1 1694.2,195.6 1695.5,197.1 1696.8,195.9 1698.0,197.7 1699.2,196.1 1700.5,197.2 1701.8,195.5 1703.0,196.9 1704.2,195.7 1705.5,197.3 1706.8,195.8 1708.0,197.1 1709.2,195.3 1710.5,196.5 1711.8,195.1 1713.0,196.5 1714.2,195.2 1715.5,196.7 1716.8,195.0 1718.0,196.6 1719.2,195.3 1720.5,196.8 1721.8,195.4 1723.0,196.7 1724.2,195.5 1725.5,197.1 1726.8,196.1 1728.0,197.5 1729.2,196.0 1730.5,197.2 1731.8,195.8 1733.0,197.0 1734.2,195.2 1735.5,196.3 1736.8,194.5 1738.0,196.0 1739.2,195.0 1740.5,196.9 1741.8,195.8 1743.0,197.4 1744.2,195.8 1745.5,197.2 1746.8,195.3 1748.0,196.6 1749.2,195.1 1750.5,196.3 1751.8,194.8 1753.0,196.2 1754.2,194.9 1755.5,196.5 1756.8,194.9 1758.0,196.1 1759.2,194.6 1760.5,196.0 1761.8,194.7 1763.0,196.1 1764.2,194.5 1765.5,195.8 1766.8,194.5 1768.0,196.1 1769.2,194.6 1770.5,195.6 1771.8,194.1 1773.0,195.5 1774.2,194.4 1775.5,196.3 1776.8,195.3 1778.0,196.7 1779.2,195.0 1780.5,196.3 1781.8,194.4 1783.0,195.6 1784.2,194.0 1785.5,195.1 1786.8,193.6 1788.0,195.3 1789.2,194.5 1790.5,196.3 1791.8,195.2 1793.0,196.4 1794.2,194.8 1795.5,196.0 1796.8,194.5 1798.0,196.0 1799.2,194.6 1800.5,195.8 1801.8,194.2 1803.0,195.8 1804.2,194.5 1805.5,195.8 1806.8,194.1 1808.0,195.3 1809.2,193.6 1810.5,194.8 1811.8,193.2 1813.0,194.4 1814.2,192.9 1815.5,194.4 1816.8,193.3 1818.0,194.9 1819.2,193.5 1820.5,195.1 1821.8,193.6 1823.0,194.9 1824.2,193.3 1825.5,194.7 1826.8,193.5 1828.0,195.2 1829.2,194.0 1830.5,195.5 1831.8,193.8 1833.0,195.0 1834.2,193.8 1835.5,195.3 1836.8,193.9 1838.0,195.0 1839.2,193.1 1840.5,194.4 1841.8,193.1 1843.0,194.7 1844.2,193.3 1845.5,194.9 1846.8,193.3 1848.0,194.8 1849.2,193.3 1850.5,194.7 1851.8,193.1 1853.0,194.5 1854.2,192.9 1855.5,194.3 1856.8,192.7 1858.0,193.9 1859.2,192.6 1860.5,194.4 1861.8,193.5 1863.0,195.1 1864.2,193.7 1865.5,195.0 1866.8,193.4 1868.0,194.9 1869.2,193.8 1870.5,195.3 1871.8,193.9 1873.0,195.2 1874.2,193.7 1875.5,195.2 1876.8,193.8 1878.0,195.1 1879.2,193.4 1880.5,194.5 1881.8,192.7 1883.0,193.9 1884.2,192.7 1885.5,194.5 1886.8,193.4 1888.0,195.3 1889.2,193.9 1890.5,195.1 1891.8,193.6 1893.0,194.7 1894.2,193.2 1895.5,194.5 1896.8,192.9 1898.0,194.6 1899.2,193.2 1900.5,194.9 1901.8,193.5 1903.0,194.9 1904.2,193.4 1905.5,194.8 1906.8,193.3 1908.0,194.8 1909.2,193.6 1910.5,194.9 1911.8,193.7 1913.0,195.4 1914.2,194.0 1915.5,195.6 1916.8,194.1 1918.0,195.3 1919.2,193.7 1920.5,195.0 1921.8,193.5 1923.0,194.8 1924.2,193.4 1925.5,194.8 1926.8,193.2 1928.0,194.8 1929.2,193.7 1930.5,195.1 1931.8,193.7 1933.0,194.8 1934.2,193.1 1935.5,194.4 1936.8,193.1 1938.0,194.9 1939.2,194.0 1940.5,195.8 1941.8,194.6 1943.0,196.0 1944.2,194.3 1945.5,195.2 1946.8,193.6 1948.0,195.2 1949.2,194.0 1950.5,195.7 1951.8,193.9 1953.0,195.1 1954.2,193.3 1955.5,194.9 1956.8,193.5 1958.0,195.1 1959.2,193.7 1960.5,195.2 1961.8,193.7 1963.0,195.2 1964.2,194.0 1965.5,195.6 1966.8,194.2 1968.0,195.4 1969.2,193.6 1970.5,194.9 1971.8,193.4 1973.0,195.2 1974.2,193.7 1975.5,195.2 1976.8,193.7 1978.0,195.3 1979.2,193.8 1980.5,195.3 1981.8,193.9 1983.0,195.6 1984.2,194.4 1985.5,195.6 1986.8,194.1 1988.0,195.4 1989.2,194.0 1990.5,195.6 1991.8,194.4 1993.0,196.1 1994.2,194.7 1995.5,195.9 1996.8,194.2 1998.0,195.2 1999.2,193.9 2000.5,195.8 2001.8,194.8 2003.0,196.2 2004.2,194.7 2005.5,196.0 2006.8,194.4 2008.0,195.8 2009.2,194.4 2010.5,195.8 2011.8,194.4 2013.0,195.7 2014.2,194.2 2015.5,195.8 2016.8,194.4 2018.0,195.8 2019.2,194.2 2020.5,195.5 2021.8,193.9 2023.0,195.6 2024.2,194.3 2025.5,196.0 2026.8,194.5 2028.0,196.1 2029.2,195.2 2030.5,196.8 2031.8,195.4 2033.0,196.8 2034.2,195.0 2035.5,196.2 2036.8,194.8 2038.0,196.1 2039.2,194.7 2040.5,196.1 2041.8,194.8 2043.0,196.1 2044.2,194.9 2045.5,196.2 2046.8,194.7 2048.0,196.2 2049.2,194.7 2050.5,196.4 2051.8,195.3 2053.0,197.0 2054.2,195.5 2055.5,196.9 2056.8,195.2 2058.0,196.6 2059.2,195.1 2060.5,196.1 2061.8,194.6 2063.0,195.9 2064.2,194.5 2065.5,196.2 2066.8,195.1 2068.0,196.6 2069.2,195.2 2070.5,196.6 2071.8,195.0 2073.0,196.5 2074.2,195.3 2075.5,196.8 2076.8,195.5 2078.0,196.7 2079.2,195.2 2080.5,196.8 2081.8,195.2 2083.0,196.6 2084.2,195.2 2085.5,196.7 2086.8,195.3 2088.0,196.7 2089.2,195.2 2090.5,196.5 2091.8,194.9 2093.0,196.2 2094.2,194.7 2095.5,196.1 2096.8,194.6 2098.0,196.2 2099.2,194.6 2100.5,195.9 2101.8,194.5 2103.0,196.1 2104.2,195.0 2105.5,196.6 2106.8,195.1 2108.0,196.5 2109.2,194.9 2110.5,196.2 2111.8,194.7 2113.0,196.1 2114.2,194.8 2115.5,196.3 2116.8,195.3 2118.0,197.1 2119.2,195.8 2120.5,197.4 2121.8,195.8 2123.0,197.3 2124.2,196.1 2125.5,197.4 2126.8,196.0 2128.0,197.1 2129.2,195.5 2130.5,197.0 2131.8,195.8 2133.0,197.4 2134.2,196.0 2135.5,197.2 2136.8,195.8 2138.0,197.4 2139.2,196.0 2140.5,197.2 2141.8,195.6 2143.0,196.6 2144.2,195.2 2145.5,196.8 2146.8,195.6 2148.0,197.1 2149.2,195.6 2150.5,197.1 2151.8,195.4 2153.0,196.9 2154.2,195.2 2155.5,196.8 2156.8,195.3 2158.0,196.7 2159.2,195.1 2160.5,196.6 2161.8,195.4 2163.0,197.0 2164.2,195.8 2165.5,197.3 2166.8,195.8 2168.0,197.1 2169.2,195.3 2170.5,196.5 2171.8,194.9 2173.0,196.5 2174.2,195.6 2175.5,197.1 2176.8,195.7 2178.0,196.9 2179.2,195.1 2180.5,196.8 2181.8,195.5 2183.0,197.4 2184.2,196.0 2185.5,197.6 2186.8,196.0 2188.0,197.5 2189.2,196.0 2190.5,197.2 2191.8,195.8 2193.0,197.4 2194.2,196.2 2195.5,197.6 2196.8,196.2 2198.0,197.5 2199.2,195.8 2200.5,196.7 2201.8,195.2 2203.0,196.6 2204.2,195.5 2205.5,197.0 2206.8,195.6 2208.0,197.1 2209.2,195.5 2210.5,197.0 2211.8,195.9 2213.0,197.6 2214.2,196.2 2215.5,197.5 2216.8,195.8 2218.0,197.1 2219.2,195.9 2220.5,197.2 2221.8,195.8 2223.0,197.3 2224.2,195.9 2225.5,197.3 2226.8,196.0 2228.0,197.7 2229.2,196.3 2230.5,197.7 2231.8,196.3 2233.0,197.8 2234.2,196.4 2235.5,198.1 2236.8,196.6 2238.0,197.9 2239.2,196.6 2240.5,197.9 2241.8,196.3 2243.0,197.6 2244.2,196.1 2245.5,197.2 2246.8,195.7 2248.0,197.2 2249.2,196.2 2250.5,198.0 2251.8,196.8 2253.0,198.2 2254.2,196.8 2255.5,198.0 2256.8,196.5 2258.0,197.9 2259.2,196.2 2260.5,197.6 2261.8,196.2 2263.0,197.5 2264.2,195.8 2265.5,197.1 2266.8,195.6 2268.0,197.1 2269.2,195.7 2270.5,197.2 2271.8,196.0 2273.0,197.5 2274.2,196.2 2275.5,197.5 2276.8,196.1 2278.0,197.8 2279.2,196.1 2280.5,197.3 2281.8,195.7 2283.0,197.1 2284.2,195.8 2285.5,197.4 2286.8,196.1 2288.0,197.6 2289.2,196.1 2290.5,197.5 2291.8,196.2 2293.0,197.6 2294.2,196.3 2295.5,197.7 2296.8,196.5 2298.0,197.8 2299.2,196.5 2300.5,198.0 2301.8,196.4 2303.0,197.9 2304.2,196.4 2305.5,197.8 2306.8,196.6 2308.0,197.9 2309.2,196.5 2310.5,197.9 2311.8,196.4 2313.0,197.5 2314.2,196.0 2315.5,197.1 2316.8,195.6 2318.0,197.2 2319.2,196.3 2320.5,198.1 2321.8,196.6 2323.0,197.8 2324.2,196.3 2325.5,197.9 2326.8,196.6 2328.0,197.9 2329.2,196.1 2330.5,197.5 2331.8,196.4 2333.0,197.7 2334.2,196.2 2335.5,197.5 2336.8,196.1 2338.0,197.7 2339.2,196.3 2340.5,197.9 2341.8,196.1 2343.0,197.4 2344.2,195.9 2345.5,197.4 2346.8,195.9 2348.0,197.4 2349.2,196.1 2350.5,197.7 2351.8,196.5 2353.0,198.1 2354.2,196.5 2355.5,197.9 2356.8,196.3 2358.0,197.8 2359.2,196.4 2360.5,198.0 2361.8,196.5 2363.0,197.8 2364.2,196.3 2365.5,197.9 2366.8,196.3 2368.0,197.7 2369.2,196.2 2370.5,197.6 2371.8,196.3 2373.0,197.7 2374.2,196.3 2375.5,197.7 2376.8,196.4 2378.0,198.0 2379.2,196.6 2380.5,197.8 2381.8,196.4 2383.0,197.8 2383.5,197.0" stroke="#800000"/>
</g>
<g font-size="101"><text transform="translate(178.2 1929.6) scale(1 1.05)" text-anchor="middle">10</text><text transform="translate(453.5 1929.6) scale(1 1.05)" text-anchor="middle">20</text><text transform="translate(728.8 1929.6) scale(1 1.05)" text-anchor="middle">30</text><text transform="translate(1004.1 1929.6) scale(1 1.05)" text-anchor="middle">40</text><text transform="translate(1279.4 1929.6) scale(1 1.05)" text-anchor="middle">50</text><text transform="translate(1554.7 1929.6) scale(1 1.05)" text-anchor="middle">60</text><text transform="translate(1830.0 1929.6) scale(1 1.05)" text-anchor="middle">70</text><text transform="translate(2105.3 1929.6) scale(1 1.05)" text-anchor="middle">80</text><text transform="translate(2380.6 1929.6) scale(1 1.05)" text-anchor="middle">90</text></g>
<text x="914.8" y="2026" font-size="104.8">2 Theta (degree)</text>
<text transform="translate(94 1147.8) rotate(-90)" font-size="106">Intensity (a.u.)</text>
<g font-size="80"><text transform="translate(2299.8 158.1) scale(1.05 1.015)" text-anchor="middle">(h)</text><text transform="translate(2301.3 390.5) scale(1.05 1.015)" text-anchor="middle">(g)</text><text transform="translate(2312.2 548.3) scale(1.05 1.015)" text-anchor="middle">(f)</text><text transform="translate(2312.2 779.1) scale(1.05 1.015)" text-anchor="middle">(e)</text><text transform="translate(2306.5 1018.7) scale(1.05 1.015)" text-anchor="middle">(d)</text><text transform="translate(2307.2 1252.8) scale(1.05 1.015)" text-anchor="middle">(c)</text><text transform="translate(2306.4 1459.6) scale(1.05 1.015)" text-anchor="middle">(b)</text><text transform="translate(2304.7 1674.7) scale(1.05 1.015)" text-anchor="middle">(a)</text></g>
</g>
</svg></body></html>
